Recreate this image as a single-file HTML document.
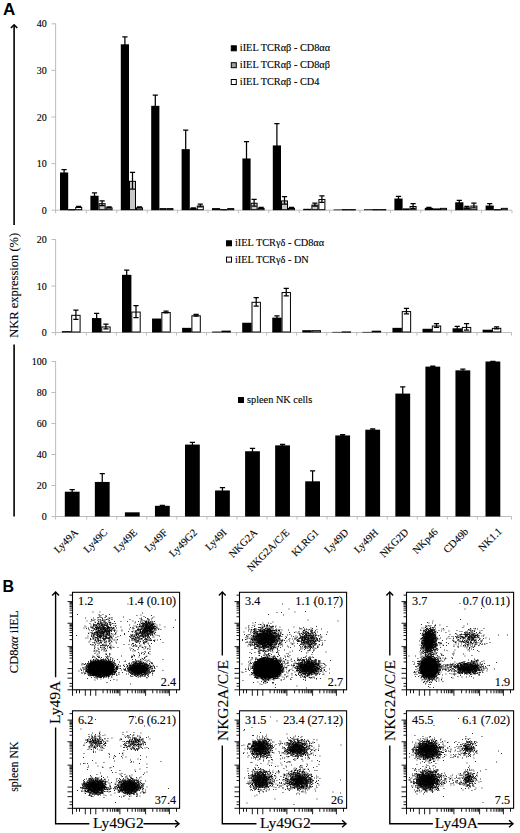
<!DOCTYPE html>
<html><head><meta charset="utf-8"><title>Figure</title>
<style>html,body{margin:0;padding:0;background:#fff;}body{width:520px;height:833px;overflow:hidden;font-family:"Liberation Serif",serif;}svg{display:block}</style>
</head><body><svg width="520" height="833" viewBox="0 0 520 833"><path d="M55.6 23.6V213.2M56.0 210.2H512" stroke="#bdbdbd" stroke-width="1" fill="none"/><path d="M51.5 210.2H56.0M51.5 163.6H56.0M51.5 117H56.0M51.5 70.4H56.0M51.5 23.8H56.0M86.4 210.2v3M116.8 210.2v3M147.2 210.2v3M177.6 210.2v3M208 210.2v3M238.4 210.2v3M268.8 210.2v3M299.2 210.2v3M329.6 210.2v3M360 210.2v3M390.4 210.2v3M420.8 210.2v3M451.2 210.2v3M481.6 210.2v3M512 210.2v3" stroke="#bdbdbd" stroke-width="1" fill="none"/><text x="46.7" y="213.7" text-anchor="end" font-size="10" font-family="Liberation Serif" stroke="#000" stroke-width=".12">0</text><text x="46.7" y="167.1" text-anchor="end" font-size="10" font-family="Liberation Serif" stroke="#000" stroke-width=".12">10</text><text x="46.7" y="120.5" text-anchor="end" font-size="10" font-family="Liberation Serif" stroke="#000" stroke-width=".12">20</text><text x="46.7" y="73.9" text-anchor="end" font-size="10" font-family="Liberation Serif" stroke="#000" stroke-width=".12">30</text><text x="46.7" y="27.3" text-anchor="end" font-size="10" font-family="Liberation Serif" stroke="#000" stroke-width=".12">40</text><rect x="60" y="172.45" width="8.2" height="37.75" fill="#000"/><path d="M64.1 169.66V175.25M61.5 169.66h5.2M61.5 175.25h5.2" stroke="#000" stroke-width="1.25" fill="none"/><rect x="68.7" y="209.6" width="6" height="0.3" fill="#c8c8c8" stroke="#000" stroke-width="1"/><rect x="75.7" y="207.44" width="6" height="2.26" fill="#fff" stroke="#000" stroke-width="1"/><path d="M78.7 206.47V207.4M76.1 206.47h5.2M76.1 207.4h5.2" stroke="#000" stroke-width="1.25" fill="none"/><rect x="90.4" y="195.75" width="8.2" height="14.45" fill="#000"/><path d="M94.5 192.96V198.55M91.9 192.96h5.2M91.9 198.55h5.2" stroke="#000" stroke-width="1.25" fill="none"/><rect x="99.1" y="203.71" width="6" height="5.99" fill="#c8c8c8" stroke="#000" stroke-width="1"/><path d="M102.1 200.88V205.54M99.5 200.88h5.2M99.5 205.54h5.2" stroke="#000" stroke-width="1.25" fill="none"/><rect x="106.1" y="207.9" width="6" height="1.8" fill="#fff" stroke="#000" stroke-width="1"/><path d="M109.1 206.94V207.87M106.5 206.94h5.2M106.5 207.87h5.2" stroke="#000" stroke-width="1.25" fill="none"/><rect x="120.8" y="44.3" width="8.2" height="165.9" fill="#000"/><path d="M124.9 36.85V51.76M122.3 36.85h5.2M122.3 51.76h5.2" stroke="#000" stroke-width="1.25" fill="none"/><rect x="129.5" y="181.34" width="6" height="28.36" fill="#c8c8c8" stroke="#000" stroke-width="1"/><path d="M132.5 172.45V189.23M129.9 172.45h5.2M129.9 189.23h5.2" stroke="#000" stroke-width="1.25" fill="none"/><rect x="136.5" y="207.9" width="6" height="1.8" fill="#fff" stroke="#000" stroke-width="1"/><path d="M139.5 206.94V207.87M136.9 206.94h5.2M136.9 207.87h5.2" stroke="#000" stroke-width="1.25" fill="none"/><rect x="151.2" y="105.82" width="8.2" height="104.38" fill="#000"/><path d="M155.3 95.1V116.53M152.7 95.1h5.2M152.7 116.53h5.2" stroke="#000" stroke-width="1.25" fill="none"/><rect x="159.9" y="208.6" width="6" height="1.1" fill="#c8c8c8" stroke="#000" stroke-width="1"/><rect x="166.9" y="208.6" width="6" height="1.1" fill="#fff" stroke="#000" stroke-width="1"/><rect x="181.6" y="149.15" width="8.2" height="61.05" fill="#000"/><path d="M185.7 130.05V168.26M183.1 130.05h5.2M183.1 168.26h5.2" stroke="#000" stroke-width="1.25" fill="none"/><rect x="190.3" y="208.84" width="6" height="0.86" fill="#c8c8c8" stroke="#000" stroke-width="1"/><path d="M193.3 207.87V208.8M190.7 207.87h5.2M190.7 208.8h5.2" stroke="#000" stroke-width="1.25" fill="none"/><rect x="197.3" y="206.04" width="6" height="3.66" fill="#fff" stroke="#000" stroke-width="1"/><path d="M200.3 204.14V206.94M197.7 204.14h5.2M197.7 206.94h5.2" stroke="#000" stroke-width="1.25" fill="none"/><rect x="212" y="208.1" width="8.2" height="2.1" fill="#000"/><rect x="220.7" y="209.6" width="6" height="0.3" fill="#c8c8c8" stroke="#000" stroke-width="1"/><rect x="227.7" y="208.6" width="6" height="1.1" fill="#fff" stroke="#000" stroke-width="1"/><rect x="242.4" y="158.47" width="8.2" height="51.73" fill="#000"/><path d="M246.5 141.7V175.25M243.9 141.7h5.2M243.9 175.25h5.2" stroke="#000" stroke-width="1.25" fill="none"/><rect x="251.1" y="203.24" width="6" height="6.46" fill="#c8c8c8" stroke="#000" stroke-width="1"/><path d="M254.1 199.48V206.01M251.5 199.48h5.2M251.5 206.01h5.2" stroke="#000" stroke-width="1.25" fill="none"/><rect x="258.1" y="208.37" width="6" height="1.33" fill="#fff" stroke="#000" stroke-width="1"/><path d="M261.1 207.4V208.34M258.5 207.4h5.2M258.5 208.34h5.2" stroke="#000" stroke-width="1.25" fill="none"/><rect x="272.8" y="145.43" width="8.2" height="64.77" fill="#000"/><path d="M276.9 123.52V167.33M274.3 123.52h5.2M274.3 167.33h5.2" stroke="#000" stroke-width="1.25" fill="none"/><rect x="281.5" y="200.91" width="6" height="8.79" fill="#c8c8c8" stroke="#000" stroke-width="1"/><path d="M284.5 196.69V204.14M281.9 196.69h5.2M281.9 204.14h5.2" stroke="#000" stroke-width="1.25" fill="none"/><rect x="288.5" y="208.37" width="6" height="1.33" fill="#fff" stroke="#000" stroke-width="1"/><path d="M291.5 207.4V208.34M288.9 207.4h5.2M288.9 208.34h5.2" stroke="#000" stroke-width="1.25" fill="none"/><rect x="303.2" y="208.8" width="8.2" height="1.4" fill="#000"/><rect x="311.9" y="205.11" width="6" height="4.59" fill="#c8c8c8" stroke="#000" stroke-width="1"/><path d="M314.9 203.21V206.01M312.3 203.21h5.2M312.3 206.01h5.2" stroke="#000" stroke-width="1.25" fill="none"/><rect x="318.9" y="199.52" width="6" height="10.18" fill="#fff" stroke="#000" stroke-width="1"/><path d="M321.9 195.75V202.28M319.3 195.75h5.2M319.3 202.28h5.2" stroke="#000" stroke-width="1.25" fill="none"/><rect x="333.6" y="209.5" width="8.2" height="0.7" fill="#000"/><rect x="342.3" y="209.6" width="6" height="0.3" fill="#c8c8c8" stroke="#000" stroke-width="1"/><rect x="349.3" y="209.6" width="6" height="0.3" fill="#fff" stroke="#000" stroke-width="1"/><rect x="364" y="209.27" width="8.2" height="0.93" fill="#000"/><rect x="372.7" y="209.6" width="6" height="0.3" fill="#c8c8c8" stroke="#000" stroke-width="1"/><rect x="379.7" y="209.6" width="6" height="0.3" fill="#fff" stroke="#000" stroke-width="1"/><rect x="394.4" y="198.55" width="8.2" height="11.65" fill="#000"/><path d="M398.5 196.45V200.65M395.9 196.45h5.2M395.9 200.65h5.2" stroke="#000" stroke-width="1.25" fill="none"/><rect x="403.1" y="208.9" width="6" height="0.8" fill="#c8c8c8" stroke="#000" stroke-width="1"/><rect x="410.1" y="206.51" width="6" height="3.19" fill="#fff" stroke="#000" stroke-width="1"/><path d="M413.1 203.68V208.34M410.5 203.68h5.2M410.5 208.34h5.2" stroke="#000" stroke-width="1.25" fill="none"/><rect x="424.8" y="207.87" width="8.2" height="2.33" fill="#000"/><path d="M428.9 207.4V208.34M426.3 207.4h5.2M426.3 208.34h5.2" stroke="#000" stroke-width="1.25" fill="none"/><rect x="433.5" y="208.9" width="6" height="0.8" fill="#c8c8c8" stroke="#000" stroke-width="1"/><rect x="440.5" y="208.37" width="6" height="1.33" fill="#fff" stroke="#000" stroke-width="1"/><rect x="455.2" y="202.28" width="8.2" height="7.92" fill="#000"/><path d="M459.3 200.41V204.14M456.7 200.41h5.2M456.7 204.14h5.2" stroke="#000" stroke-width="1.25" fill="none"/><rect x="463.9" y="207.9" width="6" height="1.8" fill="#c8c8c8" stroke="#000" stroke-width="1"/><path d="M466.9 206.47V208.34M464.3 206.47h5.2M464.3 208.34h5.2" stroke="#000" stroke-width="1.25" fill="none"/><rect x="470.9" y="206.04" width="6" height="3.66" fill="#fff" stroke="#000" stroke-width="1"/><path d="M473.9 203.21V207.87M471.3 203.21h5.2M471.3 207.87h5.2" stroke="#000" stroke-width="1.25" fill="none"/><rect x="485.6" y="205.54" width="8.2" height="4.66" fill="#000"/><path d="M489.7 203.68V207.4M487.1 203.68h5.2M487.1 207.4h5.2" stroke="#000" stroke-width="1.25" fill="none"/><rect x="494.3" y="209.6" width="6" height="0.3" fill="#c8c8c8" stroke="#000" stroke-width="1"/><rect x="501.3" y="208.37" width="6" height="1.33" fill="#fff" stroke="#000" stroke-width="1"/><path d="M55.6 239.5V335.5M56.0 332.5H511.5" stroke="#bdbdbd" stroke-width="1" fill="none"/><path d="M51.5 332.5H56.0M51.5 286H56.0M51.5 239.5H56.0M86.33 332.5v3M116.38 332.5v3M146.43 332.5v3M176.48 332.5v3M206.53 332.5v3M236.58 332.5v3M266.63 332.5v3M296.68 332.5v3M326.73 332.5v3M356.78 332.5v3M386.83 332.5v3M416.88 332.5v3M446.93 332.5v3M476.98 332.5v3M511.5 332.5v3" stroke="#bdbdbd" stroke-width="1" fill="none"/><text x="46.7" y="336" text-anchor="end" font-size="10" font-family="Liberation Serif" stroke="#000" stroke-width=".12">0</text><text x="46.7" y="289.5" text-anchor="end" font-size="10" font-family="Liberation Serif" stroke="#000" stroke-width=".12">10</text><text x="46.7" y="243" text-anchor="end" font-size="10" font-family="Liberation Serif" stroke="#000" stroke-width=".12">20</text><rect x="61.9" y="331.11" width="9.4" height="1.4" fill="#000"/><rect x="71.7" y="315.33" width="8.4" height="16.67" fill="#fff" stroke="#000" stroke-width="1"/><path d="M75.9 310.18V319.48M73.3 310.18h5.2M73.3 319.48h5.2" stroke="#000" stroke-width="1.25" fill="none"/><rect x="91.95" y="318.08" width="9.4" height="14.42" fill="#000"/><path d="M96.65 313.44V322.73M94.05 313.44h5.2M94.05 322.73h5.2" stroke="#000" stroke-width="1.25" fill="none"/><rect x="101.75" y="326.95" width="8.4" height="5.05" fill="#fff" stroke="#000" stroke-width="1"/><path d="M105.95 324.13V328.78M103.35 324.13h5.2M103.35 328.78h5.2" stroke="#000" stroke-width="1.25" fill="none"/><rect x="122" y="274.84" width="9.4" height="57.66" fill="#000"/><path d="M126.7 270.19V279.49M124.1 270.19h5.2M124.1 279.49h5.2" stroke="#000" stroke-width="1.25" fill="none"/><rect x="131.8" y="312.07" width="8.4" height="19.93" fill="#fff" stroke="#000" stroke-width="1"/><path d="M136 305.53V317.62M133.4 305.53h5.2M133.4 317.62h5.2" stroke="#000" stroke-width="1.25" fill="none"/><rect x="152.05" y="318.55" width="9.4" height="13.95" fill="#000"/><rect x="161.85" y="312.54" width="8.4" height="19.46" fill="#fff" stroke="#000" stroke-width="1"/><path d="M166.05 311.11V312.97M163.45 311.11h5.2M163.45 312.97h5.2" stroke="#000" stroke-width="1.25" fill="none"/><rect x="182.1" y="327.85" width="9.4" height="4.65" fill="#000"/><rect x="191.9" y="315.8" width="8.4" height="16.21" fill="#fff" stroke="#000" stroke-width="1"/><path d="M196.1 314.37V316.23M193.5 314.37h5.2M193.5 316.23h5.2" stroke="#000" stroke-width="1.25" fill="none"/><rect x="212.15" y="331.57" width="9.4" height="0.93" fill="#000"/><rect x="221.95" y="331.14" width="8.4" height="0.86" fill="#fff" stroke="#000" stroke-width="1"/><rect x="242.2" y="322.74" width="9.4" height="9.77" fill="#000"/><rect x="252" y="302.31" width="8.4" height="29.69" fill="#fff" stroke="#000" stroke-width="1"/><path d="M256.2 297.62V306M253.6 297.62h5.2M253.6 306h5.2" stroke="#000" stroke-width="1.25" fill="none"/><rect x="272.25" y="317.62" width="9.4" height="14.88" fill="#000"/><path d="M276.95 315.76V319.48M274.35 315.76h5.2M274.35 319.48h5.2" stroke="#000" stroke-width="1.25" fill="none"/><rect x="282.05" y="292.55" width="8.4" height="39.45" fill="#fff" stroke="#000" stroke-width="1"/><path d="M286.25 288.32V295.77M283.65 288.32h5.2M283.65 295.77h5.2" stroke="#000" stroke-width="1.25" fill="none"/><rect x="302.3" y="330.18" width="9.4" height="2.33" fill="#000"/><rect x="312.1" y="330.68" width="8.4" height="1.33" fill="#fff" stroke="#000" stroke-width="1"/><rect x="332.35" y="331.9" width="9.4" height="0.6" fill="#000"/><rect x="342.15" y="331.9" width="8.4" height="0.3" fill="#fff" stroke="#000" stroke-width="1"/><rect x="362.4" y="331.9" width="9.4" height="0.6" fill="#000"/><rect x="372.2" y="331.2" width="8.4" height="0.8" fill="#fff" stroke="#000" stroke-width="1"/><rect x="392.45" y="327.85" width="9.4" height="4.65" fill="#000"/><rect x="402.25" y="311.61" width="8.4" height="20.39" fill="#fff" stroke="#000" stroke-width="1"/><path d="M406.45 308.32V313.9M403.85 308.32h5.2M403.85 313.9h5.2" stroke="#000" stroke-width="1.25" fill="none"/><rect x="422.5" y="328.78" width="9.4" height="3.72" fill="#000"/><rect x="432.3" y="326.02" width="8.4" height="5.98" fill="#fff" stroke="#000" stroke-width="1"/><path d="M436.5 323.66V327.38M433.9 323.66h5.2M433.9 327.38h5.2" stroke="#000" stroke-width="1.25" fill="none"/><rect x="452.55" y="328.31" width="9.4" height="4.19" fill="#000"/><path d="M457.25 326.45V330.18M454.65 326.45h5.2M454.65 330.18h5.2" stroke="#000" stroke-width="1.25" fill="none"/><rect x="462.35" y="327.42" width="8.4" height="4.58" fill="#fff" stroke="#000" stroke-width="1"/><path d="M466.55 323.67V330.18M463.95 323.67h5.2M463.95 330.18h5.2" stroke="#000" stroke-width="1.25" fill="none"/><rect x="482.6" y="329.71" width="9.4" height="2.79" fill="#000"/><rect x="492.4" y="328.35" width="8.4" height="3.65" fill="#fff" stroke="#000" stroke-width="1"/><path d="M496.6 326.92V328.78M494 326.92h5.2M494 328.78h5.2" stroke="#000" stroke-width="1.25" fill="none"/><path d="M55.6 361.5V519.5M56.0 516.5H511.5" stroke="#bdbdbd" stroke-width="1" fill="none"/><path d="M51.5 516.5H56.0M51.5 485.5H56.0M51.5 454.5H56.0M51.5 423.5H56.0M51.5 392.5H56.0M51.5 361.5H56.0M86.7 516.5v3M116.75 516.5v3M146.8 516.5v3M176.85 516.5v3M206.9 516.5v3M236.95 516.5v3M267 516.5v3M297.05 516.5v3M327.1 516.5v3M357.15 516.5v3M387.2 516.5v3M417.25 516.5v3M447.3 516.5v3M477.35 516.5v3M511.5 516.5v3" stroke="#bdbdbd" stroke-width="1" fill="none"/><text x="46.7" y="520" text-anchor="end" font-size="10" font-family="Liberation Serif" stroke="#000" stroke-width=".12">0</text><text x="46.7" y="489" text-anchor="end" font-size="10" font-family="Liberation Serif" stroke="#000" stroke-width=".12">20</text><text x="46.7" y="458" text-anchor="end" font-size="10" font-family="Liberation Serif" stroke="#000" stroke-width=".12">40</text><text x="46.7" y="427" text-anchor="end" font-size="10" font-family="Liberation Serif" stroke="#000" stroke-width=".12">60</text><text x="46.7" y="396" text-anchor="end" font-size="10" font-family="Liberation Serif" stroke="#000" stroke-width=".12">80</text><text x="46.7" y="365" text-anchor="end" font-size="10" font-family="Liberation Serif" stroke="#000" stroke-width=".12">100</text><rect x="64.8" y="491.7" width="14.8" height="24.8" fill="#000"/><path d="M72.2 489.53V493.87M69.6 489.53h5.2M69.6 493.87h5.2" stroke="#000" stroke-width="1.25" fill="none"/><rect x="94.85" y="481.94" width="14.8" height="34.57" fill="#000"/><path d="M102.25 473.72V490.15M99.65 473.72h5.2M99.65 490.15h5.2" stroke="#000" stroke-width="1.25" fill="none"/><rect x="124.9" y="512.32" width="14.8" height="4.19" fill="#000"/><rect x="154.95" y="505.81" width="14.8" height="10.7" fill="#000"/><path d="M162.35 505.34V506.27M159.75 505.34h5.2M159.75 506.27h5.2" stroke="#000" stroke-width="1.25" fill="none"/><rect x="185" y="444.58" width="14.8" height="71.92" fill="#000"/><path d="M192.4 442.25V446.9M189.8 442.25h5.2M189.8 446.9h5.2" stroke="#000" stroke-width="1.25" fill="none"/><rect x="215.05" y="490.46" width="14.8" height="26.04" fill="#000"/><path d="M222.45 487.67V493.25M219.85 487.67h5.2M219.85 493.25h5.2" stroke="#000" stroke-width="1.25" fill="none"/><rect x="245.1" y="451.25" width="14.8" height="65.26" fill="#000"/><path d="M252.5 448.45V454.04M249.9 448.45h5.2M249.9 454.04h5.2" stroke="#000" stroke-width="1.25" fill="none"/><rect x="275.15" y="445.36" width="14.8" height="71.14" fill="#000"/><path d="M282.55 444.27V446.44M279.95 444.27h5.2M279.95 446.44h5.2" stroke="#000" stroke-width="1.25" fill="none"/><rect x="305.2" y="481.31" width="14.8" height="35.19" fill="#000"/><path d="M312.6 470.77V491.86M310 470.77h5.2M310 491.86h5.2" stroke="#000" stroke-width="1.25" fill="none"/><rect x="335.25" y="435.44" width="14.8" height="81.06" fill="#000"/><path d="M342.65 434.66V436.21M340.05 434.66h5.2M340.05 436.21h5.2" stroke="#000" stroke-width="1.25" fill="none"/><rect x="365.3" y="429.7" width="14.8" height="86.8" fill="#000"/><path d="M372.7 428.93V430.47M370.1 428.93h5.2M370.1 430.47h5.2" stroke="#000" stroke-width="1.25" fill="none"/><rect x="395.35" y="393.59" width="14.8" height="122.91" fill="#000"/><path d="M402.75 386.92V400.25M400.15 386.92h5.2M400.15 400.25h5.2" stroke="#000" stroke-width="1.25" fill="none"/><rect x="425.4" y="366.62" width="14.8" height="149.89" fill="#000"/><path d="M432.8 366.15V367.08M430.2 366.15h5.2M430.2 367.08h5.2" stroke="#000" stroke-width="1.25" fill="none"/><rect x="455.45" y="370.34" width="14.8" height="146.16" fill="#000"/><path d="M462.85 369.1V371.58M460.25 369.1h5.2M460.25 371.58h5.2" stroke="#000" stroke-width="1.25" fill="none"/><rect x="485.5" y="361.5" width="14.8" height="155" fill="#000"/><path d="M492.9 361.35V361.65M490.3 361.35h5.2M490.3 361.65h5.2" stroke="#000" stroke-width="1.25" fill="none"/><rect x="231.3" y="45.8" width="5" height="5" fill="#000" stroke="#000" stroke-width="1"/><text x="239.8" y="51.3" font-size="10.3" font-family="Liberation Serif" stroke="#000" stroke-width=".12">iIEL TCRαβ - CD8αα</text><rect x="231.3" y="62.7" width="5" height="5" fill="#a0a0a0" stroke="#000" stroke-width="1"/><text x="239.8" y="68.2" font-size="10.3" font-family="Liberation Serif" stroke="#000" stroke-width=".12">iIEL TCRαβ - CD8αβ</text><rect x="231.3" y="79.5" width="5" height="5" fill="#fff" stroke="#000" stroke-width="1"/><text x="239.8" y="85" font-size="10.3" font-family="Liberation Serif" stroke="#000" stroke-width=".12">iIEL TCRαβ - CD4</text><rect x="226.5" y="240.8" width="5" height="5" fill="#000" stroke="#000" stroke-width="1"/><text x="235" y="246.3" font-size="10.3" font-family="Liberation Serif" stroke="#000" stroke-width=".12">iIEL TCRγδ - CD8αα</text><rect x="226.5" y="257.1" width="5" height="5" fill="#fff" stroke="#000" stroke-width="1"/><text x="235" y="262.6" font-size="10.3" font-family="Liberation Serif" stroke="#000" stroke-width=".12">iIEL TCRγδ - DN</text><rect x="238.5" y="397.5" width="5" height="5" fill="#000" stroke="#000" stroke-width="1"/><text x="247" y="403" font-size="10.3" font-family="Liberation Serif" stroke="#000" stroke-width=".12">spleen NK cells</text><text transform="translate(73.2,527.6) rotate(-45)" text-anchor="end" font-size="10.5" font-family="Liberation Serif" stroke="#000" stroke-width=".12" dy="0.75em">Ly49A</text><text transform="translate(102.5,527.6) rotate(-45)" text-anchor="end" font-size="10.5" font-family="Liberation Serif" stroke="#000" stroke-width=".12" dy="0.75em">Ly49C</text><text transform="translate(132.2,527.6) rotate(-45)" text-anchor="end" font-size="10.5" font-family="Liberation Serif" stroke="#000" stroke-width=".12" dy="0.75em">Ly49E</text><text transform="translate(162.6,527.6) rotate(-45)" text-anchor="end" font-size="10.5" font-family="Liberation Serif" stroke="#000" stroke-width=".12" dy="0.75em">Ly49F</text><text transform="translate(192.1,527.6) rotate(-45)" text-anchor="end" font-size="10.5" font-family="Liberation Serif" stroke="#000" stroke-width=".12" dy="0.75em">Ly49G2</text><text transform="translate(221.6,527.6) rotate(-45)" text-anchor="end" font-size="10.5" font-family="Liberation Serif" stroke="#000" stroke-width=".12" dy="0.75em">Ly49I</text><text transform="translate(252.5,527.6) rotate(-45)" text-anchor="end" font-size="10.5" font-family="Liberation Serif" stroke="#000" stroke-width=".12" dy="0.75em">NKG2A</text><text transform="translate(284.5,527.6) rotate(-45)" text-anchor="end" font-size="10.5" font-family="Liberation Serif" stroke="#000" stroke-width=".12" dy="0.75em">NKG2A/C/E</text><text transform="translate(314,527.6) rotate(-45)" text-anchor="end" font-size="10.5" font-family="Liberation Serif" stroke="#000" stroke-width=".12" dy="0.75em">KLRG1</text><text transform="translate(343.6,527.6) rotate(-45)" text-anchor="end" font-size="10.5" font-family="Liberation Serif" stroke="#000" stroke-width=".12" dy="0.75em">Ly49D</text><text transform="translate(373.3,527.6) rotate(-45)" text-anchor="end" font-size="10.5" font-family="Liberation Serif" stroke="#000" stroke-width=".12" dy="0.75em">Ly49H</text><text transform="translate(403.5,527.3) rotate(-45)" text-anchor="end" font-size="10.5" font-family="Liberation Serif" stroke="#000" stroke-width=".12" dy="0.75em">NKG2D</text><text transform="translate(433,527) rotate(-45)" text-anchor="end" font-size="10.5" font-family="Liberation Serif" stroke="#000" stroke-width=".12" dy="0.75em">NKp46</text><text transform="translate(463.5,526.7) rotate(-45)" text-anchor="end" font-size="10.5" font-family="Liberation Serif" stroke="#000" stroke-width=".12" dy="0.75em">CD49b</text><text transform="translate(497,526.4) rotate(-45)" text-anchor="end" font-size="10.5" font-family="Liberation Serif" stroke="#000" stroke-width=".12" dy="0.75em">NK1.1</text><text x="3" y="14.5" font-size="17" font-weight="bold" font-family="Liberation Sans">A</text><path d="M14.1 25V225M14.1 344.6V516.5" stroke="#000" stroke-width="1.6" fill="none"/><path d="M10.9 28L14.1 24.8L17.3 28" stroke="#000" stroke-width="1.6" fill="none"/><text transform="translate(18.1,285.3) rotate(-90)" text-anchor="middle" font-size="12.5" font-family="Liberation Serif" stroke="#000" stroke-width=".12">NKR expression (%)</text><text x="2.5" y="592.3" font-size="16" font-weight="bold" font-family="Liberation Sans">B</text><rect x="87.5" y="661.2" width="26.8" height="14.4" rx="9" ry="6.5" fill="#000"/><ellipse cx="138.8" cy="669" rx="9" ry="4.6" fill="#000"/><path transform="scale(.5)" d="M152 1271h1.8M154 1229h1.8M157 1342h1.8M160 1338h1.8M162 1340h1.8M162 1341h1.8M163 1328h1.8M163 1330h1.8M163 1345h1.8M163 1347h1.8M165 1327h1.8M165 1335h1.8M165 1336h1.8M166 1340h1.8M166 1344h1.8M167 1256h1.8M167 1329h1.8M167 1336h1.8M167 1338h1.8M168 1329h1.8M168 1346h1.8M168 1348h1.8M169 1252h1.8M169 1334h1.8M169 1339h1.8M170 1236h1.8M170 1327h1.8M170 1328h1.8M170 1336h1.8M170 1338h1.8M170 1344h1.8M170 1347h1.8M171 1254h1.8M171 1276h1.8M171 1333h1.8M171 1341h1.8M171 1342h1.8M171 1343h1.8M172 1257h1.8M172 1331h1.8M172 1334h1.8M172 1336h1.8M172 1337h1.8M172 1338h1.8M172 1340h1.8M172 1342h1.8M172 1343h1.8M173 1242h1.8M173 1329h1.8M173 1332h1.8M173 1333h1.8M173 1334h1.8M173 1336h1.8M173 1339h1.8M173 1340h1.8M173 1341h1.8M173 1342h1.8M173 1343h1.8M173 1346h1.8M174 1327h1.8M174 1328h1.8M174 1332h1.8M174 1334h1.8M174 1339h1.8M174 1340h1.8M174 1343h1.8M174 1344h1.8M174 1345h1.8M174 1357h1.8M175 1272h1.8M175 1276h1.8M175 1327h1.8M175 1328h1.8M175 1331h1.8M175 1332h1.8M175 1335h1.8M175 1336h1.8M175 1339h1.8M175 1341h1.8M175 1346h1.8M175 1349h1.8M176 1256h1.8M176 1258h1.8M176 1267h1.8M176 1323h1.8M176 1324h1.8M176 1326h1.8M176 1330h1.8M176 1331h1.8M176 1332h1.8M176 1333h1.8M176 1335h1.8M176 1337h1.8M176 1338h1.8M176 1339h1.8M176 1342h1.8M176 1344h1.8M176 1345h1.8M176 1346h1.8M176 1351h1.8M177 1266h1.8M177 1284h1.8M177 1328h1.8M177 1329h1.8M177 1331h1.8M177 1332h1.8M177 1333h1.8M177 1335h1.8M177 1336h1.8M177 1338h1.8M177 1339h1.8M177 1340h1.8M177 1341h1.8M177 1342h1.8M177 1343h1.8M177 1344h1.8M177 1345h1.8M177 1347h1.8M177 1348h1.8M177 1349h1.8M178 1260h1.8M178 1327h1.8M178 1328h1.8M178 1329h1.8M178 1330h1.8M178 1331h1.8M178 1334h1.8M178 1335h1.8M178 1336h1.8M178 1341h1.8M178 1343h1.8M178 1344h1.8M178 1346h1.8M178 1350h1.8M179 1247h1.8M179 1282h1.8M179 1326h1.8M179 1328h1.8M179 1330h1.8M179 1331h1.8M179 1332h1.8M179 1333h1.8M179 1334h1.8M179 1337h1.8M179 1338h1.8M179 1339h1.8M179 1340h1.8M179 1341h1.8M179 1342h1.8M179 1343h1.8M179 1345h1.8M179 1346h1.8M179 1347h1.8M179 1348h1.8M179 1350h1.8M179 1352h1.8M180 1277h1.8M180 1279h1.8M180 1289h1.8M180 1321h1.8M180 1322h1.8M180 1324h1.8M180 1325h1.8M180 1327h1.8M180 1333h1.8M180 1335h1.8M180 1336h1.8M180 1337h1.8M180 1338h1.8M180 1342h1.8M180 1343h1.8M180 1345h1.8M180 1346h1.8M180 1350h1.8M180 1351h1.8M181 1243h1.8M181 1250h1.8M181 1253h1.8M181 1255h1.8M181 1265h1.8M181 1279h1.8M181 1320h1.8M181 1323h1.8M181 1325h1.8M181 1328h1.8M181 1329h1.8M181 1330h1.8M181 1331h1.8M181 1332h1.8M181 1334h1.8M181 1336h1.8M181 1338h1.8M181 1340h1.8M181 1343h1.8M181 1344h1.8M181 1348h1.8M181 1349h1.8M181 1350h1.8M182 1239h1.8M182 1261h1.8M182 1268h1.8M182 1271h1.8M182 1273h1.8M182 1323h1.8M182 1324h1.8M182 1325h1.8M182 1328h1.8M182 1329h1.8M182 1334h1.8M182 1336h1.8M182 1337h1.8M182 1339h1.8M182 1340h1.8M182 1341h1.8M182 1343h1.8M182 1345h1.8M182 1346h1.8M182 1347h1.8M182 1351h1.8M182 1355h1.8M183 1241h1.8M183 1255h1.8M183 1256h1.8M183 1265h1.8M183 1268h1.8M183 1290h1.8M183 1322h1.8M183 1326h1.8M183 1328h1.8M183 1330h1.8M183 1331h1.8M183 1333h1.8M183 1334h1.8M183 1335h1.8M183 1338h1.8M183 1339h1.8M183 1340h1.8M183 1341h1.8M183 1342h1.8M183 1343h1.8M183 1344h1.8M183 1345h1.8M183 1346h1.8M183 1347h1.8M183 1350h1.8M183 1351h1.8M184 1254h1.8M184 1256h1.8M184 1262h1.8M184 1267h1.8M184 1274h1.8M184 1315h1.8M184 1322h1.8M184 1325h1.8M184 1327h1.8M184 1328h1.8M184 1330h1.8M184 1332h1.8M184 1333h1.8M184 1335h1.8M184 1336h1.8M184 1337h1.8M184 1338h1.8M184 1339h1.8M184 1343h1.8M184 1345h1.8M184 1347h1.8M184 1350h1.8M184 1351h1.8M185 1224h1.8M185 1240h1.8M185 1256h1.8M185 1266h1.8M185 1270h1.8M185 1276h1.8M185 1278h1.8M185 1285h1.8M185 1289h1.8M185 1290h1.8M185 1312h1.8M185 1314h1.8M185 1323h1.8M185 1324h1.8M185 1326h1.8M185 1327h1.8M185 1328h1.8M185 1331h1.8M185 1332h1.8M185 1333h1.8M185 1334h1.8M185 1335h1.8M185 1337h1.8M185 1338h1.8M185 1339h1.8M185 1341h1.8M185 1343h1.8M185 1344h1.8M185 1346h1.8M185 1347h1.8M185 1350h1.8M186 1236h1.8M186 1248h1.8M186 1249h1.8M186 1251h1.8M186 1254h1.8M186 1261h1.8M186 1268h1.8M186 1271h1.8M186 1273h1.8M186 1276h1.8M186 1278h1.8M186 1319h1.8M186 1321h1.8M186 1323h1.8M186 1324h1.8M186 1325h1.8M186 1326h1.8M186 1331h1.8M186 1334h1.8M186 1335h1.8M186 1336h1.8M186 1337h1.8M186 1338h1.8M186 1339h1.8M186 1340h1.8M186 1341h1.8M186 1342h1.8M186 1343h1.8M186 1344h1.8M186 1351h1.8M186 1352h1.8M187 1241h1.8M187 1250h1.8M187 1251h1.8M187 1253h1.8M187 1257h1.8M187 1258h1.8M187 1267h1.8M187 1269h1.8M187 1271h1.8M187 1277h1.8M187 1302h1.8M187 1313h1.8M187 1319h1.8M187 1323h1.8M187 1324h1.8M187 1325h1.8M187 1326h1.8M187 1329h1.8M187 1330h1.8M187 1331h1.8M187 1333h1.8M187 1334h1.8M187 1335h1.8M187 1337h1.8M187 1341h1.8M187 1342h1.8M187 1343h1.8M187 1345h1.8M187 1349h1.8M187 1350h1.8M187 1351h1.8M188 1250h1.8M188 1257h1.8M188 1259h1.8M188 1265h1.8M188 1266h1.8M188 1269h1.8M188 1274h1.8M188 1285h1.8M188 1286h1.8M188 1292h1.8M188 1297h1.8M188 1302h1.8M188 1322h1.8M188 1324h1.8M188 1325h1.8M188 1327h1.8M188 1328h1.8M188 1330h1.8M188 1332h1.8M188 1333h1.8M188 1336h1.8M188 1338h1.8M188 1340h1.8M188 1341h1.8M188 1342h1.8M188 1344h1.8M188 1345h1.8M188 1346h1.8M188 1347h1.8M188 1348h1.8M188 1349h1.8M188 1355h1.8M189 1239h1.8M189 1244h1.8M189 1249h1.8M189 1265h1.8M189 1268h1.8M189 1272h1.8M189 1280h1.8M189 1282h1.8M189 1292h1.8M189 1295h1.8M189 1300h1.8M189 1307h1.8M189 1315h1.8M189 1321h1.8M189 1327h1.8M189 1329h1.8M189 1330h1.8M189 1331h1.8M189 1333h1.8M189 1334h1.8M189 1335h1.8M189 1336h1.8M189 1337h1.8M189 1339h1.8M189 1341h1.8M189 1342h1.8M189 1344h1.8M189 1345h1.8M189 1348h1.8M189 1350h1.8M189 1351h1.8M189 1352h1.8M189 1360h1.8M190 1245h1.8M190 1250h1.8M190 1254h1.8M190 1255h1.8M190 1256h1.8M190 1260h1.8M190 1265h1.8M190 1268h1.8M190 1275h1.8M190 1279h1.8M190 1281h1.8M190 1289h1.8M190 1320h1.8M190 1321h1.8M190 1322h1.8M190 1323h1.8M190 1324h1.8M190 1326h1.8M190 1328h1.8M190 1329h1.8M190 1330h1.8M190 1331h1.8M190 1334h1.8M190 1335h1.8M190 1336h1.8M190 1337h1.8M190 1338h1.8M190 1339h1.8M190 1340h1.8M190 1341h1.8M190 1342h1.8M190 1344h1.8M190 1346h1.8M190 1347h1.8M190 1348h1.8M190 1351h1.8M191 1251h1.8M191 1253h1.8M191 1259h1.8M191 1263h1.8M191 1268h1.8M191 1275h1.8M191 1276h1.8M191 1278h1.8M191 1281h1.8M191 1286h1.8M191 1304h1.8M191 1318h1.8M191 1322h1.8M191 1324h1.8M191 1327h1.8M191 1328h1.8M191 1329h1.8M191 1331h1.8M191 1333h1.8M191 1334h1.8M191 1335h1.8M191 1336h1.8M191 1337h1.8M191 1338h1.8M191 1340h1.8M191 1341h1.8M191 1342h1.8M191 1343h1.8M191 1345h1.8M191 1346h1.8M191 1348h1.8M191 1350h1.8M191 1351h1.8M191 1353h1.8M191 1354h1.8M191 1356h1.8M192 1250h1.8M192 1251h1.8M192 1252h1.8M192 1255h1.8M192 1256h1.8M192 1257h1.8M192 1258h1.8M192 1259h1.8M192 1263h1.8M192 1265h1.8M192 1266h1.8M192 1270h1.8M192 1275h1.8M192 1283h1.8M192 1317h1.8M192 1322h1.8M192 1323h1.8M192 1324h1.8M192 1326h1.8M192 1327h1.8M192 1329h1.8M192 1330h1.8M192 1331h1.8M192 1332h1.8M192 1333h1.8M192 1334h1.8M192 1335h1.8M192 1336h1.8M192 1338h1.8M192 1339h1.8M192 1340h1.8M192 1341h1.8M192 1342h1.8M192 1343h1.8M192 1344h1.8M192 1345h1.8M192 1348h1.8M192 1349h1.8M192 1350h1.8M192 1351h1.8M193 1249h1.8M193 1251h1.8M193 1255h1.8M193 1256h1.8M193 1257h1.8M193 1258h1.8M193 1260h1.8M193 1262h1.8M193 1265h1.8M193 1266h1.8M193 1268h1.8M193 1270h1.8M193 1271h1.8M193 1284h1.8M193 1301h1.8M193 1302h1.8M193 1310h1.8M193 1319h1.8M193 1322h1.8M193 1323h1.8M193 1325h1.8M193 1326h1.8M193 1327h1.8M193 1330h1.8M193 1331h1.8M193 1332h1.8M193 1333h1.8M193 1334h1.8M193 1335h1.8M193 1336h1.8M193 1337h1.8M193 1338h1.8M193 1340h1.8M193 1341h1.8M193 1342h1.8M193 1344h1.8M193 1345h1.8M193 1346h1.8M193 1347h1.8M193 1348h1.8M193 1351h1.8M193 1353h1.8M193 1354h1.8M193 1356h1.8M194 1247h1.8M194 1248h1.8M194 1253h1.8M194 1256h1.8M194 1260h1.8M194 1264h1.8M194 1265h1.8M194 1266h1.8M194 1267h1.8M194 1270h1.8M194 1271h1.8M194 1273h1.8M194 1274h1.8M194 1276h1.8M194 1277h1.8M194 1280h1.8M194 1313h1.8M194 1319h1.8M194 1321h1.8M194 1324h1.8M194 1325h1.8M194 1326h1.8M194 1327h1.8M194 1328h1.8M194 1329h1.8M194 1330h1.8M194 1332h1.8M194 1333h1.8M194 1334h1.8M194 1335h1.8M194 1336h1.8M194 1337h1.8M194 1338h1.8M194 1339h1.8M194 1340h1.8M194 1341h1.8M194 1342h1.8M194 1343h1.8M194 1344h1.8M194 1347h1.8M194 1348h1.8M194 1349h1.8M194 1350h1.8M194 1353h1.8M194 1354h1.8M194 1358h1.8M195 1235h1.8M195 1238h1.8M195 1241h1.8M195 1246h1.8M195 1255h1.8M195 1256h1.8M195 1258h1.8M195 1263h1.8M195 1265h1.8M195 1266h1.8M195 1268h1.8M195 1269h1.8M195 1273h1.8M195 1274h1.8M195 1279h1.8M195 1280h1.8M195 1284h1.8M195 1287h1.8M195 1291h1.8M195 1296h1.8M195 1308h1.8M195 1322h1.8M195 1323h1.8M195 1324h1.8M195 1325h1.8M195 1326h1.8M195 1328h1.8M195 1329h1.8M195 1330h1.8M195 1331h1.8M195 1332h1.8M195 1333h1.8M195 1334h1.8M195 1335h1.8M195 1336h1.8M195 1337h1.8M195 1338h1.8M195 1339h1.8M195 1340h1.8M195 1341h1.8M195 1342h1.8M195 1343h1.8M195 1344h1.8M195 1345h1.8M195 1346h1.8M195 1347h1.8M195 1350h1.8M195 1351h1.8M195 1352h1.8M195 1354h1.8M196 1243h1.8M196 1246h1.8M196 1247h1.8M196 1250h1.8M196 1254h1.8M196 1255h1.8M196 1257h1.8M196 1258h1.8M196 1260h1.8M196 1261h1.8M196 1263h1.8M196 1266h1.8M196 1269h1.8M196 1270h1.8M196 1273h1.8M196 1277h1.8M196 1280h1.8M196 1281h1.8M196 1283h1.8M196 1298h1.8M196 1315h1.8M196 1320h1.8M196 1321h1.8M196 1322h1.8M196 1323h1.8M196 1325h1.8M196 1326h1.8M196 1328h1.8M196 1330h1.8M196 1332h1.8M196 1333h1.8M196 1334h1.8M196 1335h1.8M196 1336h1.8M196 1337h1.8M196 1338h1.8M196 1339h1.8M196 1340h1.8M196 1341h1.8M196 1343h1.8M196 1344h1.8M196 1345h1.8M196 1346h1.8M196 1347h1.8M196 1349h1.8M196 1350h1.8M196 1351h1.8M196 1352h1.8M196 1353h1.8M197 1230h1.8M197 1235h1.8M197 1239h1.8M197 1246h1.8M197 1247h1.8M197 1250h1.8M197 1255h1.8M197 1256h1.8M197 1257h1.8M197 1258h1.8M197 1261h1.8M197 1262h1.8M197 1264h1.8M197 1266h1.8M197 1269h1.8M197 1271h1.8M197 1275h1.8M197 1280h1.8M197 1288h1.8M197 1299h1.8M197 1303h1.8M197 1304h1.8M197 1312h1.8M197 1313h1.8M197 1320h1.8M197 1321h1.8M197 1323h1.8M197 1324h1.8M197 1326h1.8M197 1327h1.8M197 1328h1.8M197 1329h1.8M197 1330h1.8M197 1331h1.8M197 1332h1.8M197 1333h1.8M197 1334h1.8M197 1336h1.8M197 1337h1.8M197 1338h1.8M197 1339h1.8M197 1340h1.8M197 1341h1.8M197 1342h1.8M197 1343h1.8M197 1344h1.8M197 1345h1.8M197 1347h1.8M197 1348h1.8M197 1349h1.8M197 1350h1.8M197 1352h1.8M197 1355h1.8M198 1230h1.8M198 1249h1.8M198 1253h1.8M198 1254h1.8M198 1256h1.8M198 1261h1.8M198 1262h1.8M198 1265h1.8M198 1270h1.8M198 1272h1.8M198 1273h1.8M198 1281h1.8M198 1286h1.8M198 1306h1.8M198 1315h1.8M198 1322h1.8M198 1324h1.8M198 1325h1.8M198 1326h1.8M198 1329h1.8M198 1330h1.8M198 1331h1.8M198 1332h1.8M198 1333h1.8M198 1334h1.8M198 1335h1.8M198 1336h1.8M198 1337h1.8M198 1338h1.8M198 1339h1.8M198 1340h1.8M198 1341h1.8M198 1343h1.8M198 1344h1.8M198 1345h1.8M198 1346h1.8M198 1347h1.8M198 1348h1.8M198 1350h1.8M198 1351h1.8M198 1352h1.8M198 1354h1.8M199 1224h1.8M199 1233h1.8M199 1242h1.8M199 1248h1.8M199 1251h1.8M199 1252h1.8M199 1255h1.8M199 1257h1.8M199 1260h1.8M199 1263h1.8M199 1264h1.8M199 1266h1.8M199 1267h1.8M199 1268h1.8M199 1270h1.8M199 1272h1.8M199 1273h1.8M199 1274h1.8M199 1275h1.8M199 1276h1.8M199 1286h1.8M199 1322h1.8M199 1324h1.8M199 1326h1.8M199 1327h1.8M199 1328h1.8M199 1329h1.8M199 1330h1.8M199 1332h1.8M199 1333h1.8M199 1334h1.8M199 1335h1.8M199 1336h1.8M199 1337h1.8M199 1338h1.8M199 1339h1.8M199 1340h1.8M199 1341h1.8M199 1342h1.8M199 1343h1.8M199 1344h1.8M199 1345h1.8M199 1347h1.8M199 1349h1.8M199 1350h1.8M199 1351h1.8M199 1353h1.8M199 1354h1.8M199 1355h1.8M200 1239h1.8M200 1242h1.8M200 1244h1.8M200 1246h1.8M200 1254h1.8M200 1257h1.8M200 1259h1.8M200 1260h1.8M200 1265h1.8M200 1268h1.8M200 1270h1.8M200 1271h1.8M200 1272h1.8M200 1273h1.8M200 1275h1.8M200 1278h1.8M200 1281h1.8M200 1282h1.8M200 1285h1.8M200 1291h1.8M200 1294h1.8M200 1295h1.8M200 1318h1.8M200 1321h1.8M200 1322h1.8M200 1323h1.8M200 1325h1.8M200 1326h1.8M200 1327h1.8M200 1329h1.8M200 1331h1.8M200 1333h1.8M200 1334h1.8M200 1335h1.8M200 1336h1.8M200 1338h1.8M200 1339h1.8M200 1340h1.8M200 1341h1.8M200 1343h1.8M200 1344h1.8M200 1345h1.8M200 1347h1.8M200 1348h1.8M200 1349h1.8M200 1350h1.8M200 1351h1.8M200 1353h1.8M200 1354h1.8M200 1355h1.8M201 1231h1.8M201 1235h1.8M201 1244h1.8M201 1246h1.8M201 1247h1.8M201 1250h1.8M201 1253h1.8M201 1255h1.8M201 1258h1.8M201 1259h1.8M201 1260h1.8M201 1262h1.8M201 1263h1.8M201 1265h1.8M201 1266h1.8M201 1267h1.8M201 1271h1.8M201 1272h1.8M201 1275h1.8M201 1276h1.8M201 1281h1.8M201 1284h1.8M201 1295h1.8M201 1321h1.8M201 1322h1.8M201 1325h1.8M201 1326h1.8M201 1327h1.8M201 1328h1.8M201 1330h1.8M201 1331h1.8M201 1332h1.8M201 1333h1.8M201 1334h1.8M201 1335h1.8M201 1336h1.8M201 1337h1.8M201 1338h1.8M201 1339h1.8M201 1340h1.8M201 1341h1.8M201 1342h1.8M201 1343h1.8M201 1344h1.8M201 1345h1.8M201 1346h1.8M201 1347h1.8M201 1348h1.8M201 1349h1.8M201 1350h1.8M201 1351h1.8M201 1353h1.8M201 1355h1.8M201 1358h1.8M202 1248h1.8M202 1249h1.8M202 1251h1.8M202 1256h1.8M202 1259h1.8M202 1262h1.8M202 1263h1.8M202 1265h1.8M202 1267h1.8M202 1269h1.8M202 1272h1.8M202 1273h1.8M202 1285h1.8M202 1286h1.8M202 1291h1.8M202 1300h1.8M202 1315h1.8M202 1319h1.8M202 1321h1.8M202 1322h1.8M202 1323h1.8M202 1324h1.8M202 1325h1.8M202 1326h1.8M202 1327h1.8M202 1328h1.8M202 1329h1.8M202 1330h1.8M202 1331h1.8M202 1332h1.8M202 1333h1.8M202 1334h1.8M202 1335h1.8M202 1336h1.8M202 1337h1.8M202 1338h1.8M202 1339h1.8M202 1340h1.8M202 1341h1.8M202 1342h1.8M202 1343h1.8M202 1344h1.8M202 1345h1.8M202 1347h1.8M202 1348h1.8M202 1353h1.8M202 1354h1.8M202 1355h1.8M203 1235h1.8M203 1241h1.8M203 1245h1.8M203 1246h1.8M203 1248h1.8M203 1251h1.8M203 1252h1.8M203 1255h1.8M203 1257h1.8M203 1258h1.8M203 1261h1.8M203 1271h1.8M203 1273h1.8M203 1282h1.8M203 1296h1.8M203 1319h1.8M203 1321h1.8M203 1322h1.8M203 1324h1.8M203 1325h1.8M203 1326h1.8M203 1327h1.8M203 1328h1.8M203 1330h1.8M203 1331h1.8M203 1332h1.8M203 1333h1.8M203 1334h1.8M203 1335h1.8M203 1336h1.8M203 1337h1.8M203 1338h1.8M203 1339h1.8M203 1340h1.8M203 1341h1.8M203 1342h1.8M203 1343h1.8M203 1344h1.8M203 1345h1.8M203 1346h1.8M203 1347h1.8M203 1348h1.8M203 1351h1.8M203 1353h1.8M204 1237h1.8M204 1238h1.8M204 1241h1.8M204 1248h1.8M204 1249h1.8M204 1252h1.8M204 1254h1.8M204 1256h1.8M204 1258h1.8M204 1260h1.8M204 1262h1.8M204 1263h1.8M204 1264h1.8M204 1266h1.8M204 1267h1.8M204 1277h1.8M204 1289h1.8M204 1290h1.8M204 1320h1.8M204 1322h1.8M204 1323h1.8M204 1324h1.8M204 1325h1.8M204 1326h1.8M204 1327h1.8M204 1328h1.8M204 1329h1.8M204 1330h1.8M204 1331h1.8M204 1332h1.8M204 1333h1.8M204 1334h1.8M204 1335h1.8M204 1336h1.8M204 1337h1.8M204 1338h1.8M204 1339h1.8M204 1340h1.8M204 1341h1.8M204 1342h1.8M204 1345h1.8M204 1346h1.8M204 1347h1.8M204 1348h1.8M204 1349h1.8M204 1350h1.8M204 1351h1.8M204 1353h1.8M205 1229h1.8M205 1239h1.8M205 1250h1.8M205 1251h1.8M205 1253h1.8M205 1254h1.8M205 1255h1.8M205 1259h1.8M205 1262h1.8M205 1263h1.8M205 1264h1.8M205 1265h1.8M205 1266h1.8M205 1267h1.8M205 1268h1.8M205 1269h1.8M205 1270h1.8M205 1271h1.8M205 1275h1.8M205 1282h1.8M205 1291h1.8M205 1294h1.8M205 1299h1.8M205 1319h1.8M205 1324h1.8M205 1327h1.8M205 1328h1.8M205 1329h1.8M205 1331h1.8M205 1332h1.8M205 1333h1.8M205 1334h1.8M205 1335h1.8M205 1336h1.8M205 1337h1.8M205 1338h1.8M205 1339h1.8M205 1340h1.8M205 1341h1.8M205 1342h1.8M205 1343h1.8M205 1344h1.8M205 1345h1.8M205 1346h1.8M205 1347h1.8M205 1348h1.8M205 1349h1.8M205 1350h1.8M205 1352h1.8M205 1353h1.8M206 1242h1.8M206 1248h1.8M206 1250h1.8M206 1253h1.8M206 1255h1.8M206 1256h1.8M206 1257h1.8M206 1258h1.8M206 1259h1.8M206 1260h1.8M206 1264h1.8M206 1265h1.8M206 1267h1.8M206 1269h1.8M206 1271h1.8M206 1274h1.8M206 1277h1.8M206 1278h1.8M206 1279h1.8M206 1290h1.8M206 1296h1.8M206 1318h1.8M206 1321h1.8M206 1322h1.8M206 1323h1.8M206 1324h1.8M206 1325h1.8M206 1326h1.8M206 1327h1.8M206 1328h1.8M206 1329h1.8M206 1330h1.8M206 1331h1.8M206 1332h1.8M206 1334h1.8M206 1335h1.8M206 1337h1.8M206 1338h1.8M206 1339h1.8M206 1340h1.8M206 1341h1.8M206 1342h1.8M206 1343h1.8M206 1344h1.8M206 1345h1.8M206 1346h1.8M206 1347h1.8M206 1348h1.8M206 1349h1.8M206 1351h1.8M206 1354h1.8M206 1356h1.8M207 1242h1.8M207 1245h1.8M207 1254h1.8M207 1258h1.8M207 1259h1.8M207 1263h1.8M207 1264h1.8M207 1265h1.8M207 1266h1.8M207 1272h1.8M207 1273h1.8M207 1274h1.8M207 1278h1.8M207 1280h1.8M207 1288h1.8M207 1291h1.8M207 1302h1.8M207 1319h1.8M207 1320h1.8M207 1323h1.8M207 1325h1.8M207 1326h1.8M207 1328h1.8M207 1329h1.8M207 1330h1.8M207 1331h1.8M207 1332h1.8M207 1333h1.8M207 1334h1.8M207 1336h1.8M207 1337h1.8M207 1338h1.8M207 1339h1.8M207 1340h1.8M207 1341h1.8M207 1343h1.8M207 1345h1.8M207 1347h1.8M207 1348h1.8M207 1350h1.8M207 1351h1.8M207 1352h1.8M207 1353h1.8M207 1354h1.8M207 1355h1.8M208 1240h1.8M208 1244h1.8M208 1249h1.8M208 1251h1.8M208 1252h1.8M208 1255h1.8M208 1256h1.8M208 1257h1.8M208 1258h1.8M208 1261h1.8M208 1263h1.8M208 1264h1.8M208 1266h1.8M208 1277h1.8M208 1280h1.8M208 1282h1.8M208 1285h1.8M208 1292h1.8M208 1295h1.8M208 1298h1.8M208 1300h1.8M208 1321h1.8M208 1322h1.8M208 1325h1.8M208 1326h1.8M208 1327h1.8M208 1328h1.8M208 1329h1.8M208 1330h1.8M208 1331h1.8M208 1332h1.8M208 1334h1.8M208 1335h1.8M208 1336h1.8M208 1337h1.8M208 1338h1.8M208 1339h1.8M208 1340h1.8M208 1341h1.8M208 1342h1.8M208 1343h1.8M208 1344h1.8M208 1345h1.8M208 1346h1.8M208 1348h1.8M208 1352h1.8M208 1353h1.8M209 1235h1.8M209 1243h1.8M209 1247h1.8M209 1250h1.8M209 1255h1.8M209 1256h1.8M209 1257h1.8M209 1259h1.8M209 1260h1.8M209 1261h1.8M209 1262h1.8M209 1266h1.8M209 1269h1.8M209 1271h1.8M209 1273h1.8M209 1279h1.8M209 1280h1.8M209 1290h1.8M209 1323h1.8M209 1325h1.8M209 1326h1.8M209 1328h1.8M209 1330h1.8M209 1331h1.8M209 1332h1.8M209 1334h1.8M209 1335h1.8M209 1336h1.8M209 1337h1.8M209 1338h1.8M209 1339h1.8M209 1340h1.8M209 1341h1.8M209 1344h1.8M209 1346h1.8M209 1347h1.8M209 1348h1.8M209 1349h1.8M209 1350h1.8M209 1351h1.8M209 1352h1.8M210 1234h1.8M210 1240h1.8M210 1246h1.8M210 1251h1.8M210 1255h1.8M210 1258h1.8M210 1259h1.8M210 1260h1.8M210 1262h1.8M210 1263h1.8M210 1272h1.8M210 1273h1.8M210 1276h1.8M210 1278h1.8M210 1284h1.8M210 1292h1.8M210 1297h1.8M210 1308h1.8M210 1318h1.8M210 1320h1.8M210 1322h1.8M210 1324h1.8M210 1326h1.8M210 1327h1.8M210 1328h1.8M210 1330h1.8M210 1331h1.8M210 1332h1.8M210 1333h1.8M210 1334h1.8M210 1335h1.8M210 1336h1.8M210 1337h1.8M210 1338h1.8M210 1339h1.8M210 1340h1.8M210 1342h1.8M210 1343h1.8M210 1345h1.8M210 1346h1.8M210 1348h1.8M210 1349h1.8M210 1351h1.8M210 1354h1.8M211 1231h1.8M211 1245h1.8M211 1246h1.8M211 1248h1.8M211 1249h1.8M211 1257h1.8M211 1260h1.8M211 1261h1.8M211 1262h1.8M211 1263h1.8M211 1265h1.8M211 1268h1.8M211 1269h1.8M211 1272h1.8M211 1275h1.8M211 1276h1.8M211 1277h1.8M211 1284h1.8M211 1288h1.8M211 1291h1.8M211 1300h1.8M211 1303h1.8M211 1313h1.8M211 1318h1.8M211 1320h1.8M211 1324h1.8M211 1325h1.8M211 1326h1.8M211 1328h1.8M211 1329h1.8M211 1330h1.8M211 1331h1.8M211 1332h1.8M211 1333h1.8M211 1334h1.8M211 1335h1.8M211 1336h1.8M211 1337h1.8M211 1338h1.8M211 1339h1.8M211 1341h1.8M211 1342h1.8M211 1343h1.8M211 1344h1.8M211 1346h1.8M211 1347h1.8M211 1348h1.8M211 1349h1.8M211 1351h1.8M211 1352h1.8M212 1233h1.8M212 1239h1.8M212 1251h1.8M212 1257h1.8M212 1260h1.8M212 1263h1.8M212 1265h1.8M212 1266h1.8M212 1269h1.8M212 1272h1.8M212 1273h1.8M212 1274h1.8M212 1276h1.8M212 1282h1.8M212 1284h1.8M212 1290h1.8M212 1301h1.8M212 1308h1.8M212 1309h1.8M212 1315h1.8M212 1321h1.8M212 1322h1.8M212 1324h1.8M212 1325h1.8M212 1326h1.8M212 1327h1.8M212 1329h1.8M212 1330h1.8M212 1333h1.8M212 1334h1.8M212 1335h1.8M212 1336h1.8M212 1337h1.8M212 1338h1.8M212 1339h1.8M212 1340h1.8M212 1341h1.8M212 1342h1.8M212 1343h1.8M212 1344h1.8M212 1346h1.8M212 1347h1.8M212 1348h1.8M212 1351h1.8M212 1352h1.8M212 1353h1.8M212 1354h1.8M213 1239h1.8M213 1246h1.8M213 1250h1.8M213 1251h1.8M213 1252h1.8M213 1253h1.8M213 1254h1.8M213 1256h1.8M213 1259h1.8M213 1260h1.8M213 1261h1.8M213 1263h1.8M213 1264h1.8M213 1267h1.8M213 1269h1.8M213 1270h1.8M213 1274h1.8M213 1275h1.8M213 1276h1.8M213 1277h1.8M213 1291h1.8M213 1321h1.8M213 1322h1.8M213 1323h1.8M213 1324h1.8M213 1327h1.8M213 1328h1.8M213 1329h1.8M213 1330h1.8M213 1331h1.8M213 1332h1.8M213 1333h1.8M213 1334h1.8M213 1335h1.8M213 1337h1.8M213 1338h1.8M213 1339h1.8M213 1340h1.8M213 1342h1.8M213 1343h1.8M213 1344h1.8M213 1346h1.8M213 1348h1.8M213 1351h1.8M213 1352h1.8M213 1365h1.8M214 1247h1.8M214 1249h1.8M214 1252h1.8M214 1254h1.8M214 1255h1.8M214 1257h1.8M214 1258h1.8M214 1261h1.8M214 1264h1.8M214 1267h1.8M214 1268h1.8M214 1269h1.8M214 1270h1.8M214 1293h1.8M214 1296h1.8M214 1312h1.8M214 1317h1.8M214 1323h1.8M214 1324h1.8M214 1325h1.8M214 1326h1.8M214 1327h1.8M214 1328h1.8M214 1329h1.8M214 1331h1.8M214 1332h1.8M214 1333h1.8M214 1334h1.8M214 1336h1.8M214 1338h1.8M214 1339h1.8M214 1341h1.8M214 1342h1.8M214 1345h1.8M214 1347h1.8M214 1349h1.8M214 1351h1.8M214 1352h1.8M215 1238h1.8M215 1250h1.8M215 1253h1.8M215 1255h1.8M215 1256h1.8M215 1259h1.8M215 1260h1.8M215 1262h1.8M215 1263h1.8M215 1265h1.8M215 1268h1.8M215 1269h1.8M215 1276h1.8M215 1277h1.8M215 1313h1.8M215 1314h1.8M215 1316h1.8M215 1318h1.8M215 1324h1.8M215 1325h1.8M215 1326h1.8M215 1327h1.8M215 1328h1.8M215 1330h1.8M215 1332h1.8M215 1334h1.8M215 1335h1.8M215 1336h1.8M215 1337h1.8M215 1338h1.8M215 1339h1.8M215 1341h1.8M215 1342h1.8M215 1343h1.8M215 1344h1.8M215 1345h1.8M215 1346h1.8M215 1348h1.8M215 1349h1.8M215 1350h1.8M216 1240h1.8M216 1244h1.8M216 1253h1.8M216 1255h1.8M216 1256h1.8M216 1257h1.8M216 1262h1.8M216 1263h1.8M216 1264h1.8M216 1266h1.8M216 1270h1.8M216 1271h1.8M216 1276h1.8M216 1277h1.8M216 1280h1.8M216 1291h1.8M216 1319h1.8M216 1320h1.8M216 1321h1.8M216 1323h1.8M216 1324h1.8M216 1327h1.8M216 1328h1.8M216 1329h1.8M216 1330h1.8M216 1332h1.8M216 1333h1.8M216 1334h1.8M216 1335h1.8M216 1336h1.8M216 1337h1.8M216 1340h1.8M216 1341h1.8M216 1343h1.8M216 1344h1.8M216 1346h1.8M216 1347h1.8M216 1348h1.8M216 1349h1.8M216 1351h1.8M216 1353h1.8M216 1354h1.8M216 1356h1.8M217 1236h1.8M217 1254h1.8M217 1255h1.8M217 1256h1.8M217 1260h1.8M217 1261h1.8M217 1262h1.8M217 1267h1.8M217 1275h1.8M217 1282h1.8M217 1283h1.8M217 1284h1.8M217 1322h1.8M217 1325h1.8M217 1327h1.8M217 1329h1.8M217 1330h1.8M217 1331h1.8M217 1333h1.8M217 1334h1.8M217 1335h1.8M217 1336h1.8M217 1337h1.8M217 1339h1.8M217 1340h1.8M217 1341h1.8M217 1342h1.8M217 1343h1.8M217 1344h1.8M217 1345h1.8M217 1346h1.8M217 1347h1.8M217 1351h1.8M217 1352h1.8M217 1353h1.8M218 1229h1.8M218 1237h1.8M218 1241h1.8M218 1245h1.8M218 1248h1.8M218 1255h1.8M218 1257h1.8M218 1259h1.8M218 1260h1.8M218 1261h1.8M218 1263h1.8M218 1264h1.8M218 1265h1.8M218 1267h1.8M218 1268h1.8M218 1269h1.8M218 1271h1.8M218 1274h1.8M218 1275h1.8M218 1277h1.8M218 1280h1.8M218 1282h1.8M218 1287h1.8M218 1288h1.8M218 1295h1.8M218 1308h1.8M218 1312h1.8M218 1322h1.8M218 1323h1.8M218 1324h1.8M218 1328h1.8M218 1331h1.8M218 1333h1.8M218 1334h1.8M218 1335h1.8M218 1336h1.8M218 1337h1.8M218 1338h1.8M218 1339h1.8M218 1340h1.8M218 1341h1.8M218 1342h1.8M218 1343h1.8M218 1344h1.8M218 1346h1.8M218 1348h1.8M218 1349h1.8M218 1352h1.8M219 1236h1.8M219 1244h1.8M219 1246h1.8M219 1249h1.8M219 1262h1.8M219 1264h1.8M219 1268h1.8M219 1273h1.8M219 1275h1.8M219 1278h1.8M219 1280h1.8M219 1293h1.8M219 1295h1.8M219 1307h1.8M219 1309h1.8M219 1320h1.8M219 1324h1.8M219 1325h1.8M219 1326h1.8M219 1327h1.8M219 1328h1.8M219 1329h1.8M219 1330h1.8M219 1331h1.8M219 1332h1.8M219 1333h1.8M219 1334h1.8M219 1335h1.8M219 1338h1.8M219 1339h1.8M219 1340h1.8M219 1342h1.8M219 1343h1.8M219 1344h1.8M219 1349h1.8M219 1350h1.8M220 1245h1.8M220 1250h1.8M220 1251h1.8M220 1258h1.8M220 1261h1.8M220 1272h1.8M220 1286h1.8M220 1295h1.8M220 1316h1.8M220 1319h1.8M220 1322h1.8M220 1323h1.8M220 1324h1.8M220 1325h1.8M220 1326h1.8M220 1328h1.8M220 1329h1.8M220 1331h1.8M220 1332h1.8M220 1333h1.8M220 1334h1.8M220 1335h1.8M220 1336h1.8M220 1337h1.8M220 1339h1.8M220 1340h1.8M220 1341h1.8M220 1342h1.8M220 1343h1.8M220 1347h1.8M220 1349h1.8M220 1350h1.8M220 1361h1.8M221 1246h1.8M221 1249h1.8M221 1254h1.8M221 1255h1.8M221 1256h1.8M221 1261h1.8M221 1272h1.8M221 1273h1.8M221 1275h1.8M221 1278h1.8M221 1281h1.8M221 1290h1.8M221 1292h1.8M221 1295h1.8M221 1297h1.8M221 1298h1.8M221 1315h1.8M221 1325h1.8M221 1329h1.8M221 1330h1.8M221 1331h1.8M221 1332h1.8M221 1333h1.8M221 1335h1.8M221 1336h1.8M221 1337h1.8M221 1341h1.8M221 1342h1.8M221 1343h1.8M221 1345h1.8M221 1346h1.8M221 1347h1.8M222 1255h1.8M222 1258h1.8M222 1261h1.8M222 1263h1.8M222 1267h1.8M222 1275h1.8M222 1283h1.8M222 1323h1.8M222 1324h1.8M222 1326h1.8M222 1327h1.8M222 1328h1.8M222 1332h1.8M222 1333h1.8M222 1334h1.8M222 1335h1.8M222 1336h1.8M222 1337h1.8M222 1341h1.8M222 1343h1.8M222 1344h1.8M222 1346h1.8M222 1348h1.8M222 1354h1.8M223 1235h1.8M223 1238h1.8M223 1239h1.8M223 1259h1.8M223 1270h1.8M223 1274h1.8M223 1276h1.8M223 1284h1.8M223 1328h1.8M223 1329h1.8M223 1330h1.8M223 1333h1.8M223 1334h1.8M223 1335h1.8M223 1338h1.8M223 1339h1.8M223 1340h1.8M223 1342h1.8M223 1343h1.8M223 1344h1.8M223 1346h1.8M223 1347h1.8M223 1349h1.8M223 1350h1.8M223 1354h1.8M224 1247h1.8M224 1256h1.8M224 1257h1.8M224 1278h1.8M224 1318h1.8M224 1321h1.8M224 1324h1.8M224 1327h1.8M224 1328h1.8M224 1331h1.8M224 1332h1.8M224 1333h1.8M224 1334h1.8M224 1335h1.8M224 1336h1.8M224 1337h1.8M224 1338h1.8M224 1341h1.8M224 1344h1.8M224 1345h1.8M224 1347h1.8M224 1349h1.8M224 1350h1.8M225 1260h1.8M225 1268h1.8M225 1294h1.8M225 1318h1.8M225 1323h1.8M225 1325h1.8M225 1327h1.8M225 1328h1.8M225 1329h1.8M225 1330h1.8M225 1333h1.8M225 1334h1.8M225 1335h1.8M225 1336h1.8M225 1340h1.8M225 1341h1.8M225 1342h1.8M225 1343h1.8M225 1344h1.8M225 1348h1.8M226 1255h1.8M226 1257h1.8M226 1272h1.8M226 1325h1.8M226 1329h1.8M226 1332h1.8M226 1337h1.8M226 1339h1.8M226 1341h1.8M226 1342h1.8M226 1343h1.8M226 1344h1.8M226 1346h1.8M226 1349h1.8M227 1247h1.8M227 1251h1.8M227 1255h1.8M227 1261h1.8M227 1280h1.8M227 1295h1.8M227 1328h1.8M227 1331h1.8M227 1332h1.8M227 1335h1.8M227 1339h1.8M227 1340h1.8M227 1341h1.8M227 1345h1.8M227 1359h1.8M228 1243h1.8M228 1258h1.8M228 1262h1.8M228 1263h1.8M228 1321h1.8M228 1324h1.8M228 1326h1.8M228 1330h1.8M228 1333h1.8M228 1334h1.8M228 1338h1.8M228 1339h1.8M228 1343h1.8M228 1344h1.8M228 1345h1.8M228 1346h1.8M228 1348h1.8M228 1349h1.8M229 1260h1.8M229 1261h1.8M229 1269h1.8M229 1280h1.8M229 1327h1.8M229 1328h1.8M229 1339h1.8M229 1340h1.8M229 1344h1.8M229 1345h1.8M229 1347h1.8M230 1247h1.8M230 1253h1.8M230 1267h1.8M230 1328h1.8M230 1331h1.8M230 1336h1.8M230 1343h1.8M230 1344h1.8M230 1345h1.8M231 1251h1.8M231 1265h1.8M231 1268h1.8M231 1275h1.8M231 1284h1.8M231 1330h1.8M231 1336h1.8M231 1337h1.8M231 1338h1.8M231 1341h1.8M231 1342h1.8M232 1256h1.8M232 1286h1.8M232 1333h1.8M232 1334h1.8M232 1335h1.8M232 1336h1.8M232 1337h1.8M232 1338h1.8M232 1339h1.8M232 1342h1.8M232 1343h1.8M232 1348h1.8M232 1350h1.8M233 1262h1.8M233 1280h1.8M233 1332h1.8M233 1333h1.8M233 1334h1.8M233 1335h1.8M233 1336h1.8M233 1337h1.8M233 1338h1.8M233 1351h1.8M233 1360h1.8M234 1279h1.8M234 1319h1.8M234 1334h1.8M234 1336h1.8M234 1339h1.8M235 1273h1.8M235 1295h1.8M235 1332h1.8M235 1333h1.8M235 1335h1.8M235 1337h1.8M236 1329h1.8M237 1345h1.8M237 1346h1.8M237 1349h1.8M238 1324h1.8M239 1332h1.8M239 1337h1.8M240 1271h1.8M240 1332h1.8M240 1337h1.8M241 1243h1.8M241 1254h1.8M242 1312h1.8M242 1340h1.8M243 1260h1.8M243 1262h1.8M244 1345h1.8M246 1234h1.8M246 1331h1.8M246 1338h1.8M247 1289h1.8M247 1330h1.8M248 1267h1.8M248 1269h1.8M248 1333h1.8M248 1339h1.8M249 1323h1.8M249 1340h1.8M249 1341h1.8M250 1322h1.8M250 1337h1.8M250 1339h1.8M251 1341h1.8M252 1329h1.8M252 1334h1.8M252 1348h1.8M253 1343h1.8M254 1243h1.8M254 1331h1.8M254 1332h1.8M254 1333h1.8M254 1336h1.8M254 1337h1.8M254 1338h1.8M255 1208h1.8M255 1337h1.8M255 1340h1.8M255 1341h1.8M256 1263h1.8M256 1335h1.8M256 1338h1.8M256 1339h1.8M256 1341h1.8M256 1342h1.8M256 1348h1.8M257 1289h1.8M257 1327h1.8M257 1328h1.8M257 1332h1.8M257 1337h1.8M257 1343h1.8M257 1344h1.8M258 1250h1.8M258 1258h1.8M258 1273h1.8M258 1280h1.8M258 1282h1.8M258 1326h1.8M258 1328h1.8M258 1331h1.8M258 1332h1.8M258 1334h1.8M258 1335h1.8M258 1336h1.8M258 1337h1.8M258 1339h1.8M258 1340h1.8M258 1342h1.8M258 1345h1.8M259 1239h1.8M259 1296h1.8M259 1331h1.8M259 1332h1.8M259 1339h1.8M259 1340h1.8M259 1341h1.8M259 1342h1.8M259 1344h1.8M260 1255h1.8M260 1275h1.8M260 1300h1.8M260 1330h1.8M260 1331h1.8M260 1333h1.8M260 1334h1.8M260 1335h1.8M260 1336h1.8M260 1337h1.8M260 1339h1.8M260 1344h1.8M260 1345h1.8M260 1347h1.8M260 1351h1.8M260 1368h1.8M261 1269h1.8M261 1271h1.8M261 1273h1.8M261 1330h1.8M261 1331h1.8M261 1335h1.8M261 1340h1.8M261 1342h1.8M261 1353h1.8M262 1271h1.8M262 1274h1.8M262 1278h1.8M262 1290h1.8M262 1315h1.8M262 1326h1.8M262 1328h1.8M262 1331h1.8M262 1334h1.8M262 1337h1.8M262 1338h1.8M262 1341h1.8M262 1342h1.8M262 1344h1.8M262 1346h1.8M262 1348h1.8M263 1263h1.8M263 1277h1.8M263 1281h1.8M263 1297h1.8M263 1312h1.8M263 1313h1.8M263 1315h1.8M263 1333h1.8M263 1335h1.8M263 1336h1.8M263 1337h1.8M263 1338h1.8M263 1340h1.8M263 1341h1.8M263 1343h1.8M263 1345h1.8M263 1346h1.8M263 1348h1.8M263 1349h1.8M263 1353h1.8M264 1263h1.8M264 1264h1.8M264 1270h1.8M264 1277h1.8M264 1278h1.8M264 1287h1.8M264 1313h1.8M264 1319h1.8M264 1330h1.8M264 1331h1.8M264 1333h1.8M264 1337h1.8M264 1338h1.8M264 1339h1.8M264 1343h1.8M264 1346h1.8M264 1347h1.8M264 1348h1.8M265 1242h1.8M265 1255h1.8M265 1256h1.8M265 1258h1.8M265 1269h1.8M265 1271h1.8M265 1273h1.8M265 1274h1.8M265 1280h1.8M265 1288h1.8M265 1293h1.8M265 1302h1.8M265 1323h1.8M265 1325h1.8M265 1328h1.8M265 1329h1.8M265 1330h1.8M265 1332h1.8M265 1333h1.8M265 1336h1.8M265 1337h1.8M265 1338h1.8M265 1339h1.8M265 1340h1.8M265 1342h1.8M265 1343h1.8M265 1344h1.8M265 1346h1.8M265 1347h1.8M265 1349h1.8M265 1352h1.8M266 1276h1.8M266 1277h1.8M266 1287h1.8M266 1291h1.8M266 1299h1.8M266 1310h1.8M266 1326h1.8M266 1328h1.8M266 1329h1.8M266 1330h1.8M266 1331h1.8M266 1333h1.8M266 1335h1.8M266 1336h1.8M266 1337h1.8M266 1338h1.8M266 1339h1.8M266 1340h1.8M266 1341h1.8M266 1342h1.8M266 1343h1.8M266 1344h1.8M266 1345h1.8M266 1346h1.8M267 1252h1.8M267 1257h1.8M267 1262h1.8M267 1273h1.8M267 1280h1.8M267 1291h1.8M267 1292h1.8M267 1323h1.8M267 1324h1.8M267 1329h1.8M267 1330h1.8M267 1332h1.8M267 1333h1.8M267 1334h1.8M267 1335h1.8M267 1337h1.8M267 1338h1.8M267 1339h1.8M267 1340h1.8M267 1341h1.8M267 1342h1.8M267 1343h1.8M267 1348h1.8M267 1349h1.8M268 1270h1.8M268 1272h1.8M268 1273h1.8M268 1279h1.8M268 1311h1.8M268 1312h1.8M268 1327h1.8M268 1328h1.8M268 1329h1.8M268 1332h1.8M268 1334h1.8M268 1335h1.8M268 1336h1.8M268 1337h1.8M268 1338h1.8M268 1341h1.8M268 1342h1.8M268 1343h1.8M268 1345h1.8M268 1346h1.8M268 1347h1.8M268 1348h1.8M268 1351h1.8M269 1246h1.8M269 1265h1.8M269 1276h1.8M269 1277h1.8M269 1279h1.8M269 1280h1.8M269 1282h1.8M269 1301h1.8M269 1302h1.8M269 1324h1.8M269 1325h1.8M269 1327h1.8M269 1333h1.8M269 1334h1.8M269 1335h1.8M269 1336h1.8M269 1337h1.8M269 1338h1.8M269 1339h1.8M269 1340h1.8M269 1341h1.8M269 1342h1.8M269 1343h1.8M269 1344h1.8M269 1345h1.8M269 1348h1.8M269 1349h1.8M270 1244h1.8M270 1263h1.8M270 1264h1.8M270 1274h1.8M270 1275h1.8M270 1280h1.8M270 1284h1.8M270 1289h1.8M270 1290h1.8M270 1319h1.8M270 1325h1.8M270 1327h1.8M270 1328h1.8M270 1330h1.8M270 1331h1.8M270 1332h1.8M270 1335h1.8M270 1336h1.8M270 1337h1.8M270 1338h1.8M270 1339h1.8M270 1340h1.8M270 1341h1.8M270 1342h1.8M270 1343h1.8M270 1344h1.8M270 1346h1.8M270 1347h1.8M270 1348h1.8M270 1349h1.8M270 1351h1.8M271 1252h1.8M271 1261h1.8M271 1262h1.8M271 1267h1.8M271 1268h1.8M271 1269h1.8M271 1271h1.8M271 1276h1.8M271 1278h1.8M271 1282h1.8M271 1293h1.8M271 1321h1.8M271 1322h1.8M271 1324h1.8M271 1325h1.8M271 1326h1.8M271 1327h1.8M271 1329h1.8M271 1330h1.8M271 1331h1.8M271 1332h1.8M271 1333h1.8M271 1334h1.8M271 1335h1.8M271 1336h1.8M271 1338h1.8M271 1339h1.8M271 1340h1.8M271 1341h1.8M271 1342h1.8M271 1343h1.8M271 1344h1.8M271 1345h1.8M271 1353h1.8M272 1254h1.8M272 1264h1.8M272 1266h1.8M272 1268h1.8M272 1269h1.8M272 1270h1.8M272 1271h1.8M272 1276h1.8M272 1280h1.8M272 1284h1.8M272 1285h1.8M272 1292h1.8M272 1323h1.8M272 1327h1.8M272 1330h1.8M272 1331h1.8M272 1332h1.8M272 1333h1.8M272 1334h1.8M272 1335h1.8M272 1336h1.8M272 1337h1.8M272 1339h1.8M272 1340h1.8M272 1341h1.8M272 1342h1.8M272 1343h1.8M272 1344h1.8M272 1345h1.8M272 1346h1.8M272 1348h1.8M272 1349h1.8M272 1353h1.8M273 1231h1.8M273 1253h1.8M273 1255h1.8M273 1261h1.8M273 1262h1.8M273 1266h1.8M273 1268h1.8M273 1269h1.8M273 1272h1.8M273 1275h1.8M273 1280h1.8M273 1284h1.8M273 1292h1.8M273 1324h1.8M273 1325h1.8M273 1327h1.8M273 1328h1.8M273 1330h1.8M273 1331h1.8M273 1332h1.8M273 1334h1.8M273 1335h1.8M273 1336h1.8M273 1337h1.8M273 1338h1.8M273 1339h1.8M273 1340h1.8M273 1341h1.8M273 1342h1.8M273 1343h1.8M273 1344h1.8M273 1345h1.8M273 1346h1.8M273 1347h1.8M273 1351h1.8M274 1249h1.8M274 1258h1.8M274 1259h1.8M274 1266h1.8M274 1268h1.8M274 1273h1.8M274 1274h1.8M274 1281h1.8M274 1284h1.8M274 1327h1.8M274 1328h1.8M274 1329h1.8M274 1330h1.8M274 1332h1.8M274 1333h1.8M274 1336h1.8M274 1337h1.8M274 1338h1.8M274 1339h1.8M274 1340h1.8M274 1341h1.8M274 1342h1.8M274 1343h1.8M274 1345h1.8M274 1346h1.8M274 1347h1.8M274 1349h1.8M274 1351h1.8M275 1259h1.8M275 1261h1.8M275 1268h1.8M275 1276h1.8M275 1277h1.8M275 1283h1.8M275 1299h1.8M275 1321h1.8M275 1323h1.8M275 1329h1.8M275 1331h1.8M275 1332h1.8M275 1333h1.8M275 1334h1.8M275 1335h1.8M275 1336h1.8M275 1337h1.8M275 1338h1.8M275 1339h1.8M275 1340h1.8M275 1341h1.8M275 1342h1.8M275 1343h1.8M275 1344h1.8M275 1345h1.8M275 1346h1.8M275 1347h1.8M275 1348h1.8M275 1349h1.8M275 1350h1.8M275 1351h1.8M275 1354h1.8M276 1243h1.8M276 1256h1.8M276 1258h1.8M276 1259h1.8M276 1261h1.8M276 1266h1.8M276 1269h1.8M276 1270h1.8M276 1272h1.8M276 1275h1.8M276 1281h1.8M276 1282h1.8M276 1295h1.8M276 1296h1.8M276 1305h1.8M276 1326h1.8M276 1327h1.8M276 1328h1.8M276 1330h1.8M276 1331h1.8M276 1332h1.8M276 1333h1.8M276 1334h1.8M276 1335h1.8M276 1337h1.8M276 1338h1.8M276 1340h1.8M276 1341h1.8M276 1342h1.8M276 1343h1.8M276 1344h1.8M276 1345h1.8M276 1346h1.8M276 1347h1.8M276 1348h1.8M276 1354h1.8M277 1253h1.8M277 1259h1.8M277 1262h1.8M277 1267h1.8M277 1276h1.8M277 1278h1.8M277 1279h1.8M277 1284h1.8M277 1314h1.8M277 1322h1.8M277 1323h1.8M277 1324h1.8M277 1327h1.8M277 1328h1.8M277 1329h1.8M277 1331h1.8M277 1332h1.8M277 1333h1.8M277 1334h1.8M277 1335h1.8M277 1336h1.8M277 1337h1.8M277 1338h1.8M277 1339h1.8M277 1340h1.8M277 1341h1.8M277 1342h1.8M277 1343h1.8M277 1344h1.8M277 1345h1.8M277 1346h1.8M277 1347h1.8M277 1349h1.8M277 1351h1.8M278 1249h1.8M278 1253h1.8M278 1260h1.8M278 1265h1.8M278 1267h1.8M278 1272h1.8M278 1276h1.8M278 1287h1.8M278 1308h1.8M278 1311h1.8M278 1325h1.8M278 1327h1.8M278 1329h1.8M278 1330h1.8M278 1331h1.8M278 1332h1.8M278 1333h1.8M278 1334h1.8M278 1335h1.8M278 1336h1.8M278 1337h1.8M278 1338h1.8M278 1340h1.8M278 1341h1.8M278 1342h1.8M278 1345h1.8M278 1346h1.8M278 1347h1.8M278 1349h1.8M279 1237h1.8M279 1248h1.8M279 1251h1.8M279 1253h1.8M279 1254h1.8M279 1258h1.8M279 1259h1.8M279 1263h1.8M279 1268h1.8M279 1272h1.8M279 1273h1.8M279 1274h1.8M279 1278h1.8M279 1280h1.8M279 1284h1.8M279 1291h1.8M279 1293h1.8M279 1322h1.8M279 1326h1.8M279 1328h1.8M279 1329h1.8M279 1331h1.8M279 1332h1.8M279 1333h1.8M279 1334h1.8M279 1336h1.8M279 1337h1.8M279 1339h1.8M279 1340h1.8M279 1341h1.8M279 1342h1.8M279 1343h1.8M279 1344h1.8M279 1345h1.8M279 1346h1.8M279 1347h1.8M279 1348h1.8M279 1353h1.8M280 1244h1.8M280 1259h1.8M280 1260h1.8M280 1261h1.8M280 1262h1.8M280 1263h1.8M280 1264h1.8M280 1265h1.8M280 1266h1.8M280 1271h1.8M280 1272h1.8M280 1283h1.8M280 1319h1.8M280 1322h1.8M280 1323h1.8M280 1324h1.8M280 1327h1.8M280 1328h1.8M280 1329h1.8M280 1330h1.8M280 1331h1.8M280 1332h1.8M280 1333h1.8M280 1334h1.8M280 1335h1.8M280 1336h1.8M280 1337h1.8M280 1338h1.8M280 1339h1.8M280 1340h1.8M280 1341h1.8M280 1342h1.8M280 1344h1.8M280 1346h1.8M280 1347h1.8M280 1350h1.8M280 1351h1.8M280 1352h1.8M280 1354h1.8M281 1230h1.8M281 1240h1.8M281 1244h1.8M281 1248h1.8M281 1251h1.8M281 1253h1.8M281 1256h1.8M281 1259h1.8M281 1263h1.8M281 1265h1.8M281 1267h1.8M281 1277h1.8M281 1278h1.8M281 1290h1.8M281 1325h1.8M281 1326h1.8M281 1327h1.8M281 1328h1.8M281 1331h1.8M281 1333h1.8M281 1334h1.8M281 1335h1.8M281 1336h1.8M281 1337h1.8M281 1338h1.8M281 1339h1.8M281 1340h1.8M281 1341h1.8M281 1342h1.8M281 1343h1.8M281 1344h1.8M281 1345h1.8M281 1346h1.8M281 1347h1.8M282 1236h1.8M282 1238h1.8M282 1247h1.8M282 1253h1.8M282 1257h1.8M282 1259h1.8M282 1267h1.8M282 1268h1.8M282 1270h1.8M282 1272h1.8M282 1277h1.8M282 1306h1.8M282 1307h1.8M282 1324h1.8M282 1326h1.8M282 1327h1.8M282 1328h1.8M282 1331h1.8M282 1332h1.8M282 1333h1.8M282 1334h1.8M282 1335h1.8M282 1336h1.8M282 1337h1.8M282 1338h1.8M282 1339h1.8M282 1340h1.8M282 1341h1.8M282 1342h1.8M282 1343h1.8M282 1344h1.8M282 1345h1.8M282 1347h1.8M282 1349h1.8M282 1350h1.8M282 1352h1.8M283 1239h1.8M283 1241h1.8M283 1247h1.8M283 1253h1.8M283 1254h1.8M283 1255h1.8M283 1263h1.8M283 1265h1.8M283 1266h1.8M283 1267h1.8M283 1270h1.8M283 1272h1.8M283 1273h1.8M283 1277h1.8M283 1279h1.8M283 1294h1.8M283 1318h1.8M283 1322h1.8M283 1327h1.8M283 1328h1.8M283 1331h1.8M283 1332h1.8M283 1333h1.8M283 1334h1.8M283 1335h1.8M283 1336h1.8M283 1337h1.8M283 1338h1.8M283 1342h1.8M283 1343h1.8M283 1344h1.8M283 1345h1.8M283 1346h1.8M283 1348h1.8M284 1226h1.8M284 1244h1.8M284 1247h1.8M284 1250h1.8M284 1251h1.8M284 1252h1.8M284 1256h1.8M284 1258h1.8M284 1261h1.8M284 1263h1.8M284 1264h1.8M284 1265h1.8M284 1269h1.8M284 1270h1.8M284 1271h1.8M284 1276h1.8M284 1295h1.8M284 1317h1.8M284 1327h1.8M284 1328h1.8M284 1329h1.8M284 1330h1.8M284 1331h1.8M284 1332h1.8M284 1333h1.8M284 1334h1.8M284 1335h1.8M284 1336h1.8M284 1337h1.8M284 1338h1.8M284 1339h1.8M284 1340h1.8M284 1341h1.8M284 1342h1.8M284 1343h1.8M284 1344h1.8M284 1348h1.8M284 1349h1.8M284 1350h1.8M284 1351h1.8M285 1246h1.8M285 1249h1.8M285 1251h1.8M285 1252h1.8M285 1254h1.8M285 1257h1.8M285 1260h1.8M285 1262h1.8M285 1263h1.8M285 1265h1.8M285 1266h1.8M285 1267h1.8M285 1268h1.8M285 1269h1.8M285 1271h1.8M285 1272h1.8M285 1273h1.8M285 1282h1.8M285 1295h1.8M285 1305h1.8M285 1324h1.8M285 1326h1.8M285 1327h1.8M285 1330h1.8M285 1332h1.8M285 1333h1.8M285 1334h1.8M285 1335h1.8M285 1336h1.8M285 1337h1.8M285 1338h1.8M285 1340h1.8M285 1341h1.8M285 1342h1.8M285 1343h1.8M285 1345h1.8M285 1353h1.8M286 1246h1.8M286 1248h1.8M286 1249h1.8M286 1252h1.8M286 1253h1.8M286 1254h1.8M286 1258h1.8M286 1259h1.8M286 1261h1.8M286 1262h1.8M286 1266h1.8M286 1268h1.8M286 1272h1.8M286 1273h1.8M286 1274h1.8M286 1275h1.8M286 1281h1.8M286 1285h1.8M286 1287h1.8M286 1319h1.8M286 1325h1.8M286 1326h1.8M286 1330h1.8M286 1331h1.8M286 1332h1.8M286 1333h1.8M286 1334h1.8M286 1335h1.8M286 1336h1.8M286 1337h1.8M286 1338h1.8M286 1339h1.8M286 1340h1.8M286 1342h1.8M286 1343h1.8M286 1344h1.8M286 1348h1.8M286 1349h1.8M287 1233h1.8M287 1241h1.8M287 1247h1.8M287 1248h1.8M287 1250h1.8M287 1251h1.8M287 1252h1.8M287 1254h1.8M287 1256h1.8M287 1259h1.8M287 1260h1.8M287 1261h1.8M287 1262h1.8M287 1263h1.8M287 1265h1.8M287 1266h1.8M287 1268h1.8M287 1274h1.8M287 1284h1.8M287 1285h1.8M287 1298h1.8M287 1309h1.8M287 1325h1.8M287 1328h1.8M287 1330h1.8M287 1332h1.8M287 1333h1.8M287 1334h1.8M287 1335h1.8M287 1336h1.8M287 1338h1.8M287 1339h1.8M287 1340h1.8M287 1341h1.8M287 1342h1.8M287 1343h1.8M287 1344h1.8M287 1345h1.8M287 1346h1.8M287 1348h1.8M287 1349h1.8M287 1350h1.8M288 1247h1.8M288 1248h1.8M288 1254h1.8M288 1256h1.8M288 1257h1.8M288 1258h1.8M288 1259h1.8M288 1262h1.8M288 1263h1.8M288 1265h1.8M288 1267h1.8M288 1268h1.8M288 1270h1.8M288 1279h1.8M288 1286h1.8M288 1288h1.8M288 1307h1.8M288 1315h1.8M288 1317h1.8M288 1327h1.8M288 1329h1.8M288 1330h1.8M288 1331h1.8M288 1332h1.8M288 1333h1.8M288 1334h1.8M288 1337h1.8M288 1338h1.8M288 1339h1.8M288 1340h1.8M288 1341h1.8M288 1344h1.8M288 1345h1.8M288 1346h1.8M288 1347h1.8M288 1348h1.8M289 1242h1.8M289 1244h1.8M289 1247h1.8M289 1249h1.8M289 1251h1.8M289 1254h1.8M289 1255h1.8M289 1257h1.8M289 1258h1.8M289 1260h1.8M289 1261h1.8M289 1262h1.8M289 1264h1.8M289 1265h1.8M289 1267h1.8M289 1270h1.8M289 1271h1.8M289 1273h1.8M289 1274h1.8M289 1276h1.8M289 1283h1.8M289 1293h1.8M289 1303h1.8M289 1321h1.8M289 1328h1.8M289 1330h1.8M289 1331h1.8M289 1332h1.8M289 1333h1.8M289 1335h1.8M289 1336h1.8M289 1338h1.8M289 1340h1.8M289 1341h1.8M289 1342h1.8M289 1343h1.8M289 1344h1.8M289 1345h1.8M289 1346h1.8M289 1347h1.8M289 1351h1.8M289 1352h1.8M289 1353h1.8M290 1235h1.8M290 1244h1.8M290 1245h1.8M290 1249h1.8M290 1250h1.8M290 1251h1.8M290 1252h1.8M290 1253h1.8M290 1254h1.8M290 1256h1.8M290 1257h1.8M290 1258h1.8M290 1259h1.8M290 1260h1.8M290 1261h1.8M290 1262h1.8M290 1264h1.8M290 1265h1.8M290 1270h1.8M290 1271h1.8M290 1272h1.8M290 1273h1.8M290 1276h1.8M290 1278h1.8M290 1280h1.8M290 1284h1.8M290 1296h1.8M290 1304h1.8M290 1314h1.8M290 1326h1.8M290 1329h1.8M290 1330h1.8M290 1332h1.8M290 1333h1.8M290 1334h1.8M290 1335h1.8M290 1336h1.8M290 1337h1.8M290 1339h1.8M290 1340h1.8M290 1341h1.8M290 1344h1.8M290 1345h1.8M290 1348h1.8M290 1349h1.8M290 1350h1.8M291 1243h1.8M291 1244h1.8M291 1245h1.8M291 1246h1.8M291 1247h1.8M291 1248h1.8M291 1249h1.8M291 1251h1.8M291 1252h1.8M291 1253h1.8M291 1254h1.8M291 1255h1.8M291 1256h1.8M291 1258h1.8M291 1259h1.8M291 1260h1.8M291 1261h1.8M291 1262h1.8M291 1263h1.8M291 1264h1.8M291 1265h1.8M291 1266h1.8M291 1267h1.8M291 1269h1.8M291 1270h1.8M291 1273h1.8M291 1277h1.8M291 1278h1.8M291 1284h1.8M291 1285h1.8M291 1294h1.8M291 1320h1.8M291 1327h1.8M291 1329h1.8M291 1330h1.8M291 1334h1.8M291 1335h1.8M291 1336h1.8M291 1337h1.8M291 1338h1.8M291 1339h1.8M291 1340h1.8M291 1341h1.8M291 1342h1.8M291 1343h1.8M291 1344h1.8M291 1345h1.8M291 1347h1.8M291 1348h1.8M292 1242h1.8M292 1243h1.8M292 1244h1.8M292 1245h1.8M292 1247h1.8M292 1249h1.8M292 1251h1.8M292 1252h1.8M292 1253h1.8M292 1254h1.8M292 1255h1.8M292 1256h1.8M292 1257h1.8M292 1258h1.8M292 1260h1.8M292 1261h1.8M292 1262h1.8M292 1263h1.8M292 1266h1.8M292 1271h1.8M292 1278h1.8M292 1279h1.8M292 1282h1.8M292 1283h1.8M292 1313h1.8M292 1328h1.8M292 1329h1.8M292 1330h1.8M292 1331h1.8M292 1334h1.8M292 1335h1.8M292 1336h1.8M292 1337h1.8M292 1338h1.8M292 1339h1.8M292 1341h1.8M292 1342h1.8M292 1348h1.8M293 1242h1.8M293 1248h1.8M293 1249h1.8M293 1250h1.8M293 1251h1.8M293 1253h1.8M293 1254h1.8M293 1256h1.8M293 1257h1.8M293 1258h1.8M293 1259h1.8M293 1261h1.8M293 1262h1.8M293 1264h1.8M293 1266h1.8M293 1267h1.8M293 1268h1.8M293 1272h1.8M293 1283h1.8M293 1312h1.8M293 1323h1.8M293 1326h1.8M293 1329h1.8M293 1330h1.8M293 1333h1.8M293 1334h1.8M293 1336h1.8M293 1337h1.8M293 1338h1.8M293 1339h1.8M293 1340h1.8M293 1341h1.8M293 1342h1.8M293 1345h1.8M293 1346h1.8M293 1347h1.8M293 1348h1.8M293 1355h1.8M293 1356h1.8M294 1237h1.8M294 1248h1.8M294 1249h1.8M294 1251h1.8M294 1252h1.8M294 1255h1.8M294 1256h1.8M294 1257h1.8M294 1259h1.8M294 1261h1.8M294 1262h1.8M294 1263h1.8M294 1264h1.8M294 1266h1.8M294 1268h1.8M294 1269h1.8M294 1270h1.8M294 1275h1.8M294 1278h1.8M294 1280h1.8M294 1298h1.8M294 1330h1.8M294 1332h1.8M294 1333h1.8M294 1334h1.8M294 1336h1.8M294 1338h1.8M294 1339h1.8M294 1343h1.8M294 1344h1.8M294 1346h1.8M294 1351h1.8M295 1237h1.8M295 1239h1.8M295 1244h1.8M295 1245h1.8M295 1246h1.8M295 1247h1.8M295 1248h1.8M295 1249h1.8M295 1252h1.8M295 1253h1.8M295 1254h1.8M295 1255h1.8M295 1257h1.8M295 1259h1.8M295 1261h1.8M295 1262h1.8M295 1264h1.8M295 1266h1.8M295 1267h1.8M295 1268h1.8M295 1270h1.8M295 1271h1.8M295 1272h1.8M295 1273h1.8M295 1274h1.8M295 1280h1.8M295 1286h1.8M295 1297h1.8M295 1321h1.8M295 1329h1.8M295 1331h1.8M295 1332h1.8M295 1335h1.8M295 1336h1.8M295 1340h1.8M295 1341h1.8M295 1349h1.8M296 1243h1.8M296 1245h1.8M296 1247h1.8M296 1248h1.8M296 1251h1.8M296 1252h1.8M296 1253h1.8M296 1254h1.8M296 1255h1.8M296 1256h1.8M296 1257h1.8M296 1258h1.8M296 1261h1.8M296 1262h1.8M296 1268h1.8M296 1270h1.8M296 1271h1.8M296 1288h1.8M296 1305h1.8M296 1307h1.8M296 1331h1.8M296 1332h1.8M296 1336h1.8M296 1337h1.8M296 1338h1.8M296 1342h1.8M296 1344h1.8M296 1346h1.8M296 1348h1.8M296 1350h1.8M296 1353h1.8M297 1239h1.8M297 1240h1.8M297 1241h1.8M297 1244h1.8M297 1245h1.8M297 1248h1.8M297 1251h1.8M297 1252h1.8M297 1254h1.8M297 1255h1.8M297 1256h1.8M297 1257h1.8M297 1258h1.8M297 1259h1.8M297 1261h1.8M297 1263h1.8M297 1265h1.8M297 1267h1.8M297 1269h1.8M297 1273h1.8M297 1274h1.8M297 1276h1.8M297 1278h1.8M297 1281h1.8M297 1320h1.8M297 1333h1.8M297 1339h1.8M297 1341h1.8M297 1342h1.8M297 1345h1.8M298 1246h1.8M298 1247h1.8M298 1248h1.8M298 1249h1.8M298 1253h1.8M298 1254h1.8M298 1255h1.8M298 1256h1.8M298 1257h1.8M298 1258h1.8M298 1259h1.8M298 1261h1.8M298 1262h1.8M298 1263h1.8M298 1264h1.8M298 1266h1.8M298 1267h1.8M298 1268h1.8M298 1275h1.8M298 1280h1.8M298 1291h1.8M298 1327h1.8M298 1328h1.8M298 1335h1.8M298 1338h1.8M298 1340h1.8M298 1343h1.8M298 1346h1.8M299 1244h1.8M299 1246h1.8M299 1248h1.8M299 1251h1.8M299 1252h1.8M299 1253h1.8M299 1254h1.8M299 1258h1.8M299 1259h1.8M299 1261h1.8M299 1262h1.8M299 1263h1.8M299 1293h1.8M299 1296h1.8M299 1299h1.8M299 1303h1.8M299 1308h1.8M299 1323h1.8M299 1330h1.8M299 1331h1.8M299 1335h1.8M299 1336h1.8M299 1346h1.8M300 1244h1.8M300 1248h1.8M300 1251h1.8M300 1252h1.8M300 1253h1.8M300 1255h1.8M300 1256h1.8M300 1257h1.8M300 1259h1.8M300 1260h1.8M300 1261h1.8M300 1262h1.8M300 1263h1.8M300 1264h1.8M300 1265h1.8M300 1266h1.8M300 1268h1.8M300 1271h1.8M300 1277h1.8M300 1280h1.8M300 1281h1.8M300 1333h1.8M300 1334h1.8M300 1335h1.8M300 1338h1.8M300 1344h1.8M300 1345h1.8M301 1243h1.8M301 1245h1.8M301 1246h1.8M301 1248h1.8M301 1249h1.8M301 1252h1.8M301 1253h1.8M301 1254h1.8M301 1256h1.8M301 1258h1.8M301 1259h1.8M301 1260h1.8M301 1261h1.8M301 1262h1.8M301 1266h1.8M301 1269h1.8M301 1270h1.8M301 1325h1.8M301 1332h1.8M302 1231h1.8M302 1238h1.8M302 1248h1.8M302 1249h1.8M302 1250h1.8M302 1251h1.8M302 1252h1.8M302 1255h1.8M302 1256h1.8M302 1257h1.8M302 1258h1.8M302 1259h1.8M302 1262h1.8M302 1263h1.8M302 1265h1.8M302 1280h1.8M302 1281h1.8M302 1287h1.8M302 1327h1.8M302 1333h1.8M302 1334h1.8M302 1343h1.8M303 1242h1.8M303 1248h1.8M303 1249h1.8M303 1251h1.8M303 1252h1.8M303 1254h1.8M303 1255h1.8M303 1257h1.8M303 1258h1.8M303 1261h1.8M303 1264h1.8M303 1265h1.8M303 1267h1.8M303 1268h1.8M303 1325h1.8M303 1337h1.8M303 1338h1.8M303 1340h1.8M303 1341h1.8M303 1343h1.8M304 1236h1.8M304 1244h1.8M304 1246h1.8M304 1248h1.8M304 1249h1.8M304 1250h1.8M304 1251h1.8M304 1252h1.8M304 1254h1.8M304 1257h1.8M304 1259h1.8M304 1263h1.8M304 1265h1.8M304 1269h1.8M304 1270h1.8M304 1327h1.8M304 1336h1.8M304 1337h1.8M304 1344h1.8M304 1347h1.8M304 1350h1.8M305 1244h1.8M305 1247h1.8M305 1249h1.8M305 1252h1.8M305 1253h1.8M305 1254h1.8M305 1255h1.8M305 1256h1.8M305 1257h1.8M305 1259h1.8M305 1262h1.8M305 1263h1.8M305 1264h1.8M305 1267h1.8M305 1271h1.8M305 1274h1.8M305 1330h1.8M305 1333h1.8M305 1341h1.8M306 1248h1.8M306 1249h1.8M306 1253h1.8M306 1254h1.8M306 1255h1.8M306 1257h1.8M306 1262h1.8M306 1264h1.8M306 1281h1.8M306 1331h1.8M306 1343h1.8M307 1234h1.8M307 1248h1.8M307 1252h1.8M307 1255h1.8M307 1256h1.8M307 1257h1.8M307 1274h1.8M307 1341h1.8M308 1243h1.8M308 1252h1.8M308 1253h1.8M308 1257h1.8M308 1258h1.8M308 1260h1.8M308 1266h1.8M308 1267h1.8M308 1268h1.8M308 1281h1.8M308 1283h1.8M308 1333h1.8M308 1335h1.8M308 1336h1.8M308 1341h1.8M308 1342h1.8M309 1247h1.8M309 1250h1.8M309 1254h1.8M309 1259h1.8M309 1262h1.8M309 1280h1.8M309 1337h1.8M310 1253h1.8M310 1257h1.8M310 1260h1.8M310 1265h1.8M311 1254h1.8M311 1270h1.8M312 1256h1.8M312 1260h1.8M313 1250h1.8M313 1254h1.8M313 1255h1.8M313 1333h1.8M314 1280h1.8M315 1257h1.8M315 1271h1.8M316 1259h1.8M317 1258h1.8M318 1272h1.8M319 1250h1.8M320 1279h1.8M321 1259h1.8M325 1285h1.8M325 1319h1.8M325 1341h1.8M329 1254h1.8M346 1255h1.8M350 1240h1.8" stroke="#000" stroke-width="1.8" fill="none"/><rect x="72.5" y="592.3" width="107.1" height="97.5" fill="none" stroke="#000" stroke-width="1.1"/><path d="M72.5 689.8v6M85.3 689.8v6M90.6 689.8v6M95.8 689.8v6M119.9 689.8v6M145.6 689.8v6M169.4 689.8v6M76.5 689.8v3.5M79.5 689.8v3.5M176.5 689.8v3.5M103.05 689.8v3.5M107.3 689.8v3.5M110.31 689.8v3.5M112.65 689.8v3.5M114.55 689.8v3.5M116.17 689.8v3.5M117.56 689.8v3.5M118.8 689.8v3.5M127.64 689.8v3.5M132.16 689.8v3.5M135.37 689.8v3.5M137.86 689.8v3.5M139.9 689.8v3.5M141.62 689.8v3.5M143.11 689.8v3.5M144.42 689.8v3.5M152.76 689.8v3.5M156.96 689.8v3.5M159.93 689.8v3.5M162.24 689.8v3.5M164.12 689.8v3.5M165.71 689.8v3.5M167.09 689.8v3.5M168.31 689.8v3.5M72.5 689.8h-5M72.5 678.15h-5M72.5 673.32h-5M72.5 668.59h-5M72.5 646.65h-5M72.5 623.25h-5M72.5 601.59h-5M72.5 686.16h-3M72.5 683.43h-3M72.5 595.12h-3M72.5 661.98h-3M72.5 658.12h-3M72.5 655.38h-3M72.5 653.25h-3M72.5 651.52h-3M72.5 650.05h-3M72.5 648.77h-3M72.5 647.65h-3M72.5 639.61h-3M72.5 635.49h-3M72.5 632.56h-3M72.5 630.3h-3M72.5 628.44h-3M72.5 626.88h-3M72.5 625.52h-3M72.5 624.32h-3M72.5 616.73h-3M72.5 612.91h-3M72.5 610.21h-3M72.5 608.11h-3M72.5 606.39h-3M72.5 604.94h-3M72.5 603.69h-3M72.5 602.58h-3" stroke="#000" stroke-width=".9" fill="none"/><text x="78.1" y="605.2" font-size="12.2" font-family="Liberation Serif" stroke="#000" stroke-width=".12">1.2</text><text x="176.1" y="605.2" text-anchor="end" font-size="12.2" font-family="Liberation Serif" stroke="#000" stroke-width=".12">1.4 (0.10)</text><text x="176.1" y="686.3" text-anchor="end" font-size="12.2" font-family="Liberation Serif" stroke="#000" stroke-width=".12">2.4</text><path transform="scale(.5)" d="M154 1581h1.8M160 1528h1.8M160 1575h1.8M161 1458h1.8M161 1576h1.8M162 1582h1.8M163 1568h1.8M163 1575h1.8M163 1576h1.8M163 1583h1.8M164 1571h1.8M164 1574h1.8M164 1578h1.8M165 1568h1.8M165 1569h1.8M165 1575h1.8M165 1576h1.8M165 1577h1.8M165 1582h1.8M166 1515h1.8M166 1527h1.8M166 1561h1.8M166 1564h1.8M166 1567h1.8M166 1573h1.8M166 1576h1.8M167 1490h1.8M167 1491h1.8M167 1507h1.8M167 1565h1.8M167 1568h1.8M167 1569h1.8M167 1570h1.8M167 1571h1.8M167 1572h1.8M167 1577h1.8M168 1559h1.8M168 1563h1.8M168 1567h1.8M168 1569h1.8M168 1572h1.8M168 1576h1.8M169 1445h1.8M169 1486h1.8M169 1527h1.8M169 1565h1.8M169 1566h1.8M169 1567h1.8M169 1569h1.8M169 1572h1.8M169 1573h1.8M169 1575h1.8M169 1577h1.8M169 1578h1.8M169 1580h1.8M169 1581h1.8M169 1583h1.8M169 1586h1.8M170 1480h1.8M170 1568h1.8M170 1570h1.8M170 1571h1.8M170 1573h1.8M170 1577h1.8M170 1581h1.8M170 1582h1.8M170 1583h1.8M170 1587h1.8M171 1567h1.8M171 1569h1.8M171 1572h1.8M171 1573h1.8M171 1574h1.8M171 1575h1.8M171 1577h1.8M171 1580h1.8M172 1480h1.8M172 1485h1.8M172 1558h1.8M172 1564h1.8M172 1567h1.8M172 1568h1.8M172 1569h1.8M172 1570h1.8M172 1572h1.8M172 1574h1.8M172 1575h1.8M172 1576h1.8M172 1577h1.8M172 1578h1.8M172 1583h1.8M173 1566h1.8M173 1568h1.8M173 1569h1.8M173 1570h1.8M173 1571h1.8M173 1573h1.8M173 1577h1.8M173 1583h1.8M173 1584h1.8M174 1479h1.8M174 1480h1.8M174 1481h1.8M174 1483h1.8M174 1527h1.8M174 1539h1.8M174 1562h1.8M174 1564h1.8M174 1565h1.8M174 1568h1.8M174 1569h1.8M174 1570h1.8M174 1571h1.8M174 1572h1.8M174 1573h1.8M174 1574h1.8M174 1577h1.8M174 1580h1.8M174 1581h1.8M174 1584h1.8M175 1484h1.8M175 1499h1.8M175 1535h1.8M175 1564h1.8M175 1566h1.8M175 1568h1.8M175 1569h1.8M175 1570h1.8M175 1571h1.8M175 1572h1.8M175 1573h1.8M175 1574h1.8M175 1575h1.8M175 1576h1.8M175 1577h1.8M175 1578h1.8M175 1580h1.8M175 1582h1.8M175 1583h1.8M176 1478h1.8M176 1482h1.8M176 1532h1.8M176 1560h1.8M176 1562h1.8M176 1565h1.8M176 1567h1.8M176 1569h1.8M176 1571h1.8M176 1572h1.8M176 1573h1.8M176 1574h1.8M176 1575h1.8M176 1577h1.8M176 1578h1.8M176 1579h1.8M176 1580h1.8M176 1581h1.8M176 1582h1.8M176 1583h1.8M176 1584h1.8M177 1469h1.8M177 1473h1.8M177 1493h1.8M177 1496h1.8M177 1557h1.8M177 1560h1.8M177 1565h1.8M177 1566h1.8M177 1567h1.8M177 1568h1.8M177 1569h1.8M177 1570h1.8M177 1572h1.8M177 1573h1.8M177 1574h1.8M177 1575h1.8M177 1576h1.8M177 1577h1.8M177 1578h1.8M177 1579h1.8M177 1580h1.8M177 1584h1.8M177 1585h1.8M177 1591h1.8M178 1474h1.8M178 1483h1.8M178 1486h1.8M178 1494h1.8M178 1557h1.8M178 1560h1.8M178 1563h1.8M178 1564h1.8M178 1566h1.8M178 1567h1.8M178 1568h1.8M178 1569h1.8M178 1570h1.8M178 1571h1.8M178 1572h1.8M178 1573h1.8M178 1574h1.8M178 1575h1.8M178 1576h1.8M178 1577h1.8M178 1579h1.8M178 1580h1.8M178 1581h1.8M178 1584h1.8M178 1586h1.8M178 1588h1.8M178 1589h1.8M178 1591h1.8M179 1478h1.8M179 1480h1.8M179 1483h1.8M179 1485h1.8M179 1492h1.8M179 1498h1.8M179 1559h1.8M179 1560h1.8M179 1561h1.8M179 1562h1.8M179 1563h1.8M179 1564h1.8M179 1565h1.8M179 1566h1.8M179 1567h1.8M179 1568h1.8M179 1569h1.8M179 1570h1.8M179 1572h1.8M179 1573h1.8M179 1574h1.8M179 1575h1.8M179 1576h1.8M179 1577h1.8M179 1579h1.8M179 1580h1.8M179 1581h1.8M179 1582h1.8M179 1586h1.8M180 1479h1.8M180 1482h1.8M180 1483h1.8M180 1486h1.8M180 1490h1.8M180 1551h1.8M180 1557h1.8M180 1560h1.8M180 1563h1.8M180 1565h1.8M180 1567h1.8M180 1568h1.8M180 1569h1.8M180 1570h1.8M180 1571h1.8M180 1572h1.8M180 1573h1.8M180 1574h1.8M180 1575h1.8M180 1576h1.8M180 1577h1.8M180 1578h1.8M180 1579h1.8M180 1580h1.8M180 1582h1.8M180 1584h1.8M180 1585h1.8M180 1586h1.8M180 1588h1.8M181 1484h1.8M181 1486h1.8M181 1490h1.8M181 1494h1.8M181 1554h1.8M181 1558h1.8M181 1564h1.8M181 1565h1.8M181 1566h1.8M181 1568h1.8M181 1569h1.8M181 1571h1.8M181 1572h1.8M181 1573h1.8M181 1574h1.8M181 1575h1.8M181 1576h1.8M181 1577h1.8M181 1578h1.8M181 1579h1.8M181 1580h1.8M181 1581h1.8M181 1585h1.8M181 1586h1.8M181 1591h1.8M181 1592h1.8M182 1470h1.8M182 1474h1.8M182 1477h1.8M182 1483h1.8M182 1488h1.8M182 1499h1.8M182 1554h1.8M182 1558h1.8M182 1559h1.8M182 1560h1.8M182 1561h1.8M182 1564h1.8M182 1566h1.8M182 1567h1.8M182 1568h1.8M182 1569h1.8M182 1570h1.8M182 1571h1.8M182 1572h1.8M182 1573h1.8M182 1574h1.8M182 1576h1.8M182 1579h1.8M182 1580h1.8M182 1581h1.8M182 1582h1.8M182 1583h1.8M182 1584h1.8M182 1593h1.8M183 1472h1.8M183 1481h1.8M183 1482h1.8M183 1486h1.8M183 1487h1.8M183 1489h1.8M183 1491h1.8M183 1493h1.8M183 1494h1.8M183 1559h1.8M183 1562h1.8M183 1563h1.8M183 1564h1.8M183 1565h1.8M183 1566h1.8M183 1567h1.8M183 1568h1.8M183 1569h1.8M183 1570h1.8M183 1571h1.8M183 1572h1.8M183 1573h1.8M183 1574h1.8M183 1575h1.8M183 1576h1.8M183 1577h1.8M183 1578h1.8M183 1579h1.8M183 1580h1.8M183 1581h1.8M183 1583h1.8M183 1586h1.8M183 1587h1.8M183 1590h1.8M184 1466h1.8M184 1473h1.8M184 1476h1.8M184 1479h1.8M184 1480h1.8M184 1481h1.8M184 1484h1.8M184 1485h1.8M184 1491h1.8M184 1521h1.8M184 1556h1.8M184 1557h1.8M184 1560h1.8M184 1562h1.8M184 1564h1.8M184 1565h1.8M184 1566h1.8M184 1567h1.8M184 1568h1.8M184 1569h1.8M184 1570h1.8M184 1571h1.8M184 1572h1.8M184 1573h1.8M184 1574h1.8M184 1575h1.8M184 1576h1.8M184 1577h1.8M184 1579h1.8M184 1580h1.8M184 1581h1.8M184 1582h1.8M184 1583h1.8M184 1584h1.8M184 1588h1.8M185 1475h1.8M185 1476h1.8M185 1478h1.8M185 1479h1.8M185 1489h1.8M185 1561h1.8M185 1562h1.8M185 1563h1.8M185 1564h1.8M185 1565h1.8M185 1566h1.8M185 1567h1.8M185 1568h1.8M185 1569h1.8M185 1570h1.8M185 1571h1.8M185 1572h1.8M185 1573h1.8M185 1574h1.8M185 1575h1.8M185 1576h1.8M185 1577h1.8M185 1578h1.8M185 1580h1.8M185 1581h1.8M185 1582h1.8M185 1584h1.8M185 1587h1.8M185 1589h1.8M185 1593h1.8M186 1481h1.8M186 1482h1.8M186 1483h1.8M186 1485h1.8M186 1486h1.8M186 1496h1.8M186 1500h1.8M186 1503h1.8M186 1505h1.8M186 1558h1.8M186 1560h1.8M186 1561h1.8M186 1563h1.8M186 1564h1.8M186 1565h1.8M186 1566h1.8M186 1567h1.8M186 1568h1.8M186 1569h1.8M186 1570h1.8M186 1571h1.8M186 1572h1.8M186 1573h1.8M186 1574h1.8M186 1575h1.8M186 1576h1.8M186 1577h1.8M186 1578h1.8M186 1579h1.8M186 1580h1.8M186 1581h1.8M186 1582h1.8M186 1583h1.8M186 1584h1.8M186 1585h1.8M187 1483h1.8M187 1486h1.8M187 1492h1.8M187 1495h1.8M187 1559h1.8M187 1561h1.8M187 1562h1.8M187 1565h1.8M187 1567h1.8M187 1568h1.8M187 1569h1.8M187 1570h1.8M187 1571h1.8M187 1572h1.8M187 1573h1.8M187 1574h1.8M187 1575h1.8M187 1576h1.8M187 1577h1.8M187 1578h1.8M187 1579h1.8M187 1580h1.8M187 1581h1.8M187 1582h1.8M187 1583h1.8M187 1585h1.8M187 1587h1.8M187 1588h1.8M188 1472h1.8M188 1474h1.8M188 1476h1.8M188 1480h1.8M188 1485h1.8M188 1487h1.8M188 1492h1.8M188 1494h1.8M188 1495h1.8M188 1563h1.8M188 1564h1.8M188 1565h1.8M188 1566h1.8M188 1567h1.8M188 1568h1.8M188 1569h1.8M188 1570h1.8M188 1571h1.8M188 1572h1.8M188 1573h1.8M188 1574h1.8M188 1575h1.8M188 1576h1.8M188 1577h1.8M188 1578h1.8M188 1579h1.8M188 1581h1.8M188 1582h1.8M188 1583h1.8M188 1584h1.8M188 1585h1.8M188 1586h1.8M188 1590h1.8M189 1478h1.8M189 1480h1.8M189 1481h1.8M189 1482h1.8M189 1483h1.8M189 1493h1.8M189 1494h1.8M189 1495h1.8M189 1557h1.8M189 1561h1.8M189 1563h1.8M189 1564h1.8M189 1565h1.8M189 1566h1.8M189 1567h1.8M189 1568h1.8M189 1569h1.8M189 1570h1.8M189 1571h1.8M189 1572h1.8M189 1573h1.8M189 1574h1.8M189 1575h1.8M189 1576h1.8M189 1577h1.8M189 1578h1.8M189 1579h1.8M189 1580h1.8M189 1581h1.8M189 1582h1.8M189 1583h1.8M189 1584h1.8M189 1585h1.8M189 1587h1.8M189 1589h1.8M190 1439h1.8M190 1469h1.8M190 1472h1.8M190 1474h1.8M190 1478h1.8M190 1479h1.8M190 1481h1.8M190 1482h1.8M190 1485h1.8M190 1486h1.8M190 1488h1.8M190 1490h1.8M190 1497h1.8M190 1504h1.8M190 1555h1.8M190 1558h1.8M190 1560h1.8M190 1561h1.8M190 1562h1.8M190 1565h1.8M190 1566h1.8M190 1567h1.8M190 1568h1.8M190 1569h1.8M190 1570h1.8M190 1571h1.8M190 1572h1.8M190 1573h1.8M190 1574h1.8M190 1575h1.8M190 1576h1.8M190 1577h1.8M190 1578h1.8M190 1579h1.8M190 1580h1.8M190 1581h1.8M190 1582h1.8M190 1585h1.8M190 1587h1.8M191 1474h1.8M191 1477h1.8M191 1478h1.8M191 1480h1.8M191 1484h1.8M191 1486h1.8M191 1487h1.8M191 1489h1.8M191 1495h1.8M191 1526h1.8M191 1555h1.8M191 1558h1.8M191 1559h1.8M191 1560h1.8M191 1563h1.8M191 1564h1.8M191 1566h1.8M191 1567h1.8M191 1568h1.8M191 1569h1.8M191 1570h1.8M191 1571h1.8M191 1572h1.8M191 1573h1.8M191 1574h1.8M191 1575h1.8M191 1576h1.8M191 1577h1.8M191 1578h1.8M191 1579h1.8M191 1580h1.8M191 1581h1.8M191 1582h1.8M191 1583h1.8M191 1584h1.8M191 1585h1.8M191 1587h1.8M191 1589h1.8M192 1482h1.8M192 1484h1.8M192 1485h1.8M192 1486h1.8M192 1562h1.8M192 1563h1.8M192 1566h1.8M192 1567h1.8M192 1568h1.8M192 1569h1.8M192 1570h1.8M192 1571h1.8M192 1572h1.8M192 1573h1.8M192 1574h1.8M192 1575h1.8M192 1576h1.8M192 1577h1.8M192 1578h1.8M192 1579h1.8M192 1580h1.8M192 1581h1.8M192 1582h1.8M192 1584h1.8M192 1585h1.8M192 1586h1.8M192 1587h1.8M193 1482h1.8M193 1487h1.8M193 1490h1.8M193 1491h1.8M193 1493h1.8M193 1549h1.8M193 1556h1.8M193 1557h1.8M193 1560h1.8M193 1561h1.8M193 1562h1.8M193 1563h1.8M193 1565h1.8M193 1566h1.8M193 1567h1.8M193 1568h1.8M193 1569h1.8M193 1570h1.8M193 1571h1.8M193 1572h1.8M193 1573h1.8M193 1574h1.8M193 1575h1.8M193 1576h1.8M193 1577h1.8M193 1578h1.8M193 1579h1.8M193 1580h1.8M193 1581h1.8M193 1582h1.8M193 1583h1.8M193 1584h1.8M193 1585h1.8M193 1586h1.8M193 1588h1.8M193 1589h1.8M194 1478h1.8M194 1480h1.8M194 1483h1.8M194 1488h1.8M194 1493h1.8M194 1498h1.8M194 1559h1.8M194 1562h1.8M194 1563h1.8M194 1564h1.8M194 1565h1.8M194 1567h1.8M194 1568h1.8M194 1569h1.8M194 1570h1.8M194 1571h1.8M194 1572h1.8M194 1573h1.8M194 1574h1.8M194 1575h1.8M194 1576h1.8M194 1577h1.8M194 1578h1.8M194 1579h1.8M194 1580h1.8M194 1581h1.8M194 1582h1.8M194 1583h1.8M194 1584h1.8M194 1585h1.8M195 1472h1.8M195 1478h1.8M195 1479h1.8M195 1480h1.8M195 1484h1.8M195 1485h1.8M195 1489h1.8M195 1491h1.8M195 1532h1.8M195 1556h1.8M195 1557h1.8M195 1560h1.8M195 1561h1.8M195 1562h1.8M195 1563h1.8M195 1564h1.8M195 1565h1.8M195 1568h1.8M195 1569h1.8M195 1570h1.8M195 1571h1.8M195 1572h1.8M195 1573h1.8M195 1574h1.8M195 1575h1.8M195 1576h1.8M195 1577h1.8M195 1578h1.8M195 1579h1.8M195 1580h1.8M195 1581h1.8M195 1582h1.8M195 1583h1.8M195 1584h1.8M195 1585h1.8M195 1587h1.8M195 1588h1.8M195 1589h1.8M195 1590h1.8M196 1481h1.8M196 1483h1.8M196 1484h1.8M196 1487h1.8M196 1563h1.8M196 1564h1.8M196 1565h1.8M196 1566h1.8M196 1567h1.8M196 1568h1.8M196 1569h1.8M196 1570h1.8M196 1571h1.8M196 1572h1.8M196 1573h1.8M196 1574h1.8M196 1575h1.8M196 1576h1.8M196 1577h1.8M196 1578h1.8M196 1579h1.8M196 1580h1.8M196 1582h1.8M196 1583h1.8M196 1585h1.8M196 1590h1.8M197 1473h1.8M197 1480h1.8M197 1481h1.8M197 1485h1.8M197 1487h1.8M197 1490h1.8M197 1556h1.8M197 1559h1.8M197 1562h1.8M197 1563h1.8M197 1564h1.8M197 1566h1.8M197 1567h1.8M197 1568h1.8M197 1569h1.8M197 1570h1.8M197 1571h1.8M197 1572h1.8M197 1573h1.8M197 1574h1.8M197 1575h1.8M197 1576h1.8M197 1577h1.8M197 1578h1.8M197 1579h1.8M197 1580h1.8M197 1582h1.8M197 1585h1.8M197 1588h1.8M197 1589h1.8M198 1466h1.8M198 1467h1.8M198 1472h1.8M198 1477h1.8M198 1487h1.8M198 1490h1.8M198 1493h1.8M198 1561h1.8M198 1564h1.8M198 1565h1.8M198 1567h1.8M198 1568h1.8M198 1569h1.8M198 1570h1.8M198 1571h1.8M198 1572h1.8M198 1573h1.8M198 1574h1.8M198 1575h1.8M198 1576h1.8M198 1577h1.8M198 1578h1.8M198 1579h1.8M198 1580h1.8M198 1581h1.8M198 1585h1.8M198 1588h1.8M199 1464h1.8M199 1469h1.8M199 1472h1.8M199 1475h1.8M199 1476h1.8M199 1479h1.8M199 1482h1.8M199 1483h1.8M199 1486h1.8M199 1488h1.8M199 1490h1.8M199 1492h1.8M199 1500h1.8M199 1561h1.8M199 1563h1.8M199 1564h1.8M199 1565h1.8M199 1569h1.8M199 1571h1.8M199 1572h1.8M199 1573h1.8M199 1574h1.8M199 1575h1.8M199 1576h1.8M199 1577h1.8M199 1578h1.8M199 1579h1.8M199 1580h1.8M199 1581h1.8M199 1582h1.8M199 1583h1.8M199 1585h1.8M199 1587h1.8M199 1588h1.8M200 1483h1.8M200 1487h1.8M200 1546h1.8M200 1562h1.8M200 1563h1.8M200 1564h1.8M200 1565h1.8M200 1566h1.8M200 1567h1.8M200 1568h1.8M200 1569h1.8M200 1570h1.8M200 1571h1.8M200 1573h1.8M200 1574h1.8M200 1575h1.8M200 1576h1.8M200 1577h1.8M200 1578h1.8M200 1579h1.8M200 1580h1.8M200 1585h1.8M200 1587h1.8M200 1590h1.8M201 1476h1.8M201 1479h1.8M201 1483h1.8M201 1485h1.8M201 1486h1.8M201 1495h1.8M201 1496h1.8M201 1559h1.8M201 1560h1.8M201 1561h1.8M201 1562h1.8M201 1566h1.8M201 1568h1.8M201 1569h1.8M201 1570h1.8M201 1573h1.8M201 1574h1.8M201 1575h1.8M201 1576h1.8M201 1577h1.8M201 1578h1.8M201 1581h1.8M201 1582h1.8M201 1586h1.8M202 1482h1.8M202 1483h1.8M202 1486h1.8M202 1487h1.8M202 1552h1.8M202 1553h1.8M202 1557h1.8M202 1559h1.8M202 1562h1.8M202 1563h1.8M202 1564h1.8M202 1565h1.8M202 1566h1.8M202 1567h1.8M202 1568h1.8M202 1570h1.8M202 1571h1.8M202 1572h1.8M202 1573h1.8M202 1574h1.8M202 1575h1.8M202 1576h1.8M202 1577h1.8M202 1578h1.8M202 1579h1.8M202 1580h1.8M202 1581h1.8M202 1582h1.8M202 1583h1.8M202 1585h1.8M202 1586h1.8M203 1487h1.8M203 1491h1.8M203 1493h1.8M203 1500h1.8M203 1501h1.8M203 1566h1.8M203 1568h1.8M203 1569h1.8M203 1570h1.8M203 1571h1.8M203 1573h1.8M203 1574h1.8M203 1575h1.8M203 1576h1.8M203 1577h1.8M203 1580h1.8M203 1581h1.8M203 1582h1.8M203 1583h1.8M203 1584h1.8M203 1585h1.8M203 1587h1.8M204 1479h1.8M204 1481h1.8M204 1495h1.8M204 1534h1.8M204 1562h1.8M204 1563h1.8M204 1565h1.8M204 1566h1.8M204 1567h1.8M204 1568h1.8M204 1569h1.8M204 1570h1.8M204 1571h1.8M204 1572h1.8M204 1573h1.8M204 1574h1.8M204 1575h1.8M204 1576h1.8M204 1577h1.8M204 1579h1.8M204 1580h1.8M204 1582h1.8M204 1584h1.8M204 1585h1.8M204 1587h1.8M205 1471h1.8M205 1496h1.8M205 1535h1.8M205 1560h1.8M205 1562h1.8M205 1563h1.8M205 1567h1.8M205 1568h1.8M205 1569h1.8M205 1572h1.8M205 1573h1.8M205 1575h1.8M205 1576h1.8M205 1577h1.8M205 1578h1.8M205 1579h1.8M205 1582h1.8M206 1482h1.8M206 1484h1.8M206 1489h1.8M206 1555h1.8M206 1562h1.8M206 1566h1.8M206 1569h1.8M206 1571h1.8M206 1572h1.8M206 1573h1.8M206 1574h1.8M206 1575h1.8M206 1576h1.8M206 1580h1.8M206 1581h1.8M206 1586h1.8M207 1490h1.8M207 1497h1.8M207 1525h1.8M207 1562h1.8M207 1563h1.8M207 1567h1.8M207 1570h1.8M207 1573h1.8M207 1574h1.8M207 1577h1.8M207 1583h1.8M207 1590h1.8M207 1595h1.8M208 1487h1.8M208 1488h1.8M208 1559h1.8M208 1566h1.8M208 1570h1.8M208 1571h1.8M208 1572h1.8M208 1573h1.8M208 1575h1.8M208 1576h1.8M208 1577h1.8M208 1578h1.8M208 1579h1.8M208 1583h1.8M209 1470h1.8M209 1477h1.8M209 1478h1.8M209 1483h1.8M209 1492h1.8M209 1558h1.8M209 1563h1.8M209 1566h1.8M209 1567h1.8M209 1570h1.8M209 1575h1.8M209 1576h1.8M210 1485h1.8M210 1487h1.8M210 1491h1.8M210 1560h1.8M210 1563h1.8M210 1565h1.8M210 1566h1.8M210 1568h1.8M210 1569h1.8M210 1573h1.8M210 1574h1.8M210 1575h1.8M210 1579h1.8M211 1487h1.8M211 1569h1.8M211 1570h1.8M211 1574h1.8M211 1578h1.8M211 1583h1.8M211 1591h1.8M212 1575h1.8M212 1576h1.8M212 1578h1.8M213 1482h1.8M213 1563h1.8M213 1564h1.8M213 1579h1.8M214 1554h1.8M214 1576h1.8M214 1579h1.8M214 1583h1.8M215 1477h1.8M215 1482h1.8M215 1575h1.8M215 1579h1.8M215 1580h1.8M216 1560h1.8M217 1507h1.8M217 1566h1.8M217 1576h1.8M217 1577h1.8M217 1584h1.8M218 1509h1.8M218 1514h1.8M218 1579h1.8M219 1536h1.8M219 1568h1.8M219 1571h1.8M219 1573h1.8M219 1579h1.8M219 1583h1.8M220 1573h1.8M220 1576h1.8M220 1583h1.8M221 1535h1.8M221 1576h1.8M221 1577h1.8M221 1590h1.8M222 1541h1.8M222 1565h1.8M223 1476h1.8M224 1545h1.8M226 1517h1.8M226 1533h1.8M226 1577h1.8M227 1514h1.8M228 1511h1.8M228 1522h1.8M228 1576h1.8M228 1580h1.8M228 1581h1.8M229 1568h1.8M229 1573h1.8M229 1575h1.8M229 1586h1.8M230 1513h1.8M230 1569h1.8M230 1574h1.8M230 1577h1.8M230 1605h1.8M231 1545h1.8M231 1566h1.8M231 1578h1.8M232 1560h1.8M232 1573h1.8M232 1574h1.8M233 1557h1.8M233 1563h1.8M233 1570h1.8M233 1578h1.8M234 1570h1.8M234 1575h1.8M234 1576h1.8M234 1578h1.8M235 1570h1.8M235 1571h1.8M235 1574h1.8M235 1575h1.8M235 1580h1.8M235 1584h1.8M236 1561h1.8M236 1565h1.8M236 1568h1.8M236 1571h1.8M236 1573h1.8M236 1574h1.8M236 1575h1.8M236 1580h1.8M236 1581h1.8M237 1568h1.8M237 1573h1.8M237 1575h1.8M237 1581h1.8M237 1582h1.8M237 1584h1.8M237 1585h1.8M238 1507h1.8M238 1557h1.8M238 1563h1.8M238 1564h1.8M238 1565h1.8M238 1566h1.8M238 1574h1.8M238 1575h1.8M238 1576h1.8M238 1577h1.8M238 1578h1.8M238 1583h1.8M238 1584h1.8M238 1593h1.8M239 1480h1.8M239 1541h1.8M239 1548h1.8M239 1560h1.8M239 1563h1.8M239 1569h1.8M239 1571h1.8M239 1574h1.8M239 1575h1.8M239 1576h1.8M239 1577h1.8M239 1578h1.8M239 1581h1.8M239 1583h1.8M240 1478h1.8M240 1559h1.8M240 1564h1.8M240 1568h1.8M240 1573h1.8M240 1574h1.8M240 1578h1.8M240 1579h1.8M240 1580h1.8M240 1581h1.8M240 1582h1.8M241 1492h1.8M241 1550h1.8M241 1562h1.8M241 1564h1.8M241 1565h1.8M241 1568h1.8M241 1569h1.8M241 1571h1.8M241 1572h1.8M241 1573h1.8M241 1575h1.8M241 1576h1.8M242 1478h1.8M242 1479h1.8M242 1513h1.8M242 1552h1.8M242 1566h1.8M242 1568h1.8M242 1569h1.8M242 1571h1.8M242 1573h1.8M242 1574h1.8M242 1575h1.8M242 1576h1.8M242 1577h1.8M242 1578h1.8M242 1579h1.8M242 1580h1.8M242 1581h1.8M242 1582h1.8M242 1594h1.8M243 1547h1.8M243 1561h1.8M243 1563h1.8M243 1564h1.8M243 1565h1.8M243 1568h1.8M243 1569h1.8M243 1570h1.8M243 1571h1.8M243 1572h1.8M243 1574h1.8M243 1575h1.8M243 1577h1.8M243 1578h1.8M243 1579h1.8M243 1580h1.8M243 1581h1.8M243 1582h1.8M243 1584h1.8M244 1507h1.8M244 1516h1.8M244 1553h1.8M244 1561h1.8M244 1567h1.8M244 1568h1.8M244 1569h1.8M244 1570h1.8M244 1571h1.8M244 1572h1.8M244 1574h1.8M244 1575h1.8M244 1579h1.8M244 1581h1.8M244 1582h1.8M244 1583h1.8M244 1584h1.8M245 1465h1.8M245 1469h1.8M245 1483h1.8M245 1506h1.8M245 1510h1.8M245 1559h1.8M245 1562h1.8M245 1563h1.8M245 1566h1.8M245 1568h1.8M245 1569h1.8M245 1571h1.8M245 1572h1.8M245 1573h1.8M245 1574h1.8M245 1576h1.8M245 1577h1.8M245 1579h1.8M245 1580h1.8M245 1581h1.8M246 1489h1.8M246 1495h1.8M246 1557h1.8M246 1562h1.8M246 1565h1.8M246 1566h1.8M246 1567h1.8M246 1568h1.8M246 1569h1.8M246 1571h1.8M246 1572h1.8M246 1573h1.8M246 1574h1.8M246 1575h1.8M246 1576h1.8M246 1577h1.8M246 1578h1.8M246 1579h1.8M246 1580h1.8M246 1581h1.8M246 1585h1.8M246 1586h1.8M246 1592h1.8M247 1501h1.8M247 1560h1.8M247 1562h1.8M247 1563h1.8M247 1564h1.8M247 1565h1.8M247 1566h1.8M247 1567h1.8M247 1568h1.8M247 1569h1.8M247 1570h1.8M247 1572h1.8M247 1573h1.8M247 1574h1.8M247 1575h1.8M247 1576h1.8M247 1577h1.8M247 1578h1.8M247 1579h1.8M247 1580h1.8M247 1581h1.8M247 1582h1.8M247 1584h1.8M247 1593h1.8M248 1483h1.8M248 1487h1.8M248 1495h1.8M248 1562h1.8M248 1565h1.8M248 1566h1.8M248 1567h1.8M248 1568h1.8M248 1569h1.8M248 1570h1.8M248 1571h1.8M248 1572h1.8M248 1573h1.8M248 1574h1.8M248 1575h1.8M248 1577h1.8M248 1578h1.8M248 1579h1.8M248 1580h1.8M248 1584h1.8M248 1587h1.8M249 1472h1.8M249 1489h1.8M249 1491h1.8M249 1492h1.8M249 1549h1.8M249 1559h1.8M249 1561h1.8M249 1562h1.8M249 1563h1.8M249 1565h1.8M249 1566h1.8M249 1567h1.8M249 1568h1.8M249 1569h1.8M249 1570h1.8M249 1571h1.8M249 1572h1.8M249 1573h1.8M249 1574h1.8M249 1575h1.8M249 1576h1.8M249 1577h1.8M249 1578h1.8M249 1579h1.8M249 1580h1.8M249 1581h1.8M249 1582h1.8M249 1583h1.8M249 1585h1.8M249 1591h1.8M250 1475h1.8M250 1486h1.8M250 1490h1.8M250 1491h1.8M250 1561h1.8M250 1563h1.8M250 1565h1.8M250 1566h1.8M250 1567h1.8M250 1568h1.8M250 1570h1.8M250 1571h1.8M250 1572h1.8M250 1573h1.8M250 1574h1.8M250 1575h1.8M250 1576h1.8M250 1577h1.8M250 1578h1.8M250 1579h1.8M250 1580h1.8M250 1581h1.8M250 1582h1.8M250 1583h1.8M250 1584h1.8M250 1585h1.8M250 1587h1.8M251 1514h1.8M251 1553h1.8M251 1555h1.8M251 1558h1.8M251 1563h1.8M251 1564h1.8M251 1566h1.8M251 1568h1.8M251 1569h1.8M251 1570h1.8M251 1571h1.8M251 1572h1.8M251 1573h1.8M251 1574h1.8M251 1575h1.8M251 1576h1.8M251 1577h1.8M251 1578h1.8M251 1579h1.8M251 1581h1.8M251 1583h1.8M251 1584h1.8M251 1585h1.8M251 1588h1.8M252 1483h1.8M252 1486h1.8M252 1491h1.8M252 1492h1.8M252 1495h1.8M252 1563h1.8M252 1564h1.8M252 1566h1.8M252 1567h1.8M252 1568h1.8M252 1569h1.8M252 1570h1.8M252 1571h1.8M252 1572h1.8M252 1573h1.8M252 1574h1.8M252 1575h1.8M252 1576h1.8M252 1577h1.8M252 1578h1.8M252 1579h1.8M252 1580h1.8M252 1581h1.8M252 1584h1.8M252 1585h1.8M252 1586h1.8M253 1464h1.8M253 1473h1.8M253 1487h1.8M253 1552h1.8M253 1561h1.8M253 1562h1.8M253 1563h1.8M253 1565h1.8M253 1567h1.8M253 1568h1.8M253 1569h1.8M253 1570h1.8M253 1571h1.8M253 1572h1.8M253 1573h1.8M253 1574h1.8M253 1575h1.8M253 1576h1.8M253 1577h1.8M253 1578h1.8M253 1579h1.8M253 1580h1.8M253 1581h1.8M253 1583h1.8M253 1588h1.8M254 1471h1.8M254 1483h1.8M254 1493h1.8M254 1496h1.8M254 1499h1.8M254 1556h1.8M254 1560h1.8M254 1562h1.8M254 1563h1.8M254 1565h1.8M254 1566h1.8M254 1567h1.8M254 1568h1.8M254 1569h1.8M254 1570h1.8M254 1571h1.8M254 1572h1.8M254 1573h1.8M254 1574h1.8M254 1575h1.8M254 1576h1.8M254 1577h1.8M254 1578h1.8M254 1579h1.8M254 1580h1.8M254 1581h1.8M254 1583h1.8M254 1584h1.8M254 1585h1.8M254 1586h1.8M254 1587h1.8M254 1589h1.8M255 1475h1.8M255 1482h1.8M255 1557h1.8M255 1558h1.8M255 1564h1.8M255 1565h1.8M255 1566h1.8M255 1567h1.8M255 1569h1.8M255 1570h1.8M255 1571h1.8M255 1572h1.8M255 1573h1.8M255 1574h1.8M255 1575h1.8M255 1576h1.8M255 1577h1.8M255 1578h1.8M255 1579h1.8M255 1581h1.8M255 1582h1.8M255 1585h1.8M255 1587h1.8M256 1476h1.8M256 1483h1.8M256 1486h1.8M256 1492h1.8M256 1560h1.8M256 1562h1.8M256 1563h1.8M256 1564h1.8M256 1565h1.8M256 1566h1.8M256 1567h1.8M256 1568h1.8M256 1569h1.8M256 1570h1.8M256 1571h1.8M256 1572h1.8M256 1573h1.8M256 1574h1.8M256 1575h1.8M256 1576h1.8M256 1577h1.8M256 1578h1.8M256 1579h1.8M256 1580h1.8M256 1582h1.8M256 1583h1.8M256 1584h1.8M256 1585h1.8M256 1586h1.8M256 1587h1.8M257 1471h1.8M257 1473h1.8M257 1485h1.8M257 1486h1.8M257 1490h1.8M257 1492h1.8M257 1493h1.8M257 1559h1.8M257 1560h1.8M257 1561h1.8M257 1564h1.8M257 1565h1.8M257 1566h1.8M257 1567h1.8M257 1568h1.8M257 1569h1.8M257 1570h1.8M257 1571h1.8M257 1572h1.8M257 1573h1.8M257 1574h1.8M257 1575h1.8M257 1576h1.8M257 1577h1.8M257 1578h1.8M257 1579h1.8M257 1580h1.8M257 1581h1.8M257 1582h1.8M257 1583h1.8M257 1584h1.8M257 1590h1.8M257 1598h1.8M258 1481h1.8M258 1482h1.8M258 1483h1.8M258 1484h1.8M258 1486h1.8M258 1492h1.8M258 1552h1.8M258 1559h1.8M258 1561h1.8M258 1562h1.8M258 1563h1.8M258 1564h1.8M258 1565h1.8M258 1566h1.8M258 1567h1.8M258 1568h1.8M258 1569h1.8M258 1570h1.8M258 1571h1.8M258 1572h1.8M258 1573h1.8M258 1574h1.8M258 1575h1.8M258 1576h1.8M258 1577h1.8M258 1578h1.8M258 1579h1.8M258 1580h1.8M258 1581h1.8M258 1582h1.8M258 1583h1.8M258 1584h1.8M258 1586h1.8M258 1587h1.8M258 1589h1.8M258 1593h1.8M259 1475h1.8M259 1479h1.8M259 1480h1.8M259 1488h1.8M259 1492h1.8M259 1494h1.8M259 1552h1.8M259 1560h1.8M259 1561h1.8M259 1562h1.8M259 1563h1.8M259 1564h1.8M259 1565h1.8M259 1566h1.8M259 1567h1.8M259 1568h1.8M259 1569h1.8M259 1570h1.8M259 1571h1.8M259 1572h1.8M259 1573h1.8M259 1574h1.8M259 1575h1.8M259 1576h1.8M259 1577h1.8M259 1578h1.8M259 1579h1.8M259 1580h1.8M259 1581h1.8M259 1582h1.8M259 1583h1.8M259 1584h1.8M259 1585h1.8M259 1589h1.8M260 1469h1.8M260 1476h1.8M260 1489h1.8M260 1492h1.8M260 1520h1.8M260 1556h1.8M260 1559h1.8M260 1563h1.8M260 1564h1.8M260 1565h1.8M260 1566h1.8M260 1567h1.8M260 1568h1.8M260 1569h1.8M260 1570h1.8M260 1571h1.8M260 1572h1.8M260 1573h1.8M260 1574h1.8M260 1575h1.8M260 1576h1.8M260 1577h1.8M260 1578h1.8M260 1579h1.8M260 1580h1.8M260 1581h1.8M260 1582h1.8M260 1584h1.8M260 1585h1.8M260 1586h1.8M261 1482h1.8M261 1483h1.8M261 1484h1.8M261 1487h1.8M261 1489h1.8M261 1490h1.8M261 1497h1.8M261 1498h1.8M261 1525h1.8M261 1554h1.8M261 1555h1.8M261 1560h1.8M261 1561h1.8M261 1563h1.8M261 1564h1.8M261 1566h1.8M261 1567h1.8M261 1568h1.8M261 1569h1.8M261 1570h1.8M261 1571h1.8M261 1572h1.8M261 1573h1.8M261 1574h1.8M261 1575h1.8M261 1576h1.8M261 1577h1.8M261 1578h1.8M261 1579h1.8M261 1580h1.8M261 1581h1.8M261 1584h1.8M261 1585h1.8M261 1586h1.8M261 1587h1.8M261 1588h1.8M261 1592h1.8M262 1482h1.8M262 1483h1.8M262 1484h1.8M262 1490h1.8M262 1499h1.8M262 1523h1.8M262 1556h1.8M262 1557h1.8M262 1561h1.8M262 1562h1.8M262 1564h1.8M262 1565h1.8M262 1566h1.8M262 1567h1.8M262 1568h1.8M262 1569h1.8M262 1570h1.8M262 1571h1.8M262 1572h1.8M262 1573h1.8M262 1574h1.8M262 1575h1.8M262 1576h1.8M262 1577h1.8M262 1578h1.8M262 1579h1.8M262 1580h1.8M262 1581h1.8M262 1582h1.8M262 1583h1.8M262 1584h1.8M262 1585h1.8M262 1587h1.8M263 1479h1.8M263 1482h1.8M263 1484h1.8M263 1486h1.8M263 1487h1.8M263 1496h1.8M263 1550h1.8M263 1562h1.8M263 1564h1.8M263 1565h1.8M263 1566h1.8M263 1567h1.8M263 1568h1.8M263 1569h1.8M263 1570h1.8M263 1571h1.8M263 1572h1.8M263 1573h1.8M263 1574h1.8M263 1575h1.8M263 1576h1.8M263 1577h1.8M263 1578h1.8M263 1579h1.8M263 1580h1.8M263 1581h1.8M263 1583h1.8M263 1584h1.8M264 1472h1.8M264 1476h1.8M264 1478h1.8M264 1479h1.8M264 1482h1.8M264 1486h1.8M264 1488h1.8M264 1489h1.8M264 1494h1.8M264 1496h1.8M264 1557h1.8M264 1559h1.8M264 1562h1.8M264 1563h1.8M264 1564h1.8M264 1565h1.8M264 1567h1.8M264 1568h1.8M264 1569h1.8M264 1570h1.8M264 1571h1.8M264 1572h1.8M264 1573h1.8M264 1574h1.8M264 1575h1.8M264 1576h1.8M264 1577h1.8M264 1578h1.8M264 1579h1.8M264 1580h1.8M264 1581h1.8M264 1583h1.8M264 1584h1.8M264 1587h1.8M265 1484h1.8M265 1487h1.8M265 1493h1.8M265 1557h1.8M265 1559h1.8M265 1561h1.8M265 1564h1.8M265 1566h1.8M265 1567h1.8M265 1568h1.8M265 1569h1.8M265 1570h1.8M265 1571h1.8M265 1572h1.8M265 1573h1.8M265 1574h1.8M265 1575h1.8M265 1576h1.8M265 1577h1.8M265 1578h1.8M265 1579h1.8M265 1580h1.8M265 1581h1.8M265 1582h1.8M265 1583h1.8M265 1586h1.8M265 1587h1.8M266 1470h1.8M266 1483h1.8M266 1485h1.8M266 1486h1.8M266 1488h1.8M266 1490h1.8M266 1491h1.8M266 1495h1.8M266 1498h1.8M266 1524h1.8M266 1562h1.8M266 1564h1.8M266 1565h1.8M266 1566h1.8M266 1567h1.8M266 1568h1.8M266 1569h1.8M266 1570h1.8M266 1571h1.8M266 1572h1.8M266 1573h1.8M266 1574h1.8M266 1575h1.8M266 1576h1.8M266 1577h1.8M266 1579h1.8M266 1580h1.8M266 1581h1.8M266 1582h1.8M266 1584h1.8M266 1588h1.8M267 1465h1.8M267 1470h1.8M267 1475h1.8M267 1477h1.8M267 1481h1.8M267 1482h1.8M267 1483h1.8M267 1484h1.8M267 1486h1.8M267 1491h1.8M267 1497h1.8M267 1559h1.8M267 1561h1.8M267 1563h1.8M267 1564h1.8M267 1565h1.8M267 1567h1.8M267 1568h1.8M267 1569h1.8M267 1570h1.8M267 1571h1.8M267 1572h1.8M267 1573h1.8M267 1574h1.8M267 1575h1.8M267 1576h1.8M267 1577h1.8M267 1578h1.8M267 1579h1.8M267 1580h1.8M267 1582h1.8M267 1585h1.8M267 1586h1.8M267 1587h1.8M267 1589h1.8M268 1477h1.8M268 1479h1.8M268 1486h1.8M268 1489h1.8M268 1497h1.8M268 1498h1.8M268 1560h1.8M268 1562h1.8M268 1563h1.8M268 1565h1.8M268 1567h1.8M268 1569h1.8M268 1570h1.8M268 1571h1.8M268 1572h1.8M268 1573h1.8M268 1574h1.8M268 1575h1.8M268 1576h1.8M268 1577h1.8M268 1579h1.8M268 1580h1.8M268 1582h1.8M268 1583h1.8M268 1588h1.8M269 1475h1.8M269 1476h1.8M269 1477h1.8M269 1479h1.8M269 1482h1.8M269 1486h1.8M269 1489h1.8M269 1490h1.8M269 1492h1.8M269 1494h1.8M269 1499h1.8M269 1540h1.8M269 1561h1.8M269 1562h1.8M269 1565h1.8M269 1567h1.8M269 1568h1.8M269 1569h1.8M269 1570h1.8M269 1571h1.8M269 1572h1.8M269 1573h1.8M269 1574h1.8M269 1575h1.8M269 1576h1.8M269 1577h1.8M269 1578h1.8M269 1579h1.8M269 1580h1.8M269 1581h1.8M269 1582h1.8M269 1583h1.8M269 1584h1.8M269 1585h1.8M270 1434h1.8M270 1479h1.8M270 1481h1.8M270 1482h1.8M270 1483h1.8M270 1484h1.8M270 1489h1.8M270 1500h1.8M270 1501h1.8M270 1543h1.8M270 1560h1.8M270 1565h1.8M270 1567h1.8M270 1568h1.8M270 1570h1.8M270 1571h1.8M270 1573h1.8M270 1574h1.8M270 1575h1.8M270 1576h1.8M270 1577h1.8M270 1580h1.8M270 1582h1.8M270 1583h1.8M270 1584h1.8M271 1477h1.8M271 1484h1.8M271 1485h1.8M271 1488h1.8M271 1567h1.8M271 1568h1.8M271 1569h1.8M271 1571h1.8M271 1573h1.8M271 1574h1.8M271 1575h1.8M271 1576h1.8M271 1577h1.8M271 1578h1.8M271 1579h1.8M271 1580h1.8M271 1583h1.8M271 1584h1.8M271 1585h1.8M272 1476h1.8M272 1480h1.8M272 1483h1.8M272 1491h1.8M272 1497h1.8M272 1555h1.8M272 1560h1.8M272 1561h1.8M272 1564h1.8M272 1566h1.8M272 1567h1.8M272 1569h1.8M272 1572h1.8M272 1573h1.8M272 1574h1.8M272 1575h1.8M272 1576h1.8M272 1577h1.8M272 1578h1.8M272 1579h1.8M272 1581h1.8M272 1582h1.8M272 1588h1.8M272 1593h1.8M273 1479h1.8M273 1480h1.8M273 1481h1.8M273 1485h1.8M273 1486h1.8M273 1489h1.8M273 1492h1.8M273 1497h1.8M273 1499h1.8M273 1558h1.8M273 1562h1.8M273 1566h1.8M273 1570h1.8M273 1571h1.8M273 1572h1.8M273 1573h1.8M273 1574h1.8M273 1576h1.8M273 1578h1.8M273 1580h1.8M273 1582h1.8M273 1588h1.8M273 1590h1.8M274 1472h1.8M274 1480h1.8M274 1485h1.8M274 1489h1.8M274 1499h1.8M274 1501h1.8M274 1561h1.8M274 1565h1.8M274 1569h1.8M274 1570h1.8M274 1571h1.8M274 1572h1.8M274 1574h1.8M274 1576h1.8M274 1578h1.8M274 1579h1.8M274 1580h1.8M274 1588h1.8M274 1592h1.8M275 1472h1.8M275 1478h1.8M275 1479h1.8M275 1481h1.8M275 1482h1.8M275 1484h1.8M275 1489h1.8M275 1492h1.8M275 1498h1.8M275 1518h1.8M275 1563h1.8M275 1564h1.8M275 1567h1.8M275 1569h1.8M275 1571h1.8M275 1572h1.8M275 1573h1.8M275 1574h1.8M275 1575h1.8M275 1576h1.8M275 1578h1.8M275 1580h1.8M275 1581h1.8M276 1481h1.8M276 1483h1.8M276 1484h1.8M276 1487h1.8M276 1488h1.8M276 1490h1.8M276 1493h1.8M276 1494h1.8M276 1498h1.8M276 1560h1.8M276 1562h1.8M276 1564h1.8M276 1565h1.8M276 1566h1.8M276 1569h1.8M276 1571h1.8M276 1575h1.8M276 1577h1.8M276 1578h1.8M277 1480h1.8M277 1482h1.8M277 1487h1.8M277 1489h1.8M277 1490h1.8M277 1494h1.8M277 1496h1.8M277 1497h1.8M277 1565h1.8M277 1567h1.8M277 1568h1.8M277 1573h1.8M277 1574h1.8M277 1575h1.8M277 1578h1.8M277 1580h1.8M278 1478h1.8M278 1479h1.8M278 1480h1.8M278 1483h1.8M278 1490h1.8M278 1527h1.8M278 1556h1.8M278 1568h1.8M278 1571h1.8M278 1572h1.8M278 1574h1.8M278 1581h1.8M279 1472h1.8M279 1474h1.8M279 1476h1.8M279 1484h1.8M279 1489h1.8M279 1494h1.8M279 1538h1.8M279 1563h1.8M279 1569h1.8M279 1573h1.8M279 1575h1.8M279 1576h1.8M279 1577h1.8M279 1578h1.8M279 1592h1.8M280 1475h1.8M280 1484h1.8M280 1488h1.8M280 1492h1.8M280 1511h1.8M280 1519h1.8M280 1565h1.8M280 1575h1.8M280 1576h1.8M280 1577h1.8M280 1578h1.8M280 1586h1.8M281 1466h1.8M281 1479h1.8M281 1481h1.8M281 1489h1.8M281 1490h1.8M281 1494h1.8M281 1554h1.8M281 1561h1.8M281 1566h1.8M281 1570h1.8M281 1573h1.8M281 1575h1.8M282 1489h1.8M282 1495h1.8M282 1567h1.8M282 1571h1.8M282 1574h1.8M283 1478h1.8M283 1479h1.8M283 1481h1.8M283 1487h1.8M283 1488h1.8M283 1567h1.8M283 1576h1.8M283 1584h1.8M284 1484h1.8M284 1497h1.8M284 1569h1.8M284 1572h1.8M284 1576h1.8M284 1579h1.8M285 1477h1.8M285 1479h1.8M285 1483h1.8M285 1571h1.8M285 1573h1.8M285 1574h1.8M285 1580h1.8M285 1583h1.8M286 1482h1.8M286 1486h1.8M286 1488h1.8M286 1490h1.8M286 1549h1.8M286 1570h1.8M286 1577h1.8M286 1585h1.8M287 1567h1.8M287 1568h1.8M287 1585h1.8M287 1587h1.8M288 1452h1.8M288 1484h1.8M288 1485h1.8M288 1546h1.8M289 1485h1.8M289 1496h1.8M289 1585h1.8M290 1486h1.8M290 1489h1.8M290 1562h1.8M290 1580h1.8M290 1584h1.8M292 1475h1.8M292 1514h1.8M293 1495h1.8M293 1528h1.8M293 1535h1.8M293 1544h1.8M293 1574h1.8M296 1474h1.8M296 1497h1.8M299 1478h1.8M321 1523h1.8M336 1577h1.8" stroke="#000" stroke-width="1.8" fill="none"/><rect x="72.5" y="710.8" width="107.1" height="97.5" fill="none" stroke="#000" stroke-width="1.1"/><path d="M72.5 808.3v6M85.3 808.3v6M90.6 808.3v6M95.8 808.3v6M119.9 808.3v6M145.6 808.3v6M169.4 808.3v6M76.5 808.3v3.5M79.5 808.3v3.5M176.5 808.3v3.5M103.05 808.3v3.5M107.3 808.3v3.5M110.31 808.3v3.5M112.65 808.3v3.5M114.55 808.3v3.5M116.17 808.3v3.5M117.56 808.3v3.5M118.8 808.3v3.5M127.64 808.3v3.5M132.16 808.3v3.5M135.37 808.3v3.5M137.86 808.3v3.5M139.9 808.3v3.5M141.62 808.3v3.5M143.11 808.3v3.5M144.42 808.3v3.5M152.76 808.3v3.5M156.96 808.3v3.5M159.93 808.3v3.5M162.24 808.3v3.5M164.12 808.3v3.5M165.71 808.3v3.5M167.09 808.3v3.5M168.31 808.3v3.5M72.5 808.3h-5M72.5 796.65h-5M72.5 791.82h-5M72.5 787.09h-5M72.5 765.15h-5M72.5 741.75h-5M72.5 720.09h-5M72.5 804.66h-3M72.5 801.93h-3M72.5 713.62h-3M72.5 780.48h-3M72.5 776.62h-3M72.5 773.88h-3M72.5 771.75h-3M72.5 770.02h-3M72.5 768.55h-3M72.5 767.27h-3M72.5 766.15h-3M72.5 758.11h-3M72.5 753.99h-3M72.5 751.06h-3M72.5 748.8h-3M72.5 746.94h-3M72.5 745.38h-3M72.5 744.02h-3M72.5 742.82h-3M72.5 735.23h-3M72.5 731.41h-3M72.5 728.71h-3M72.5 726.61h-3M72.5 724.89h-3M72.5 723.44h-3M72.5 722.19h-3M72.5 721.08h-3" stroke="#000" stroke-width=".9" fill="none"/><text x="78.1" y="723.7" font-size="12.2" font-family="Liberation Serif" stroke="#000" stroke-width=".12">6.2</text><text x="176.1" y="723.7" text-anchor="end" font-size="12.2" font-family="Liberation Serif" stroke="#000" stroke-width=".12">7.6 (6.21)</text><text x="176.1" y="803.7" text-anchor="end" font-size="12.2" font-family="Liberation Serif" stroke="#000" stroke-width=".12">37.4</text><rect x="253.8" y="659.3" width="26.9" height="18.4" rx="8" ry="7" fill="#000"/><path transform="scale(.5)" d="M483 1328h1.8M483 1344h1.8M484 1279h1.8M484 1281h1.8M485 1345h1.8M485 1361h1.8M487 1264h1.8M488 1269h1.8M490 1279h1.8M490 1338h1.8M491 1256h1.8M491 1275h1.8M491 1279h1.8M491 1285h1.8M491 1339h1.8M491 1343h1.8M492 1271h1.8M493 1273h1.8M493 1278h1.8M493 1284h1.8M494 1276h1.8M494 1284h1.8M495 1270h1.8M495 1273h1.8M495 1292h1.8M496 1254h1.8M496 1262h1.8M496 1324h1.8M496 1334h1.8M496 1337h1.8M496 1339h1.8M497 1251h1.8M497 1256h1.8M497 1259h1.8M497 1269h1.8M497 1276h1.8M497 1286h1.8M497 1289h1.8M497 1330h1.8M498 1284h1.8M498 1315h1.8M498 1341h1.8M499 1269h1.8M499 1277h1.8M499 1289h1.8M499 1290h1.8M499 1305h1.8M499 1322h1.8M499 1327h1.8M499 1330h1.8M499 1350h1.8M500 1264h1.8M500 1280h1.8M500 1286h1.8M500 1292h1.8M500 1325h1.8M500 1334h1.8M500 1338h1.8M501 1260h1.8M501 1266h1.8M501 1274h1.8M501 1283h1.8M501 1284h1.8M501 1285h1.8M501 1289h1.8M501 1290h1.8M501 1291h1.8M501 1320h1.8M501 1327h1.8M502 1259h1.8M502 1262h1.8M502 1271h1.8M502 1276h1.8M502 1279h1.8M502 1307h1.8M502 1327h1.8M502 1345h1.8M502 1349h1.8M503 1255h1.8M503 1277h1.8M503 1279h1.8M503 1280h1.8M503 1287h1.8M503 1299h1.8M503 1315h1.8M503 1318h1.8M503 1333h1.8M503 1336h1.8M503 1337h1.8M503 1346h1.8M504 1279h1.8M504 1281h1.8M504 1284h1.8M504 1285h1.8M504 1289h1.8M504 1290h1.8M504 1316h1.8M504 1332h1.8M504 1334h1.8M504 1335h1.8M504 1337h1.8M504 1347h1.8M505 1246h1.8M505 1251h1.8M505 1260h1.8M505 1265h1.8M505 1271h1.8M505 1273h1.8M505 1274h1.8M505 1275h1.8M505 1277h1.8M505 1278h1.8M505 1280h1.8M505 1282h1.8M505 1285h1.8M505 1325h1.8M505 1330h1.8M505 1336h1.8M505 1337h1.8M505 1341h1.8M505 1345h1.8M505 1347h1.8M505 1349h1.8M506 1259h1.8M506 1263h1.8M506 1267h1.8M506 1271h1.8M506 1272h1.8M506 1273h1.8M506 1285h1.8M506 1328h1.8M506 1330h1.8M506 1333h1.8M506 1336h1.8M506 1338h1.8M506 1340h1.8M506 1342h1.8M506 1344h1.8M506 1345h1.8M506 1365h1.8M507 1264h1.8M507 1268h1.8M507 1270h1.8M507 1271h1.8M507 1273h1.8M507 1275h1.8M507 1276h1.8M507 1277h1.8M507 1278h1.8M507 1279h1.8M507 1280h1.8M507 1281h1.8M507 1283h1.8M507 1284h1.8M507 1290h1.8M507 1291h1.8M507 1326h1.8M507 1327h1.8M507 1328h1.8M507 1330h1.8M507 1332h1.8M507 1334h1.8M507 1336h1.8M507 1337h1.8M507 1340h1.8M507 1342h1.8M507 1344h1.8M507 1346h1.8M507 1347h1.8M507 1351h1.8M508 1253h1.8M508 1257h1.8M508 1259h1.8M508 1261h1.8M508 1263h1.8M508 1264h1.8M508 1266h1.8M508 1267h1.8M508 1268h1.8M508 1273h1.8M508 1276h1.8M508 1277h1.8M508 1278h1.8M508 1279h1.8M508 1286h1.8M508 1287h1.8M508 1288h1.8M508 1290h1.8M508 1292h1.8M508 1297h1.8M508 1325h1.8M508 1329h1.8M508 1331h1.8M508 1334h1.8M508 1336h1.8M508 1337h1.8M508 1339h1.8M508 1341h1.8M508 1343h1.8M508 1345h1.8M508 1346h1.8M508 1347h1.8M508 1348h1.8M508 1355h1.8M509 1250h1.8M509 1258h1.8M509 1259h1.8M509 1261h1.8M509 1268h1.8M509 1274h1.8M509 1278h1.8M509 1279h1.8M509 1280h1.8M509 1281h1.8M509 1282h1.8M509 1285h1.8M509 1289h1.8M509 1294h1.8M509 1295h1.8M509 1305h1.8M509 1323h1.8M509 1324h1.8M509 1330h1.8M509 1332h1.8M509 1333h1.8M509 1334h1.8M509 1337h1.8M509 1339h1.8M509 1341h1.8M509 1342h1.8M509 1344h1.8M509 1345h1.8M509 1346h1.8M509 1347h1.8M509 1348h1.8M509 1349h1.8M509 1350h1.8M509 1351h1.8M509 1353h1.8M510 1245h1.8M510 1260h1.8M510 1264h1.8M510 1265h1.8M510 1270h1.8M510 1272h1.8M510 1273h1.8M510 1275h1.8M510 1276h1.8M510 1278h1.8M510 1279h1.8M510 1280h1.8M510 1286h1.8M510 1288h1.8M510 1289h1.8M510 1294h1.8M510 1297h1.8M510 1316h1.8M510 1320h1.8M510 1323h1.8M510 1326h1.8M510 1327h1.8M510 1329h1.8M510 1330h1.8M510 1331h1.8M510 1332h1.8M510 1334h1.8M510 1335h1.8M510 1336h1.8M510 1337h1.8M510 1338h1.8M510 1340h1.8M510 1341h1.8M510 1344h1.8M510 1347h1.8M510 1349h1.8M510 1352h1.8M510 1354h1.8M510 1355h1.8M511 1257h1.8M511 1263h1.8M511 1266h1.8M511 1267h1.8M511 1270h1.8M511 1272h1.8M511 1273h1.8M511 1275h1.8M511 1278h1.8M511 1280h1.8M511 1281h1.8M511 1283h1.8M511 1284h1.8M511 1318h1.8M511 1319h1.8M511 1324h1.8M511 1325h1.8M511 1326h1.8M511 1327h1.8M511 1329h1.8M511 1331h1.8M511 1332h1.8M511 1333h1.8M511 1335h1.8M511 1337h1.8M511 1339h1.8M511 1341h1.8M511 1342h1.8M511 1344h1.8M511 1347h1.8M511 1348h1.8M511 1349h1.8M511 1350h1.8M511 1351h1.8M511 1352h1.8M511 1354h1.8M512 1262h1.8M512 1264h1.8M512 1266h1.8M512 1267h1.8M512 1270h1.8M512 1271h1.8M512 1273h1.8M512 1274h1.8M512 1275h1.8M512 1276h1.8M512 1277h1.8M512 1278h1.8M512 1279h1.8M512 1280h1.8M512 1284h1.8M512 1286h1.8M512 1288h1.8M512 1289h1.8M512 1293h1.8M512 1297h1.8M512 1316h1.8M512 1324h1.8M512 1327h1.8M512 1328h1.8M512 1330h1.8M512 1331h1.8M512 1333h1.8M512 1336h1.8M512 1340h1.8M512 1342h1.8M512 1345h1.8M512 1346h1.8M512 1347h1.8M512 1348h1.8M512 1350h1.8M512 1351h1.8M512 1352h1.8M512 1355h1.8M512 1356h1.8M513 1259h1.8M513 1264h1.8M513 1267h1.8M513 1269h1.8M513 1272h1.8M513 1273h1.8M513 1274h1.8M513 1280h1.8M513 1281h1.8M513 1284h1.8M513 1285h1.8M513 1286h1.8M513 1290h1.8M513 1291h1.8M513 1323h1.8M513 1324h1.8M513 1325h1.8M513 1326h1.8M513 1331h1.8M513 1332h1.8M513 1334h1.8M513 1336h1.8M513 1338h1.8M513 1339h1.8M513 1340h1.8M513 1341h1.8M513 1342h1.8M513 1347h1.8M513 1348h1.8M513 1352h1.8M513 1355h1.8M513 1356h1.8M513 1357h1.8M514 1263h1.8M514 1264h1.8M514 1266h1.8M514 1268h1.8M514 1269h1.8M514 1270h1.8M514 1271h1.8M514 1274h1.8M514 1276h1.8M514 1277h1.8M514 1278h1.8M514 1279h1.8M514 1280h1.8M514 1281h1.8M514 1283h1.8M514 1285h1.8M514 1289h1.8M514 1291h1.8M514 1292h1.8M514 1293h1.8M514 1319h1.8M514 1322h1.8M514 1323h1.8M514 1324h1.8M514 1326h1.8M514 1329h1.8M514 1331h1.8M514 1333h1.8M514 1334h1.8M514 1336h1.8M514 1338h1.8M514 1339h1.8M514 1340h1.8M514 1341h1.8M514 1342h1.8M514 1343h1.8M514 1344h1.8M514 1346h1.8M514 1348h1.8M514 1351h1.8M514 1354h1.8M514 1356h1.8M515 1264h1.8M515 1267h1.8M515 1268h1.8M515 1269h1.8M515 1270h1.8M515 1271h1.8M515 1272h1.8M515 1273h1.8M515 1274h1.8M515 1275h1.8M515 1276h1.8M515 1277h1.8M515 1280h1.8M515 1281h1.8M515 1282h1.8M515 1283h1.8M515 1284h1.8M515 1287h1.8M515 1288h1.8M515 1292h1.8M515 1294h1.8M515 1298h1.8M515 1318h1.8M515 1319h1.8M515 1320h1.8M515 1321h1.8M515 1323h1.8M515 1324h1.8M515 1330h1.8M515 1332h1.8M515 1333h1.8M515 1334h1.8M515 1335h1.8M515 1336h1.8M515 1337h1.8M515 1340h1.8M515 1341h1.8M515 1342h1.8M515 1344h1.8M515 1345h1.8M515 1346h1.8M515 1347h1.8M515 1348h1.8M515 1350h1.8M515 1351h1.8M515 1354h1.8M515 1355h1.8M515 1364h1.8M516 1255h1.8M516 1259h1.8M516 1269h1.8M516 1270h1.8M516 1271h1.8M516 1273h1.8M516 1274h1.8M516 1275h1.8M516 1277h1.8M516 1279h1.8M516 1281h1.8M516 1283h1.8M516 1284h1.8M516 1285h1.8M516 1286h1.8M516 1287h1.8M516 1291h1.8M516 1292h1.8M516 1303h1.8M516 1306h1.8M516 1320h1.8M516 1321h1.8M516 1323h1.8M516 1327h1.8M516 1328h1.8M516 1329h1.8M516 1330h1.8M516 1331h1.8M516 1333h1.8M516 1336h1.8M516 1338h1.8M516 1339h1.8M516 1343h1.8M516 1345h1.8M516 1348h1.8M516 1349h1.8M516 1356h1.8M517 1249h1.8M517 1260h1.8M517 1262h1.8M517 1263h1.8M517 1267h1.8M517 1269h1.8M517 1270h1.8M517 1271h1.8M517 1272h1.8M517 1273h1.8M517 1274h1.8M517 1276h1.8M517 1277h1.8M517 1278h1.8M517 1280h1.8M517 1281h1.8M517 1282h1.8M517 1283h1.8M517 1284h1.8M517 1286h1.8M517 1287h1.8M517 1289h1.8M517 1291h1.8M517 1292h1.8M517 1293h1.8M517 1294h1.8M517 1296h1.8M517 1300h1.8M517 1302h1.8M517 1311h1.8M517 1319h1.8M517 1320h1.8M517 1321h1.8M517 1323h1.8M517 1324h1.8M517 1327h1.8M517 1329h1.8M517 1330h1.8M517 1332h1.8M517 1333h1.8M517 1334h1.8M517 1335h1.8M517 1336h1.8M517 1338h1.8M517 1339h1.8M517 1345h1.8M517 1346h1.8M517 1347h1.8M517 1349h1.8M517 1350h1.8M517 1353h1.8M517 1357h1.8M518 1255h1.8M518 1266h1.8M518 1267h1.8M518 1269h1.8M518 1270h1.8M518 1271h1.8M518 1272h1.8M518 1273h1.8M518 1274h1.8M518 1276h1.8M518 1277h1.8M518 1279h1.8M518 1280h1.8M518 1281h1.8M518 1282h1.8M518 1283h1.8M518 1284h1.8M518 1285h1.8M518 1287h1.8M518 1290h1.8M518 1294h1.8M518 1296h1.8M518 1304h1.8M518 1307h1.8M518 1311h1.8M518 1319h1.8M518 1320h1.8M518 1323h1.8M518 1325h1.8M518 1328h1.8M518 1329h1.8M518 1331h1.8M518 1332h1.8M518 1333h1.8M518 1334h1.8M518 1335h1.8M518 1336h1.8M518 1337h1.8M518 1339h1.8M518 1341h1.8M518 1342h1.8M518 1343h1.8M518 1345h1.8M518 1346h1.8M518 1347h1.8M518 1349h1.8M518 1351h1.8M518 1352h1.8M519 1259h1.8M519 1260h1.8M519 1261h1.8M519 1262h1.8M519 1263h1.8M519 1268h1.8M519 1269h1.8M519 1270h1.8M519 1273h1.8M519 1274h1.8M519 1276h1.8M519 1277h1.8M519 1278h1.8M519 1279h1.8M519 1280h1.8M519 1281h1.8M519 1282h1.8M519 1283h1.8M519 1284h1.8M519 1285h1.8M519 1286h1.8M519 1287h1.8M519 1288h1.8M519 1289h1.8M519 1296h1.8M519 1298h1.8M519 1300h1.8M519 1301h1.8M519 1304h1.8M519 1307h1.8M519 1317h1.8M519 1318h1.8M519 1321h1.8M519 1322h1.8M519 1323h1.8M519 1324h1.8M519 1325h1.8M519 1328h1.8M519 1329h1.8M519 1331h1.8M519 1333h1.8M519 1334h1.8M519 1335h1.8M519 1336h1.8M519 1337h1.8M519 1338h1.8M519 1339h1.8M519 1341h1.8M519 1343h1.8M519 1345h1.8M519 1347h1.8M519 1348h1.8M519 1350h1.8M519 1351h1.8M519 1354h1.8M519 1368h1.8M520 1249h1.8M520 1255h1.8M520 1260h1.8M520 1261h1.8M520 1263h1.8M520 1264h1.8M520 1267h1.8M520 1268h1.8M520 1269h1.8M520 1270h1.8M520 1271h1.8M520 1272h1.8M520 1273h1.8M520 1274h1.8M520 1275h1.8M520 1276h1.8M520 1277h1.8M520 1278h1.8M520 1280h1.8M520 1281h1.8M520 1282h1.8M520 1283h1.8M520 1284h1.8M520 1285h1.8M520 1286h1.8M520 1287h1.8M520 1288h1.8M520 1289h1.8M520 1292h1.8M520 1295h1.8M520 1317h1.8M520 1318h1.8M520 1319h1.8M520 1323h1.8M520 1325h1.8M520 1326h1.8M520 1329h1.8M520 1330h1.8M520 1331h1.8M520 1333h1.8M520 1334h1.8M520 1336h1.8M520 1338h1.8M520 1339h1.8M520 1340h1.8M520 1341h1.8M520 1343h1.8M520 1346h1.8M520 1347h1.8M520 1348h1.8M520 1351h1.8M520 1352h1.8M520 1353h1.8M520 1354h1.8M521 1249h1.8M521 1257h1.8M521 1259h1.8M521 1261h1.8M521 1262h1.8M521 1264h1.8M521 1267h1.8M521 1269h1.8M521 1270h1.8M521 1271h1.8M521 1272h1.8M521 1273h1.8M521 1274h1.8M521 1275h1.8M521 1276h1.8M521 1277h1.8M521 1278h1.8M521 1279h1.8M521 1280h1.8M521 1281h1.8M521 1282h1.8M521 1283h1.8M521 1285h1.8M521 1286h1.8M521 1287h1.8M521 1288h1.8M521 1289h1.8M521 1290h1.8M521 1293h1.8M521 1300h1.8M521 1301h1.8M521 1321h1.8M521 1324h1.8M521 1327h1.8M521 1328h1.8M521 1329h1.8M521 1330h1.8M521 1331h1.8M521 1332h1.8M521 1334h1.8M521 1335h1.8M521 1336h1.8M521 1338h1.8M521 1340h1.8M521 1341h1.8M521 1342h1.8M521 1344h1.8M521 1345h1.8M521 1346h1.8M521 1348h1.8M521 1350h1.8M521 1352h1.8M521 1353h1.8M521 1355h1.8M521 1357h1.8M522 1256h1.8M522 1260h1.8M522 1263h1.8M522 1267h1.8M522 1268h1.8M522 1269h1.8M522 1270h1.8M522 1272h1.8M522 1273h1.8M522 1274h1.8M522 1275h1.8M522 1276h1.8M522 1277h1.8M522 1278h1.8M522 1279h1.8M522 1280h1.8M522 1281h1.8M522 1282h1.8M522 1283h1.8M522 1284h1.8M522 1285h1.8M522 1287h1.8M522 1288h1.8M522 1289h1.8M522 1295h1.8M522 1313h1.8M522 1317h1.8M522 1318h1.8M522 1319h1.8M522 1320h1.8M522 1321h1.8M522 1328h1.8M522 1329h1.8M522 1331h1.8M522 1332h1.8M522 1333h1.8M522 1334h1.8M522 1335h1.8M522 1336h1.8M522 1337h1.8M522 1338h1.8M522 1339h1.8M522 1340h1.8M522 1341h1.8M522 1342h1.8M522 1344h1.8M522 1346h1.8M522 1348h1.8M522 1349h1.8M522 1353h1.8M522 1356h1.8M522 1357h1.8M522 1363h1.8M523 1252h1.8M523 1262h1.8M523 1265h1.8M523 1266h1.8M523 1267h1.8M523 1268h1.8M523 1269h1.8M523 1270h1.8M523 1271h1.8M523 1272h1.8M523 1273h1.8M523 1274h1.8M523 1275h1.8M523 1276h1.8M523 1277h1.8M523 1278h1.8M523 1279h1.8M523 1280h1.8M523 1281h1.8M523 1282h1.8M523 1283h1.8M523 1284h1.8M523 1285h1.8M523 1286h1.8M523 1287h1.8M523 1288h1.8M523 1289h1.8M523 1290h1.8M523 1293h1.8M523 1295h1.8M523 1300h1.8M523 1301h1.8M523 1315h1.8M523 1316h1.8M523 1319h1.8M523 1325h1.8M523 1326h1.8M523 1327h1.8M523 1328h1.8M523 1329h1.8M523 1330h1.8M523 1331h1.8M523 1332h1.8M523 1333h1.8M523 1334h1.8M523 1335h1.8M523 1336h1.8M523 1337h1.8M523 1341h1.8M523 1342h1.8M523 1343h1.8M523 1347h1.8M523 1349h1.8M523 1355h1.8M523 1356h1.8M523 1357h1.8M523 1358h1.8M523 1369h1.8M524 1255h1.8M524 1256h1.8M524 1258h1.8M524 1261h1.8M524 1262h1.8M524 1263h1.8M524 1264h1.8M524 1266h1.8M524 1268h1.8M524 1269h1.8M524 1270h1.8M524 1271h1.8M524 1272h1.8M524 1273h1.8M524 1274h1.8M524 1275h1.8M524 1276h1.8M524 1277h1.8M524 1278h1.8M524 1279h1.8M524 1280h1.8M524 1281h1.8M524 1282h1.8M524 1283h1.8M524 1285h1.8M524 1286h1.8M524 1287h1.8M524 1288h1.8M524 1289h1.8M524 1290h1.8M524 1291h1.8M524 1292h1.8M524 1293h1.8M524 1302h1.8M524 1316h1.8M524 1317h1.8M524 1319h1.8M524 1321h1.8M524 1323h1.8M524 1324h1.8M524 1325h1.8M524 1326h1.8M524 1327h1.8M524 1328h1.8M524 1329h1.8M524 1331h1.8M524 1332h1.8M524 1334h1.8M524 1335h1.8M524 1336h1.8M524 1338h1.8M524 1339h1.8M524 1340h1.8M524 1341h1.8M524 1342h1.8M524 1343h1.8M524 1344h1.8M524 1345h1.8M524 1347h1.8M524 1348h1.8M524 1349h1.8M524 1353h1.8M524 1356h1.8M524 1357h1.8M524 1358h1.8M525 1246h1.8M525 1252h1.8M525 1255h1.8M525 1258h1.8M525 1261h1.8M525 1264h1.8M525 1265h1.8M525 1266h1.8M525 1267h1.8M525 1268h1.8M525 1269h1.8M525 1270h1.8M525 1271h1.8M525 1272h1.8M525 1273h1.8M525 1274h1.8M525 1275h1.8M525 1276h1.8M525 1277h1.8M525 1278h1.8M525 1279h1.8M525 1280h1.8M525 1281h1.8M525 1282h1.8M525 1283h1.8M525 1284h1.8M525 1285h1.8M525 1286h1.8M525 1287h1.8M525 1288h1.8M525 1289h1.8M525 1291h1.8M525 1292h1.8M525 1293h1.8M525 1295h1.8M525 1296h1.8M525 1297h1.8M525 1316h1.8M525 1317h1.8M525 1320h1.8M525 1321h1.8M525 1322h1.8M525 1325h1.8M525 1327h1.8M525 1328h1.8M525 1329h1.8M525 1330h1.8M525 1331h1.8M525 1332h1.8M525 1333h1.8M525 1334h1.8M525 1335h1.8M525 1336h1.8M525 1337h1.8M525 1338h1.8M525 1339h1.8M525 1340h1.8M525 1342h1.8M525 1345h1.8M525 1347h1.8M525 1349h1.8M525 1350h1.8M525 1353h1.8M525 1355h1.8M525 1357h1.8M525 1359h1.8M525 1360h1.8M526 1259h1.8M526 1262h1.8M526 1263h1.8M526 1264h1.8M526 1265h1.8M526 1266h1.8M526 1267h1.8M526 1268h1.8M526 1269h1.8M526 1270h1.8M526 1271h1.8M526 1272h1.8M526 1273h1.8M526 1274h1.8M526 1275h1.8M526 1276h1.8M526 1277h1.8M526 1278h1.8M526 1279h1.8M526 1280h1.8M526 1281h1.8M526 1282h1.8M526 1284h1.8M526 1285h1.8M526 1286h1.8M526 1287h1.8M526 1289h1.8M526 1291h1.8M526 1292h1.8M526 1293h1.8M526 1294h1.8M526 1296h1.8M526 1298h1.8M526 1300h1.8M526 1303h1.8M526 1315h1.8M526 1316h1.8M526 1317h1.8M526 1318h1.8M526 1319h1.8M526 1320h1.8M526 1324h1.8M526 1328h1.8M526 1329h1.8M526 1330h1.8M526 1331h1.8M526 1332h1.8M526 1333h1.8M526 1334h1.8M526 1335h1.8M526 1336h1.8M526 1338h1.8M526 1339h1.8M526 1341h1.8M526 1342h1.8M526 1343h1.8M526 1344h1.8M526 1345h1.8M526 1346h1.8M526 1347h1.8M526 1348h1.8M526 1351h1.8M526 1352h1.8M526 1353h1.8M526 1354h1.8M526 1355h1.8M526 1358h1.8M526 1359h1.8M526 1365h1.8M526 1366h1.8M527 1249h1.8M527 1254h1.8M527 1262h1.8M527 1263h1.8M527 1264h1.8M527 1267h1.8M527 1268h1.8M527 1270h1.8M527 1272h1.8M527 1273h1.8M527 1274h1.8M527 1275h1.8M527 1276h1.8M527 1277h1.8M527 1278h1.8M527 1279h1.8M527 1280h1.8M527 1281h1.8M527 1282h1.8M527 1283h1.8M527 1285h1.8M527 1287h1.8M527 1288h1.8M527 1291h1.8M527 1292h1.8M527 1293h1.8M527 1294h1.8M527 1295h1.8M527 1296h1.8M527 1297h1.8M527 1298h1.8M527 1301h1.8M527 1302h1.8M527 1310h1.8M527 1311h1.8M527 1316h1.8M527 1323h1.8M527 1324h1.8M527 1325h1.8M527 1327h1.8M527 1328h1.8M527 1330h1.8M527 1331h1.8M527 1333h1.8M527 1334h1.8M527 1335h1.8M527 1336h1.8M527 1338h1.8M527 1339h1.8M527 1340h1.8M527 1341h1.8M527 1342h1.8M527 1343h1.8M527 1344h1.8M527 1345h1.8M527 1346h1.8M527 1348h1.8M527 1353h1.8M527 1356h1.8M527 1360h1.8M527 1362h1.8M528 1250h1.8M528 1251h1.8M528 1253h1.8M528 1259h1.8M528 1260h1.8M528 1261h1.8M528 1262h1.8M528 1263h1.8M528 1265h1.8M528 1267h1.8M528 1268h1.8M528 1269h1.8M528 1271h1.8M528 1272h1.8M528 1273h1.8M528 1274h1.8M528 1275h1.8M528 1276h1.8M528 1277h1.8M528 1278h1.8M528 1279h1.8M528 1280h1.8M528 1281h1.8M528 1282h1.8M528 1283h1.8M528 1284h1.8M528 1285h1.8M528 1286h1.8M528 1287h1.8M528 1288h1.8M528 1289h1.8M528 1290h1.8M528 1291h1.8M528 1293h1.8M528 1294h1.8M528 1297h1.8M528 1306h1.8M528 1315h1.8M528 1316h1.8M528 1317h1.8M528 1318h1.8M528 1319h1.8M528 1320h1.8M528 1321h1.8M528 1324h1.8M528 1325h1.8M528 1327h1.8M528 1329h1.8M528 1330h1.8M528 1331h1.8M528 1332h1.8M528 1333h1.8M528 1334h1.8M528 1335h1.8M528 1336h1.8M528 1337h1.8M528 1338h1.8M528 1339h1.8M528 1340h1.8M528 1341h1.8M528 1342h1.8M528 1343h1.8M528 1346h1.8M528 1349h1.8M528 1350h1.8M528 1351h1.8M528 1355h1.8M528 1357h1.8M528 1358h1.8M528 1362h1.8M529 1258h1.8M529 1259h1.8M529 1260h1.8M529 1263h1.8M529 1265h1.8M529 1266h1.8M529 1267h1.8M529 1268h1.8M529 1269h1.8M529 1270h1.8M529 1271h1.8M529 1272h1.8M529 1273h1.8M529 1274h1.8M529 1275h1.8M529 1276h1.8M529 1277h1.8M529 1278h1.8M529 1279h1.8M529 1280h1.8M529 1281h1.8M529 1282h1.8M529 1283h1.8M529 1284h1.8M529 1285h1.8M529 1287h1.8M529 1288h1.8M529 1289h1.8M529 1290h1.8M529 1291h1.8M529 1294h1.8M529 1296h1.8M529 1298h1.8M529 1301h1.8M529 1302h1.8M529 1306h1.8M529 1308h1.8M529 1312h1.8M529 1315h1.8M529 1316h1.8M529 1321h1.8M529 1324h1.8M529 1326h1.8M529 1328h1.8M529 1329h1.8M529 1331h1.8M529 1332h1.8M529 1333h1.8M529 1335h1.8M529 1336h1.8M529 1337h1.8M529 1338h1.8M529 1340h1.8M529 1341h1.8M529 1342h1.8M529 1343h1.8M529 1344h1.8M529 1345h1.8M529 1349h1.8M529 1350h1.8M529 1352h1.8M529 1354h1.8M529 1355h1.8M529 1356h1.8M529 1357h1.8M529 1358h1.8M529 1361h1.8M529 1363h1.8M529 1366h1.8M530 1257h1.8M530 1261h1.8M530 1266h1.8M530 1267h1.8M530 1268h1.8M530 1269h1.8M530 1270h1.8M530 1271h1.8M530 1272h1.8M530 1273h1.8M530 1274h1.8M530 1275h1.8M530 1276h1.8M530 1277h1.8M530 1278h1.8M530 1279h1.8M530 1280h1.8M530 1281h1.8M530 1282h1.8M530 1283h1.8M530 1284h1.8M530 1285h1.8M530 1286h1.8M530 1287h1.8M530 1288h1.8M530 1290h1.8M530 1291h1.8M530 1293h1.8M530 1294h1.8M530 1303h1.8M530 1315h1.8M530 1316h1.8M530 1318h1.8M530 1320h1.8M530 1321h1.8M530 1322h1.8M530 1324h1.8M530 1325h1.8M530 1326h1.8M530 1327h1.8M530 1328h1.8M530 1329h1.8M530 1330h1.8M530 1331h1.8M530 1332h1.8M530 1333h1.8M530 1334h1.8M530 1335h1.8M530 1338h1.8M530 1339h1.8M530 1340h1.8M530 1342h1.8M530 1343h1.8M530 1345h1.8M530 1346h1.8M530 1347h1.8M530 1348h1.8M530 1349h1.8M530 1352h1.8M530 1354h1.8M530 1355h1.8M530 1356h1.8M530 1357h1.8M530 1359h1.8M530 1362h1.8M530 1363h1.8M531 1254h1.8M531 1257h1.8M531 1260h1.8M531 1262h1.8M531 1263h1.8M531 1265h1.8M531 1266h1.8M531 1267h1.8M531 1268h1.8M531 1269h1.8M531 1270h1.8M531 1271h1.8M531 1272h1.8M531 1273h1.8M531 1274h1.8M531 1275h1.8M531 1276h1.8M531 1277h1.8M531 1278h1.8M531 1279h1.8M531 1280h1.8M531 1281h1.8M531 1282h1.8M531 1283h1.8M531 1284h1.8M531 1285h1.8M531 1286h1.8M531 1288h1.8M531 1290h1.8M531 1293h1.8M531 1294h1.8M531 1295h1.8M531 1296h1.8M531 1309h1.8M531 1314h1.8M531 1317h1.8M531 1319h1.8M531 1321h1.8M531 1323h1.8M531 1324h1.8M531 1326h1.8M531 1327h1.8M531 1328h1.8M531 1329h1.8M531 1330h1.8M531 1331h1.8M531 1332h1.8M531 1334h1.8M531 1336h1.8M531 1338h1.8M531 1339h1.8M531 1341h1.8M531 1342h1.8M531 1343h1.8M531 1344h1.8M531 1345h1.8M531 1346h1.8M531 1348h1.8M531 1349h1.8M531 1350h1.8M531 1351h1.8M531 1352h1.8M531 1353h1.8M531 1354h1.8M531 1356h1.8M531 1358h1.8M531 1362h1.8M531 1366h1.8M532 1251h1.8M532 1256h1.8M532 1258h1.8M532 1261h1.8M532 1263h1.8M532 1264h1.8M532 1267h1.8M532 1268h1.8M532 1270h1.8M532 1271h1.8M532 1272h1.8M532 1273h1.8M532 1274h1.8M532 1275h1.8M532 1276h1.8M532 1277h1.8M532 1278h1.8M532 1279h1.8M532 1280h1.8M532 1281h1.8M532 1282h1.8M532 1283h1.8M532 1284h1.8M532 1285h1.8M532 1286h1.8M532 1289h1.8M532 1290h1.8M532 1291h1.8M532 1292h1.8M532 1295h1.8M532 1302h1.8M532 1311h1.8M532 1314h1.8M532 1317h1.8M532 1318h1.8M532 1321h1.8M532 1323h1.8M532 1324h1.8M532 1326h1.8M532 1327h1.8M532 1328h1.8M532 1329h1.8M532 1330h1.8M532 1331h1.8M532 1332h1.8M532 1333h1.8M532 1334h1.8M532 1335h1.8M532 1336h1.8M532 1337h1.8M532 1338h1.8M532 1339h1.8M532 1340h1.8M532 1341h1.8M532 1342h1.8M532 1345h1.8M532 1346h1.8M532 1348h1.8M532 1349h1.8M532 1350h1.8M532 1352h1.8M532 1357h1.8M532 1358h1.8M533 1250h1.8M533 1251h1.8M533 1253h1.8M533 1261h1.8M533 1262h1.8M533 1263h1.8M533 1264h1.8M533 1265h1.8M533 1266h1.8M533 1267h1.8M533 1268h1.8M533 1269h1.8M533 1270h1.8M533 1271h1.8M533 1272h1.8M533 1273h1.8M533 1274h1.8M533 1275h1.8M533 1276h1.8M533 1277h1.8M533 1278h1.8M533 1279h1.8M533 1280h1.8M533 1281h1.8M533 1282h1.8M533 1283h1.8M533 1284h1.8M533 1285h1.8M533 1287h1.8M533 1288h1.8M533 1289h1.8M533 1290h1.8M533 1291h1.8M533 1293h1.8M533 1294h1.8M533 1303h1.8M533 1309h1.8M533 1315h1.8M533 1317h1.8M533 1318h1.8M533 1319h1.8M533 1320h1.8M533 1321h1.8M533 1324h1.8M533 1325h1.8M533 1326h1.8M533 1327h1.8M533 1328h1.8M533 1329h1.8M533 1331h1.8M533 1332h1.8M533 1333h1.8M533 1334h1.8M533 1336h1.8M533 1337h1.8M533 1338h1.8M533 1339h1.8M533 1340h1.8M533 1344h1.8M533 1345h1.8M533 1346h1.8M533 1347h1.8M533 1348h1.8M533 1349h1.8M533 1350h1.8M533 1353h1.8M533 1355h1.8M533 1356h1.8M533 1357h1.8M533 1359h1.8M533 1361h1.8M533 1364h1.8M534 1250h1.8M534 1251h1.8M534 1252h1.8M534 1256h1.8M534 1257h1.8M534 1259h1.8M534 1260h1.8M534 1261h1.8M534 1262h1.8M534 1264h1.8M534 1265h1.8M534 1266h1.8M534 1267h1.8M534 1268h1.8M534 1269h1.8M534 1270h1.8M534 1271h1.8M534 1272h1.8M534 1273h1.8M534 1275h1.8M534 1276h1.8M534 1277h1.8M534 1278h1.8M534 1279h1.8M534 1280h1.8M534 1281h1.8M534 1282h1.8M534 1283h1.8M534 1284h1.8M534 1285h1.8M534 1287h1.8M534 1288h1.8M534 1289h1.8M534 1290h1.8M534 1293h1.8M534 1294h1.8M534 1299h1.8M534 1310h1.8M534 1313h1.8M534 1315h1.8M534 1317h1.8M534 1320h1.8M534 1323h1.8M534 1324h1.8M534 1325h1.8M534 1326h1.8M534 1327h1.8M534 1328h1.8M534 1329h1.8M534 1330h1.8M534 1331h1.8M534 1332h1.8M534 1333h1.8M534 1334h1.8M534 1335h1.8M534 1336h1.8M534 1338h1.8M534 1339h1.8M534 1340h1.8M534 1341h1.8M534 1342h1.8M534 1344h1.8M534 1345h1.8M534 1348h1.8M534 1350h1.8M534 1352h1.8M534 1353h1.8M534 1354h1.8M534 1356h1.8M534 1359h1.8M534 1365h1.8M535 1252h1.8M535 1259h1.8M535 1260h1.8M535 1263h1.8M535 1264h1.8M535 1265h1.8M535 1266h1.8M535 1268h1.8M535 1269h1.8M535 1271h1.8M535 1272h1.8M535 1273h1.8M535 1274h1.8M535 1276h1.8M535 1277h1.8M535 1278h1.8M535 1279h1.8M535 1280h1.8M535 1281h1.8M535 1282h1.8M535 1283h1.8M535 1284h1.8M535 1285h1.8M535 1286h1.8M535 1287h1.8M535 1288h1.8M535 1289h1.8M535 1293h1.8M535 1295h1.8M535 1296h1.8M535 1302h1.8M535 1315h1.8M535 1317h1.8M535 1321h1.8M535 1325h1.8M535 1326h1.8M535 1327h1.8M535 1329h1.8M535 1330h1.8M535 1331h1.8M535 1332h1.8M535 1333h1.8M535 1334h1.8M535 1335h1.8M535 1337h1.8M535 1338h1.8M535 1339h1.8M535 1341h1.8M535 1342h1.8M535 1343h1.8M535 1344h1.8M535 1346h1.8M535 1347h1.8M535 1350h1.8M535 1351h1.8M535 1352h1.8M535 1353h1.8M535 1354h1.8M535 1358h1.8M536 1229h1.8M536 1246h1.8M536 1258h1.8M536 1259h1.8M536 1261h1.8M536 1262h1.8M536 1263h1.8M536 1268h1.8M536 1269h1.8M536 1270h1.8M536 1271h1.8M536 1272h1.8M536 1273h1.8M536 1274h1.8M536 1275h1.8M536 1276h1.8M536 1277h1.8M536 1278h1.8M536 1279h1.8M536 1280h1.8M536 1281h1.8M536 1282h1.8M536 1283h1.8M536 1284h1.8M536 1285h1.8M536 1286h1.8M536 1287h1.8M536 1288h1.8M536 1289h1.8M536 1290h1.8M536 1293h1.8M536 1294h1.8M536 1295h1.8M536 1299h1.8M536 1302h1.8M536 1307h1.8M536 1308h1.8M536 1309h1.8M536 1317h1.8M536 1318h1.8M536 1321h1.8M536 1322h1.8M536 1324h1.8M536 1325h1.8M536 1326h1.8M536 1327h1.8M536 1328h1.8M536 1329h1.8M536 1330h1.8M536 1331h1.8M536 1332h1.8M536 1333h1.8M536 1334h1.8M536 1335h1.8M536 1336h1.8M536 1337h1.8M536 1339h1.8M536 1340h1.8M536 1341h1.8M536 1343h1.8M536 1344h1.8M536 1345h1.8M536 1346h1.8M536 1347h1.8M536 1350h1.8M536 1352h1.8M536 1353h1.8M536 1354h1.8M536 1355h1.8M536 1356h1.8M536 1358h1.8M536 1359h1.8M536 1361h1.8M537 1255h1.8M537 1257h1.8M537 1259h1.8M537 1260h1.8M537 1262h1.8M537 1263h1.8M537 1264h1.8M537 1265h1.8M537 1266h1.8M537 1267h1.8M537 1268h1.8M537 1269h1.8M537 1270h1.8M537 1271h1.8M537 1272h1.8M537 1273h1.8M537 1274h1.8M537 1275h1.8M537 1276h1.8M537 1277h1.8M537 1278h1.8M537 1279h1.8M537 1280h1.8M537 1281h1.8M537 1282h1.8M537 1283h1.8M537 1285h1.8M537 1286h1.8M537 1287h1.8M537 1288h1.8M537 1289h1.8M537 1290h1.8M537 1291h1.8M537 1292h1.8M537 1294h1.8M537 1295h1.8M537 1298h1.8M537 1301h1.8M537 1311h1.8M537 1312h1.8M537 1314h1.8M537 1316h1.8M537 1317h1.8M537 1318h1.8M537 1319h1.8M537 1321h1.8M537 1322h1.8M537 1323h1.8M537 1326h1.8M537 1329h1.8M537 1330h1.8M537 1332h1.8M537 1333h1.8M537 1334h1.8M537 1335h1.8M537 1336h1.8M537 1337h1.8M537 1338h1.8M537 1339h1.8M537 1340h1.8M537 1341h1.8M537 1343h1.8M537 1346h1.8M537 1347h1.8M537 1348h1.8M537 1349h1.8M537 1350h1.8M537 1351h1.8M537 1352h1.8M537 1354h1.8M537 1357h1.8M537 1358h1.8M538 1251h1.8M538 1257h1.8M538 1259h1.8M538 1260h1.8M538 1262h1.8M538 1263h1.8M538 1264h1.8M538 1265h1.8M538 1266h1.8M538 1267h1.8M538 1268h1.8M538 1270h1.8M538 1271h1.8M538 1272h1.8M538 1273h1.8M538 1274h1.8M538 1275h1.8M538 1276h1.8M538 1277h1.8M538 1278h1.8M538 1279h1.8M538 1280h1.8M538 1282h1.8M538 1283h1.8M538 1285h1.8M538 1286h1.8M538 1287h1.8M538 1288h1.8M538 1289h1.8M538 1290h1.8M538 1291h1.8M538 1298h1.8M538 1311h1.8M538 1317h1.8M538 1320h1.8M538 1321h1.8M538 1322h1.8M538 1326h1.8M538 1328h1.8M538 1329h1.8M538 1330h1.8M538 1331h1.8M538 1332h1.8M538 1333h1.8M538 1334h1.8M538 1336h1.8M538 1337h1.8M538 1338h1.8M538 1339h1.8M538 1341h1.8M538 1342h1.8M538 1343h1.8M538 1344h1.8M538 1345h1.8M538 1346h1.8M538 1348h1.8M538 1349h1.8M538 1351h1.8M538 1353h1.8M538 1354h1.8M538 1355h1.8M538 1356h1.8M538 1357h1.8M539 1253h1.8M539 1259h1.8M539 1261h1.8M539 1262h1.8M539 1265h1.8M539 1266h1.8M539 1267h1.8M539 1268h1.8M539 1269h1.8M539 1270h1.8M539 1271h1.8M539 1272h1.8M539 1273h1.8M539 1274h1.8M539 1275h1.8M539 1276h1.8M539 1277h1.8M539 1278h1.8M539 1279h1.8M539 1280h1.8M539 1281h1.8M539 1282h1.8M539 1283h1.8M539 1284h1.8M539 1285h1.8M539 1286h1.8M539 1287h1.8M539 1288h1.8M539 1289h1.8M539 1290h1.8M539 1291h1.8M539 1292h1.8M539 1293h1.8M539 1296h1.8M539 1301h1.8M539 1307h1.8M539 1312h1.8M539 1316h1.8M539 1317h1.8M539 1318h1.8M539 1320h1.8M539 1321h1.8M539 1322h1.8M539 1324h1.8M539 1325h1.8M539 1326h1.8M539 1327h1.8M539 1328h1.8M539 1329h1.8M539 1330h1.8M539 1331h1.8M539 1332h1.8M539 1333h1.8M539 1334h1.8M539 1335h1.8M539 1336h1.8M539 1337h1.8M539 1338h1.8M539 1339h1.8M539 1340h1.8M539 1341h1.8M539 1342h1.8M539 1344h1.8M539 1345h1.8M539 1346h1.8M539 1347h1.8M539 1348h1.8M539 1350h1.8M539 1351h1.8M539 1353h1.8M539 1356h1.8M539 1357h1.8M539 1358h1.8M539 1360h1.8M540 1258h1.8M540 1259h1.8M540 1261h1.8M540 1263h1.8M540 1264h1.8M540 1265h1.8M540 1266h1.8M540 1267h1.8M540 1268h1.8M540 1269h1.8M540 1270h1.8M540 1271h1.8M540 1272h1.8M540 1273h1.8M540 1274h1.8M540 1275h1.8M540 1276h1.8M540 1277h1.8M540 1278h1.8M540 1279h1.8M540 1280h1.8M540 1281h1.8M540 1282h1.8M540 1284h1.8M540 1285h1.8M540 1286h1.8M540 1288h1.8M540 1289h1.8M540 1290h1.8M540 1291h1.8M540 1292h1.8M540 1293h1.8M540 1296h1.8M540 1297h1.8M540 1299h1.8M540 1302h1.8M540 1319h1.8M540 1320h1.8M540 1321h1.8M540 1323h1.8M540 1324h1.8M540 1325h1.8M540 1326h1.8M540 1327h1.8M540 1328h1.8M540 1329h1.8M540 1331h1.8M540 1332h1.8M540 1333h1.8M540 1334h1.8M540 1335h1.8M540 1336h1.8M540 1340h1.8M540 1341h1.8M540 1342h1.8M540 1343h1.8M540 1344h1.8M540 1345h1.8M540 1346h1.8M540 1347h1.8M540 1348h1.8M540 1349h1.8M540 1352h1.8M540 1353h1.8M540 1354h1.8M540 1355h1.8M540 1356h1.8M541 1247h1.8M541 1253h1.8M541 1254h1.8M541 1255h1.8M541 1258h1.8M541 1260h1.8M541 1261h1.8M541 1262h1.8M541 1264h1.8M541 1267h1.8M541 1268h1.8M541 1269h1.8M541 1271h1.8M541 1272h1.8M541 1273h1.8M541 1274h1.8M541 1275h1.8M541 1276h1.8M541 1277h1.8M541 1278h1.8M541 1279h1.8M541 1280h1.8M541 1281h1.8M541 1282h1.8M541 1283h1.8M541 1284h1.8M541 1286h1.8M541 1287h1.8M541 1288h1.8M541 1289h1.8M541 1290h1.8M541 1291h1.8M541 1292h1.8M541 1295h1.8M541 1298h1.8M541 1316h1.8M541 1317h1.8M541 1318h1.8M541 1319h1.8M541 1320h1.8M541 1322h1.8M541 1323h1.8M541 1324h1.8M541 1327h1.8M541 1328h1.8M541 1329h1.8M541 1330h1.8M541 1331h1.8M541 1334h1.8M541 1335h1.8M541 1337h1.8M541 1338h1.8M541 1339h1.8M541 1341h1.8M541 1343h1.8M541 1344h1.8M541 1345h1.8M541 1346h1.8M541 1347h1.8M541 1348h1.8M541 1349h1.8M541 1350h1.8M541 1353h1.8M541 1354h1.8M541 1355h1.8M541 1356h1.8M542 1256h1.8M542 1261h1.8M542 1262h1.8M542 1263h1.8M542 1266h1.8M542 1267h1.8M542 1269h1.8M542 1270h1.8M542 1271h1.8M542 1272h1.8M542 1274h1.8M542 1275h1.8M542 1276h1.8M542 1277h1.8M542 1278h1.8M542 1279h1.8M542 1280h1.8M542 1281h1.8M542 1282h1.8M542 1283h1.8M542 1284h1.8M542 1285h1.8M542 1286h1.8M542 1288h1.8M542 1289h1.8M542 1290h1.8M542 1291h1.8M542 1292h1.8M542 1294h1.8M542 1295h1.8M542 1296h1.8M542 1297h1.8M542 1309h1.8M542 1318h1.8M542 1319h1.8M542 1322h1.8M542 1324h1.8M542 1326h1.8M542 1327h1.8M542 1328h1.8M542 1329h1.8M542 1331h1.8M542 1333h1.8M542 1334h1.8M542 1335h1.8M542 1336h1.8M542 1337h1.8M542 1340h1.8M542 1341h1.8M542 1342h1.8M542 1343h1.8M542 1344h1.8M542 1347h1.8M542 1348h1.8M542 1349h1.8M542 1350h1.8M542 1352h1.8M542 1354h1.8M542 1355h1.8M543 1253h1.8M543 1255h1.8M543 1263h1.8M543 1264h1.8M543 1266h1.8M543 1267h1.8M543 1268h1.8M543 1271h1.8M543 1272h1.8M543 1273h1.8M543 1274h1.8M543 1275h1.8M543 1276h1.8M543 1277h1.8M543 1278h1.8M543 1279h1.8M543 1280h1.8M543 1281h1.8M543 1282h1.8M543 1283h1.8M543 1284h1.8M543 1285h1.8M543 1286h1.8M543 1287h1.8M543 1288h1.8M543 1290h1.8M543 1293h1.8M543 1297h1.8M543 1299h1.8M543 1302h1.8M543 1313h1.8M543 1317h1.8M543 1320h1.8M543 1322h1.8M543 1323h1.8M543 1325h1.8M543 1326h1.8M543 1327h1.8M543 1328h1.8M543 1329h1.8M543 1330h1.8M543 1331h1.8M543 1332h1.8M543 1333h1.8M543 1334h1.8M543 1335h1.8M543 1336h1.8M543 1337h1.8M543 1338h1.8M543 1339h1.8M543 1340h1.8M543 1341h1.8M543 1342h1.8M543 1343h1.8M543 1344h1.8M543 1345h1.8M543 1346h1.8M543 1347h1.8M543 1349h1.8M543 1350h1.8M543 1352h1.8M543 1354h1.8M543 1355h1.8M543 1358h1.8M544 1253h1.8M544 1261h1.8M544 1264h1.8M544 1266h1.8M544 1268h1.8M544 1269h1.8M544 1271h1.8M544 1273h1.8M544 1274h1.8M544 1275h1.8M544 1276h1.8M544 1277h1.8M544 1278h1.8M544 1279h1.8M544 1280h1.8M544 1281h1.8M544 1283h1.8M544 1284h1.8M544 1285h1.8M544 1288h1.8M544 1289h1.8M544 1293h1.8M544 1296h1.8M544 1298h1.8M544 1301h1.8M544 1319h1.8M544 1320h1.8M544 1321h1.8M544 1322h1.8M544 1324h1.8M544 1325h1.8M544 1326h1.8M544 1329h1.8M544 1330h1.8M544 1331h1.8M544 1332h1.8M544 1333h1.8M544 1334h1.8M544 1336h1.8M544 1337h1.8M544 1338h1.8M544 1339h1.8M544 1342h1.8M544 1343h1.8M544 1344h1.8M544 1345h1.8M544 1346h1.8M544 1347h1.8M544 1348h1.8M544 1351h1.8M544 1353h1.8M544 1365h1.8M545 1244h1.8M545 1252h1.8M545 1254h1.8M545 1257h1.8M545 1259h1.8M545 1261h1.8M545 1264h1.8M545 1265h1.8M545 1269h1.8M545 1271h1.8M545 1272h1.8M545 1273h1.8M545 1274h1.8M545 1275h1.8M545 1276h1.8M545 1278h1.8M545 1279h1.8M545 1280h1.8M545 1281h1.8M545 1282h1.8M545 1283h1.8M545 1284h1.8M545 1286h1.8M545 1290h1.8M545 1292h1.8M545 1293h1.8M545 1296h1.8M545 1298h1.8M545 1304h1.8M545 1315h1.8M545 1316h1.8M545 1317h1.8M545 1318h1.8M545 1321h1.8M545 1322h1.8M545 1324h1.8M545 1325h1.8M545 1327h1.8M545 1328h1.8M545 1329h1.8M545 1330h1.8M545 1331h1.8M545 1332h1.8M545 1333h1.8M545 1334h1.8M545 1335h1.8M545 1336h1.8M545 1338h1.8M545 1339h1.8M545 1342h1.8M545 1344h1.8M545 1345h1.8M545 1348h1.8M545 1349h1.8M545 1350h1.8M545 1351h1.8M545 1352h1.8M545 1353h1.8M545 1355h1.8M545 1356h1.8M545 1359h1.8M545 1367h1.8M546 1253h1.8M546 1261h1.8M546 1267h1.8M546 1270h1.8M546 1271h1.8M546 1272h1.8M546 1273h1.8M546 1274h1.8M546 1275h1.8M546 1276h1.8M546 1278h1.8M546 1279h1.8M546 1280h1.8M546 1281h1.8M546 1282h1.8M546 1283h1.8M546 1284h1.8M546 1285h1.8M546 1286h1.8M546 1294h1.8M546 1295h1.8M546 1296h1.8M546 1313h1.8M546 1316h1.8M546 1317h1.8M546 1318h1.8M546 1319h1.8M546 1321h1.8M546 1323h1.8M546 1326h1.8M546 1329h1.8M546 1331h1.8M546 1332h1.8M546 1334h1.8M546 1335h1.8M546 1337h1.8M546 1338h1.8M546 1339h1.8M546 1340h1.8M546 1342h1.8M546 1343h1.8M546 1344h1.8M546 1345h1.8M546 1347h1.8M546 1348h1.8M546 1350h1.8M546 1351h1.8M546 1355h1.8M546 1356h1.8M546 1357h1.8M546 1358h1.8M546 1365h1.8M547 1261h1.8M547 1264h1.8M547 1265h1.8M547 1266h1.8M547 1267h1.8M547 1270h1.8M547 1271h1.8M547 1272h1.8M547 1274h1.8M547 1275h1.8M547 1276h1.8M547 1277h1.8M547 1278h1.8M547 1279h1.8M547 1280h1.8M547 1281h1.8M547 1282h1.8M547 1283h1.8M547 1284h1.8M547 1288h1.8M547 1289h1.8M547 1291h1.8M547 1293h1.8M547 1294h1.8M547 1298h1.8M547 1312h1.8M547 1315h1.8M547 1317h1.8M547 1318h1.8M547 1321h1.8M547 1323h1.8M547 1324h1.8M547 1325h1.8M547 1327h1.8M547 1328h1.8M547 1329h1.8M547 1331h1.8M547 1332h1.8M547 1333h1.8M547 1334h1.8M547 1335h1.8M547 1336h1.8M547 1337h1.8M547 1339h1.8M547 1340h1.8M547 1341h1.8M547 1342h1.8M547 1344h1.8M547 1345h1.8M547 1347h1.8M547 1348h1.8M547 1350h1.8M547 1354h1.8M547 1357h1.8M547 1360h1.8M548 1261h1.8M548 1262h1.8M548 1265h1.8M548 1266h1.8M548 1267h1.8M548 1268h1.8M548 1272h1.8M548 1273h1.8M548 1275h1.8M548 1276h1.8M548 1277h1.8M548 1278h1.8M548 1279h1.8M548 1280h1.8M548 1281h1.8M548 1282h1.8M548 1283h1.8M548 1284h1.8M548 1288h1.8M548 1290h1.8M548 1294h1.8M548 1295h1.8M548 1312h1.8M548 1317h1.8M548 1321h1.8M548 1323h1.8M548 1324h1.8M548 1328h1.8M548 1329h1.8M548 1330h1.8M548 1331h1.8M548 1332h1.8M548 1333h1.8M548 1334h1.8M548 1336h1.8M548 1337h1.8M548 1339h1.8M548 1340h1.8M548 1342h1.8M548 1344h1.8M548 1345h1.8M548 1346h1.8M548 1347h1.8M548 1350h1.8M548 1351h1.8M548 1352h1.8M548 1356h1.8M548 1357h1.8M549 1261h1.8M549 1265h1.8M549 1266h1.8M549 1271h1.8M549 1272h1.8M549 1273h1.8M549 1275h1.8M549 1277h1.8M549 1278h1.8M549 1279h1.8M549 1280h1.8M549 1283h1.8M549 1284h1.8M549 1285h1.8M549 1288h1.8M549 1292h1.8M549 1313h1.8M549 1321h1.8M549 1322h1.8M549 1323h1.8M549 1326h1.8M549 1327h1.8M549 1328h1.8M549 1329h1.8M549 1334h1.8M549 1335h1.8M549 1336h1.8M549 1337h1.8M549 1338h1.8M549 1339h1.8M549 1340h1.8M549 1341h1.8M549 1342h1.8M549 1343h1.8M549 1345h1.8M549 1349h1.8M549 1350h1.8M549 1352h1.8M549 1353h1.8M549 1354h1.8M549 1358h1.8M550 1254h1.8M550 1260h1.8M550 1264h1.8M550 1265h1.8M550 1267h1.8M550 1268h1.8M550 1270h1.8M550 1272h1.8M550 1273h1.8M550 1275h1.8M550 1277h1.8M550 1281h1.8M550 1284h1.8M550 1286h1.8M550 1288h1.8M550 1289h1.8M550 1290h1.8M550 1295h1.8M550 1315h1.8M550 1317h1.8M550 1318h1.8M550 1323h1.8M550 1325h1.8M550 1327h1.8M550 1328h1.8M550 1329h1.8M550 1330h1.8M550 1331h1.8M550 1333h1.8M550 1334h1.8M550 1335h1.8M550 1336h1.8M550 1337h1.8M550 1338h1.8M550 1339h1.8M550 1341h1.8M550 1342h1.8M550 1343h1.8M550 1344h1.8M550 1345h1.8M550 1347h1.8M550 1348h1.8M550 1349h1.8M550 1351h1.8M550 1352h1.8M550 1355h1.8M550 1357h1.8M550 1369h1.8M550 1375h1.8M551 1252h1.8M551 1260h1.8M551 1266h1.8M551 1269h1.8M551 1274h1.8M551 1276h1.8M551 1279h1.8M551 1280h1.8M551 1282h1.8M551 1284h1.8M551 1292h1.8M551 1296h1.8M551 1318h1.8M551 1319h1.8M551 1321h1.8M551 1325h1.8M551 1326h1.8M551 1328h1.8M551 1329h1.8M551 1331h1.8M551 1332h1.8M551 1333h1.8M551 1334h1.8M551 1335h1.8M551 1336h1.8M551 1338h1.8M551 1339h1.8M551 1340h1.8M551 1341h1.8M551 1342h1.8M551 1343h1.8M551 1344h1.8M551 1346h1.8M551 1349h1.8M551 1350h1.8M551 1351h1.8M552 1258h1.8M552 1261h1.8M552 1262h1.8M552 1267h1.8M552 1271h1.8M552 1273h1.8M552 1274h1.8M552 1275h1.8M552 1278h1.8M552 1279h1.8M552 1280h1.8M552 1282h1.8M552 1286h1.8M552 1287h1.8M552 1289h1.8M552 1305h1.8M552 1317h1.8M552 1318h1.8M552 1320h1.8M552 1321h1.8M552 1323h1.8M552 1324h1.8M552 1326h1.8M552 1329h1.8M552 1331h1.8M552 1332h1.8M552 1333h1.8M552 1334h1.8M552 1335h1.8M552 1336h1.8M552 1337h1.8M552 1338h1.8M552 1339h1.8M552 1340h1.8M552 1341h1.8M552 1344h1.8M552 1345h1.8M552 1350h1.8M552 1352h1.8M552 1353h1.8M552 1356h1.8M552 1357h1.8M553 1225h1.8M553 1260h1.8M553 1263h1.8M553 1266h1.8M553 1269h1.8M553 1271h1.8M553 1272h1.8M553 1273h1.8M553 1277h1.8M553 1282h1.8M553 1284h1.8M553 1286h1.8M553 1287h1.8M553 1294h1.8M553 1305h1.8M553 1318h1.8M553 1319h1.8M553 1320h1.8M553 1321h1.8M553 1322h1.8M553 1323h1.8M553 1324h1.8M553 1325h1.8M553 1327h1.8M553 1331h1.8M553 1332h1.8M553 1334h1.8M553 1335h1.8M553 1337h1.8M553 1338h1.8M553 1341h1.8M553 1344h1.8M553 1345h1.8M553 1346h1.8M553 1347h1.8M553 1350h1.8M553 1352h1.8M553 1353h1.8M553 1356h1.8M554 1268h1.8M554 1272h1.8M554 1278h1.8M554 1280h1.8M554 1281h1.8M554 1282h1.8M554 1283h1.8M554 1284h1.8M554 1297h1.8M554 1299h1.8M554 1302h1.8M554 1304h1.8M554 1313h1.8M554 1321h1.8M554 1324h1.8M554 1325h1.8M554 1326h1.8M554 1327h1.8M554 1328h1.8M554 1329h1.8M554 1331h1.8M554 1332h1.8M554 1334h1.8M554 1336h1.8M554 1338h1.8M554 1339h1.8M554 1340h1.8M554 1342h1.8M554 1343h1.8M554 1344h1.8M554 1347h1.8M554 1349h1.8M554 1350h1.8M554 1351h1.8M554 1353h1.8M554 1354h1.8M554 1357h1.8M555 1270h1.8M555 1271h1.8M555 1273h1.8M555 1275h1.8M555 1276h1.8M555 1280h1.8M555 1294h1.8M555 1313h1.8M555 1320h1.8M555 1323h1.8M555 1328h1.8M555 1329h1.8M555 1330h1.8M555 1331h1.8M555 1332h1.8M555 1333h1.8M555 1334h1.8M555 1335h1.8M555 1336h1.8M555 1337h1.8M555 1338h1.8M555 1339h1.8M555 1340h1.8M555 1341h1.8M555 1343h1.8M555 1344h1.8M555 1346h1.8M555 1347h1.8M555 1348h1.8M555 1349h1.8M555 1350h1.8M555 1353h1.8M555 1354h1.8M555 1355h1.8M556 1260h1.8M556 1261h1.8M556 1266h1.8M556 1268h1.8M556 1269h1.8M556 1271h1.8M556 1274h1.8M556 1276h1.8M556 1277h1.8M556 1278h1.8M556 1280h1.8M556 1282h1.8M556 1289h1.8M556 1290h1.8M556 1293h1.8M556 1306h1.8M556 1309h1.8M556 1320h1.8M556 1321h1.8M556 1331h1.8M556 1334h1.8M556 1335h1.8M556 1337h1.8M556 1339h1.8M556 1341h1.8M556 1344h1.8M556 1345h1.8M556 1347h1.8M556 1349h1.8M557 1262h1.8M557 1266h1.8M557 1269h1.8M557 1273h1.8M557 1275h1.8M557 1276h1.8M557 1277h1.8M557 1287h1.8M557 1301h1.8M557 1322h1.8M557 1326h1.8M557 1327h1.8M557 1329h1.8M557 1330h1.8M557 1332h1.8M557 1333h1.8M557 1334h1.8M557 1338h1.8M557 1342h1.8M557 1345h1.8M557 1346h1.8M557 1347h1.8M557 1349h1.8M557 1350h1.8M557 1352h1.8M557 1353h1.8M557 1357h1.8M558 1261h1.8M558 1262h1.8M558 1271h1.8M558 1273h1.8M558 1276h1.8M558 1277h1.8M558 1279h1.8M558 1282h1.8M558 1286h1.8M558 1287h1.8M558 1311h1.8M558 1318h1.8M558 1321h1.8M558 1322h1.8M558 1326h1.8M558 1328h1.8M558 1330h1.8M558 1331h1.8M558 1333h1.8M558 1335h1.8M558 1338h1.8M558 1343h1.8M558 1345h1.8M558 1348h1.8M558 1349h1.8M558 1352h1.8M559 1254h1.8M559 1259h1.8M559 1272h1.8M559 1277h1.8M559 1282h1.8M559 1284h1.8M559 1286h1.8M559 1287h1.8M559 1288h1.8M559 1290h1.8M559 1322h1.8M559 1323h1.8M559 1329h1.8M559 1331h1.8M559 1332h1.8M559 1335h1.8M559 1336h1.8M559 1338h1.8M559 1342h1.8M559 1343h1.8M559 1346h1.8M559 1350h1.8M559 1351h1.8M560 1266h1.8M560 1268h1.8M560 1271h1.8M560 1280h1.8M560 1295h1.8M560 1316h1.8M560 1320h1.8M560 1322h1.8M560 1323h1.8M560 1324h1.8M560 1325h1.8M560 1330h1.8M560 1333h1.8M560 1337h1.8M560 1339h1.8M560 1340h1.8M560 1341h1.8M560 1343h1.8M560 1345h1.8M560 1347h1.8M560 1348h1.8M561 1264h1.8M561 1266h1.8M561 1268h1.8M561 1273h1.8M561 1280h1.8M561 1285h1.8M561 1286h1.8M561 1290h1.8M561 1316h1.8M561 1320h1.8M561 1328h1.8M561 1329h1.8M561 1331h1.8M561 1332h1.8M561 1333h1.8M561 1334h1.8M561 1335h1.8M561 1337h1.8M561 1338h1.8M561 1339h1.8M561 1340h1.8M561 1341h1.8M561 1342h1.8M561 1345h1.8M561 1346h1.8M561 1347h1.8M561 1349h1.8M561 1352h1.8M561 1360h1.8M562 1225h1.8M562 1281h1.8M562 1322h1.8M562 1327h1.8M562 1328h1.8M562 1329h1.8M562 1330h1.8M562 1333h1.8M562 1334h1.8M562 1335h1.8M562 1336h1.8M562 1340h1.8M562 1341h1.8M562 1343h1.8M562 1360h1.8M563 1260h1.8M563 1273h1.8M563 1283h1.8M563 1284h1.8M563 1288h1.8M563 1289h1.8M563 1320h1.8M563 1328h1.8M563 1329h1.8M563 1330h1.8M563 1335h1.8M563 1336h1.8M563 1337h1.8M563 1341h1.8M563 1342h1.8M563 1345h1.8M564 1208h1.8M564 1269h1.8M564 1280h1.8M564 1281h1.8M564 1292h1.8M564 1324h1.8M564 1330h1.8M564 1332h1.8M564 1333h1.8M564 1334h1.8M564 1338h1.8M564 1339h1.8M564 1341h1.8M564 1343h1.8M564 1344h1.8M565 1269h1.8M565 1280h1.8M565 1327h1.8M565 1332h1.8M565 1338h1.8M565 1342h1.8M565 1345h1.8M565 1354h1.8M566 1230h1.8M566 1317h1.8M566 1336h1.8M566 1337h1.8M566 1338h1.8M566 1340h1.8M567 1322h1.8M567 1323h1.8M567 1335h1.8M567 1336h1.8M567 1340h1.8M567 1343h1.8M567 1359h1.8M568 1281h1.8M568 1300h1.8M568 1324h1.8M568 1326h1.8M568 1332h1.8M568 1356h1.8M569 1312h1.8M569 1349h1.8M569 1350h1.8M570 1277h1.8M570 1285h1.8M570 1314h1.8M570 1319h1.8M570 1328h1.8M570 1335h1.8M571 1273h1.8M571 1320h1.8M572 1275h1.8M572 1335h1.8M572 1338h1.8M572 1344h1.8M572 1354h1.8M573 1282h1.8M573 1307h1.8M573 1327h1.8M573 1334h1.8M573 1353h1.8M574 1270h1.8M574 1292h1.8M574 1312h1.8M575 1313h1.8M575 1321h1.8M575 1324h1.8M575 1325h1.8M575 1327h1.8M575 1331h1.8M575 1346h1.8M575 1352h1.8M576 1260h1.8M576 1294h1.8M576 1308h1.8M576 1342h1.8M577 1218h1.8M577 1279h1.8M577 1314h1.8M577 1331h1.8M577 1342h1.8M578 1265h1.8M578 1282h1.8M578 1341h1.8M579 1269h1.8M579 1277h1.8M579 1304h1.8M579 1311h1.8M579 1339h1.8M580 1295h1.8M580 1358h1.8M581 1286h1.8M581 1320h1.8M581 1359h1.8M582 1272h1.8M582 1318h1.8M582 1330h1.8M583 1288h1.8M583 1323h1.8M583 1331h1.8M583 1338h1.8M583 1347h1.8M583 1350h1.8M583 1355h1.8M584 1278h1.8M584 1288h1.8M584 1302h1.8M585 1288h1.8M585 1334h1.8M585 1341h1.8M586 1273h1.8M586 1282h1.8M586 1328h1.8M586 1331h1.8M586 1332h1.8M587 1254h1.8M587 1286h1.8M587 1331h1.8M588 1265h1.8M588 1278h1.8M588 1292h1.8M588 1321h1.8M588 1330h1.8M588 1331h1.8M589 1224h1.8M589 1276h1.8M589 1324h1.8M589 1327h1.8M589 1335h1.8M589 1336h1.8M589 1344h1.8M590 1278h1.8M590 1334h1.8M590 1349h1.8M591 1264h1.8M591 1272h1.8M591 1276h1.8M591 1326h1.8M591 1336h1.8M591 1337h1.8M591 1350h1.8M592 1276h1.8M592 1327h1.8M592 1332h1.8M592 1338h1.8M592 1341h1.8M592 1342h1.8M592 1351h1.8M593 1280h1.8M593 1281h1.8M593 1328h1.8M593 1333h1.8M593 1334h1.8M593 1337h1.8M593 1341h1.8M593 1372h1.8M594 1274h1.8M594 1279h1.8M594 1283h1.8M594 1287h1.8M594 1318h1.8M594 1321h1.8M594 1327h1.8M594 1328h1.8M594 1333h1.8M594 1335h1.8M594 1337h1.8M594 1339h1.8M594 1341h1.8M594 1342h1.8M595 1266h1.8M595 1279h1.8M595 1281h1.8M595 1316h1.8M595 1320h1.8M595 1332h1.8M595 1333h1.8M595 1335h1.8M595 1336h1.8M595 1337h1.8M595 1338h1.8M595 1342h1.8M596 1281h1.8M596 1283h1.8M596 1319h1.8M596 1327h1.8M596 1329h1.8M596 1330h1.8M596 1337h1.8M596 1340h1.8M596 1341h1.8M596 1347h1.8M596 1349h1.8M597 1263h1.8M597 1266h1.8M597 1277h1.8M597 1278h1.8M597 1282h1.8M597 1283h1.8M597 1319h1.8M597 1321h1.8M597 1322h1.8M597 1325h1.8M597 1326h1.8M597 1329h1.8M597 1330h1.8M597 1331h1.8M597 1332h1.8M597 1333h1.8M597 1334h1.8M597 1336h1.8M597 1337h1.8M597 1341h1.8M597 1344h1.8M597 1345h1.8M598 1256h1.8M598 1268h1.8M598 1277h1.8M598 1282h1.8M598 1291h1.8M598 1301h1.8M598 1321h1.8M598 1327h1.8M598 1332h1.8M598 1333h1.8M598 1336h1.8M598 1339h1.8M598 1342h1.8M598 1343h1.8M598 1344h1.8M598 1346h1.8M598 1351h1.8M599 1258h1.8M599 1267h1.8M599 1269h1.8M599 1271h1.8M599 1275h1.8M599 1277h1.8M599 1282h1.8M599 1320h1.8M599 1328h1.8M599 1329h1.8M599 1330h1.8M599 1331h1.8M599 1332h1.8M599 1333h1.8M599 1334h1.8M599 1335h1.8M599 1337h1.8M599 1338h1.8M599 1339h1.8M599 1340h1.8M599 1344h1.8M599 1345h1.8M600 1272h1.8M600 1275h1.8M600 1276h1.8M600 1289h1.8M600 1293h1.8M600 1298h1.8M600 1319h1.8M600 1325h1.8M600 1327h1.8M600 1329h1.8M600 1331h1.8M600 1332h1.8M600 1333h1.8M600 1334h1.8M600 1335h1.8M600 1336h1.8M600 1337h1.8M600 1340h1.8M600 1341h1.8M600 1345h1.8M600 1346h1.8M600 1350h1.8M600 1352h1.8M601 1257h1.8M601 1272h1.8M601 1274h1.8M601 1276h1.8M601 1283h1.8M601 1288h1.8M601 1289h1.8M601 1295h1.8M601 1318h1.8M601 1321h1.8M601 1325h1.8M601 1328h1.8M601 1329h1.8M601 1330h1.8M601 1332h1.8M601 1333h1.8M601 1334h1.8M601 1335h1.8M601 1337h1.8M601 1338h1.8M601 1340h1.8M601 1341h1.8M601 1343h1.8M601 1344h1.8M601 1345h1.8M601 1355h1.8M602 1267h1.8M602 1273h1.8M602 1278h1.8M602 1281h1.8M602 1283h1.8M602 1285h1.8M602 1288h1.8M602 1303h1.8M602 1316h1.8M602 1325h1.8M602 1327h1.8M602 1329h1.8M602 1330h1.8M602 1331h1.8M602 1332h1.8M602 1333h1.8M602 1334h1.8M602 1335h1.8M602 1336h1.8M602 1337h1.8M602 1340h1.8M602 1342h1.8M602 1343h1.8M602 1348h1.8M602 1349h1.8M603 1258h1.8M603 1267h1.8M603 1275h1.8M603 1276h1.8M603 1277h1.8M603 1278h1.8M603 1279h1.8M603 1280h1.8M603 1286h1.8M603 1298h1.8M603 1321h1.8M603 1322h1.8M603 1324h1.8M603 1325h1.8M603 1329h1.8M603 1330h1.8M603 1331h1.8M603 1332h1.8M603 1334h1.8M603 1335h1.8M603 1336h1.8M603 1337h1.8M603 1338h1.8M603 1339h1.8M603 1340h1.8M603 1341h1.8M603 1342h1.8M603 1344h1.8M603 1345h1.8M603 1351h1.8M604 1269h1.8M604 1270h1.8M604 1273h1.8M604 1274h1.8M604 1275h1.8M604 1276h1.8M604 1277h1.8M604 1278h1.8M604 1279h1.8M604 1280h1.8M604 1281h1.8M604 1286h1.8M604 1293h1.8M604 1319h1.8M604 1323h1.8M604 1324h1.8M604 1326h1.8M604 1327h1.8M604 1329h1.8M604 1331h1.8M604 1332h1.8M604 1333h1.8M604 1334h1.8M604 1336h1.8M604 1338h1.8M604 1339h1.8M604 1340h1.8M604 1341h1.8M604 1342h1.8M604 1343h1.8M604 1346h1.8M604 1347h1.8M604 1352h1.8M605 1263h1.8M605 1265h1.8M605 1278h1.8M605 1280h1.8M605 1281h1.8M605 1284h1.8M605 1285h1.8M605 1286h1.8M605 1289h1.8M605 1290h1.8M605 1296h1.8M605 1320h1.8M605 1321h1.8M605 1325h1.8M605 1329h1.8M605 1330h1.8M605 1331h1.8M605 1333h1.8M605 1334h1.8M605 1335h1.8M605 1336h1.8M605 1337h1.8M605 1338h1.8M605 1339h1.8M605 1340h1.8M605 1341h1.8M605 1342h1.8M605 1343h1.8M605 1346h1.8M605 1347h1.8M605 1348h1.8M605 1353h1.8M606 1255h1.8M606 1261h1.8M606 1265h1.8M606 1266h1.8M606 1269h1.8M606 1274h1.8M606 1275h1.8M606 1278h1.8M606 1281h1.8M606 1283h1.8M606 1285h1.8M606 1288h1.8M606 1315h1.8M606 1319h1.8M606 1321h1.8M606 1328h1.8M606 1329h1.8M606 1332h1.8M606 1333h1.8M606 1334h1.8M606 1335h1.8M606 1336h1.8M606 1337h1.8M606 1339h1.8M606 1340h1.8M606 1342h1.8M606 1344h1.8M606 1346h1.8M606 1348h1.8M606 1359h1.8M607 1261h1.8M607 1264h1.8M607 1266h1.8M607 1272h1.8M607 1273h1.8M607 1274h1.8M607 1276h1.8M607 1281h1.8M607 1282h1.8M607 1284h1.8M607 1286h1.8M607 1289h1.8M607 1291h1.8M607 1320h1.8M607 1323h1.8M607 1326h1.8M607 1328h1.8M607 1329h1.8M607 1330h1.8M607 1331h1.8M607 1332h1.8M607 1333h1.8M607 1334h1.8M607 1335h1.8M607 1336h1.8M607 1337h1.8M607 1338h1.8M607 1339h1.8M607 1340h1.8M607 1341h1.8M607 1342h1.8M607 1343h1.8M607 1344h1.8M607 1347h1.8M607 1349h1.8M607 1355h1.8M608 1258h1.8M608 1261h1.8M608 1267h1.8M608 1271h1.8M608 1273h1.8M608 1275h1.8M608 1276h1.8M608 1278h1.8M608 1279h1.8M608 1280h1.8M608 1281h1.8M608 1282h1.8M608 1284h1.8M608 1285h1.8M608 1287h1.8M608 1294h1.8M608 1299h1.8M608 1320h1.8M608 1321h1.8M608 1322h1.8M608 1323h1.8M608 1324h1.8M608 1326h1.8M608 1327h1.8M608 1329h1.8M608 1330h1.8M608 1331h1.8M608 1332h1.8M608 1333h1.8M608 1334h1.8M608 1335h1.8M608 1336h1.8M608 1337h1.8M608 1338h1.8M608 1339h1.8M608 1340h1.8M608 1341h1.8M608 1342h1.8M608 1343h1.8M608 1344h1.8M608 1347h1.8M608 1348h1.8M608 1353h1.8M608 1354h1.8M609 1259h1.8M609 1266h1.8M609 1271h1.8M609 1272h1.8M609 1273h1.8M609 1275h1.8M609 1276h1.8M609 1277h1.8M609 1278h1.8M609 1280h1.8M609 1281h1.8M609 1284h1.8M609 1286h1.8M609 1290h1.8M609 1293h1.8M609 1294h1.8M609 1295h1.8M609 1315h1.8M609 1319h1.8M609 1324h1.8M609 1325h1.8M609 1327h1.8M609 1328h1.8M609 1329h1.8M609 1330h1.8M609 1331h1.8M609 1332h1.8M609 1333h1.8M609 1334h1.8M609 1336h1.8M609 1337h1.8M609 1338h1.8M609 1339h1.8M609 1340h1.8M609 1341h1.8M609 1342h1.8M609 1343h1.8M609 1344h1.8M609 1345h1.8M609 1348h1.8M609 1349h1.8M609 1352h1.8M609 1354h1.8M610 1223h1.8M610 1264h1.8M610 1268h1.8M610 1269h1.8M610 1272h1.8M610 1275h1.8M610 1277h1.8M610 1278h1.8M610 1279h1.8M610 1283h1.8M610 1286h1.8M610 1290h1.8M610 1293h1.8M610 1296h1.8M610 1297h1.8M610 1314h1.8M610 1325h1.8M610 1329h1.8M610 1330h1.8M610 1331h1.8M610 1332h1.8M610 1333h1.8M610 1334h1.8M610 1335h1.8M610 1336h1.8M610 1337h1.8M610 1338h1.8M610 1339h1.8M610 1340h1.8M610 1341h1.8M610 1343h1.8M610 1346h1.8M610 1347h1.8M610 1348h1.8M610 1349h1.8M610 1350h1.8M610 1355h1.8M610 1358h1.8M610 1361h1.8M611 1262h1.8M611 1263h1.8M611 1265h1.8M611 1266h1.8M611 1268h1.8M611 1269h1.8M611 1270h1.8M611 1272h1.8M611 1275h1.8M611 1276h1.8M611 1277h1.8M611 1278h1.8M611 1279h1.8M611 1284h1.8M611 1287h1.8M611 1292h1.8M611 1293h1.8M611 1294h1.8M611 1323h1.8M611 1324h1.8M611 1327h1.8M611 1328h1.8M611 1329h1.8M611 1330h1.8M611 1331h1.8M611 1332h1.8M611 1333h1.8M611 1334h1.8M611 1335h1.8M611 1336h1.8M611 1337h1.8M611 1338h1.8M611 1339h1.8M611 1340h1.8M611 1341h1.8M611 1342h1.8M611 1343h1.8M611 1344h1.8M611 1345h1.8M611 1347h1.8M611 1352h1.8M612 1258h1.8M612 1263h1.8M612 1267h1.8M612 1268h1.8M612 1270h1.8M612 1271h1.8M612 1273h1.8M612 1275h1.8M612 1279h1.8M612 1282h1.8M612 1283h1.8M612 1285h1.8M612 1288h1.8M612 1306h1.8M612 1312h1.8M612 1317h1.8M612 1319h1.8M612 1320h1.8M612 1324h1.8M612 1326h1.8M612 1327h1.8M612 1328h1.8M612 1329h1.8M612 1330h1.8M612 1331h1.8M612 1332h1.8M612 1333h1.8M612 1334h1.8M612 1335h1.8M612 1336h1.8M612 1337h1.8M612 1338h1.8M612 1339h1.8M612 1340h1.8M612 1341h1.8M612 1342h1.8M612 1344h1.8M612 1345h1.8M612 1346h1.8M612 1352h1.8M612 1376h1.8M613 1259h1.8M613 1269h1.8M613 1272h1.8M613 1275h1.8M613 1279h1.8M613 1280h1.8M613 1283h1.8M613 1284h1.8M613 1286h1.8M613 1288h1.8M613 1294h1.8M613 1296h1.8M613 1321h1.8M613 1322h1.8M613 1323h1.8M613 1324h1.8M613 1326h1.8M613 1327h1.8M613 1328h1.8M613 1329h1.8M613 1330h1.8M613 1331h1.8M613 1332h1.8M613 1333h1.8M613 1334h1.8M613 1335h1.8M613 1336h1.8M613 1337h1.8M613 1338h1.8M613 1339h1.8M613 1340h1.8M613 1341h1.8M613 1342h1.8M613 1343h1.8M613 1346h1.8M613 1347h1.8M613 1350h1.8M614 1265h1.8M614 1266h1.8M614 1271h1.8M614 1275h1.8M614 1277h1.8M614 1280h1.8M614 1281h1.8M614 1284h1.8M614 1285h1.8M614 1290h1.8M614 1320h1.8M614 1322h1.8M614 1323h1.8M614 1325h1.8M614 1326h1.8M614 1327h1.8M614 1328h1.8M614 1330h1.8M614 1331h1.8M614 1332h1.8M614 1333h1.8M614 1334h1.8M614 1335h1.8M614 1336h1.8M614 1337h1.8M614 1338h1.8M614 1339h1.8M614 1340h1.8M614 1341h1.8M614 1342h1.8M614 1343h1.8M614 1344h1.8M614 1347h1.8M614 1350h1.8M614 1351h1.8M614 1353h1.8M615 1240h1.8M615 1264h1.8M615 1268h1.8M615 1272h1.8M615 1273h1.8M615 1278h1.8M615 1279h1.8M615 1280h1.8M615 1281h1.8M615 1283h1.8M615 1285h1.8M615 1286h1.8M615 1287h1.8M615 1288h1.8M615 1293h1.8M615 1295h1.8M615 1297h1.8M615 1301h1.8M615 1304h1.8M615 1324h1.8M615 1325h1.8M615 1326h1.8M615 1327h1.8M615 1328h1.8M615 1330h1.8M615 1331h1.8M615 1332h1.8M615 1333h1.8M615 1334h1.8M615 1335h1.8M615 1336h1.8M615 1337h1.8M615 1338h1.8M615 1339h1.8M615 1340h1.8M615 1341h1.8M615 1342h1.8M615 1345h1.8M615 1348h1.8M615 1349h1.8M615 1351h1.8M616 1260h1.8M616 1265h1.8M616 1267h1.8M616 1270h1.8M616 1271h1.8M616 1272h1.8M616 1275h1.8M616 1276h1.8M616 1277h1.8M616 1279h1.8M616 1280h1.8M616 1283h1.8M616 1285h1.8M616 1286h1.8M616 1289h1.8M616 1292h1.8M616 1293h1.8M616 1318h1.8M616 1319h1.8M616 1320h1.8M616 1321h1.8M616 1323h1.8M616 1324h1.8M616 1325h1.8M616 1326h1.8M616 1327h1.8M616 1328h1.8M616 1329h1.8M616 1330h1.8M616 1331h1.8M616 1332h1.8M616 1334h1.8M616 1335h1.8M616 1336h1.8M616 1337h1.8M616 1338h1.8M616 1340h1.8M616 1341h1.8M616 1342h1.8M616 1343h1.8M616 1344h1.8M616 1347h1.8M616 1348h1.8M616 1349h1.8M616 1350h1.8M617 1267h1.8M617 1268h1.8M617 1272h1.8M617 1276h1.8M617 1278h1.8M617 1281h1.8M617 1286h1.8M617 1287h1.8M617 1290h1.8M617 1301h1.8M617 1315h1.8M617 1316h1.8M617 1323h1.8M617 1324h1.8M617 1325h1.8M617 1326h1.8M617 1327h1.8M617 1328h1.8M617 1329h1.8M617 1330h1.8M617 1331h1.8M617 1332h1.8M617 1333h1.8M617 1334h1.8M617 1335h1.8M617 1336h1.8M617 1337h1.8M617 1338h1.8M617 1339h1.8M617 1340h1.8M617 1341h1.8M617 1343h1.8M617 1345h1.8M617 1346h1.8M617 1347h1.8M617 1350h1.8M617 1351h1.8M617 1354h1.8M618 1259h1.8M618 1271h1.8M618 1272h1.8M618 1280h1.8M618 1281h1.8M618 1284h1.8M618 1288h1.8M618 1289h1.8M618 1290h1.8M618 1292h1.8M618 1294h1.8M618 1300h1.8M618 1318h1.8M618 1321h1.8M618 1323h1.8M618 1325h1.8M618 1326h1.8M618 1327h1.8M618 1329h1.8M618 1330h1.8M618 1331h1.8M618 1332h1.8M618 1333h1.8M618 1334h1.8M618 1335h1.8M618 1336h1.8M618 1337h1.8M618 1338h1.8M618 1339h1.8M618 1340h1.8M618 1341h1.8M618 1342h1.8M618 1343h1.8M618 1345h1.8M618 1346h1.8M618 1347h1.8M618 1349h1.8M618 1355h1.8M619 1267h1.8M619 1268h1.8M619 1270h1.8M619 1272h1.8M619 1274h1.8M619 1276h1.8M619 1277h1.8M619 1278h1.8M619 1281h1.8M619 1282h1.8M619 1283h1.8M619 1286h1.8M619 1289h1.8M619 1291h1.8M619 1292h1.8M619 1293h1.8M619 1295h1.8M619 1298h1.8M619 1301h1.8M619 1313h1.8M619 1316h1.8M619 1318h1.8M619 1323h1.8M619 1324h1.8M619 1325h1.8M619 1328h1.8M619 1329h1.8M619 1330h1.8M619 1332h1.8M619 1333h1.8M619 1334h1.8M619 1335h1.8M619 1336h1.8M619 1337h1.8M619 1338h1.8M619 1339h1.8M619 1340h1.8M619 1341h1.8M619 1342h1.8M619 1343h1.8M619 1345h1.8M619 1347h1.8M619 1348h1.8M619 1350h1.8M619 1355h1.8M620 1262h1.8M620 1268h1.8M620 1270h1.8M620 1272h1.8M620 1274h1.8M620 1276h1.8M620 1280h1.8M620 1282h1.8M620 1284h1.8M620 1285h1.8M620 1288h1.8M620 1289h1.8M620 1291h1.8M620 1293h1.8M620 1297h1.8M620 1298h1.8M620 1317h1.8M620 1319h1.8M620 1320h1.8M620 1326h1.8M620 1327h1.8M620 1328h1.8M620 1330h1.8M620 1331h1.8M620 1332h1.8M620 1333h1.8M620 1334h1.8M620 1335h1.8M620 1336h1.8M620 1337h1.8M620 1338h1.8M620 1339h1.8M620 1340h1.8M620 1342h1.8M620 1344h1.8M620 1345h1.8M620 1346h1.8M620 1356h1.8M621 1256h1.8M621 1260h1.8M621 1263h1.8M621 1264h1.8M621 1267h1.8M621 1270h1.8M621 1271h1.8M621 1275h1.8M621 1276h1.8M621 1277h1.8M621 1278h1.8M621 1281h1.8M621 1282h1.8M621 1283h1.8M621 1284h1.8M621 1288h1.8M621 1294h1.8M621 1295h1.8M621 1315h1.8M621 1323h1.8M621 1324h1.8M621 1326h1.8M621 1328h1.8M621 1329h1.8M621 1330h1.8M621 1331h1.8M621 1332h1.8M621 1333h1.8M621 1334h1.8M621 1335h1.8M621 1336h1.8M621 1337h1.8M621 1338h1.8M621 1339h1.8M621 1341h1.8M621 1342h1.8M621 1343h1.8M621 1344h1.8M621 1346h1.8M621 1347h1.8M621 1348h1.8M622 1261h1.8M622 1264h1.8M622 1271h1.8M622 1274h1.8M622 1276h1.8M622 1277h1.8M622 1278h1.8M622 1280h1.8M622 1282h1.8M622 1287h1.8M622 1288h1.8M622 1289h1.8M622 1294h1.8M622 1295h1.8M622 1320h1.8M622 1321h1.8M622 1323h1.8M622 1325h1.8M622 1326h1.8M622 1327h1.8M622 1328h1.8M622 1329h1.8M622 1330h1.8M622 1331h1.8M622 1332h1.8M622 1333h1.8M622 1334h1.8M622 1335h1.8M622 1336h1.8M622 1337h1.8M622 1338h1.8M622 1339h1.8M622 1340h1.8M622 1341h1.8M622 1342h1.8M622 1343h1.8M622 1344h1.8M622 1345h1.8M622 1346h1.8M622 1348h1.8M622 1350h1.8M622 1355h1.8M623 1259h1.8M623 1264h1.8M623 1265h1.8M623 1266h1.8M623 1268h1.8M623 1272h1.8M623 1273h1.8M623 1274h1.8M623 1275h1.8M623 1276h1.8M623 1280h1.8M623 1281h1.8M623 1284h1.8M623 1285h1.8M623 1288h1.8M623 1289h1.8M623 1290h1.8M623 1293h1.8M623 1309h1.8M623 1325h1.8M623 1326h1.8M623 1327h1.8M623 1329h1.8M623 1330h1.8M623 1331h1.8M623 1332h1.8M623 1333h1.8M623 1334h1.8M623 1335h1.8M623 1336h1.8M623 1337h1.8M623 1338h1.8M623 1339h1.8M623 1340h1.8M623 1341h1.8M623 1342h1.8M623 1343h1.8M623 1344h1.8M623 1345h1.8M623 1346h1.8M623 1348h1.8M623 1349h1.8M623 1356h1.8M624 1257h1.8M624 1261h1.8M624 1262h1.8M624 1266h1.8M624 1272h1.8M624 1273h1.8M624 1275h1.8M624 1276h1.8M624 1277h1.8M624 1281h1.8M624 1284h1.8M624 1286h1.8M624 1305h1.8M624 1314h1.8M624 1321h1.8M624 1322h1.8M624 1325h1.8M624 1327h1.8M624 1328h1.8M624 1329h1.8M624 1330h1.8M624 1332h1.8M624 1333h1.8M624 1334h1.8M624 1335h1.8M624 1336h1.8M624 1337h1.8M624 1338h1.8M624 1339h1.8M624 1340h1.8M624 1341h1.8M624 1342h1.8M624 1343h1.8M624 1344h1.8M624 1348h1.8M625 1267h1.8M625 1268h1.8M625 1270h1.8M625 1272h1.8M625 1275h1.8M625 1279h1.8M625 1280h1.8M625 1282h1.8M625 1284h1.8M625 1287h1.8M625 1291h1.8M625 1295h1.8M625 1297h1.8M625 1323h1.8M625 1325h1.8M625 1327h1.8M625 1328h1.8M625 1329h1.8M625 1330h1.8M625 1331h1.8M625 1332h1.8M625 1333h1.8M625 1334h1.8M625 1335h1.8M625 1336h1.8M625 1337h1.8M625 1338h1.8M625 1339h1.8M625 1340h1.8M625 1341h1.8M625 1342h1.8M625 1344h1.8M625 1345h1.8M625 1354h1.8M626 1271h1.8M626 1272h1.8M626 1274h1.8M626 1276h1.8M626 1277h1.8M626 1280h1.8M626 1281h1.8M626 1283h1.8M626 1287h1.8M626 1288h1.8M626 1293h1.8M626 1294h1.8M626 1300h1.8M626 1302h1.8M626 1315h1.8M626 1322h1.8M626 1325h1.8M626 1327h1.8M626 1328h1.8M626 1329h1.8M626 1331h1.8M626 1333h1.8M626 1334h1.8M626 1335h1.8M626 1338h1.8M626 1339h1.8M626 1340h1.8M626 1341h1.8M626 1342h1.8M626 1343h1.8M626 1344h1.8M626 1345h1.8M627 1205h1.8M627 1265h1.8M627 1269h1.8M627 1272h1.8M627 1275h1.8M627 1279h1.8M627 1281h1.8M627 1283h1.8M627 1284h1.8M627 1286h1.8M627 1287h1.8M627 1291h1.8M627 1322h1.8M627 1326h1.8M627 1328h1.8M627 1329h1.8M627 1331h1.8M627 1332h1.8M627 1333h1.8M627 1334h1.8M627 1336h1.8M627 1338h1.8M627 1339h1.8M627 1340h1.8M627 1341h1.8M627 1342h1.8M627 1343h1.8M627 1344h1.8M627 1346h1.8M627 1347h1.8M627 1349h1.8M627 1354h1.8M628 1265h1.8M628 1276h1.8M628 1278h1.8M628 1283h1.8M628 1285h1.8M628 1290h1.8M628 1300h1.8M628 1320h1.8M628 1322h1.8M628 1324h1.8M628 1325h1.8M628 1329h1.8M628 1331h1.8M628 1332h1.8M628 1333h1.8M628 1334h1.8M628 1336h1.8M628 1337h1.8M628 1338h1.8M628 1340h1.8M628 1341h1.8M628 1342h1.8M628 1345h1.8M628 1346h1.8M628 1347h1.8M628 1356h1.8M629 1263h1.8M629 1270h1.8M629 1273h1.8M629 1276h1.8M629 1277h1.8M629 1278h1.8M629 1280h1.8M629 1283h1.8M629 1285h1.8M629 1287h1.8M629 1289h1.8M629 1296h1.8M629 1323h1.8M629 1327h1.8M629 1328h1.8M629 1329h1.8M629 1332h1.8M629 1333h1.8M629 1334h1.8M629 1336h1.8M629 1337h1.8M629 1338h1.8M629 1339h1.8M629 1341h1.8M629 1342h1.8M629 1344h1.8M630 1261h1.8M630 1266h1.8M630 1267h1.8M630 1270h1.8M630 1271h1.8M630 1274h1.8M630 1281h1.8M630 1283h1.8M630 1287h1.8M630 1290h1.8M630 1319h1.8M630 1321h1.8M630 1322h1.8M630 1324h1.8M630 1326h1.8M630 1327h1.8M630 1328h1.8M630 1329h1.8M630 1332h1.8M630 1333h1.8M630 1334h1.8M630 1336h1.8M630 1337h1.8M630 1338h1.8M630 1339h1.8M630 1340h1.8M630 1341h1.8M630 1342h1.8M630 1344h1.8M630 1347h1.8M630 1350h1.8M631 1281h1.8M631 1282h1.8M631 1289h1.8M631 1297h1.8M631 1319h1.8M631 1323h1.8M631 1325h1.8M631 1328h1.8M631 1329h1.8M631 1330h1.8M631 1332h1.8M631 1333h1.8M631 1334h1.8M631 1337h1.8M631 1338h1.8M631 1339h1.8M631 1340h1.8M631 1341h1.8M631 1342h1.8M631 1343h1.8M631 1346h1.8M631 1350h1.8M632 1253h1.8M632 1270h1.8M632 1275h1.8M632 1277h1.8M632 1279h1.8M632 1287h1.8M632 1320h1.8M632 1322h1.8M632 1326h1.8M632 1327h1.8M632 1328h1.8M632 1329h1.8M632 1332h1.8M632 1334h1.8M632 1335h1.8M632 1337h1.8M632 1338h1.8M632 1341h1.8M632 1343h1.8M632 1344h1.8M632 1350h1.8M632 1357h1.8M632 1358h1.8M633 1259h1.8M633 1271h1.8M633 1282h1.8M633 1327h1.8M633 1328h1.8M633 1335h1.8M633 1336h1.8M633 1340h1.8M633 1341h1.8M633 1343h1.8M633 1344h1.8M633 1347h1.8M633 1348h1.8M633 1349h1.8M634 1264h1.8M634 1277h1.8M634 1279h1.8M634 1280h1.8M634 1281h1.8M634 1292h1.8M634 1294h1.8M634 1295h1.8M634 1328h1.8M634 1331h1.8M634 1332h1.8M634 1335h1.8M634 1336h1.8M634 1337h1.8M634 1339h1.8M634 1342h1.8M634 1347h1.8M635 1281h1.8M635 1326h1.8M635 1328h1.8M635 1329h1.8M635 1330h1.8M635 1331h1.8M635 1332h1.8M635 1334h1.8M635 1336h1.8M635 1339h1.8M635 1344h1.8M635 1347h1.8M636 1272h1.8M636 1294h1.8M636 1322h1.8M636 1327h1.8M636 1328h1.8M636 1329h1.8M636 1331h1.8M636 1337h1.8M636 1338h1.8M636 1340h1.8M636 1344h1.8M637 1271h1.8M637 1283h1.8M637 1290h1.8M637 1321h1.8M637 1322h1.8M637 1323h1.8M637 1324h1.8M637 1325h1.8M637 1332h1.8M637 1335h1.8M637 1337h1.8M637 1338h1.8M637 1339h1.8M637 1342h1.8M637 1344h1.8M638 1277h1.8M638 1278h1.8M638 1283h1.8M638 1289h1.8M638 1326h1.8M638 1328h1.8M638 1333h1.8M638 1334h1.8M638 1337h1.8M638 1349h1.8M639 1279h1.8M639 1281h1.8M639 1321h1.8M639 1323h1.8M639 1330h1.8M639 1332h1.8M639 1340h1.8M639 1347h1.8M640 1269h1.8M640 1326h1.8M640 1334h1.8M640 1339h1.8M640 1343h1.8M640 1357h1.8M641 1272h1.8M641 1274h1.8M641 1276h1.8M641 1334h1.8M641 1335h1.8M641 1339h1.8M641 1342h1.8M642 1258h1.8M642 1338h1.8M642 1341h1.8M642 1342h1.8M643 1274h1.8M643 1281h1.8M643 1291h1.8M643 1327h1.8M643 1331h1.8M643 1337h1.8M644 1286h1.8M644 1289h1.8M645 1336h1.8M645 1344h1.8M645 1349h1.8M646 1327h1.8M647 1335h1.8M647 1340h1.8M647 1348h1.8M648 1328h1.8M648 1339h1.8M648 1341h1.8M649 1281h1.8M649 1329h1.8M649 1334h1.8M651 1304h1.8M651 1331h1.8M651 1343h1.8M652 1269h1.8M654 1264h1.8M658 1338h1.8M658 1346h1.8M660 1321h1.8M668 1215h1.8M675 1242h1.8" stroke="#000" stroke-width="1.8" fill="none"/><rect x="239.5" y="592.3" width="107.1" height="97.5" fill="none" stroke="#000" stroke-width="1.1"/><path d="M239.5 689.8v6M252.3 689.8v6M257.6 689.8v6M262.8 689.8v6M286.9 689.8v6M312.6 689.8v6M336.4 689.8v6M243.5 689.8v3.5M246.5 689.8v3.5M343.5 689.8v3.5M270.05 689.8v3.5M274.3 689.8v3.5M277.31 689.8v3.5M279.65 689.8v3.5M281.55 689.8v3.5M283.17 689.8v3.5M284.56 689.8v3.5M285.8 689.8v3.5M294.64 689.8v3.5M299.16 689.8v3.5M302.37 689.8v3.5M304.86 689.8v3.5M306.9 689.8v3.5M308.62 689.8v3.5M310.11 689.8v3.5M311.42 689.8v3.5M319.76 689.8v3.5M323.96 689.8v3.5M326.93 689.8v3.5M329.24 689.8v3.5M331.12 689.8v3.5M332.71 689.8v3.5M334.09 689.8v3.5M335.31 689.8v3.5M239.5 689.8h-5M239.5 678.15h-5M239.5 673.32h-5M239.5 668.59h-5M239.5 646.65h-5M239.5 623.25h-5M239.5 601.59h-5M239.5 686.16h-3M239.5 683.43h-3M239.5 595.12h-3M239.5 661.98h-3M239.5 658.12h-3M239.5 655.38h-3M239.5 653.25h-3M239.5 651.52h-3M239.5 650.05h-3M239.5 648.77h-3M239.5 647.65h-3M239.5 639.61h-3M239.5 635.49h-3M239.5 632.56h-3M239.5 630.3h-3M239.5 628.44h-3M239.5 626.88h-3M239.5 625.52h-3M239.5 624.32h-3M239.5 616.73h-3M239.5 612.91h-3M239.5 610.21h-3M239.5 608.11h-3M239.5 606.39h-3M239.5 604.94h-3M239.5 603.69h-3M239.5 602.58h-3" stroke="#000" stroke-width=".9" fill="none"/><text x="245.1" y="605.2" font-size="12.2" font-family="Liberation Serif" stroke="#000" stroke-width=".12">3.4</text><text x="343.1" y="605.2" text-anchor="end" font-size="12.2" font-family="Liberation Serif" stroke="#000" stroke-width=".12">1.1 (0.17)</text><text x="343.1" y="686.3" text-anchor="end" font-size="12.2" font-family="Liberation Serif" stroke="#000" stroke-width=".12">2.7</text><path transform="scale(.5)" d="M483 1491h1.8M486 1507h1.8M487 1461h1.8M487 1490h1.8M487 1505h1.8M488 1459h1.8M488 1556h1.8M489 1498h1.8M493 1567h1.8M493 1606h1.8M494 1492h1.8M494 1493h1.8M494 1496h1.8M494 1498h1.8M494 1506h1.8M495 1490h1.8M495 1514h1.8M495 1537h1.8M495 1542h1.8M495 1564h1.8M495 1567h1.8M496 1488h1.8M496 1494h1.8M496 1547h1.8M496 1551h1.8M496 1556h1.8M497 1487h1.8M497 1489h1.8M497 1496h1.8M497 1497h1.8M497 1511h1.8M497 1554h1.8M497 1566h1.8M497 1567h1.8M497 1569h1.8M498 1488h1.8M498 1498h1.8M498 1499h1.8M498 1557h1.8M498 1562h1.8M499 1488h1.8M499 1496h1.8M499 1551h1.8M499 1554h1.8M499 1566h1.8M499 1573h1.8M500 1488h1.8M500 1497h1.8M500 1500h1.8M500 1504h1.8M500 1556h1.8M500 1571h1.8M500 1572h1.8M500 1575h1.8M500 1580h1.8M501 1495h1.8M501 1497h1.8M501 1503h1.8M501 1525h1.8M501 1550h1.8M501 1557h1.8M501 1562h1.8M501 1565h1.8M501 1567h1.8M502 1493h1.8M502 1494h1.8M502 1495h1.8M502 1507h1.8M502 1516h1.8M502 1554h1.8M502 1556h1.8M502 1569h1.8M502 1579h1.8M503 1455h1.8M503 1490h1.8M503 1491h1.8M503 1492h1.8M503 1493h1.8M503 1494h1.8M503 1497h1.8M503 1498h1.8M503 1499h1.8M503 1500h1.8M503 1502h1.8M503 1504h1.8M503 1509h1.8M503 1525h1.8M503 1543h1.8M503 1549h1.8M503 1551h1.8M503 1552h1.8M503 1556h1.8M503 1557h1.8M503 1558h1.8M503 1561h1.8M503 1564h1.8M503 1569h1.8M503 1574h1.8M504 1471h1.8M504 1484h1.8M504 1491h1.8M504 1492h1.8M504 1493h1.8M504 1494h1.8M504 1500h1.8M504 1503h1.8M504 1505h1.8M504 1506h1.8M504 1507h1.8M504 1511h1.8M504 1544h1.8M504 1548h1.8M504 1550h1.8M504 1553h1.8M504 1554h1.8M504 1559h1.8M504 1561h1.8M504 1566h1.8M504 1567h1.8M504 1568h1.8M504 1569h1.8M504 1571h1.8M504 1581h1.8M505 1480h1.8M505 1483h1.8M505 1486h1.8M505 1487h1.8M505 1488h1.8M505 1489h1.8M505 1490h1.8M505 1491h1.8M505 1493h1.8M505 1494h1.8M505 1496h1.8M505 1497h1.8M505 1499h1.8M505 1500h1.8M505 1503h1.8M505 1507h1.8M505 1509h1.8M505 1540h1.8M505 1546h1.8M505 1549h1.8M505 1551h1.8M505 1552h1.8M505 1553h1.8M505 1561h1.8M505 1562h1.8M505 1567h1.8M506 1435h1.8M506 1471h1.8M506 1483h1.8M506 1485h1.8M506 1486h1.8M506 1487h1.8M506 1490h1.8M506 1491h1.8M506 1492h1.8M506 1493h1.8M506 1496h1.8M506 1497h1.8M506 1498h1.8M506 1499h1.8M506 1500h1.8M506 1501h1.8M506 1507h1.8M506 1508h1.8M506 1509h1.8M506 1513h1.8M506 1516h1.8M506 1539h1.8M506 1551h1.8M506 1553h1.8M506 1555h1.8M506 1556h1.8M506 1557h1.8M506 1559h1.8M506 1560h1.8M506 1561h1.8M506 1562h1.8M506 1564h1.8M506 1573h1.8M506 1574h1.8M506 1577h1.8M507 1484h1.8M507 1485h1.8M507 1486h1.8M507 1487h1.8M507 1488h1.8M507 1490h1.8M507 1491h1.8M507 1492h1.8M507 1497h1.8M507 1498h1.8M507 1500h1.8M507 1502h1.8M507 1504h1.8M507 1506h1.8M507 1509h1.8M507 1541h1.8M507 1553h1.8M507 1558h1.8M507 1560h1.8M507 1562h1.8M507 1563h1.8M507 1564h1.8M507 1565h1.8M507 1566h1.8M507 1571h1.8M507 1576h1.8M508 1483h1.8M508 1486h1.8M508 1487h1.8M508 1488h1.8M508 1491h1.8M508 1493h1.8M508 1494h1.8M508 1495h1.8M508 1496h1.8M508 1497h1.8M508 1498h1.8M508 1499h1.8M508 1501h1.8M508 1503h1.8M508 1505h1.8M508 1506h1.8M508 1512h1.8M508 1515h1.8M508 1543h1.8M508 1546h1.8M508 1550h1.8M508 1551h1.8M508 1552h1.8M508 1554h1.8M508 1556h1.8M508 1559h1.8M508 1560h1.8M508 1561h1.8M508 1565h1.8M508 1568h1.8M508 1578h1.8M508 1580h1.8M509 1481h1.8M509 1483h1.8M509 1485h1.8M509 1487h1.8M509 1489h1.8M509 1490h1.8M509 1491h1.8M509 1492h1.8M509 1493h1.8M509 1494h1.8M509 1495h1.8M509 1496h1.8M509 1497h1.8M509 1498h1.8M509 1499h1.8M509 1500h1.8M509 1501h1.8M509 1502h1.8M509 1503h1.8M509 1508h1.8M509 1509h1.8M509 1535h1.8M509 1547h1.8M509 1549h1.8M509 1551h1.8M509 1555h1.8M509 1556h1.8M509 1557h1.8M509 1558h1.8M509 1559h1.8M509 1560h1.8M509 1561h1.8M509 1563h1.8M509 1564h1.8M509 1565h1.8M509 1567h1.8M509 1569h1.8M509 1570h1.8M509 1573h1.8M509 1575h1.8M509 1576h1.8M509 1592h1.8M510 1482h1.8M510 1485h1.8M510 1486h1.8M510 1487h1.8M510 1488h1.8M510 1489h1.8M510 1490h1.8M510 1491h1.8M510 1492h1.8M510 1495h1.8M510 1497h1.8M510 1498h1.8M510 1499h1.8M510 1501h1.8M510 1502h1.8M510 1503h1.8M510 1504h1.8M510 1506h1.8M510 1508h1.8M510 1516h1.8M510 1518h1.8M510 1537h1.8M510 1539h1.8M510 1544h1.8M510 1547h1.8M510 1549h1.8M510 1550h1.8M510 1551h1.8M510 1552h1.8M510 1553h1.8M510 1554h1.8M510 1555h1.8M510 1556h1.8M510 1558h1.8M510 1559h1.8M510 1560h1.8M510 1562h1.8M510 1563h1.8M510 1564h1.8M510 1566h1.8M510 1567h1.8M510 1569h1.8M510 1570h1.8M510 1571h1.8M510 1576h1.8M510 1579h1.8M511 1483h1.8M511 1485h1.8M511 1488h1.8M511 1489h1.8M511 1490h1.8M511 1491h1.8M511 1492h1.8M511 1493h1.8M511 1495h1.8M511 1496h1.8M511 1497h1.8M511 1498h1.8M511 1499h1.8M511 1500h1.8M511 1506h1.8M511 1510h1.8M511 1515h1.8M511 1530h1.8M511 1544h1.8M511 1547h1.8M511 1551h1.8M511 1555h1.8M511 1556h1.8M511 1559h1.8M511 1560h1.8M511 1561h1.8M511 1562h1.8M511 1563h1.8M511 1564h1.8M511 1565h1.8M511 1566h1.8M511 1567h1.8M511 1568h1.8M511 1570h1.8M511 1571h1.8M511 1572h1.8M511 1573h1.8M511 1578h1.8M512 1484h1.8M512 1485h1.8M512 1486h1.8M512 1487h1.8M512 1488h1.8M512 1489h1.8M512 1490h1.8M512 1491h1.8M512 1492h1.8M512 1495h1.8M512 1496h1.8M512 1497h1.8M512 1498h1.8M512 1499h1.8M512 1500h1.8M512 1501h1.8M512 1502h1.8M512 1503h1.8M512 1505h1.8M512 1507h1.8M512 1508h1.8M512 1509h1.8M512 1510h1.8M512 1513h1.8M512 1544h1.8M512 1551h1.8M512 1553h1.8M512 1554h1.8M512 1556h1.8M512 1558h1.8M512 1559h1.8M512 1560h1.8M512 1561h1.8M512 1564h1.8M512 1565h1.8M512 1566h1.8M512 1567h1.8M512 1568h1.8M512 1569h1.8M512 1571h1.8M512 1572h1.8M512 1574h1.8M512 1576h1.8M512 1577h1.8M513 1476h1.8M513 1483h1.8M513 1484h1.8M513 1487h1.8M513 1488h1.8M513 1489h1.8M513 1491h1.8M513 1492h1.8M513 1494h1.8M513 1495h1.8M513 1496h1.8M513 1498h1.8M513 1499h1.8M513 1500h1.8M513 1501h1.8M513 1502h1.8M513 1503h1.8M513 1504h1.8M513 1506h1.8M513 1507h1.8M513 1513h1.8M513 1514h1.8M513 1515h1.8M513 1539h1.8M513 1544h1.8M513 1547h1.8M513 1548h1.8M513 1550h1.8M513 1551h1.8M513 1552h1.8M513 1554h1.8M513 1555h1.8M513 1556h1.8M513 1557h1.8M513 1559h1.8M513 1560h1.8M513 1561h1.8M513 1562h1.8M513 1563h1.8M513 1564h1.8M513 1565h1.8M513 1566h1.8M513 1567h1.8M513 1570h1.8M513 1572h1.8M513 1573h1.8M513 1575h1.8M513 1590h1.8M514 1472h1.8M514 1479h1.8M514 1486h1.8M514 1487h1.8M514 1488h1.8M514 1490h1.8M514 1491h1.8M514 1492h1.8M514 1493h1.8M514 1494h1.8M514 1495h1.8M514 1496h1.8M514 1497h1.8M514 1498h1.8M514 1499h1.8M514 1500h1.8M514 1501h1.8M514 1502h1.8M514 1503h1.8M514 1507h1.8M514 1508h1.8M514 1510h1.8M514 1511h1.8M514 1531h1.8M514 1543h1.8M514 1545h1.8M514 1547h1.8M514 1548h1.8M514 1549h1.8M514 1550h1.8M514 1552h1.8M514 1553h1.8M514 1555h1.8M514 1556h1.8M514 1557h1.8M514 1558h1.8M514 1559h1.8M514 1560h1.8M514 1561h1.8M514 1562h1.8M514 1564h1.8M514 1565h1.8M514 1568h1.8M514 1569h1.8M514 1573h1.8M515 1481h1.8M515 1484h1.8M515 1486h1.8M515 1487h1.8M515 1488h1.8M515 1489h1.8M515 1491h1.8M515 1492h1.8M515 1493h1.8M515 1494h1.8M515 1495h1.8M515 1496h1.8M515 1497h1.8M515 1498h1.8M515 1499h1.8M515 1500h1.8M515 1501h1.8M515 1502h1.8M515 1503h1.8M515 1504h1.8M515 1506h1.8M515 1507h1.8M515 1508h1.8M515 1509h1.8M515 1510h1.8M515 1520h1.8M515 1542h1.8M515 1547h1.8M515 1548h1.8M515 1549h1.8M515 1551h1.8M515 1552h1.8M515 1554h1.8M515 1555h1.8M515 1556h1.8M515 1558h1.8M515 1559h1.8M515 1561h1.8M515 1563h1.8M515 1564h1.8M515 1565h1.8M515 1566h1.8M515 1568h1.8M515 1569h1.8M515 1571h1.8M515 1573h1.8M515 1574h1.8M515 1579h1.8M516 1480h1.8M516 1482h1.8M516 1483h1.8M516 1485h1.8M516 1486h1.8M516 1487h1.8M516 1488h1.8M516 1489h1.8M516 1490h1.8M516 1491h1.8M516 1492h1.8M516 1493h1.8M516 1494h1.8M516 1496h1.8M516 1497h1.8M516 1498h1.8M516 1499h1.8M516 1500h1.8M516 1501h1.8M516 1503h1.8M516 1504h1.8M516 1508h1.8M516 1514h1.8M516 1535h1.8M516 1545h1.8M516 1549h1.8M516 1550h1.8M516 1552h1.8M516 1554h1.8M516 1555h1.8M516 1556h1.8M516 1557h1.8M516 1558h1.8M516 1559h1.8M516 1560h1.8M516 1561h1.8M516 1562h1.8M516 1563h1.8M516 1564h1.8M516 1565h1.8M516 1566h1.8M516 1567h1.8M516 1568h1.8M516 1569h1.8M516 1570h1.8M516 1571h1.8M516 1572h1.8M516 1576h1.8M516 1578h1.8M516 1579h1.8M516 1583h1.8M517 1482h1.8M517 1484h1.8M517 1485h1.8M517 1486h1.8M517 1487h1.8M517 1488h1.8M517 1489h1.8M517 1490h1.8M517 1491h1.8M517 1492h1.8M517 1493h1.8M517 1494h1.8M517 1495h1.8M517 1496h1.8M517 1497h1.8M517 1498h1.8M517 1500h1.8M517 1501h1.8M517 1502h1.8M517 1503h1.8M517 1504h1.8M517 1506h1.8M517 1507h1.8M517 1508h1.8M517 1510h1.8M517 1512h1.8M517 1539h1.8M517 1545h1.8M517 1546h1.8M517 1547h1.8M517 1548h1.8M517 1549h1.8M517 1550h1.8M517 1552h1.8M517 1553h1.8M517 1554h1.8M517 1555h1.8M517 1557h1.8M517 1558h1.8M517 1559h1.8M517 1560h1.8M517 1561h1.8M517 1562h1.8M517 1563h1.8M517 1564h1.8M517 1566h1.8M517 1567h1.8M517 1569h1.8M517 1570h1.8M517 1571h1.8M517 1573h1.8M517 1575h1.8M517 1579h1.8M517 1582h1.8M518 1474h1.8M518 1480h1.8M518 1482h1.8M518 1483h1.8M518 1484h1.8M518 1485h1.8M518 1486h1.8M518 1487h1.8M518 1488h1.8M518 1489h1.8M518 1490h1.8M518 1491h1.8M518 1492h1.8M518 1493h1.8M518 1494h1.8M518 1495h1.8M518 1496h1.8M518 1497h1.8M518 1498h1.8M518 1499h1.8M518 1500h1.8M518 1501h1.8M518 1502h1.8M518 1503h1.8M518 1504h1.8M518 1505h1.8M518 1507h1.8M518 1508h1.8M518 1509h1.8M518 1518h1.8M518 1539h1.8M518 1543h1.8M518 1544h1.8M518 1548h1.8M518 1549h1.8M518 1550h1.8M518 1551h1.8M518 1552h1.8M518 1553h1.8M518 1554h1.8M518 1555h1.8M518 1556h1.8M518 1557h1.8M518 1558h1.8M518 1559h1.8M518 1560h1.8M518 1561h1.8M518 1562h1.8M518 1563h1.8M518 1564h1.8M518 1566h1.8M518 1567h1.8M518 1569h1.8M518 1570h1.8M518 1571h1.8M518 1573h1.8M518 1575h1.8M518 1583h1.8M518 1586h1.8M519 1478h1.8M519 1480h1.8M519 1483h1.8M519 1484h1.8M519 1486h1.8M519 1488h1.8M519 1489h1.8M519 1490h1.8M519 1491h1.8M519 1492h1.8M519 1493h1.8M519 1494h1.8M519 1495h1.8M519 1496h1.8M519 1497h1.8M519 1498h1.8M519 1499h1.8M519 1500h1.8M519 1501h1.8M519 1503h1.8M519 1504h1.8M519 1505h1.8M519 1506h1.8M519 1507h1.8M519 1509h1.8M519 1517h1.8M519 1519h1.8M519 1546h1.8M519 1550h1.8M519 1552h1.8M519 1553h1.8M519 1554h1.8M519 1555h1.8M519 1557h1.8M519 1559h1.8M519 1560h1.8M519 1561h1.8M519 1562h1.8M519 1563h1.8M519 1564h1.8M519 1565h1.8M519 1566h1.8M519 1569h1.8M519 1570h1.8M519 1571h1.8M519 1572h1.8M519 1573h1.8M519 1574h1.8M519 1576h1.8M520 1465h1.8M520 1482h1.8M520 1484h1.8M520 1485h1.8M520 1486h1.8M520 1487h1.8M520 1488h1.8M520 1489h1.8M520 1490h1.8M520 1491h1.8M520 1492h1.8M520 1493h1.8M520 1494h1.8M520 1495h1.8M520 1496h1.8M520 1497h1.8M520 1498h1.8M520 1499h1.8M520 1500h1.8M520 1501h1.8M520 1502h1.8M520 1504h1.8M520 1505h1.8M520 1506h1.8M520 1507h1.8M520 1508h1.8M520 1509h1.8M520 1511h1.8M520 1513h1.8M520 1515h1.8M520 1537h1.8M520 1543h1.8M520 1544h1.8M520 1546h1.8M520 1548h1.8M520 1550h1.8M520 1551h1.8M520 1552h1.8M520 1553h1.8M520 1555h1.8M520 1556h1.8M520 1557h1.8M520 1558h1.8M520 1559h1.8M520 1560h1.8M520 1561h1.8M520 1562h1.8M520 1564h1.8M520 1565h1.8M520 1566h1.8M520 1567h1.8M520 1568h1.8M520 1570h1.8M520 1571h1.8M520 1574h1.8M520 1580h1.8M521 1479h1.8M521 1483h1.8M521 1484h1.8M521 1485h1.8M521 1486h1.8M521 1490h1.8M521 1491h1.8M521 1493h1.8M521 1494h1.8M521 1495h1.8M521 1496h1.8M521 1497h1.8M521 1498h1.8M521 1499h1.8M521 1500h1.8M521 1501h1.8M521 1502h1.8M521 1503h1.8M521 1505h1.8M521 1508h1.8M521 1511h1.8M521 1513h1.8M521 1514h1.8M521 1527h1.8M521 1538h1.8M521 1539h1.8M521 1541h1.8M521 1543h1.8M521 1545h1.8M521 1546h1.8M521 1552h1.8M521 1554h1.8M521 1555h1.8M521 1557h1.8M521 1558h1.8M521 1559h1.8M521 1560h1.8M521 1562h1.8M521 1563h1.8M521 1564h1.8M521 1565h1.8M521 1566h1.8M521 1569h1.8M521 1570h1.8M521 1571h1.8M521 1572h1.8M521 1573h1.8M521 1574h1.8M521 1575h1.8M521 1580h1.8M522 1484h1.8M522 1485h1.8M522 1487h1.8M522 1488h1.8M522 1489h1.8M522 1490h1.8M522 1491h1.8M522 1492h1.8M522 1493h1.8M522 1495h1.8M522 1496h1.8M522 1497h1.8M522 1498h1.8M522 1499h1.8M522 1502h1.8M522 1503h1.8M522 1504h1.8M522 1506h1.8M522 1507h1.8M522 1508h1.8M522 1509h1.8M522 1544h1.8M522 1545h1.8M522 1546h1.8M522 1550h1.8M522 1551h1.8M522 1552h1.8M522 1553h1.8M522 1554h1.8M522 1555h1.8M522 1556h1.8M522 1558h1.8M522 1559h1.8M522 1562h1.8M522 1563h1.8M522 1564h1.8M522 1566h1.8M522 1567h1.8M522 1569h1.8M522 1571h1.8M522 1572h1.8M523 1478h1.8M523 1480h1.8M523 1485h1.8M523 1486h1.8M523 1487h1.8M523 1488h1.8M523 1489h1.8M523 1490h1.8M523 1491h1.8M523 1492h1.8M523 1493h1.8M523 1494h1.8M523 1495h1.8M523 1496h1.8M523 1497h1.8M523 1498h1.8M523 1499h1.8M523 1500h1.8M523 1502h1.8M523 1503h1.8M523 1504h1.8M523 1505h1.8M523 1508h1.8M523 1510h1.8M523 1512h1.8M523 1513h1.8M523 1548h1.8M523 1549h1.8M523 1550h1.8M523 1551h1.8M523 1553h1.8M523 1554h1.8M523 1556h1.8M523 1558h1.8M523 1559h1.8M523 1560h1.8M523 1561h1.8M523 1562h1.8M523 1564h1.8M523 1565h1.8M523 1566h1.8M523 1567h1.8M523 1568h1.8M523 1569h1.8M523 1571h1.8M523 1572h1.8M523 1573h1.8M523 1575h1.8M523 1580h1.8M524 1472h1.8M524 1476h1.8M524 1482h1.8M524 1483h1.8M524 1486h1.8M524 1487h1.8M524 1488h1.8M524 1489h1.8M524 1490h1.8M524 1491h1.8M524 1492h1.8M524 1493h1.8M524 1494h1.8M524 1495h1.8M524 1496h1.8M524 1497h1.8M524 1498h1.8M524 1499h1.8M524 1500h1.8M524 1501h1.8M524 1502h1.8M524 1505h1.8M524 1506h1.8M524 1507h1.8M524 1511h1.8M524 1544h1.8M524 1546h1.8M524 1547h1.8M524 1548h1.8M524 1549h1.8M524 1550h1.8M524 1555h1.8M524 1556h1.8M524 1557h1.8M524 1558h1.8M524 1559h1.8M524 1562h1.8M524 1563h1.8M524 1564h1.8M524 1565h1.8M524 1566h1.8M524 1567h1.8M524 1568h1.8M524 1569h1.8M524 1571h1.8M524 1572h1.8M524 1574h1.8M524 1575h1.8M525 1474h1.8M525 1480h1.8M525 1481h1.8M525 1482h1.8M525 1485h1.8M525 1486h1.8M525 1487h1.8M525 1488h1.8M525 1489h1.8M525 1490h1.8M525 1491h1.8M525 1492h1.8M525 1493h1.8M525 1494h1.8M525 1495h1.8M525 1496h1.8M525 1497h1.8M525 1498h1.8M525 1499h1.8M525 1500h1.8M525 1501h1.8M525 1502h1.8M525 1503h1.8M525 1505h1.8M525 1506h1.8M525 1507h1.8M525 1515h1.8M525 1539h1.8M525 1540h1.8M525 1546h1.8M525 1549h1.8M525 1551h1.8M525 1553h1.8M525 1554h1.8M525 1555h1.8M525 1556h1.8M525 1557h1.8M525 1558h1.8M525 1559h1.8M525 1560h1.8M525 1561h1.8M525 1562h1.8M525 1563h1.8M525 1564h1.8M525 1565h1.8M525 1566h1.8M525 1567h1.8M525 1568h1.8M525 1569h1.8M525 1570h1.8M525 1571h1.8M525 1572h1.8M525 1573h1.8M525 1575h1.8M525 1583h1.8M526 1482h1.8M526 1483h1.8M526 1484h1.8M526 1485h1.8M526 1487h1.8M526 1488h1.8M526 1489h1.8M526 1490h1.8M526 1492h1.8M526 1493h1.8M526 1494h1.8M526 1495h1.8M526 1496h1.8M526 1497h1.8M526 1498h1.8M526 1499h1.8M526 1500h1.8M526 1502h1.8M526 1503h1.8M526 1506h1.8M526 1507h1.8M526 1508h1.8M526 1511h1.8M526 1512h1.8M526 1514h1.8M526 1520h1.8M526 1522h1.8M526 1540h1.8M526 1542h1.8M526 1546h1.8M526 1547h1.8M526 1549h1.8M526 1550h1.8M526 1551h1.8M526 1552h1.8M526 1553h1.8M526 1554h1.8M526 1555h1.8M526 1556h1.8M526 1557h1.8M526 1558h1.8M526 1559h1.8M526 1560h1.8M526 1561h1.8M526 1562h1.8M526 1563h1.8M526 1564h1.8M526 1565h1.8M526 1566h1.8M526 1568h1.8M526 1571h1.8M526 1574h1.8M526 1584h1.8M527 1479h1.8M527 1482h1.8M527 1484h1.8M527 1485h1.8M527 1488h1.8M527 1489h1.8M527 1490h1.8M527 1491h1.8M527 1492h1.8M527 1493h1.8M527 1494h1.8M527 1495h1.8M527 1496h1.8M527 1498h1.8M527 1499h1.8M527 1501h1.8M527 1502h1.8M527 1503h1.8M527 1504h1.8M527 1506h1.8M527 1507h1.8M527 1509h1.8M527 1516h1.8M527 1543h1.8M527 1544h1.8M527 1545h1.8M527 1549h1.8M527 1551h1.8M527 1553h1.8M527 1554h1.8M527 1555h1.8M527 1556h1.8M527 1559h1.8M527 1560h1.8M527 1561h1.8M527 1562h1.8M527 1563h1.8M527 1564h1.8M527 1565h1.8M527 1566h1.8M527 1567h1.8M527 1568h1.8M527 1569h1.8M527 1570h1.8M527 1571h1.8M527 1572h1.8M527 1579h1.8M528 1476h1.8M528 1477h1.8M528 1480h1.8M528 1481h1.8M528 1484h1.8M528 1485h1.8M528 1487h1.8M528 1488h1.8M528 1490h1.8M528 1491h1.8M528 1492h1.8M528 1493h1.8M528 1494h1.8M528 1495h1.8M528 1496h1.8M528 1497h1.8M528 1498h1.8M528 1500h1.8M528 1504h1.8M528 1507h1.8M528 1508h1.8M528 1509h1.8M528 1510h1.8M528 1513h1.8M528 1541h1.8M528 1545h1.8M528 1549h1.8M528 1550h1.8M528 1551h1.8M528 1552h1.8M528 1553h1.8M528 1554h1.8M528 1555h1.8M528 1556h1.8M528 1557h1.8M528 1559h1.8M528 1560h1.8M528 1561h1.8M528 1562h1.8M528 1564h1.8M528 1565h1.8M528 1568h1.8M528 1570h1.8M528 1572h1.8M528 1575h1.8M528 1578h1.8M529 1483h1.8M529 1484h1.8M529 1486h1.8M529 1488h1.8M529 1492h1.8M529 1494h1.8M529 1495h1.8M529 1496h1.8M529 1498h1.8M529 1499h1.8M529 1500h1.8M529 1502h1.8M529 1503h1.8M529 1504h1.8M529 1505h1.8M529 1509h1.8M529 1510h1.8M529 1543h1.8M529 1545h1.8M529 1550h1.8M529 1551h1.8M529 1552h1.8M529 1553h1.8M529 1554h1.8M529 1556h1.8M529 1558h1.8M529 1559h1.8M529 1560h1.8M529 1561h1.8M529 1562h1.8M529 1565h1.8M529 1566h1.8M529 1567h1.8M529 1568h1.8M529 1569h1.8M529 1570h1.8M529 1572h1.8M529 1576h1.8M530 1478h1.8M530 1481h1.8M530 1484h1.8M530 1486h1.8M530 1489h1.8M530 1490h1.8M530 1492h1.8M530 1493h1.8M530 1494h1.8M530 1495h1.8M530 1496h1.8M530 1497h1.8M530 1500h1.8M530 1501h1.8M530 1502h1.8M530 1503h1.8M530 1504h1.8M530 1506h1.8M530 1507h1.8M530 1508h1.8M530 1509h1.8M530 1513h1.8M530 1545h1.8M530 1547h1.8M530 1549h1.8M530 1552h1.8M530 1554h1.8M530 1555h1.8M530 1556h1.8M530 1558h1.8M530 1559h1.8M530 1560h1.8M530 1561h1.8M530 1563h1.8M530 1565h1.8M530 1567h1.8M530 1569h1.8M530 1573h1.8M530 1574h1.8M531 1473h1.8M531 1481h1.8M531 1482h1.8M531 1486h1.8M531 1487h1.8M531 1488h1.8M531 1490h1.8M531 1491h1.8M531 1492h1.8M531 1494h1.8M531 1496h1.8M531 1497h1.8M531 1498h1.8M531 1499h1.8M531 1500h1.8M531 1501h1.8M531 1502h1.8M531 1503h1.8M531 1504h1.8M531 1508h1.8M531 1509h1.8M531 1513h1.8M531 1542h1.8M531 1543h1.8M531 1544h1.8M531 1549h1.8M531 1550h1.8M531 1552h1.8M531 1553h1.8M531 1555h1.8M531 1556h1.8M531 1557h1.8M531 1559h1.8M531 1560h1.8M531 1561h1.8M531 1562h1.8M531 1563h1.8M531 1564h1.8M531 1565h1.8M531 1566h1.8M531 1567h1.8M531 1568h1.8M531 1569h1.8M531 1571h1.8M531 1572h1.8M531 1573h1.8M531 1576h1.8M531 1582h1.8M532 1470h1.8M532 1482h1.8M532 1483h1.8M532 1484h1.8M532 1486h1.8M532 1487h1.8M532 1489h1.8M532 1494h1.8M532 1495h1.8M532 1496h1.8M532 1498h1.8M532 1500h1.8M532 1504h1.8M532 1505h1.8M532 1506h1.8M532 1507h1.8M532 1511h1.8M532 1516h1.8M532 1517h1.8M532 1543h1.8M532 1553h1.8M532 1554h1.8M532 1555h1.8M532 1556h1.8M532 1557h1.8M532 1558h1.8M532 1559h1.8M532 1560h1.8M532 1561h1.8M532 1562h1.8M532 1563h1.8M532 1564h1.8M532 1565h1.8M532 1566h1.8M532 1568h1.8M532 1569h1.8M532 1571h1.8M532 1572h1.8M532 1573h1.8M532 1574h1.8M532 1582h1.8M533 1476h1.8M533 1478h1.8M533 1483h1.8M533 1484h1.8M533 1486h1.8M533 1488h1.8M533 1489h1.8M533 1490h1.8M533 1492h1.8M533 1494h1.8M533 1496h1.8M533 1497h1.8M533 1499h1.8M533 1503h1.8M533 1504h1.8M533 1506h1.8M533 1512h1.8M533 1515h1.8M533 1543h1.8M533 1544h1.8M533 1545h1.8M533 1554h1.8M533 1556h1.8M533 1557h1.8M533 1560h1.8M533 1565h1.8M533 1566h1.8M533 1568h1.8M533 1569h1.8M533 1570h1.8M533 1571h1.8M533 1572h1.8M533 1573h1.8M533 1578h1.8M534 1479h1.8M534 1486h1.8M534 1487h1.8M534 1488h1.8M534 1489h1.8M534 1491h1.8M534 1493h1.8M534 1496h1.8M534 1499h1.8M534 1500h1.8M534 1501h1.8M534 1506h1.8M534 1507h1.8M534 1512h1.8M534 1515h1.8M534 1547h1.8M534 1548h1.8M534 1554h1.8M534 1557h1.8M534 1558h1.8M534 1561h1.8M534 1562h1.8M534 1564h1.8M534 1566h1.8M534 1568h1.8M534 1570h1.8M534 1571h1.8M534 1574h1.8M535 1478h1.8M535 1485h1.8M535 1490h1.8M535 1492h1.8M535 1494h1.8M535 1496h1.8M535 1497h1.8M535 1498h1.8M535 1501h1.8M535 1502h1.8M535 1504h1.8M535 1506h1.8M535 1507h1.8M535 1508h1.8M535 1510h1.8M535 1511h1.8M535 1528h1.8M535 1550h1.8M535 1552h1.8M535 1554h1.8M535 1559h1.8M535 1560h1.8M535 1566h1.8M535 1567h1.8M535 1568h1.8M535 1569h1.8M535 1573h1.8M536 1479h1.8M536 1483h1.8M536 1487h1.8M536 1491h1.8M536 1494h1.8M536 1496h1.8M536 1499h1.8M536 1503h1.8M536 1504h1.8M536 1505h1.8M536 1543h1.8M536 1555h1.8M536 1556h1.8M536 1559h1.8M536 1564h1.8M536 1574h1.8M536 1575h1.8M537 1480h1.8M537 1489h1.8M537 1490h1.8M537 1491h1.8M537 1493h1.8M537 1496h1.8M537 1497h1.8M537 1499h1.8M537 1502h1.8M537 1504h1.8M537 1505h1.8M537 1506h1.8M537 1509h1.8M537 1510h1.8M537 1511h1.8M537 1515h1.8M537 1521h1.8M537 1524h1.8M537 1548h1.8M537 1549h1.8M537 1550h1.8M537 1553h1.8M537 1555h1.8M537 1556h1.8M537 1557h1.8M537 1558h1.8M537 1559h1.8M537 1561h1.8M537 1564h1.8M537 1565h1.8M537 1573h1.8M537 1580h1.8M538 1481h1.8M538 1488h1.8M538 1491h1.8M538 1495h1.8M538 1497h1.8M538 1502h1.8M538 1505h1.8M538 1506h1.8M538 1508h1.8M538 1531h1.8M538 1540h1.8M538 1543h1.8M538 1552h1.8M538 1555h1.8M538 1564h1.8M538 1566h1.8M538 1567h1.8M538 1578h1.8M539 1479h1.8M539 1482h1.8M539 1491h1.8M539 1498h1.8M539 1505h1.8M539 1511h1.8M539 1546h1.8M539 1553h1.8M539 1554h1.8M539 1555h1.8M539 1558h1.8M539 1560h1.8M539 1564h1.8M539 1566h1.8M539 1570h1.8M539 1572h1.8M540 1434h1.8M540 1486h1.8M540 1489h1.8M540 1491h1.8M540 1493h1.8M540 1495h1.8M540 1496h1.8M540 1501h1.8M540 1502h1.8M540 1514h1.8M540 1545h1.8M540 1547h1.8M540 1553h1.8M540 1559h1.8M540 1560h1.8M540 1563h1.8M540 1567h1.8M540 1571h1.8M541 1487h1.8M541 1492h1.8M541 1493h1.8M541 1494h1.8M541 1498h1.8M541 1499h1.8M541 1510h1.8M541 1550h1.8M541 1552h1.8M541 1553h1.8M541 1565h1.8M541 1566h1.8M542 1480h1.8M542 1491h1.8M542 1496h1.8M542 1515h1.8M542 1519h1.8M542 1531h1.8M542 1551h1.8M542 1553h1.8M542 1555h1.8M542 1560h1.8M542 1567h1.8M542 1568h1.8M543 1496h1.8M543 1497h1.8M543 1501h1.8M543 1504h1.8M543 1519h1.8M543 1526h1.8M543 1557h1.8M543 1564h1.8M543 1566h1.8M543 1567h1.8M543 1573h1.8M544 1484h1.8M544 1490h1.8M544 1492h1.8M544 1493h1.8M544 1496h1.8M544 1501h1.8M544 1505h1.8M544 1520h1.8M544 1549h1.8M544 1553h1.8M544 1557h1.8M544 1560h1.8M544 1567h1.8M544 1571h1.8M545 1505h1.8M545 1542h1.8M545 1545h1.8M545 1556h1.8M545 1562h1.8M545 1563h1.8M545 1568h1.8M545 1569h1.8M546 1495h1.8M546 1579h1.8M547 1484h1.8M547 1506h1.8M547 1559h1.8M547 1564h1.8M547 1574h1.8M548 1492h1.8M548 1551h1.8M548 1561h1.8M548 1564h1.8M549 1551h1.8M549 1552h1.8M549 1598h1.8M550 1533h1.8M550 1547h1.8M550 1557h1.8M551 1489h1.8M551 1498h1.8M551 1554h1.8M551 1568h1.8M551 1575h1.8M551 1579h1.8M553 1442h1.8M553 1544h1.8M553 1561h1.8M554 1571h1.8M555 1532h1.8M555 1570h1.8M556 1541h1.8M556 1543h1.8M556 1546h1.8M557 1487h1.8M557 1503h1.8M557 1575h1.8M558 1490h1.8M558 1506h1.8M558 1544h1.8M558 1559h1.8M558 1565h1.8M558 1572h1.8M559 1482h1.8M559 1567h1.8M560 1488h1.8M560 1511h1.8M560 1518h1.8M560 1572h1.8M561 1484h1.8M561 1487h1.8M561 1511h1.8M561 1526h1.8M561 1553h1.8M562 1565h1.8M562 1567h1.8M562 1572h1.8M563 1506h1.8M563 1530h1.8M564 1487h1.8M564 1494h1.8M564 1516h1.8M564 1560h1.8M565 1497h1.8M565 1505h1.8M565 1570h1.8M565 1575h1.8M565 1577h1.8M565 1585h1.8M566 1506h1.8M566 1555h1.8M566 1559h1.8M567 1495h1.8M567 1537h1.8M567 1548h1.8M567 1550h1.8M567 1554h1.8M567 1562h1.8M567 1567h1.8M568 1488h1.8M568 1495h1.8M568 1498h1.8M568 1502h1.8M568 1503h1.8M568 1516h1.8M568 1523h1.8M568 1549h1.8M568 1551h1.8M568 1569h1.8M569 1486h1.8M569 1503h1.8M569 1506h1.8M569 1508h1.8M569 1549h1.8M569 1551h1.8M569 1559h1.8M570 1497h1.8M570 1501h1.8M570 1557h1.8M570 1561h1.8M570 1566h1.8M570 1568h1.8M570 1579h1.8M571 1490h1.8M571 1499h1.8M571 1502h1.8M571 1504h1.8M571 1532h1.8M571 1556h1.8M571 1557h1.8M571 1558h1.8M571 1564h1.8M572 1534h1.8M572 1552h1.8M572 1557h1.8M572 1560h1.8M572 1566h1.8M572 1572h1.8M573 1468h1.8M573 1485h1.8M573 1486h1.8M573 1488h1.8M573 1491h1.8M573 1499h1.8M573 1501h1.8M573 1502h1.8M573 1503h1.8M573 1504h1.8M573 1506h1.8M573 1509h1.8M573 1513h1.8M573 1525h1.8M573 1541h1.8M573 1547h1.8M573 1550h1.8M573 1554h1.8M573 1561h1.8M573 1563h1.8M573 1566h1.8M573 1567h1.8M574 1476h1.8M574 1485h1.8M574 1496h1.8M574 1498h1.8M574 1499h1.8M574 1500h1.8M574 1503h1.8M574 1504h1.8M574 1507h1.8M574 1558h1.8M574 1559h1.8M574 1562h1.8M574 1563h1.8M574 1566h1.8M574 1567h1.8M574 1570h1.8M574 1573h1.8M574 1574h1.8M574 1577h1.8M575 1486h1.8M575 1488h1.8M575 1489h1.8M575 1495h1.8M575 1499h1.8M575 1508h1.8M575 1514h1.8M575 1524h1.8M575 1550h1.8M575 1558h1.8M575 1562h1.8M575 1578h1.8M576 1480h1.8M576 1487h1.8M576 1491h1.8M576 1493h1.8M576 1495h1.8M576 1498h1.8M576 1501h1.8M576 1505h1.8M576 1506h1.8M576 1513h1.8M576 1547h1.8M576 1548h1.8M576 1554h1.8M576 1559h1.8M576 1566h1.8M576 1567h1.8M577 1480h1.8M577 1486h1.8M577 1489h1.8M577 1494h1.8M577 1497h1.8M577 1498h1.8M577 1500h1.8M577 1501h1.8M577 1502h1.8M577 1504h1.8M577 1505h1.8M577 1506h1.8M577 1507h1.8M577 1513h1.8M577 1523h1.8M577 1544h1.8M577 1546h1.8M577 1561h1.8M577 1563h1.8M577 1566h1.8M577 1567h1.8M577 1570h1.8M577 1571h1.8M577 1578h1.8M577 1580h1.8M578 1481h1.8M578 1487h1.8M578 1489h1.8M578 1491h1.8M578 1492h1.8M578 1495h1.8M578 1497h1.8M578 1498h1.8M578 1500h1.8M578 1501h1.8M578 1549h1.8M578 1550h1.8M578 1560h1.8M578 1565h1.8M578 1566h1.8M578 1569h1.8M578 1581h1.8M579 1486h1.8M579 1488h1.8M579 1489h1.8M579 1493h1.8M579 1498h1.8M579 1499h1.8M579 1500h1.8M579 1501h1.8M579 1504h1.8M579 1506h1.8M579 1507h1.8M579 1523h1.8M579 1525h1.8M579 1553h1.8M579 1562h1.8M579 1563h1.8M579 1564h1.8M579 1565h1.8M579 1567h1.8M579 1569h1.8M579 1577h1.8M580 1475h1.8M580 1480h1.8M580 1481h1.8M580 1483h1.8M580 1487h1.8M580 1490h1.8M580 1493h1.8M580 1495h1.8M580 1497h1.8M580 1498h1.8M580 1499h1.8M580 1500h1.8M580 1501h1.8M580 1502h1.8M580 1503h1.8M580 1505h1.8M580 1508h1.8M580 1547h1.8M580 1551h1.8M580 1552h1.8M580 1554h1.8M580 1558h1.8M580 1559h1.8M580 1560h1.8M580 1563h1.8M580 1569h1.8M580 1570h1.8M580 1573h1.8M580 1574h1.8M580 1578h1.8M581 1483h1.8M581 1484h1.8M581 1485h1.8M581 1490h1.8M581 1493h1.8M581 1494h1.8M581 1496h1.8M581 1497h1.8M581 1499h1.8M581 1500h1.8M581 1501h1.8M581 1502h1.8M581 1503h1.8M581 1504h1.8M581 1506h1.8M581 1510h1.8M581 1511h1.8M581 1543h1.8M581 1549h1.8M581 1550h1.8M581 1556h1.8M581 1557h1.8M581 1559h1.8M581 1564h1.8M581 1565h1.8M581 1566h1.8M581 1569h1.8M581 1572h1.8M581 1575h1.8M582 1481h1.8M582 1484h1.8M582 1490h1.8M582 1494h1.8M582 1495h1.8M582 1498h1.8M582 1499h1.8M582 1500h1.8M582 1502h1.8M582 1503h1.8M582 1504h1.8M582 1508h1.8M582 1530h1.8M582 1543h1.8M582 1546h1.8M582 1550h1.8M582 1555h1.8M582 1557h1.8M582 1558h1.8M582 1560h1.8M582 1562h1.8M582 1564h1.8M582 1566h1.8M582 1567h1.8M582 1568h1.8M582 1569h1.8M583 1477h1.8M583 1484h1.8M583 1486h1.8M583 1487h1.8M583 1489h1.8M583 1490h1.8M583 1491h1.8M583 1493h1.8M583 1494h1.8M583 1495h1.8M583 1497h1.8M583 1498h1.8M583 1499h1.8M583 1500h1.8M583 1501h1.8M583 1502h1.8M583 1503h1.8M583 1508h1.8M583 1510h1.8M583 1511h1.8M583 1541h1.8M583 1543h1.8M583 1547h1.8M583 1548h1.8M583 1549h1.8M583 1553h1.8M583 1554h1.8M583 1556h1.8M583 1558h1.8M583 1559h1.8M583 1560h1.8M583 1561h1.8M583 1562h1.8M583 1565h1.8M583 1566h1.8M583 1574h1.8M583 1578h1.8M584 1478h1.8M584 1483h1.8M584 1487h1.8M584 1489h1.8M584 1493h1.8M584 1495h1.8M584 1496h1.8M584 1497h1.8M584 1498h1.8M584 1500h1.8M584 1501h1.8M584 1503h1.8M584 1504h1.8M584 1505h1.8M584 1506h1.8M584 1508h1.8M584 1512h1.8M584 1549h1.8M584 1552h1.8M584 1554h1.8M584 1555h1.8M584 1558h1.8M584 1559h1.8M584 1560h1.8M584 1565h1.8M584 1566h1.8M584 1568h1.8M584 1569h1.8M585 1487h1.8M585 1488h1.8M585 1489h1.8M585 1490h1.8M585 1491h1.8M585 1493h1.8M585 1494h1.8M585 1495h1.8M585 1497h1.8M585 1498h1.8M585 1499h1.8M585 1500h1.8M585 1501h1.8M585 1502h1.8M585 1503h1.8M585 1505h1.8M585 1506h1.8M585 1508h1.8M585 1546h1.8M585 1552h1.8M585 1553h1.8M585 1554h1.8M585 1556h1.8M585 1557h1.8M585 1558h1.8M585 1559h1.8M585 1560h1.8M585 1561h1.8M585 1563h1.8M585 1565h1.8M585 1566h1.8M585 1568h1.8M585 1569h1.8M585 1570h1.8M585 1571h1.8M585 1574h1.8M585 1575h1.8M585 1576h1.8M586 1476h1.8M586 1480h1.8M586 1485h1.8M586 1486h1.8M586 1490h1.8M586 1491h1.8M586 1492h1.8M586 1493h1.8M586 1494h1.8M586 1495h1.8M586 1497h1.8M586 1498h1.8M586 1499h1.8M586 1501h1.8M586 1502h1.8M586 1503h1.8M586 1504h1.8M586 1505h1.8M586 1506h1.8M586 1509h1.8M586 1519h1.8M586 1545h1.8M586 1547h1.8M586 1548h1.8M586 1550h1.8M586 1556h1.8M586 1559h1.8M586 1560h1.8M586 1561h1.8M586 1563h1.8M586 1564h1.8M586 1567h1.8M586 1568h1.8M586 1571h1.8M586 1575h1.8M587 1474h1.8M587 1480h1.8M587 1484h1.8M587 1485h1.8M587 1486h1.8M587 1487h1.8M587 1489h1.8M587 1490h1.8M587 1492h1.8M587 1493h1.8M587 1494h1.8M587 1495h1.8M587 1496h1.8M587 1497h1.8M587 1498h1.8M587 1499h1.8M587 1500h1.8M587 1501h1.8M587 1502h1.8M587 1503h1.8M587 1504h1.8M587 1505h1.8M587 1506h1.8M587 1508h1.8M587 1509h1.8M587 1512h1.8M587 1513h1.8M587 1538h1.8M587 1544h1.8M587 1545h1.8M587 1548h1.8M587 1550h1.8M587 1552h1.8M587 1553h1.8M587 1554h1.8M587 1556h1.8M587 1557h1.8M587 1558h1.8M587 1559h1.8M587 1560h1.8M587 1561h1.8M587 1562h1.8M587 1564h1.8M587 1566h1.8M587 1568h1.8M587 1569h1.8M587 1574h1.8M587 1609h1.8M588 1480h1.8M588 1482h1.8M588 1484h1.8M588 1489h1.8M588 1490h1.8M588 1491h1.8M588 1494h1.8M588 1495h1.8M588 1496h1.8M588 1497h1.8M588 1498h1.8M588 1499h1.8M588 1501h1.8M588 1502h1.8M588 1503h1.8M588 1506h1.8M588 1518h1.8M588 1541h1.8M588 1542h1.8M588 1545h1.8M588 1546h1.8M588 1556h1.8M588 1558h1.8M588 1559h1.8M588 1560h1.8M588 1562h1.8M588 1567h1.8M588 1568h1.8M588 1569h1.8M588 1570h1.8M588 1572h1.8M588 1575h1.8M588 1576h1.8M588 1577h1.8M589 1478h1.8M589 1483h1.8M589 1486h1.8M589 1489h1.8M589 1490h1.8M589 1491h1.8M589 1492h1.8M589 1493h1.8M589 1494h1.8M589 1495h1.8M589 1496h1.8M589 1499h1.8M589 1500h1.8M589 1501h1.8M589 1502h1.8M589 1503h1.8M589 1505h1.8M589 1508h1.8M589 1521h1.8M589 1536h1.8M589 1549h1.8M589 1550h1.8M589 1553h1.8M589 1556h1.8M589 1557h1.8M589 1558h1.8M589 1560h1.8M589 1561h1.8M589 1563h1.8M589 1564h1.8M589 1565h1.8M589 1567h1.8M589 1568h1.8M589 1569h1.8M589 1570h1.8M589 1571h1.8M589 1573h1.8M590 1472h1.8M590 1484h1.8M590 1487h1.8M590 1488h1.8M590 1489h1.8M590 1490h1.8M590 1491h1.8M590 1492h1.8M590 1493h1.8M590 1494h1.8M590 1495h1.8M590 1496h1.8M590 1497h1.8M590 1499h1.8M590 1500h1.8M590 1501h1.8M590 1502h1.8M590 1503h1.8M590 1505h1.8M590 1506h1.8M590 1511h1.8M590 1513h1.8M590 1540h1.8M590 1541h1.8M590 1545h1.8M590 1547h1.8M590 1549h1.8M590 1551h1.8M590 1552h1.8M590 1553h1.8M590 1554h1.8M590 1556h1.8M590 1557h1.8M590 1559h1.8M590 1560h1.8M590 1562h1.8M590 1564h1.8M590 1565h1.8M590 1566h1.8M590 1567h1.8M590 1568h1.8M590 1569h1.8M590 1570h1.8M590 1573h1.8M590 1574h1.8M591 1479h1.8M591 1484h1.8M591 1485h1.8M591 1487h1.8M591 1489h1.8M591 1490h1.8M591 1491h1.8M591 1492h1.8M591 1493h1.8M591 1495h1.8M591 1497h1.8M591 1498h1.8M591 1499h1.8M591 1500h1.8M591 1505h1.8M591 1507h1.8M591 1518h1.8M591 1539h1.8M591 1541h1.8M591 1550h1.8M591 1551h1.8M591 1552h1.8M591 1553h1.8M591 1554h1.8M591 1556h1.8M591 1557h1.8M591 1558h1.8M591 1559h1.8M591 1560h1.8M591 1561h1.8M591 1562h1.8M591 1563h1.8M591 1564h1.8M591 1565h1.8M591 1566h1.8M591 1567h1.8M591 1568h1.8M591 1576h1.8M592 1486h1.8M592 1487h1.8M592 1489h1.8M592 1490h1.8M592 1491h1.8M592 1492h1.8M592 1493h1.8M592 1494h1.8M592 1495h1.8M592 1496h1.8M592 1498h1.8M592 1499h1.8M592 1500h1.8M592 1501h1.8M592 1503h1.8M592 1507h1.8M592 1510h1.8M592 1537h1.8M592 1546h1.8M592 1549h1.8M592 1552h1.8M592 1554h1.8M592 1556h1.8M592 1557h1.8M592 1558h1.8M592 1559h1.8M592 1560h1.8M592 1561h1.8M592 1562h1.8M592 1563h1.8M592 1564h1.8M592 1565h1.8M592 1566h1.8M592 1567h1.8M592 1568h1.8M592 1569h1.8M592 1571h1.8M592 1572h1.8M592 1574h1.8M592 1588h1.8M593 1478h1.8M593 1487h1.8M593 1489h1.8M593 1490h1.8M593 1491h1.8M593 1493h1.8M593 1495h1.8M593 1496h1.8M593 1497h1.8M593 1499h1.8M593 1500h1.8M593 1501h1.8M593 1502h1.8M593 1503h1.8M593 1504h1.8M593 1505h1.8M593 1506h1.8M593 1508h1.8M593 1510h1.8M593 1511h1.8M593 1512h1.8M593 1513h1.8M593 1545h1.8M593 1546h1.8M593 1549h1.8M593 1551h1.8M593 1552h1.8M593 1553h1.8M593 1554h1.8M593 1556h1.8M593 1558h1.8M593 1559h1.8M593 1560h1.8M593 1561h1.8M593 1562h1.8M593 1563h1.8M593 1565h1.8M593 1566h1.8M593 1568h1.8M593 1570h1.8M593 1572h1.8M593 1573h1.8M593 1575h1.8M594 1479h1.8M594 1481h1.8M594 1482h1.8M594 1485h1.8M594 1488h1.8M594 1489h1.8M594 1490h1.8M594 1491h1.8M594 1492h1.8M594 1493h1.8M594 1494h1.8M594 1495h1.8M594 1496h1.8M594 1498h1.8M594 1499h1.8M594 1500h1.8M594 1501h1.8M594 1502h1.8M594 1503h1.8M594 1504h1.8M594 1505h1.8M594 1507h1.8M594 1509h1.8M594 1517h1.8M594 1541h1.8M594 1543h1.8M594 1547h1.8M594 1548h1.8M594 1550h1.8M594 1551h1.8M594 1552h1.8M594 1554h1.8M594 1555h1.8M594 1557h1.8M594 1558h1.8M594 1559h1.8M594 1560h1.8M594 1561h1.8M594 1562h1.8M594 1563h1.8M594 1564h1.8M594 1565h1.8M594 1567h1.8M594 1568h1.8M594 1569h1.8M594 1570h1.8M594 1571h1.8M594 1572h1.8M594 1574h1.8M594 1576h1.8M594 1578h1.8M594 1580h1.8M595 1477h1.8M595 1482h1.8M595 1484h1.8M595 1485h1.8M595 1486h1.8M595 1487h1.8M595 1490h1.8M595 1491h1.8M595 1492h1.8M595 1493h1.8M595 1495h1.8M595 1496h1.8M595 1497h1.8M595 1498h1.8M595 1499h1.8M595 1500h1.8M595 1501h1.8M595 1503h1.8M595 1504h1.8M595 1506h1.8M595 1509h1.8M595 1510h1.8M595 1512h1.8M595 1513h1.8M595 1515h1.8M595 1516h1.8M595 1541h1.8M595 1544h1.8M595 1545h1.8M595 1546h1.8M595 1547h1.8M595 1548h1.8M595 1551h1.8M595 1554h1.8M595 1555h1.8M595 1556h1.8M595 1557h1.8M595 1558h1.8M595 1559h1.8M595 1560h1.8M595 1561h1.8M595 1562h1.8M595 1563h1.8M595 1564h1.8M595 1565h1.8M595 1566h1.8M595 1567h1.8M595 1568h1.8M595 1571h1.8M595 1572h1.8M595 1573h1.8M595 1576h1.8M595 1578h1.8M595 1579h1.8M595 1580h1.8M595 1586h1.8M596 1473h1.8M596 1480h1.8M596 1482h1.8M596 1483h1.8M596 1485h1.8M596 1486h1.8M596 1488h1.8M596 1489h1.8M596 1490h1.8M596 1491h1.8M596 1493h1.8M596 1494h1.8M596 1495h1.8M596 1496h1.8M596 1498h1.8M596 1499h1.8M596 1500h1.8M596 1502h1.8M596 1503h1.8M596 1504h1.8M596 1505h1.8M596 1506h1.8M596 1513h1.8M596 1547h1.8M596 1548h1.8M596 1551h1.8M596 1552h1.8M596 1553h1.8M596 1554h1.8M596 1555h1.8M596 1556h1.8M596 1557h1.8M596 1559h1.8M596 1560h1.8M596 1561h1.8M596 1562h1.8M596 1563h1.8M596 1564h1.8M596 1565h1.8M596 1566h1.8M596 1568h1.8M596 1569h1.8M596 1570h1.8M596 1571h1.8M596 1577h1.8M597 1481h1.8M597 1485h1.8M597 1486h1.8M597 1489h1.8M597 1493h1.8M597 1494h1.8M597 1495h1.8M597 1496h1.8M597 1497h1.8M597 1498h1.8M597 1500h1.8M597 1501h1.8M597 1503h1.8M597 1504h1.8M597 1507h1.8M597 1508h1.8M597 1511h1.8M597 1540h1.8M597 1546h1.8M597 1550h1.8M597 1551h1.8M597 1552h1.8M597 1553h1.8M597 1554h1.8M597 1555h1.8M597 1556h1.8M597 1557h1.8M597 1559h1.8M597 1560h1.8M597 1561h1.8M597 1562h1.8M597 1564h1.8M597 1565h1.8M597 1566h1.8M597 1567h1.8M597 1568h1.8M597 1569h1.8M597 1570h1.8M597 1571h1.8M597 1573h1.8M597 1574h1.8M597 1575h1.8M597 1580h1.8M598 1482h1.8M598 1485h1.8M598 1486h1.8M598 1488h1.8M598 1490h1.8M598 1491h1.8M598 1492h1.8M598 1493h1.8M598 1494h1.8M598 1495h1.8M598 1496h1.8M598 1497h1.8M598 1498h1.8M598 1499h1.8M598 1500h1.8M598 1502h1.8M598 1503h1.8M598 1505h1.8M598 1507h1.8M598 1510h1.8M598 1539h1.8M598 1543h1.8M598 1544h1.8M598 1547h1.8M598 1549h1.8M598 1551h1.8M598 1553h1.8M598 1554h1.8M598 1555h1.8M598 1556h1.8M598 1557h1.8M598 1558h1.8M598 1559h1.8M598 1560h1.8M598 1561h1.8M598 1562h1.8M598 1563h1.8M598 1564h1.8M598 1565h1.8M598 1567h1.8M598 1571h1.8M598 1572h1.8M598 1573h1.8M598 1576h1.8M598 1577h1.8M598 1582h1.8M598 1588h1.8M599 1481h1.8M599 1490h1.8M599 1491h1.8M599 1494h1.8M599 1495h1.8M599 1496h1.8M599 1497h1.8M599 1498h1.8M599 1499h1.8M599 1500h1.8M599 1501h1.8M599 1503h1.8M599 1504h1.8M599 1505h1.8M599 1506h1.8M599 1507h1.8M599 1510h1.8M599 1533h1.8M599 1535h1.8M599 1542h1.8M599 1543h1.8M599 1547h1.8M599 1548h1.8M599 1553h1.8M599 1554h1.8M599 1555h1.8M599 1556h1.8M599 1557h1.8M599 1558h1.8M599 1559h1.8M599 1560h1.8M599 1561h1.8M599 1562h1.8M599 1564h1.8M599 1565h1.8M599 1566h1.8M599 1567h1.8M599 1568h1.8M599 1569h1.8M599 1570h1.8M599 1572h1.8M599 1573h1.8M599 1574h1.8M600 1485h1.8M600 1486h1.8M600 1490h1.8M600 1491h1.8M600 1492h1.8M600 1494h1.8M600 1495h1.8M600 1496h1.8M600 1497h1.8M600 1498h1.8M600 1499h1.8M600 1500h1.8M600 1501h1.8M600 1502h1.8M600 1503h1.8M600 1504h1.8M600 1505h1.8M600 1506h1.8M600 1512h1.8M600 1531h1.8M600 1538h1.8M600 1540h1.8M600 1550h1.8M600 1551h1.8M600 1553h1.8M600 1554h1.8M600 1555h1.8M600 1556h1.8M600 1558h1.8M600 1559h1.8M600 1561h1.8M600 1562h1.8M600 1563h1.8M600 1565h1.8M600 1566h1.8M600 1567h1.8M600 1568h1.8M600 1569h1.8M600 1575h1.8M600 1576h1.8M600 1579h1.8M601 1475h1.8M601 1480h1.8M601 1484h1.8M601 1486h1.8M601 1488h1.8M601 1489h1.8M601 1491h1.8M601 1492h1.8M601 1494h1.8M601 1495h1.8M601 1496h1.8M601 1497h1.8M601 1498h1.8M601 1499h1.8M601 1501h1.8M601 1503h1.8M601 1504h1.8M601 1505h1.8M601 1506h1.8M601 1508h1.8M601 1509h1.8M601 1510h1.8M601 1511h1.8M601 1513h1.8M601 1543h1.8M601 1549h1.8M601 1550h1.8M601 1554h1.8M601 1555h1.8M601 1556h1.8M601 1557h1.8M601 1558h1.8M601 1559h1.8M601 1560h1.8M601 1561h1.8M601 1562h1.8M601 1563h1.8M601 1564h1.8M601 1565h1.8M601 1566h1.8M601 1567h1.8M601 1568h1.8M601 1569h1.8M601 1573h1.8M601 1574h1.8M601 1578h1.8M602 1479h1.8M602 1481h1.8M602 1486h1.8M602 1491h1.8M602 1492h1.8M602 1493h1.8M602 1496h1.8M602 1498h1.8M602 1499h1.8M602 1500h1.8M602 1501h1.8M602 1502h1.8M602 1505h1.8M602 1508h1.8M602 1512h1.8M602 1552h1.8M602 1553h1.8M602 1555h1.8M602 1556h1.8M602 1557h1.8M602 1558h1.8M602 1559h1.8M602 1560h1.8M602 1561h1.8M602 1562h1.8M602 1563h1.8M602 1564h1.8M602 1565h1.8M602 1566h1.8M602 1567h1.8M602 1568h1.8M602 1569h1.8M602 1570h1.8M602 1572h1.8M602 1573h1.8M602 1574h1.8M602 1575h1.8M602 1576h1.8M603 1473h1.8M603 1483h1.8M603 1486h1.8M603 1487h1.8M603 1489h1.8M603 1491h1.8M603 1492h1.8M603 1493h1.8M603 1494h1.8M603 1495h1.8M603 1497h1.8M603 1498h1.8M603 1499h1.8M603 1501h1.8M603 1502h1.8M603 1503h1.8M603 1504h1.8M603 1505h1.8M603 1507h1.8M603 1510h1.8M603 1518h1.8M603 1519h1.8M603 1531h1.8M603 1534h1.8M603 1535h1.8M603 1545h1.8M603 1547h1.8M603 1550h1.8M603 1552h1.8M603 1553h1.8M603 1555h1.8M603 1558h1.8M603 1560h1.8M603 1561h1.8M603 1562h1.8M603 1563h1.8M603 1564h1.8M603 1565h1.8M603 1566h1.8M603 1569h1.8M603 1570h1.8M603 1571h1.8M603 1572h1.8M603 1573h1.8M603 1574h1.8M603 1576h1.8M603 1583h1.8M603 1584h1.8M604 1479h1.8M604 1487h1.8M604 1488h1.8M604 1489h1.8M604 1490h1.8M604 1492h1.8M604 1493h1.8M604 1494h1.8M604 1495h1.8M604 1496h1.8M604 1499h1.8M604 1500h1.8M604 1501h1.8M604 1503h1.8M604 1507h1.8M604 1508h1.8M604 1513h1.8M604 1543h1.8M604 1544h1.8M604 1545h1.8M604 1548h1.8M604 1550h1.8M604 1551h1.8M604 1552h1.8M604 1555h1.8M604 1556h1.8M604 1557h1.8M604 1558h1.8M604 1560h1.8M604 1561h1.8M604 1562h1.8M604 1563h1.8M604 1564h1.8M604 1565h1.8M604 1566h1.8M604 1567h1.8M604 1568h1.8M604 1570h1.8M604 1571h1.8M604 1573h1.8M604 1574h1.8M604 1576h1.8M605 1481h1.8M605 1486h1.8M605 1489h1.8M605 1490h1.8M605 1492h1.8M605 1493h1.8M605 1494h1.8M605 1497h1.8M605 1500h1.8M605 1501h1.8M605 1507h1.8M605 1509h1.8M605 1522h1.8M605 1538h1.8M605 1542h1.8M605 1545h1.8M605 1551h1.8M605 1552h1.8M605 1554h1.8M605 1555h1.8M605 1557h1.8M605 1558h1.8M605 1559h1.8M605 1560h1.8M605 1561h1.8M605 1562h1.8M605 1564h1.8M605 1565h1.8M605 1567h1.8M605 1571h1.8M605 1572h1.8M605 1573h1.8M605 1574h1.8M605 1578h1.8M605 1582h1.8M606 1482h1.8M606 1487h1.8M606 1489h1.8M606 1493h1.8M606 1495h1.8M606 1496h1.8M606 1498h1.8M606 1499h1.8M606 1502h1.8M606 1503h1.8M606 1506h1.8M606 1507h1.8M606 1509h1.8M606 1510h1.8M606 1540h1.8M606 1543h1.8M606 1548h1.8M606 1553h1.8M606 1555h1.8M606 1557h1.8M606 1558h1.8M606 1560h1.8M606 1562h1.8M606 1564h1.8M606 1565h1.8M606 1566h1.8M606 1567h1.8M606 1568h1.8M606 1572h1.8M606 1573h1.8M606 1574h1.8M606 1575h1.8M606 1577h1.8M607 1495h1.8M607 1497h1.8M607 1499h1.8M607 1501h1.8M607 1502h1.8M607 1505h1.8M607 1506h1.8M607 1509h1.8M607 1546h1.8M607 1549h1.8M607 1550h1.8M607 1553h1.8M607 1554h1.8M607 1555h1.8M607 1556h1.8M607 1558h1.8M607 1559h1.8M607 1560h1.8M607 1562h1.8M607 1563h1.8M607 1564h1.8M607 1565h1.8M607 1566h1.8M607 1567h1.8M607 1569h1.8M607 1570h1.8M607 1573h1.8M607 1574h1.8M607 1575h1.8M607 1584h1.8M608 1479h1.8M608 1482h1.8M608 1484h1.8M608 1487h1.8M608 1490h1.8M608 1491h1.8M608 1496h1.8M608 1497h1.8M608 1498h1.8M608 1500h1.8M608 1501h1.8M608 1502h1.8M608 1503h1.8M608 1504h1.8M608 1505h1.8M608 1506h1.8M608 1507h1.8M608 1539h1.8M608 1544h1.8M608 1545h1.8M608 1548h1.8M608 1549h1.8M608 1550h1.8M608 1551h1.8M608 1554h1.8M608 1555h1.8M608 1556h1.8M608 1557h1.8M608 1558h1.8M608 1559h1.8M608 1560h1.8M608 1561h1.8M608 1566h1.8M608 1568h1.8M608 1570h1.8M608 1572h1.8M609 1486h1.8M609 1487h1.8M609 1489h1.8M609 1490h1.8M609 1491h1.8M609 1494h1.8M609 1495h1.8M609 1496h1.8M609 1497h1.8M609 1499h1.8M609 1500h1.8M609 1506h1.8M609 1538h1.8M609 1548h1.8M609 1550h1.8M609 1554h1.8M609 1555h1.8M609 1557h1.8M609 1558h1.8M609 1559h1.8M609 1560h1.8M609 1563h1.8M609 1565h1.8M609 1566h1.8M609 1567h1.8M609 1570h1.8M609 1576h1.8M609 1578h1.8M610 1489h1.8M610 1496h1.8M610 1500h1.8M610 1504h1.8M610 1505h1.8M610 1509h1.8M610 1510h1.8M610 1511h1.8M610 1516h1.8M610 1548h1.8M610 1552h1.8M610 1553h1.8M610 1556h1.8M610 1557h1.8M610 1560h1.8M610 1561h1.8M610 1562h1.8M610 1563h1.8M610 1564h1.8M610 1565h1.8M610 1567h1.8M610 1568h1.8M610 1569h1.8M610 1570h1.8M610 1574h1.8M610 1578h1.8M610 1582h1.8M611 1482h1.8M611 1486h1.8M611 1487h1.8M611 1495h1.8M611 1498h1.8M611 1501h1.8M611 1503h1.8M611 1506h1.8M611 1544h1.8M611 1549h1.8M611 1552h1.8M611 1555h1.8M611 1558h1.8M611 1559h1.8M611 1560h1.8M611 1561h1.8M611 1562h1.8M611 1563h1.8M611 1564h1.8M611 1568h1.8M611 1572h1.8M611 1573h1.8M611 1578h1.8M611 1586h1.8M612 1483h1.8M612 1484h1.8M612 1488h1.8M612 1493h1.8M612 1495h1.8M612 1499h1.8M612 1503h1.8M612 1504h1.8M612 1506h1.8M612 1533h1.8M612 1550h1.8M612 1555h1.8M612 1557h1.8M612 1558h1.8M612 1559h1.8M612 1560h1.8M612 1561h1.8M612 1563h1.8M612 1564h1.8M612 1565h1.8M612 1566h1.8M612 1567h1.8M612 1570h1.8M612 1571h1.8M612 1572h1.8M612 1573h1.8M612 1577h1.8M613 1491h1.8M613 1492h1.8M613 1494h1.8M613 1498h1.8M613 1499h1.8M613 1501h1.8M613 1502h1.8M613 1508h1.8M613 1528h1.8M613 1546h1.8M613 1549h1.8M613 1550h1.8M613 1551h1.8M613 1552h1.8M613 1554h1.8M613 1555h1.8M613 1556h1.8M613 1560h1.8M613 1562h1.8M613 1564h1.8M613 1565h1.8M613 1568h1.8M613 1569h1.8M613 1570h1.8M613 1571h1.8M613 1573h1.8M613 1575h1.8M613 1576h1.8M614 1488h1.8M614 1498h1.8M614 1505h1.8M614 1511h1.8M614 1530h1.8M614 1553h1.8M614 1554h1.8M614 1560h1.8M614 1561h1.8M614 1564h1.8M614 1567h1.8M614 1570h1.8M614 1571h1.8M614 1572h1.8M614 1580h1.8M615 1480h1.8M615 1481h1.8M615 1493h1.8M615 1494h1.8M615 1498h1.8M615 1507h1.8M615 1509h1.8M615 1514h1.8M615 1518h1.8M615 1538h1.8M615 1547h1.8M615 1548h1.8M615 1553h1.8M615 1554h1.8M615 1558h1.8M615 1560h1.8M615 1562h1.8M615 1563h1.8M615 1565h1.8M615 1566h1.8M615 1574h1.8M616 1483h1.8M616 1498h1.8M616 1514h1.8M616 1539h1.8M616 1551h1.8M616 1552h1.8M616 1554h1.8M616 1558h1.8M616 1559h1.8M616 1560h1.8M616 1564h1.8M616 1576h1.8M617 1492h1.8M617 1494h1.8M617 1496h1.8M617 1498h1.8M617 1510h1.8M617 1515h1.8M617 1550h1.8M617 1556h1.8M617 1560h1.8M617 1562h1.8M617 1563h1.8M617 1566h1.8M617 1567h1.8M617 1578h1.8M618 1484h1.8M618 1487h1.8M618 1490h1.8M618 1491h1.8M618 1492h1.8M618 1497h1.8M618 1517h1.8M618 1542h1.8M618 1550h1.8M618 1555h1.8M618 1556h1.8M618 1559h1.8M618 1566h1.8M618 1574h1.8M618 1576h1.8M619 1486h1.8M619 1491h1.8M619 1496h1.8M619 1509h1.8M619 1549h1.8M619 1556h1.8M619 1558h1.8M619 1560h1.8M619 1563h1.8M619 1569h1.8M619 1571h1.8M619 1572h1.8M619 1573h1.8M620 1503h1.8M620 1556h1.8M620 1557h1.8M620 1559h1.8M620 1561h1.8M620 1563h1.8M620 1565h1.8M620 1567h1.8M620 1573h1.8M620 1574h1.8M621 1491h1.8M621 1499h1.8M621 1506h1.8M621 1508h1.8M621 1548h1.8M621 1551h1.8M621 1555h1.8M621 1557h1.8M621 1561h1.8M621 1563h1.8M622 1487h1.8M622 1501h1.8M622 1507h1.8M622 1549h1.8M622 1552h1.8M622 1553h1.8M622 1559h1.8M622 1564h1.8M622 1565h1.8M622 1569h1.8M622 1574h1.8M623 1492h1.8M623 1493h1.8M623 1499h1.8M623 1522h1.8M623 1553h1.8M623 1558h1.8M623 1559h1.8M623 1569h1.8M624 1553h1.8M624 1562h1.8M624 1566h1.8M624 1573h1.8M625 1484h1.8M625 1486h1.8M625 1500h1.8M625 1506h1.8M625 1561h1.8M625 1562h1.8M625 1567h1.8M626 1510h1.8M626 1535h1.8M626 1561h1.8M627 1479h1.8M627 1496h1.8M628 1485h1.8M628 1501h1.8M628 1556h1.8M629 1502h1.8M629 1541h1.8M629 1578h1.8M630 1511h1.8M630 1565h1.8M630 1582h1.8M631 1499h1.8M632 1552h1.8M632 1556h1.8M632 1562h1.8M632 1563h1.8M632 1572h1.8M633 1480h1.8M633 1533h1.8M633 1541h1.8M633 1575h1.8M633 1598h1.8M634 1521h1.8M634 1567h1.8M635 1554h1.8M635 1567h1.8M636 1498h1.8M636 1501h1.8M636 1561h1.8M637 1490h1.8M637 1493h1.8M637 1529h1.8M637 1570h1.8M638 1523h1.8M639 1512h1.8M639 1557h1.8M657 1439h1.8M665 1584h1.8M672 1453h1.8M674 1441h1.8M680 1560h1.8M680 1586h1.8M681 1490h1.8" stroke="#000" stroke-width="1.8" fill="none"/><rect x="239.5" y="710.8" width="107.1" height="97.5" fill="none" stroke="#000" stroke-width="1.1"/><path d="M239.5 808.3v6M252.3 808.3v6M257.6 808.3v6M262.8 808.3v6M286.9 808.3v6M312.6 808.3v6M336.4 808.3v6M243.5 808.3v3.5M246.5 808.3v3.5M343.5 808.3v3.5M270.05 808.3v3.5M274.3 808.3v3.5M277.31 808.3v3.5M279.65 808.3v3.5M281.55 808.3v3.5M283.17 808.3v3.5M284.56 808.3v3.5M285.8 808.3v3.5M294.64 808.3v3.5M299.16 808.3v3.5M302.37 808.3v3.5M304.86 808.3v3.5M306.9 808.3v3.5M308.62 808.3v3.5M310.11 808.3v3.5M311.42 808.3v3.5M319.76 808.3v3.5M323.96 808.3v3.5M326.93 808.3v3.5M329.24 808.3v3.5M331.12 808.3v3.5M332.71 808.3v3.5M334.09 808.3v3.5M335.31 808.3v3.5M239.5 808.3h-5M239.5 796.65h-5M239.5 791.82h-5M239.5 787.09h-5M239.5 765.15h-5M239.5 741.75h-5M239.5 720.09h-5M239.5 804.66h-3M239.5 801.93h-3M239.5 713.62h-3M239.5 780.48h-3M239.5 776.62h-3M239.5 773.88h-3M239.5 771.75h-3M239.5 770.02h-3M239.5 768.55h-3M239.5 767.27h-3M239.5 766.15h-3M239.5 758.11h-3M239.5 753.99h-3M239.5 751.06h-3M239.5 748.8h-3M239.5 746.94h-3M239.5 745.38h-3M239.5 744.02h-3M239.5 742.82h-3M239.5 735.23h-3M239.5 731.41h-3M239.5 728.71h-3M239.5 726.61h-3M239.5 724.89h-3M239.5 723.44h-3M239.5 722.19h-3M239.5 721.08h-3" stroke="#000" stroke-width=".9" fill="none"/><text x="245.1" y="723.7" font-size="12.2" font-family="Liberation Serif" stroke="#000" stroke-width=".12">31.5</text><text x="343.1" y="723.7" text-anchor="end" font-size="12.2" font-family="Liberation Serif" stroke="#000" stroke-width=".12">23.4 (27.12)</text><text x="343.1" y="803.7" text-anchor="end" font-size="12.2" font-family="Liberation Serif" stroke="#000" stroke-width=".12">26</text><ellipse cx="428.8" cy="640.5" rx="4" ry="8" fill="#000"/><ellipse cx="429" cy="667.5" rx="9" ry="10.5" fill="#000"/><path transform="scale(.5)" d="M817 1312h1.8M825 1323h1.8M827 1329h1.8M827 1345h1.8M828 1326h1.8M828 1343h1.8M829 1344h1.8M829 1345h1.8M829 1349h1.8M830 1312h1.8M830 1333h1.8M830 1353h1.8M831 1339h1.8M831 1346h1.8M832 1334h1.8M833 1333h1.8M833 1343h1.8M833 1349h1.8M834 1323h1.8M834 1327h1.8M834 1332h1.8M835 1317h1.8M835 1337h1.8M835 1340h1.8M836 1323h1.8M836 1327h1.8M836 1330h1.8M836 1332h1.8M836 1342h1.8M836 1345h1.8M836 1353h1.8M837 1322h1.8M837 1326h1.8M837 1328h1.8M837 1329h1.8M837 1347h1.8M838 1282h1.8M838 1323h1.8M838 1324h1.8M838 1329h1.8M838 1335h1.8M838 1338h1.8M838 1339h1.8M838 1340h1.8M838 1341h1.8M838 1346h1.8M839 1290h1.8M839 1304h1.8M839 1323h1.8M839 1327h1.8M839 1328h1.8M839 1331h1.8M839 1332h1.8M839 1333h1.8M839 1335h1.8M839 1336h1.8M839 1337h1.8M839 1338h1.8M839 1340h1.8M839 1341h1.8M839 1342h1.8M839 1344h1.8M839 1346h1.8M839 1351h1.8M840 1260h1.8M840 1267h1.8M840 1296h1.8M840 1301h1.8M840 1308h1.8M840 1328h1.8M840 1332h1.8M840 1335h1.8M840 1343h1.8M840 1345h1.8M840 1347h1.8M841 1261h1.8M841 1277h1.8M841 1279h1.8M841 1298h1.8M841 1312h1.8M841 1315h1.8M841 1321h1.8M841 1322h1.8M841 1323h1.8M841 1325h1.8M841 1326h1.8M841 1328h1.8M841 1332h1.8M841 1333h1.8M841 1334h1.8M841 1335h1.8M841 1336h1.8M841 1337h1.8M841 1340h1.8M841 1341h1.8M841 1344h1.8M841 1346h1.8M841 1356h1.8M842 1249h1.8M842 1277h1.8M842 1282h1.8M842 1285h1.8M842 1287h1.8M842 1291h1.8M842 1292h1.8M842 1294h1.8M842 1298h1.8M842 1308h1.8M842 1320h1.8M842 1323h1.8M842 1325h1.8M842 1326h1.8M842 1327h1.8M842 1328h1.8M842 1329h1.8M842 1330h1.8M842 1332h1.8M842 1333h1.8M842 1337h1.8M842 1339h1.8M842 1341h1.8M842 1343h1.8M842 1344h1.8M842 1345h1.8M842 1346h1.8M842 1347h1.8M842 1348h1.8M842 1353h1.8M842 1355h1.8M843 1256h1.8M843 1270h1.8M843 1276h1.8M843 1278h1.8M843 1283h1.8M843 1287h1.8M843 1288h1.8M843 1295h1.8M843 1297h1.8M843 1304h1.8M843 1305h1.8M843 1314h1.8M843 1317h1.8M843 1319h1.8M843 1323h1.8M843 1325h1.8M843 1326h1.8M843 1328h1.8M843 1330h1.8M843 1331h1.8M843 1332h1.8M843 1334h1.8M843 1335h1.8M843 1338h1.8M843 1340h1.8M843 1344h1.8M843 1345h1.8M843 1346h1.8M843 1347h1.8M843 1351h1.8M843 1360h1.8M844 1267h1.8M844 1271h1.8M844 1275h1.8M844 1277h1.8M844 1280h1.8M844 1281h1.8M844 1285h1.8M844 1287h1.8M844 1289h1.8M844 1295h1.8M844 1300h1.8M844 1306h1.8M844 1318h1.8M844 1322h1.8M844 1323h1.8M844 1324h1.8M844 1325h1.8M844 1326h1.8M844 1329h1.8M844 1330h1.8M844 1331h1.8M844 1332h1.8M844 1333h1.8M844 1334h1.8M844 1338h1.8M844 1339h1.8M844 1340h1.8M844 1344h1.8M844 1346h1.8M844 1350h1.8M844 1352h1.8M844 1353h1.8M845 1266h1.8M845 1269h1.8M845 1270h1.8M845 1274h1.8M845 1275h1.8M845 1281h1.8M845 1283h1.8M845 1284h1.8M845 1285h1.8M845 1286h1.8M845 1288h1.8M845 1291h1.8M845 1292h1.8M845 1293h1.8M845 1295h1.8M845 1297h1.8M845 1303h1.8M845 1312h1.8M845 1314h1.8M845 1317h1.8M845 1319h1.8M845 1320h1.8M845 1322h1.8M845 1323h1.8M845 1324h1.8M845 1325h1.8M845 1326h1.8M845 1328h1.8M845 1329h1.8M845 1331h1.8M845 1332h1.8M845 1333h1.8M845 1334h1.8M845 1336h1.8M845 1338h1.8M845 1340h1.8M845 1342h1.8M845 1344h1.8M845 1349h1.8M845 1350h1.8M845 1352h1.8M845 1353h1.8M845 1354h1.8M845 1359h1.8M846 1261h1.8M846 1264h1.8M846 1268h1.8M846 1269h1.8M846 1271h1.8M846 1273h1.8M846 1274h1.8M846 1277h1.8M846 1279h1.8M846 1281h1.8M846 1282h1.8M846 1287h1.8M846 1288h1.8M846 1290h1.8M846 1291h1.8M846 1293h1.8M846 1296h1.8M846 1300h1.8M846 1303h1.8M846 1307h1.8M846 1315h1.8M846 1316h1.8M846 1318h1.8M846 1321h1.8M846 1322h1.8M846 1324h1.8M846 1325h1.8M846 1326h1.8M846 1328h1.8M846 1329h1.8M846 1330h1.8M846 1331h1.8M846 1333h1.8M846 1335h1.8M846 1336h1.8M846 1337h1.8M846 1339h1.8M846 1343h1.8M846 1344h1.8M846 1348h1.8M846 1349h1.8M846 1350h1.8M846 1351h1.8M846 1352h1.8M846 1355h1.8M846 1365h1.8M847 1256h1.8M847 1260h1.8M847 1263h1.8M847 1269h1.8M847 1270h1.8M847 1271h1.8M847 1273h1.8M847 1275h1.8M847 1277h1.8M847 1278h1.8M847 1281h1.8M847 1282h1.8M847 1284h1.8M847 1285h1.8M847 1286h1.8M847 1287h1.8M847 1288h1.8M847 1290h1.8M847 1291h1.8M847 1292h1.8M847 1294h1.8M847 1295h1.8M847 1296h1.8M847 1297h1.8M847 1298h1.8M847 1301h1.8M847 1304h1.8M847 1322h1.8M847 1325h1.8M847 1326h1.8M847 1327h1.8M847 1331h1.8M847 1332h1.8M847 1336h1.8M847 1337h1.8M847 1338h1.8M847 1339h1.8M847 1343h1.8M847 1347h1.8M847 1348h1.8M847 1349h1.8M847 1350h1.8M847 1351h1.8M847 1352h1.8M847 1353h1.8M847 1354h1.8M847 1356h1.8M847 1364h1.8M848 1261h1.8M848 1268h1.8M848 1269h1.8M848 1272h1.8M848 1273h1.8M848 1274h1.8M848 1275h1.8M848 1277h1.8M848 1279h1.8M848 1281h1.8M848 1282h1.8M848 1283h1.8M848 1285h1.8M848 1286h1.8M848 1287h1.8M848 1289h1.8M848 1290h1.8M848 1291h1.8M848 1292h1.8M848 1294h1.8M848 1305h1.8M848 1315h1.8M848 1318h1.8M848 1321h1.8M848 1322h1.8M848 1324h1.8M848 1325h1.8M848 1326h1.8M848 1328h1.8M848 1329h1.8M848 1330h1.8M848 1331h1.8M848 1332h1.8M848 1333h1.8M848 1337h1.8M848 1338h1.8M848 1343h1.8M848 1344h1.8M848 1345h1.8M848 1346h1.8M848 1349h1.8M848 1350h1.8M848 1354h1.8M848 1355h1.8M848 1356h1.8M848 1357h1.8M848 1363h1.8M849 1263h1.8M849 1266h1.8M849 1268h1.8M849 1269h1.8M849 1270h1.8M849 1273h1.8M849 1274h1.8M849 1275h1.8M849 1276h1.8M849 1277h1.8M849 1278h1.8M849 1279h1.8M849 1280h1.8M849 1281h1.8M849 1282h1.8M849 1283h1.8M849 1284h1.8M849 1287h1.8M849 1288h1.8M849 1289h1.8M849 1290h1.8M849 1291h1.8M849 1292h1.8M849 1294h1.8M849 1299h1.8M849 1301h1.8M849 1305h1.8M849 1308h1.8M849 1312h1.8M849 1314h1.8M849 1315h1.8M849 1317h1.8M849 1318h1.8M849 1319h1.8M849 1321h1.8M849 1322h1.8M849 1328h1.8M849 1329h1.8M849 1330h1.8M849 1331h1.8M849 1332h1.8M849 1333h1.8M849 1334h1.8M849 1336h1.8M849 1337h1.8M849 1338h1.8M849 1339h1.8M849 1340h1.8M849 1343h1.8M849 1345h1.8M849 1347h1.8M849 1349h1.8M849 1359h1.8M849 1362h1.8M850 1254h1.8M850 1255h1.8M850 1259h1.8M850 1263h1.8M850 1264h1.8M850 1265h1.8M850 1266h1.8M850 1267h1.8M850 1268h1.8M850 1269h1.8M850 1271h1.8M850 1272h1.8M850 1273h1.8M850 1275h1.8M850 1276h1.8M850 1277h1.8M850 1278h1.8M850 1279h1.8M850 1280h1.8M850 1281h1.8M850 1282h1.8M850 1283h1.8M850 1284h1.8M850 1285h1.8M850 1290h1.8M850 1291h1.8M850 1292h1.8M850 1294h1.8M850 1295h1.8M850 1296h1.8M850 1297h1.8M850 1300h1.8M850 1301h1.8M850 1302h1.8M850 1304h1.8M850 1305h1.8M850 1306h1.8M850 1308h1.8M850 1309h1.8M850 1311h1.8M850 1312h1.8M850 1317h1.8M850 1318h1.8M850 1320h1.8M850 1321h1.8M850 1324h1.8M850 1325h1.8M850 1327h1.8M850 1329h1.8M850 1331h1.8M850 1332h1.8M850 1333h1.8M850 1334h1.8M850 1336h1.8M850 1338h1.8M850 1339h1.8M850 1342h1.8M850 1343h1.8M850 1344h1.8M850 1345h1.8M850 1346h1.8M850 1347h1.8M850 1351h1.8M850 1352h1.8M850 1353h1.8M850 1355h1.8M850 1358h1.8M850 1368h1.8M851 1251h1.8M851 1259h1.8M851 1260h1.8M851 1261h1.8M851 1265h1.8M851 1266h1.8M851 1267h1.8M851 1268h1.8M851 1269h1.8M851 1270h1.8M851 1271h1.8M851 1273h1.8M851 1274h1.8M851 1275h1.8M851 1276h1.8M851 1277h1.8M851 1278h1.8M851 1279h1.8M851 1280h1.8M851 1281h1.8M851 1282h1.8M851 1284h1.8M851 1285h1.8M851 1286h1.8M851 1288h1.8M851 1289h1.8M851 1290h1.8M851 1291h1.8M851 1292h1.8M851 1293h1.8M851 1295h1.8M851 1296h1.8M851 1298h1.8M851 1299h1.8M851 1300h1.8M851 1306h1.8M851 1309h1.8M851 1312h1.8M851 1313h1.8M851 1320h1.8M851 1322h1.8M851 1323h1.8M851 1324h1.8M851 1325h1.8M851 1327h1.8M851 1328h1.8M851 1330h1.8M851 1331h1.8M851 1332h1.8M851 1333h1.8M851 1334h1.8M851 1336h1.8M851 1337h1.8M851 1338h1.8M851 1339h1.8M851 1340h1.8M851 1341h1.8M851 1342h1.8M851 1343h1.8M851 1345h1.8M851 1346h1.8M851 1347h1.8M851 1351h1.8M851 1354h1.8M851 1358h1.8M851 1366h1.8M852 1253h1.8M852 1257h1.8M852 1261h1.8M852 1262h1.8M852 1264h1.8M852 1265h1.8M852 1266h1.8M852 1267h1.8M852 1268h1.8M852 1269h1.8M852 1270h1.8M852 1271h1.8M852 1272h1.8M852 1273h1.8M852 1274h1.8M852 1275h1.8M852 1276h1.8M852 1277h1.8M852 1278h1.8M852 1279h1.8M852 1280h1.8M852 1281h1.8M852 1282h1.8M852 1283h1.8M852 1284h1.8M852 1285h1.8M852 1286h1.8M852 1287h1.8M852 1288h1.8M852 1291h1.8M852 1292h1.8M852 1293h1.8M852 1294h1.8M852 1295h1.8M852 1297h1.8M852 1298h1.8M852 1300h1.8M852 1301h1.8M852 1302h1.8M852 1304h1.8M852 1305h1.8M852 1312h1.8M852 1313h1.8M852 1314h1.8M852 1316h1.8M852 1318h1.8M852 1320h1.8M852 1321h1.8M852 1322h1.8M852 1324h1.8M852 1327h1.8M852 1328h1.8M852 1329h1.8M852 1330h1.8M852 1331h1.8M852 1332h1.8M852 1334h1.8M852 1335h1.8M852 1336h1.8M852 1337h1.8M852 1340h1.8M852 1341h1.8M852 1342h1.8M852 1344h1.8M852 1346h1.8M852 1347h1.8M852 1348h1.8M852 1351h1.8M852 1353h1.8M852 1355h1.8M852 1356h1.8M852 1358h1.8M853 1256h1.8M853 1258h1.8M853 1259h1.8M853 1266h1.8M853 1267h1.8M853 1268h1.8M853 1269h1.8M853 1270h1.8M853 1271h1.8M853 1272h1.8M853 1273h1.8M853 1274h1.8M853 1275h1.8M853 1276h1.8M853 1277h1.8M853 1278h1.8M853 1279h1.8M853 1280h1.8M853 1281h1.8M853 1282h1.8M853 1283h1.8M853 1284h1.8M853 1285h1.8M853 1286h1.8M853 1287h1.8M853 1288h1.8M853 1289h1.8M853 1290h1.8M853 1291h1.8M853 1292h1.8M853 1293h1.8M853 1294h1.8M853 1296h1.8M853 1297h1.8M853 1298h1.8M853 1299h1.8M853 1300h1.8M853 1301h1.8M853 1302h1.8M853 1303h1.8M853 1309h1.8M853 1314h1.8M853 1315h1.8M853 1316h1.8M853 1317h1.8M853 1318h1.8M853 1322h1.8M853 1323h1.8M853 1324h1.8M853 1326h1.8M853 1327h1.8M853 1328h1.8M853 1329h1.8M853 1330h1.8M853 1331h1.8M853 1332h1.8M853 1333h1.8M853 1334h1.8M853 1335h1.8M853 1336h1.8M853 1338h1.8M853 1340h1.8M853 1341h1.8M853 1342h1.8M853 1344h1.8M853 1347h1.8M853 1349h1.8M853 1350h1.8M853 1352h1.8M853 1353h1.8M853 1357h1.8M853 1363h1.8M853 1364h1.8M854 1245h1.8M854 1257h1.8M854 1258h1.8M854 1263h1.8M854 1264h1.8M854 1265h1.8M854 1266h1.8M854 1267h1.8M854 1268h1.8M854 1269h1.8M854 1270h1.8M854 1271h1.8M854 1272h1.8M854 1273h1.8M854 1274h1.8M854 1275h1.8M854 1276h1.8M854 1277h1.8M854 1278h1.8M854 1279h1.8M854 1280h1.8M854 1281h1.8M854 1282h1.8M854 1283h1.8M854 1285h1.8M854 1286h1.8M854 1287h1.8M854 1288h1.8M854 1289h1.8M854 1290h1.8M854 1291h1.8M854 1292h1.8M854 1293h1.8M854 1294h1.8M854 1295h1.8M854 1296h1.8M854 1297h1.8M854 1298h1.8M854 1300h1.8M854 1301h1.8M854 1302h1.8M854 1304h1.8M854 1305h1.8M854 1306h1.8M854 1311h1.8M854 1313h1.8M854 1315h1.8M854 1316h1.8M854 1318h1.8M854 1321h1.8M854 1322h1.8M854 1323h1.8M854 1325h1.8M854 1326h1.8M854 1327h1.8M854 1328h1.8M854 1330h1.8M854 1331h1.8M854 1333h1.8M854 1334h1.8M854 1337h1.8M854 1339h1.8M854 1340h1.8M854 1342h1.8M854 1343h1.8M854 1346h1.8M854 1347h1.8M854 1352h1.8M854 1362h1.8M855 1252h1.8M855 1260h1.8M855 1263h1.8M855 1265h1.8M855 1268h1.8M855 1269h1.8M855 1270h1.8M855 1271h1.8M855 1272h1.8M855 1273h1.8M855 1274h1.8M855 1275h1.8M855 1276h1.8M855 1277h1.8M855 1278h1.8M855 1279h1.8M855 1280h1.8M855 1281h1.8M855 1282h1.8M855 1283h1.8M855 1284h1.8M855 1285h1.8M855 1286h1.8M855 1287h1.8M855 1288h1.8M855 1289h1.8M855 1290h1.8M855 1291h1.8M855 1292h1.8M855 1293h1.8M855 1294h1.8M855 1296h1.8M855 1297h1.8M855 1299h1.8M855 1300h1.8M855 1301h1.8M855 1302h1.8M855 1304h1.8M855 1308h1.8M855 1311h1.8M855 1313h1.8M855 1314h1.8M855 1315h1.8M855 1317h1.8M855 1321h1.8M855 1322h1.8M855 1325h1.8M855 1326h1.8M855 1327h1.8M855 1329h1.8M855 1330h1.8M855 1331h1.8M855 1332h1.8M855 1333h1.8M855 1334h1.8M855 1336h1.8M855 1339h1.8M855 1340h1.8M855 1342h1.8M855 1345h1.8M855 1346h1.8M855 1347h1.8M855 1350h1.8M855 1351h1.8M855 1353h1.8M855 1354h1.8M855 1356h1.8M855 1359h1.8M855 1361h1.8M856 1259h1.8M856 1261h1.8M856 1262h1.8M856 1264h1.8M856 1265h1.8M856 1266h1.8M856 1267h1.8M856 1269h1.8M856 1270h1.8M856 1271h1.8M856 1272h1.8M856 1273h1.8M856 1274h1.8M856 1275h1.8M856 1276h1.8M856 1277h1.8M856 1278h1.8M856 1279h1.8M856 1280h1.8M856 1281h1.8M856 1282h1.8M856 1283h1.8M856 1284h1.8M856 1285h1.8M856 1286h1.8M856 1287h1.8M856 1288h1.8M856 1289h1.8M856 1290h1.8M856 1291h1.8M856 1292h1.8M856 1293h1.8M856 1294h1.8M856 1295h1.8M856 1296h1.8M856 1297h1.8M856 1298h1.8M856 1299h1.8M856 1300h1.8M856 1303h1.8M856 1304h1.8M856 1308h1.8M856 1309h1.8M856 1312h1.8M856 1313h1.8M856 1317h1.8M856 1318h1.8M856 1319h1.8M856 1321h1.8M856 1323h1.8M856 1324h1.8M856 1325h1.8M856 1326h1.8M856 1327h1.8M856 1328h1.8M856 1329h1.8M856 1330h1.8M856 1331h1.8M856 1332h1.8M856 1333h1.8M856 1334h1.8M856 1335h1.8M856 1336h1.8M856 1337h1.8M856 1338h1.8M856 1339h1.8M856 1340h1.8M856 1344h1.8M856 1345h1.8M856 1347h1.8M856 1349h1.8M856 1350h1.8M856 1353h1.8M856 1354h1.8M856 1357h1.8M856 1358h1.8M856 1373h1.8M857 1246h1.8M857 1251h1.8M857 1258h1.8M857 1260h1.8M857 1261h1.8M857 1262h1.8M857 1263h1.8M857 1264h1.8M857 1265h1.8M857 1266h1.8M857 1267h1.8M857 1269h1.8M857 1270h1.8M857 1271h1.8M857 1273h1.8M857 1274h1.8M857 1275h1.8M857 1276h1.8M857 1277h1.8M857 1278h1.8M857 1279h1.8M857 1280h1.8M857 1281h1.8M857 1282h1.8M857 1283h1.8M857 1284h1.8M857 1285h1.8M857 1286h1.8M857 1287h1.8M857 1288h1.8M857 1289h1.8M857 1290h1.8M857 1291h1.8M857 1292h1.8M857 1293h1.8M857 1294h1.8M857 1295h1.8M857 1297h1.8M857 1298h1.8M857 1300h1.8M857 1301h1.8M857 1303h1.8M857 1308h1.8M857 1312h1.8M857 1313h1.8M857 1315h1.8M857 1316h1.8M857 1317h1.8M857 1319h1.8M857 1321h1.8M857 1322h1.8M857 1323h1.8M857 1324h1.8M857 1325h1.8M857 1327h1.8M857 1328h1.8M857 1329h1.8M857 1330h1.8M857 1331h1.8M857 1333h1.8M857 1334h1.8M857 1335h1.8M857 1336h1.8M857 1337h1.8M857 1339h1.8M857 1340h1.8M857 1341h1.8M857 1342h1.8M857 1343h1.8M857 1344h1.8M857 1345h1.8M857 1347h1.8M857 1348h1.8M857 1351h1.8M857 1352h1.8M857 1355h1.8M857 1357h1.8M857 1362h1.8M857 1369h1.8M858 1257h1.8M858 1261h1.8M858 1262h1.8M858 1263h1.8M858 1265h1.8M858 1266h1.8M858 1267h1.8M858 1268h1.8M858 1270h1.8M858 1272h1.8M858 1273h1.8M858 1274h1.8M858 1275h1.8M858 1276h1.8M858 1277h1.8M858 1278h1.8M858 1279h1.8M858 1280h1.8M858 1281h1.8M858 1282h1.8M858 1283h1.8M858 1284h1.8M858 1285h1.8M858 1286h1.8M858 1287h1.8M858 1288h1.8M858 1289h1.8M858 1290h1.8M858 1292h1.8M858 1293h1.8M858 1294h1.8M858 1295h1.8M858 1296h1.8M858 1297h1.8M858 1298h1.8M858 1300h1.8M858 1301h1.8M858 1303h1.8M858 1304h1.8M858 1307h1.8M858 1312h1.8M858 1313h1.8M858 1315h1.8M858 1318h1.8M858 1319h1.8M858 1320h1.8M858 1321h1.8M858 1322h1.8M858 1323h1.8M858 1324h1.8M858 1325h1.8M858 1326h1.8M858 1327h1.8M858 1330h1.8M858 1331h1.8M858 1333h1.8M858 1334h1.8M858 1336h1.8M858 1337h1.8M858 1338h1.8M858 1339h1.8M858 1340h1.8M858 1341h1.8M858 1342h1.8M858 1344h1.8M858 1345h1.8M858 1346h1.8M858 1347h1.8M858 1349h1.8M858 1350h1.8M858 1351h1.8M858 1352h1.8M858 1353h1.8M858 1356h1.8M858 1357h1.8M858 1358h1.8M858 1359h1.8M858 1361h1.8M858 1365h1.8M859 1253h1.8M859 1257h1.8M859 1262h1.8M859 1263h1.8M859 1264h1.8M859 1265h1.8M859 1266h1.8M859 1267h1.8M859 1268h1.8M859 1269h1.8M859 1270h1.8M859 1272h1.8M859 1273h1.8M859 1274h1.8M859 1275h1.8M859 1276h1.8M859 1277h1.8M859 1278h1.8M859 1279h1.8M859 1280h1.8M859 1281h1.8M859 1282h1.8M859 1283h1.8M859 1284h1.8M859 1285h1.8M859 1286h1.8M859 1287h1.8M859 1288h1.8M859 1289h1.8M859 1290h1.8M859 1291h1.8M859 1292h1.8M859 1293h1.8M859 1294h1.8M859 1295h1.8M859 1296h1.8M859 1297h1.8M859 1300h1.8M859 1301h1.8M859 1304h1.8M859 1307h1.8M859 1309h1.8M859 1313h1.8M859 1314h1.8M859 1316h1.8M859 1318h1.8M859 1320h1.8M859 1322h1.8M859 1324h1.8M859 1325h1.8M859 1326h1.8M859 1327h1.8M859 1328h1.8M859 1329h1.8M859 1330h1.8M859 1331h1.8M859 1334h1.8M859 1335h1.8M859 1336h1.8M859 1337h1.8M859 1338h1.8M859 1339h1.8M859 1340h1.8M859 1341h1.8M859 1342h1.8M859 1343h1.8M859 1345h1.8M859 1346h1.8M859 1347h1.8M859 1348h1.8M859 1350h1.8M859 1352h1.8M859 1353h1.8M859 1354h1.8M859 1356h1.8M859 1359h1.8M859 1375h1.8M860 1255h1.8M860 1257h1.8M860 1259h1.8M860 1261h1.8M860 1262h1.8M860 1263h1.8M860 1265h1.8M860 1266h1.8M860 1267h1.8M860 1268h1.8M860 1269h1.8M860 1271h1.8M860 1272h1.8M860 1273h1.8M860 1274h1.8M860 1275h1.8M860 1276h1.8M860 1277h1.8M860 1278h1.8M860 1279h1.8M860 1280h1.8M860 1281h1.8M860 1282h1.8M860 1283h1.8M860 1284h1.8M860 1285h1.8M860 1286h1.8M860 1287h1.8M860 1288h1.8M860 1289h1.8M860 1290h1.8M860 1291h1.8M860 1292h1.8M860 1293h1.8M860 1294h1.8M860 1295h1.8M860 1297h1.8M860 1298h1.8M860 1299h1.8M860 1302h1.8M860 1303h1.8M860 1304h1.8M860 1306h1.8M860 1308h1.8M860 1309h1.8M860 1312h1.8M860 1314h1.8M860 1316h1.8M860 1318h1.8M860 1322h1.8M860 1323h1.8M860 1325h1.8M860 1326h1.8M860 1327h1.8M860 1328h1.8M860 1329h1.8M860 1330h1.8M860 1331h1.8M860 1332h1.8M860 1333h1.8M860 1334h1.8M860 1335h1.8M860 1337h1.8M860 1338h1.8M860 1339h1.8M860 1340h1.8M860 1342h1.8M860 1343h1.8M860 1345h1.8M860 1346h1.8M860 1352h1.8M860 1354h1.8M860 1358h1.8M860 1364h1.8M860 1369h1.8M861 1251h1.8M861 1259h1.8M861 1260h1.8M861 1262h1.8M861 1263h1.8M861 1264h1.8M861 1266h1.8M861 1267h1.8M861 1268h1.8M861 1269h1.8M861 1270h1.8M861 1271h1.8M861 1272h1.8M861 1273h1.8M861 1274h1.8M861 1275h1.8M861 1276h1.8M861 1277h1.8M861 1278h1.8M861 1279h1.8M861 1280h1.8M861 1281h1.8M861 1282h1.8M861 1283h1.8M861 1284h1.8M861 1285h1.8M861 1286h1.8M861 1287h1.8M861 1288h1.8M861 1289h1.8M861 1290h1.8M861 1291h1.8M861 1292h1.8M861 1293h1.8M861 1294h1.8M861 1295h1.8M861 1296h1.8M861 1297h1.8M861 1299h1.8M861 1300h1.8M861 1301h1.8M861 1302h1.8M861 1303h1.8M861 1307h1.8M861 1311h1.8M861 1312h1.8M861 1314h1.8M861 1315h1.8M861 1320h1.8M861 1321h1.8M861 1324h1.8M861 1325h1.8M861 1326h1.8M861 1327h1.8M861 1328h1.8M861 1329h1.8M861 1330h1.8M861 1332h1.8M861 1333h1.8M861 1334h1.8M861 1335h1.8M861 1336h1.8M861 1338h1.8M861 1339h1.8M861 1340h1.8M861 1341h1.8M861 1344h1.8M861 1345h1.8M861 1347h1.8M861 1348h1.8M861 1349h1.8M861 1351h1.8M861 1355h1.8M861 1356h1.8M861 1357h1.8M861 1359h1.8M862 1259h1.8M862 1261h1.8M862 1263h1.8M862 1264h1.8M862 1267h1.8M862 1268h1.8M862 1269h1.8M862 1270h1.8M862 1271h1.8M862 1272h1.8M862 1273h1.8M862 1274h1.8M862 1275h1.8M862 1276h1.8M862 1277h1.8M862 1278h1.8M862 1279h1.8M862 1280h1.8M862 1281h1.8M862 1282h1.8M862 1283h1.8M862 1284h1.8M862 1285h1.8M862 1286h1.8M862 1287h1.8M862 1288h1.8M862 1289h1.8M862 1290h1.8M862 1291h1.8M862 1292h1.8M862 1293h1.8M862 1294h1.8M862 1295h1.8M862 1296h1.8M862 1299h1.8M862 1300h1.8M862 1301h1.8M862 1302h1.8M862 1306h1.8M862 1309h1.8M862 1311h1.8M862 1314h1.8M862 1315h1.8M862 1318h1.8M862 1320h1.8M862 1321h1.8M862 1325h1.8M862 1326h1.8M862 1327h1.8M862 1328h1.8M862 1329h1.8M862 1330h1.8M862 1332h1.8M862 1334h1.8M862 1335h1.8M862 1336h1.8M862 1337h1.8M862 1338h1.8M862 1339h1.8M862 1341h1.8M862 1344h1.8M862 1346h1.8M862 1349h1.8M862 1351h1.8M862 1352h1.8M862 1353h1.8M862 1354h1.8M862 1355h1.8M862 1358h1.8M862 1365h1.8M863 1256h1.8M863 1259h1.8M863 1260h1.8M863 1261h1.8M863 1262h1.8M863 1263h1.8M863 1266h1.8M863 1267h1.8M863 1268h1.8M863 1269h1.8M863 1270h1.8M863 1271h1.8M863 1272h1.8M863 1273h1.8M863 1274h1.8M863 1275h1.8M863 1276h1.8M863 1277h1.8M863 1278h1.8M863 1279h1.8M863 1280h1.8M863 1281h1.8M863 1282h1.8M863 1283h1.8M863 1284h1.8M863 1285h1.8M863 1286h1.8M863 1287h1.8M863 1288h1.8M863 1289h1.8M863 1290h1.8M863 1291h1.8M863 1292h1.8M863 1293h1.8M863 1294h1.8M863 1295h1.8M863 1296h1.8M863 1297h1.8M863 1298h1.8M863 1300h1.8M863 1301h1.8M863 1304h1.8M863 1305h1.8M863 1312h1.8M863 1313h1.8M863 1321h1.8M863 1325h1.8M863 1326h1.8M863 1327h1.8M863 1330h1.8M863 1332h1.8M863 1334h1.8M863 1335h1.8M863 1336h1.8M863 1337h1.8M863 1338h1.8M863 1339h1.8M863 1340h1.8M863 1341h1.8M863 1342h1.8M863 1343h1.8M863 1344h1.8M863 1346h1.8M863 1347h1.8M863 1350h1.8M863 1351h1.8M863 1352h1.8M863 1353h1.8M863 1354h1.8M863 1358h1.8M863 1359h1.8M863 1362h1.8M864 1246h1.8M864 1255h1.8M864 1260h1.8M864 1263h1.8M864 1264h1.8M864 1265h1.8M864 1266h1.8M864 1267h1.8M864 1269h1.8M864 1270h1.8M864 1271h1.8M864 1273h1.8M864 1274h1.8M864 1275h1.8M864 1276h1.8M864 1277h1.8M864 1278h1.8M864 1279h1.8M864 1280h1.8M864 1281h1.8M864 1282h1.8M864 1283h1.8M864 1284h1.8M864 1285h1.8M864 1286h1.8M864 1287h1.8M864 1288h1.8M864 1290h1.8M864 1291h1.8M864 1292h1.8M864 1293h1.8M864 1294h1.8M864 1295h1.8M864 1296h1.8M864 1301h1.8M864 1302h1.8M864 1305h1.8M864 1309h1.8M864 1313h1.8M864 1314h1.8M864 1318h1.8M864 1319h1.8M864 1320h1.8M864 1321h1.8M864 1322h1.8M864 1323h1.8M864 1324h1.8M864 1325h1.8M864 1327h1.8M864 1328h1.8M864 1329h1.8M864 1330h1.8M864 1331h1.8M864 1332h1.8M864 1333h1.8M864 1334h1.8M864 1335h1.8M864 1336h1.8M864 1337h1.8M864 1338h1.8M864 1341h1.8M864 1342h1.8M864 1343h1.8M864 1344h1.8M864 1345h1.8M864 1347h1.8M864 1348h1.8M864 1349h1.8M864 1350h1.8M864 1355h1.8M864 1356h1.8M864 1358h1.8M864 1361h1.8M865 1242h1.8M865 1255h1.8M865 1258h1.8M865 1259h1.8M865 1260h1.8M865 1261h1.8M865 1262h1.8M865 1267h1.8M865 1269h1.8M865 1271h1.8M865 1272h1.8M865 1273h1.8M865 1276h1.8M865 1277h1.8M865 1278h1.8M865 1280h1.8M865 1281h1.8M865 1282h1.8M865 1283h1.8M865 1284h1.8M865 1285h1.8M865 1286h1.8M865 1287h1.8M865 1288h1.8M865 1289h1.8M865 1290h1.8M865 1291h1.8M865 1293h1.8M865 1294h1.8M865 1295h1.8M865 1296h1.8M865 1297h1.8M865 1308h1.8M865 1309h1.8M865 1313h1.8M865 1317h1.8M865 1320h1.8M865 1321h1.8M865 1322h1.8M865 1324h1.8M865 1326h1.8M865 1327h1.8M865 1329h1.8M865 1330h1.8M865 1331h1.8M865 1332h1.8M865 1333h1.8M865 1335h1.8M865 1336h1.8M865 1337h1.8M865 1338h1.8M865 1339h1.8M865 1342h1.8M865 1343h1.8M865 1344h1.8M865 1345h1.8M865 1346h1.8M865 1349h1.8M865 1350h1.8M865 1351h1.8M865 1352h1.8M865 1353h1.8M865 1354h1.8M865 1359h1.8M866 1258h1.8M866 1261h1.8M866 1265h1.8M866 1267h1.8M866 1268h1.8M866 1269h1.8M866 1271h1.8M866 1272h1.8M866 1274h1.8M866 1275h1.8M866 1276h1.8M866 1277h1.8M866 1278h1.8M866 1279h1.8M866 1280h1.8M866 1281h1.8M866 1282h1.8M866 1283h1.8M866 1284h1.8M866 1285h1.8M866 1288h1.8M866 1289h1.8M866 1290h1.8M866 1291h1.8M866 1292h1.8M866 1294h1.8M866 1295h1.8M866 1296h1.8M866 1298h1.8M866 1299h1.8M866 1300h1.8M866 1306h1.8M866 1308h1.8M866 1310h1.8M866 1313h1.8M866 1314h1.8M866 1321h1.8M866 1322h1.8M866 1323h1.8M866 1324h1.8M866 1326h1.8M866 1327h1.8M866 1329h1.8M866 1331h1.8M866 1333h1.8M866 1334h1.8M866 1336h1.8M866 1337h1.8M866 1339h1.8M866 1341h1.8M866 1343h1.8M866 1344h1.8M866 1345h1.8M866 1347h1.8M866 1353h1.8M866 1355h1.8M866 1357h1.8M866 1358h1.8M866 1375h1.8M867 1255h1.8M867 1264h1.8M867 1265h1.8M867 1267h1.8M867 1268h1.8M867 1269h1.8M867 1270h1.8M867 1271h1.8M867 1273h1.8M867 1276h1.8M867 1277h1.8M867 1278h1.8M867 1279h1.8M867 1280h1.8M867 1281h1.8M867 1283h1.8M867 1284h1.8M867 1285h1.8M867 1286h1.8M867 1289h1.8M867 1295h1.8M867 1296h1.8M867 1298h1.8M867 1299h1.8M867 1314h1.8M867 1317h1.8M867 1318h1.8M867 1319h1.8M867 1320h1.8M867 1321h1.8M867 1322h1.8M867 1326h1.8M867 1328h1.8M867 1329h1.8M867 1330h1.8M867 1331h1.8M867 1332h1.8M867 1333h1.8M867 1334h1.8M867 1335h1.8M867 1336h1.8M867 1339h1.8M867 1340h1.8M867 1341h1.8M867 1343h1.8M867 1344h1.8M867 1345h1.8M867 1347h1.8M867 1348h1.8M867 1350h1.8M867 1352h1.8M867 1353h1.8M867 1354h1.8M867 1357h1.8M868 1252h1.8M868 1259h1.8M868 1261h1.8M868 1263h1.8M868 1265h1.8M868 1269h1.8M868 1272h1.8M868 1273h1.8M868 1274h1.8M868 1275h1.8M868 1277h1.8M868 1278h1.8M868 1283h1.8M868 1284h1.8M868 1285h1.8M868 1286h1.8M868 1289h1.8M868 1290h1.8M868 1293h1.8M868 1294h1.8M868 1300h1.8M868 1308h1.8M868 1315h1.8M868 1316h1.8M868 1318h1.8M868 1320h1.8M868 1321h1.8M868 1322h1.8M868 1323h1.8M868 1326h1.8M868 1328h1.8M868 1329h1.8M868 1330h1.8M868 1331h1.8M868 1332h1.8M868 1333h1.8M868 1334h1.8M868 1335h1.8M868 1336h1.8M868 1338h1.8M868 1339h1.8M868 1341h1.8M868 1343h1.8M868 1344h1.8M868 1347h1.8M868 1348h1.8M868 1350h1.8M868 1351h1.8M868 1352h1.8M868 1354h1.8M868 1355h1.8M868 1358h1.8M869 1254h1.8M869 1265h1.8M869 1268h1.8M869 1269h1.8M869 1270h1.8M869 1271h1.8M869 1272h1.8M869 1277h1.8M869 1278h1.8M869 1280h1.8M869 1281h1.8M869 1283h1.8M869 1285h1.8M869 1287h1.8M869 1288h1.8M869 1289h1.8M869 1290h1.8M869 1291h1.8M869 1293h1.8M869 1294h1.8M869 1295h1.8M869 1299h1.8M869 1301h1.8M869 1302h1.8M869 1303h1.8M869 1304h1.8M869 1308h1.8M869 1315h1.8M869 1316h1.8M869 1320h1.8M869 1321h1.8M869 1322h1.8M869 1324h1.8M869 1327h1.8M869 1329h1.8M869 1332h1.8M869 1333h1.8M869 1335h1.8M869 1336h1.8M869 1337h1.8M869 1338h1.8M869 1340h1.8M869 1341h1.8M869 1342h1.8M869 1345h1.8M869 1347h1.8M869 1348h1.8M869 1349h1.8M869 1350h1.8M869 1352h1.8M869 1354h1.8M869 1355h1.8M869 1358h1.8M869 1360h1.8M870 1250h1.8M870 1251h1.8M870 1258h1.8M870 1263h1.8M870 1264h1.8M870 1268h1.8M870 1271h1.8M870 1273h1.8M870 1275h1.8M870 1276h1.8M870 1277h1.8M870 1279h1.8M870 1281h1.8M870 1284h1.8M870 1288h1.8M870 1289h1.8M870 1290h1.8M870 1292h1.8M870 1293h1.8M870 1296h1.8M870 1299h1.8M870 1317h1.8M870 1318h1.8M870 1320h1.8M870 1323h1.8M870 1324h1.8M870 1327h1.8M870 1328h1.8M870 1329h1.8M870 1331h1.8M870 1332h1.8M870 1333h1.8M870 1334h1.8M870 1335h1.8M870 1336h1.8M870 1337h1.8M870 1341h1.8M870 1342h1.8M870 1344h1.8M870 1345h1.8M870 1347h1.8M870 1348h1.8M870 1349h1.8M870 1353h1.8M871 1262h1.8M871 1266h1.8M871 1270h1.8M871 1274h1.8M871 1275h1.8M871 1277h1.8M871 1280h1.8M871 1281h1.8M871 1282h1.8M871 1283h1.8M871 1284h1.8M871 1285h1.8M871 1287h1.8M871 1288h1.8M871 1290h1.8M871 1291h1.8M871 1293h1.8M871 1295h1.8M871 1299h1.8M871 1300h1.8M871 1306h1.8M871 1310h1.8M871 1318h1.8M871 1319h1.8M871 1320h1.8M871 1322h1.8M871 1323h1.8M871 1326h1.8M871 1327h1.8M871 1328h1.8M871 1329h1.8M871 1330h1.8M871 1332h1.8M871 1334h1.8M871 1335h1.8M871 1337h1.8M871 1339h1.8M871 1340h1.8M871 1341h1.8M871 1345h1.8M871 1346h1.8M871 1347h1.8M871 1348h1.8M871 1349h1.8M871 1350h1.8M871 1351h1.8M871 1352h1.8M871 1353h1.8M871 1361h1.8M872 1280h1.8M872 1282h1.8M872 1287h1.8M872 1288h1.8M872 1291h1.8M872 1297h1.8M872 1298h1.8M872 1307h1.8M872 1315h1.8M872 1319h1.8M872 1323h1.8M872 1324h1.8M872 1326h1.8M872 1327h1.8M872 1330h1.8M872 1331h1.8M872 1335h1.8M872 1339h1.8M872 1340h1.8M872 1341h1.8M872 1342h1.8M872 1343h1.8M872 1345h1.8M872 1346h1.8M872 1352h1.8M872 1353h1.8M872 1358h1.8M872 1363h1.8M873 1274h1.8M873 1276h1.8M873 1277h1.8M873 1279h1.8M873 1280h1.8M873 1288h1.8M873 1290h1.8M873 1291h1.8M873 1292h1.8M873 1305h1.8M873 1320h1.8M873 1323h1.8M873 1324h1.8M873 1327h1.8M873 1328h1.8M873 1329h1.8M873 1331h1.8M873 1335h1.8M873 1336h1.8M873 1337h1.8M873 1338h1.8M873 1340h1.8M873 1343h1.8M873 1344h1.8M873 1346h1.8M873 1350h1.8M873 1355h1.8M873 1357h1.8M874 1265h1.8M874 1277h1.8M874 1290h1.8M874 1297h1.8M874 1301h1.8M874 1311h1.8M874 1314h1.8M874 1317h1.8M874 1319h1.8M874 1322h1.8M874 1323h1.8M874 1324h1.8M874 1326h1.8M874 1328h1.8M874 1329h1.8M874 1330h1.8M874 1331h1.8M874 1332h1.8M874 1333h1.8M874 1336h1.8M874 1337h1.8M874 1338h1.8M874 1339h1.8M874 1340h1.8M874 1341h1.8M874 1342h1.8M874 1343h1.8M874 1346h1.8M874 1350h1.8M875 1299h1.8M875 1321h1.8M875 1323h1.8M875 1324h1.8M875 1329h1.8M875 1331h1.8M875 1332h1.8M875 1333h1.8M875 1335h1.8M875 1336h1.8M875 1338h1.8M875 1340h1.8M875 1341h1.8M875 1342h1.8M875 1343h1.8M875 1344h1.8M875 1345h1.8M875 1346h1.8M875 1355h1.8M876 1285h1.8M876 1316h1.8M876 1319h1.8M876 1321h1.8M876 1322h1.8M876 1325h1.8M876 1327h1.8M876 1330h1.8M876 1331h1.8M876 1332h1.8M876 1336h1.8M876 1338h1.8M876 1340h1.8M876 1341h1.8M876 1346h1.8M876 1347h1.8M876 1348h1.8M876 1349h1.8M877 1261h1.8M877 1278h1.8M877 1285h1.8M877 1286h1.8M877 1313h1.8M877 1323h1.8M877 1324h1.8M877 1326h1.8M877 1328h1.8M877 1329h1.8M877 1330h1.8M877 1333h1.8M877 1334h1.8M877 1336h1.8M877 1338h1.8M877 1341h1.8M877 1342h1.8M877 1344h1.8M877 1345h1.8M877 1358h1.8M877 1362h1.8M878 1271h1.8M878 1286h1.8M878 1316h1.8M878 1322h1.8M878 1323h1.8M878 1328h1.8M878 1329h1.8M878 1331h1.8M878 1332h1.8M878 1334h1.8M878 1336h1.8M878 1339h1.8M878 1341h1.8M878 1344h1.8M878 1349h1.8M879 1250h1.8M879 1290h1.8M879 1328h1.8M879 1331h1.8M879 1333h1.8M879 1334h1.8M879 1339h1.8M879 1348h1.8M880 1276h1.8M880 1287h1.8M880 1295h1.8M880 1316h1.8M880 1317h1.8M880 1322h1.8M880 1329h1.8M880 1334h1.8M880 1339h1.8M880 1341h1.8M881 1285h1.8M881 1307h1.8M881 1320h1.8M881 1328h1.8M881 1332h1.8M881 1334h1.8M881 1336h1.8M881 1337h1.8M881 1344h1.8M882 1262h1.8M882 1287h1.8M882 1309h1.8M882 1334h1.8M882 1359h1.8M882 1360h1.8M883 1258h1.8M883 1310h1.8M883 1311h1.8M883 1322h1.8M883 1331h1.8M883 1334h1.8M883 1356h1.8M884 1281h1.8M884 1332h1.8M884 1340h1.8M884 1350h1.8M885 1290h1.8M885 1316h1.8M885 1323h1.8M885 1336h1.8M885 1338h1.8M885 1339h1.8M885 1363h1.8M886 1257h1.8M886 1291h1.8M886 1311h1.8M886 1332h1.8M887 1260h1.8M887 1329h1.8M887 1336h1.8M888 1300h1.8M888 1320h1.8M889 1318h1.8M889 1333h1.8M889 1338h1.8M889 1339h1.8M890 1316h1.8M890 1330h1.8M890 1332h1.8M890 1336h1.8M890 1339h1.8M891 1265h1.8M891 1317h1.8M891 1331h1.8M891 1340h1.8M891 1341h1.8M891 1348h1.8M892 1278h1.8M892 1285h1.8M892 1291h1.8M892 1338h1.8M893 1253h1.8M893 1301h1.8M893 1329h1.8M893 1332h1.8M893 1334h1.8M894 1331h1.8M895 1276h1.8M895 1329h1.8M895 1330h1.8M895 1335h1.8M895 1336h1.8M895 1338h1.8M895 1343h1.8M896 1287h1.8M896 1340h1.8M897 1262h1.8M897 1273h1.8M897 1331h1.8M897 1336h1.8M897 1342h1.8M898 1341h1.8M899 1269h1.8M899 1277h1.8M899 1329h1.8M899 1333h1.8M899 1335h1.8M899 1340h1.8M899 1347h1.8M900 1328h1.8M900 1330h1.8M900 1334h1.8M900 1339h1.8M901 1332h1.8M901 1335h1.8M902 1329h1.8M902 1332h1.8M902 1334h1.8M902 1342h1.8M902 1355h1.8M903 1273h1.8M903 1315h1.8M903 1332h1.8M903 1337h1.8M903 1340h1.8M903 1342h1.8M903 1348h1.8M904 1308h1.8M904 1317h1.8M904 1329h1.8M904 1330h1.8M904 1338h1.8M905 1280h1.8M905 1281h1.8M905 1327h1.8M905 1337h1.8M905 1356h1.8M906 1274h1.8M906 1277h1.8M906 1283h1.8M906 1310h1.8M906 1333h1.8M906 1338h1.8M907 1282h1.8M907 1290h1.8M907 1293h1.8M907 1304h1.8M907 1307h1.8M907 1328h1.8M907 1330h1.8M907 1332h1.8M907 1334h1.8M907 1340h1.8M907 1343h1.8M907 1347h1.8M907 1349h1.8M908 1332h1.8M908 1334h1.8M908 1335h1.8M908 1339h1.8M908 1342h1.8M908 1344h1.8M908 1350h1.8M909 1284h1.8M909 1300h1.8M909 1324h1.8M909 1331h1.8M909 1334h1.8M909 1335h1.8M909 1348h1.8M910 1267h1.8M910 1273h1.8M910 1284h1.8M910 1285h1.8M910 1329h1.8M910 1333h1.8M910 1336h1.8M910 1341h1.8M911 1288h1.8M911 1333h1.8M911 1334h1.8M911 1336h1.8M911 1343h1.8M911 1348h1.8M912 1268h1.8M912 1275h1.8M912 1284h1.8M912 1331h1.8M912 1334h1.8M912 1342h1.8M913 1261h1.8M913 1273h1.8M913 1274h1.8M913 1277h1.8M913 1327h1.8M913 1332h1.8M913 1336h1.8M914 1270h1.8M914 1280h1.8M914 1329h1.8M914 1331h1.8M914 1332h1.8M914 1333h1.8M914 1335h1.8M914 1338h1.8M914 1340h1.8M914 1344h1.8M915 1273h1.8M915 1275h1.8M915 1281h1.8M915 1292h1.8M915 1294h1.8M915 1329h1.8M915 1331h1.8M915 1334h1.8M915 1335h1.8M915 1336h1.8M915 1339h1.8M915 1345h1.8M915 1346h1.8M915 1353h1.8M916 1275h1.8M916 1279h1.8M916 1280h1.8M916 1288h1.8M916 1294h1.8M916 1327h1.8M916 1330h1.8M916 1331h1.8M916 1332h1.8M916 1333h1.8M916 1334h1.8M916 1335h1.8M916 1337h1.8M916 1338h1.8M916 1339h1.8M916 1340h1.8M916 1343h1.8M916 1345h1.8M916 1346h1.8M917 1271h1.8M917 1275h1.8M917 1284h1.8M917 1336h1.8M917 1338h1.8M917 1339h1.8M917 1340h1.8M917 1341h1.8M917 1344h1.8M917 1346h1.8M918 1326h1.8M918 1327h1.8M918 1335h1.8M918 1336h1.8M918 1337h1.8M918 1338h1.8M918 1339h1.8M918 1340h1.8M918 1341h1.8M918 1342h1.8M918 1344h1.8M918 1345h1.8M918 1347h1.8M919 1207h1.8M919 1263h1.8M919 1269h1.8M919 1273h1.8M919 1278h1.8M919 1281h1.8M919 1283h1.8M919 1326h1.8M919 1328h1.8M919 1331h1.8M919 1332h1.8M919 1333h1.8M919 1334h1.8M919 1336h1.8M919 1337h1.8M919 1338h1.8M919 1339h1.8M919 1341h1.8M919 1342h1.8M920 1239h1.8M920 1269h1.8M920 1272h1.8M920 1276h1.8M920 1277h1.8M920 1326h1.8M920 1328h1.8M920 1329h1.8M920 1331h1.8M920 1335h1.8M920 1337h1.8M920 1338h1.8M920 1339h1.8M920 1340h1.8M920 1342h1.8M920 1343h1.8M920 1346h1.8M920 1348h1.8M920 1351h1.8M921 1272h1.8M921 1276h1.8M921 1283h1.8M921 1284h1.8M921 1292h1.8M921 1328h1.8M921 1329h1.8M921 1330h1.8M921 1332h1.8M921 1333h1.8M921 1334h1.8M921 1335h1.8M921 1336h1.8M921 1337h1.8M921 1338h1.8M921 1339h1.8M921 1340h1.8M921 1341h1.8M921 1343h1.8M921 1344h1.8M921 1345h1.8M922 1268h1.8M922 1269h1.8M922 1273h1.8M922 1274h1.8M922 1284h1.8M922 1288h1.8M922 1325h1.8M922 1328h1.8M922 1329h1.8M922 1330h1.8M922 1331h1.8M922 1334h1.8M922 1335h1.8M922 1336h1.8M922 1337h1.8M922 1339h1.8M922 1340h1.8M922 1345h1.8M923 1263h1.8M923 1283h1.8M923 1330h1.8M923 1331h1.8M923 1332h1.8M923 1333h1.8M923 1334h1.8M923 1335h1.8M923 1336h1.8M923 1337h1.8M923 1338h1.8M923 1339h1.8M923 1340h1.8M923 1341h1.8M923 1342h1.8M923 1344h1.8M923 1345h1.8M923 1346h1.8M923 1347h1.8M923 1354h1.8M924 1273h1.8M924 1275h1.8M924 1278h1.8M924 1281h1.8M924 1283h1.8M924 1325h1.8M924 1326h1.8M924 1330h1.8M924 1333h1.8M924 1334h1.8M924 1335h1.8M924 1337h1.8M924 1339h1.8M924 1340h1.8M924 1342h1.8M924 1343h1.8M924 1344h1.8M924 1345h1.8M924 1346h1.8M924 1347h1.8M925 1255h1.8M925 1269h1.8M925 1275h1.8M925 1284h1.8M925 1324h1.8M925 1328h1.8M925 1330h1.8M925 1331h1.8M925 1332h1.8M925 1333h1.8M925 1334h1.8M925 1335h1.8M925 1336h1.8M925 1337h1.8M925 1338h1.8M925 1339h1.8M925 1341h1.8M925 1342h1.8M925 1343h1.8M926 1274h1.8M926 1275h1.8M926 1276h1.8M926 1278h1.8M926 1283h1.8M926 1284h1.8M926 1291h1.8M926 1292h1.8M926 1308h1.8M926 1327h1.8M926 1329h1.8M926 1331h1.8M926 1333h1.8M926 1334h1.8M926 1335h1.8M926 1336h1.8M926 1337h1.8M926 1338h1.8M926 1339h1.8M926 1340h1.8M926 1341h1.8M926 1344h1.8M927 1252h1.8M927 1269h1.8M927 1277h1.8M927 1285h1.8M927 1323h1.8M927 1325h1.8M927 1330h1.8M927 1332h1.8M927 1333h1.8M927 1334h1.8M927 1335h1.8M927 1336h1.8M927 1337h1.8M927 1338h1.8M927 1339h1.8M927 1340h1.8M927 1341h1.8M927 1342h1.8M927 1343h1.8M927 1344h1.8M928 1265h1.8M928 1266h1.8M928 1269h1.8M928 1275h1.8M928 1281h1.8M928 1282h1.8M928 1285h1.8M928 1290h1.8M928 1326h1.8M928 1327h1.8M928 1328h1.8M928 1329h1.8M928 1330h1.8M928 1331h1.8M928 1332h1.8M928 1334h1.8M928 1335h1.8M928 1336h1.8M928 1338h1.8M928 1339h1.8M928 1340h1.8M928 1341h1.8M928 1343h1.8M928 1344h1.8M928 1348h1.8M929 1218h1.8M929 1272h1.8M929 1277h1.8M929 1294h1.8M929 1312h1.8M929 1323h1.8M929 1327h1.8M929 1328h1.8M929 1329h1.8M929 1331h1.8M929 1333h1.8M929 1334h1.8M929 1335h1.8M929 1336h1.8M929 1337h1.8M929 1338h1.8M929 1339h1.8M929 1341h1.8M929 1342h1.8M929 1344h1.8M929 1345h1.8M929 1346h1.8M929 1347h1.8M930 1264h1.8M930 1266h1.8M930 1269h1.8M930 1271h1.8M930 1273h1.8M930 1274h1.8M930 1280h1.8M930 1286h1.8M930 1288h1.8M930 1291h1.8M930 1292h1.8M930 1327h1.8M930 1329h1.8M930 1330h1.8M930 1333h1.8M930 1334h1.8M930 1335h1.8M930 1336h1.8M930 1337h1.8M930 1338h1.8M930 1339h1.8M930 1340h1.8M930 1341h1.8M930 1342h1.8M930 1344h1.8M930 1346h1.8M930 1347h1.8M931 1267h1.8M931 1268h1.8M931 1269h1.8M931 1272h1.8M931 1274h1.8M931 1283h1.8M931 1284h1.8M931 1327h1.8M931 1328h1.8M931 1329h1.8M931 1330h1.8M931 1331h1.8M931 1332h1.8M931 1333h1.8M931 1335h1.8M931 1336h1.8M931 1337h1.8M931 1338h1.8M931 1339h1.8M931 1340h1.8M931 1342h1.8M931 1345h1.8M931 1346h1.8M932 1264h1.8M932 1269h1.8M932 1270h1.8M932 1273h1.8M932 1282h1.8M932 1284h1.8M932 1288h1.8M932 1327h1.8M932 1328h1.8M932 1331h1.8M932 1332h1.8M932 1334h1.8M932 1335h1.8M932 1336h1.8M932 1337h1.8M932 1338h1.8M932 1339h1.8M932 1340h1.8M932 1341h1.8M932 1342h1.8M932 1344h1.8M932 1345h1.8M932 1348h1.8M932 1354h1.8M933 1265h1.8M933 1270h1.8M933 1271h1.8M933 1280h1.8M933 1281h1.8M933 1283h1.8M933 1294h1.8M933 1296h1.8M933 1326h1.8M933 1327h1.8M933 1329h1.8M933 1330h1.8M933 1331h1.8M933 1332h1.8M933 1333h1.8M933 1334h1.8M933 1335h1.8M933 1336h1.8M933 1337h1.8M933 1338h1.8M933 1339h1.8M933 1340h1.8M933 1341h1.8M933 1342h1.8M933 1343h1.8M933 1344h1.8M933 1346h1.8M933 1347h1.8M933 1348h1.8M934 1248h1.8M934 1262h1.8M934 1268h1.8M934 1269h1.8M934 1270h1.8M934 1272h1.8M934 1277h1.8M934 1284h1.8M934 1285h1.8M934 1289h1.8M934 1290h1.8M934 1292h1.8M934 1326h1.8M934 1329h1.8M934 1330h1.8M934 1331h1.8M934 1332h1.8M934 1334h1.8M934 1335h1.8M934 1336h1.8M934 1337h1.8M934 1338h1.8M934 1339h1.8M934 1340h1.8M934 1341h1.8M934 1342h1.8M934 1344h1.8M934 1345h1.8M935 1265h1.8M935 1267h1.8M935 1274h1.8M935 1276h1.8M935 1279h1.8M935 1281h1.8M935 1285h1.8M935 1288h1.8M935 1300h1.8M935 1326h1.8M935 1327h1.8M935 1329h1.8M935 1330h1.8M935 1333h1.8M935 1334h1.8M935 1335h1.8M935 1336h1.8M935 1337h1.8M935 1338h1.8M935 1339h1.8M935 1340h1.8M935 1341h1.8M935 1342h1.8M935 1343h1.8M935 1348h1.8M936 1259h1.8M936 1269h1.8M936 1273h1.8M936 1274h1.8M936 1275h1.8M936 1278h1.8M936 1279h1.8M936 1283h1.8M936 1285h1.8M936 1288h1.8M936 1292h1.8M936 1320h1.8M936 1325h1.8M936 1329h1.8M936 1331h1.8M936 1332h1.8M936 1333h1.8M936 1334h1.8M936 1335h1.8M936 1336h1.8M936 1337h1.8M936 1338h1.8M936 1339h1.8M936 1340h1.8M936 1341h1.8M936 1342h1.8M936 1343h1.8M936 1344h1.8M936 1345h1.8M936 1346h1.8M937 1260h1.8M937 1268h1.8M937 1269h1.8M937 1275h1.8M937 1276h1.8M937 1277h1.8M937 1288h1.8M937 1290h1.8M937 1299h1.8M937 1325h1.8M937 1327h1.8M937 1329h1.8M937 1332h1.8M937 1333h1.8M937 1334h1.8M937 1335h1.8M937 1336h1.8M937 1337h1.8M937 1338h1.8M937 1339h1.8M937 1340h1.8M937 1341h1.8M937 1342h1.8M937 1343h1.8M937 1344h1.8M937 1345h1.8M938 1260h1.8M938 1265h1.8M938 1266h1.8M938 1268h1.8M938 1270h1.8M938 1273h1.8M938 1275h1.8M938 1278h1.8M938 1279h1.8M938 1280h1.8M938 1295h1.8M938 1296h1.8M938 1297h1.8M938 1302h1.8M938 1329h1.8M938 1331h1.8M938 1334h1.8M938 1335h1.8M938 1336h1.8M938 1337h1.8M938 1339h1.8M938 1340h1.8M938 1341h1.8M938 1342h1.8M938 1344h1.8M938 1345h1.8M938 1346h1.8M938 1347h1.8M938 1352h1.8M939 1265h1.8M939 1270h1.8M939 1271h1.8M939 1272h1.8M939 1273h1.8M939 1274h1.8M939 1275h1.8M939 1276h1.8M939 1279h1.8M939 1281h1.8M939 1286h1.8M939 1325h1.8M939 1327h1.8M939 1330h1.8M939 1331h1.8M939 1333h1.8M939 1334h1.8M939 1335h1.8M939 1336h1.8M939 1337h1.8M939 1338h1.8M939 1339h1.8M939 1340h1.8M939 1341h1.8M939 1342h1.8M939 1343h1.8M939 1345h1.8M939 1346h1.8M939 1347h1.8M940 1257h1.8M940 1260h1.8M940 1262h1.8M940 1272h1.8M940 1283h1.8M940 1285h1.8M940 1290h1.8M940 1327h1.8M940 1328h1.8M940 1329h1.8M940 1330h1.8M940 1331h1.8M940 1332h1.8M940 1333h1.8M940 1334h1.8M940 1336h1.8M940 1337h1.8M940 1339h1.8M940 1340h1.8M940 1341h1.8M940 1342h1.8M940 1344h1.8M940 1345h1.8M940 1346h1.8M940 1349h1.8M941 1258h1.8M941 1261h1.8M941 1267h1.8M941 1268h1.8M941 1272h1.8M941 1274h1.8M941 1277h1.8M941 1278h1.8M941 1285h1.8M941 1287h1.8M941 1294h1.8M941 1324h1.8M941 1326h1.8M941 1328h1.8M941 1329h1.8M941 1331h1.8M941 1332h1.8M941 1333h1.8M941 1334h1.8M941 1335h1.8M941 1336h1.8M941 1337h1.8M941 1339h1.8M941 1340h1.8M941 1341h1.8M941 1342h1.8M941 1343h1.8M941 1344h1.8M941 1345h1.8M941 1349h1.8M942 1270h1.8M942 1272h1.8M942 1273h1.8M942 1275h1.8M942 1276h1.8M942 1280h1.8M942 1281h1.8M942 1284h1.8M942 1285h1.8M942 1298h1.8M942 1321h1.8M942 1323h1.8M942 1326h1.8M942 1329h1.8M942 1330h1.8M942 1332h1.8M942 1333h1.8M942 1335h1.8M942 1336h1.8M942 1338h1.8M942 1339h1.8M942 1340h1.8M942 1342h1.8M942 1348h1.8M942 1353h1.8M943 1263h1.8M943 1264h1.8M943 1265h1.8M943 1269h1.8M943 1270h1.8M943 1274h1.8M943 1276h1.8M943 1279h1.8M943 1280h1.8M943 1281h1.8M943 1288h1.8M943 1293h1.8M943 1311h1.8M943 1324h1.8M943 1328h1.8M943 1330h1.8M943 1331h1.8M943 1333h1.8M943 1334h1.8M943 1335h1.8M943 1336h1.8M943 1337h1.8M943 1338h1.8M943 1339h1.8M943 1340h1.8M943 1341h1.8M943 1342h1.8M944 1261h1.8M944 1269h1.8M944 1271h1.8M944 1275h1.8M944 1277h1.8M944 1278h1.8M944 1280h1.8M944 1287h1.8M944 1290h1.8M944 1330h1.8M944 1331h1.8M944 1332h1.8M944 1333h1.8M944 1334h1.8M944 1335h1.8M944 1336h1.8M944 1338h1.8M944 1339h1.8M944 1340h1.8M944 1341h1.8M944 1342h1.8M944 1343h1.8M944 1344h1.8M944 1345h1.8M945 1266h1.8M945 1267h1.8M945 1273h1.8M945 1274h1.8M945 1275h1.8M945 1276h1.8M945 1279h1.8M945 1294h1.8M945 1322h1.8M945 1323h1.8M945 1325h1.8M945 1326h1.8M945 1327h1.8M945 1328h1.8M945 1329h1.8M945 1330h1.8M945 1331h1.8M945 1333h1.8M945 1334h1.8M945 1336h1.8M945 1337h1.8M945 1338h1.8M945 1339h1.8M945 1340h1.8M945 1341h1.8M945 1345h1.8M945 1348h1.8M946 1268h1.8M946 1269h1.8M946 1270h1.8M946 1271h1.8M946 1276h1.8M946 1277h1.8M946 1279h1.8M946 1286h1.8M946 1295h1.8M946 1299h1.8M946 1326h1.8M946 1327h1.8M946 1330h1.8M946 1331h1.8M946 1332h1.8M946 1333h1.8M946 1334h1.8M946 1335h1.8M946 1337h1.8M946 1338h1.8M946 1339h1.8M946 1340h1.8M946 1343h1.8M946 1345h1.8M946 1347h1.8M946 1356h1.8M947 1257h1.8M947 1262h1.8M947 1273h1.8M947 1275h1.8M947 1278h1.8M947 1280h1.8M947 1281h1.8M947 1284h1.8M947 1323h1.8M947 1324h1.8M947 1325h1.8M947 1327h1.8M947 1330h1.8M947 1331h1.8M947 1332h1.8M947 1333h1.8M947 1334h1.8M947 1336h1.8M947 1337h1.8M947 1338h1.8M947 1342h1.8M947 1343h1.8M947 1346h1.8M948 1262h1.8M948 1263h1.8M948 1267h1.8M948 1270h1.8M948 1272h1.8M948 1274h1.8M948 1275h1.8M948 1281h1.8M948 1282h1.8M948 1290h1.8M948 1293h1.8M948 1318h1.8M948 1323h1.8M948 1326h1.8M948 1328h1.8M948 1331h1.8M948 1332h1.8M948 1334h1.8M948 1335h1.8M948 1336h1.8M948 1337h1.8M948 1338h1.8M948 1339h1.8M948 1340h1.8M948 1341h1.8M948 1342h1.8M948 1344h1.8M948 1347h1.8M949 1260h1.8M949 1267h1.8M949 1271h1.8M949 1272h1.8M949 1273h1.8M949 1276h1.8M949 1280h1.8M949 1283h1.8M949 1286h1.8M949 1292h1.8M949 1320h1.8M949 1328h1.8M949 1330h1.8M949 1331h1.8M949 1332h1.8M949 1333h1.8M949 1334h1.8M949 1335h1.8M949 1336h1.8M949 1337h1.8M949 1338h1.8M949 1339h1.8M949 1340h1.8M949 1341h1.8M949 1342h1.8M949 1343h1.8M949 1345h1.8M949 1346h1.8M949 1349h1.8M950 1257h1.8M950 1270h1.8M950 1271h1.8M950 1274h1.8M950 1281h1.8M950 1285h1.8M950 1286h1.8M950 1289h1.8M950 1324h1.8M950 1328h1.8M950 1329h1.8M950 1330h1.8M950 1332h1.8M950 1333h1.8M950 1334h1.8M950 1335h1.8M950 1336h1.8M950 1337h1.8M950 1338h1.8M950 1339h1.8M950 1341h1.8M950 1342h1.8M950 1343h1.8M950 1344h1.8M950 1346h1.8M951 1271h1.8M951 1274h1.8M951 1275h1.8M951 1279h1.8M951 1285h1.8M951 1321h1.8M951 1327h1.8M951 1329h1.8M951 1331h1.8M951 1333h1.8M951 1334h1.8M951 1335h1.8M951 1336h1.8M951 1338h1.8M951 1339h1.8M951 1341h1.8M951 1343h1.8M951 1346h1.8M951 1347h1.8M952 1265h1.8M952 1271h1.8M952 1282h1.8M952 1284h1.8M952 1288h1.8M952 1321h1.8M952 1323h1.8M952 1324h1.8M952 1331h1.8M952 1332h1.8M952 1333h1.8M952 1334h1.8M952 1335h1.8M952 1336h1.8M952 1338h1.8M952 1340h1.8M952 1341h1.8M952 1342h1.8M952 1343h1.8M953 1268h1.8M953 1270h1.8M953 1271h1.8M953 1276h1.8M953 1288h1.8M953 1324h1.8M953 1329h1.8M953 1331h1.8M953 1332h1.8M953 1333h1.8M953 1335h1.8M953 1336h1.8M953 1337h1.8M953 1340h1.8M953 1341h1.8M953 1342h1.8M953 1347h1.8M954 1258h1.8M954 1269h1.8M954 1272h1.8M954 1273h1.8M954 1274h1.8M954 1301h1.8M954 1320h1.8M954 1326h1.8M954 1328h1.8M954 1330h1.8M954 1332h1.8M954 1333h1.8M954 1334h1.8M954 1336h1.8M954 1338h1.8M954 1347h1.8M955 1270h1.8M955 1273h1.8M955 1285h1.8M955 1320h1.8M955 1321h1.8M955 1322h1.8M955 1328h1.8M955 1330h1.8M955 1332h1.8M955 1334h1.8M955 1335h1.8M955 1337h1.8M955 1338h1.8M955 1339h1.8M955 1341h1.8M955 1345h1.8M955 1346h1.8M956 1275h1.8M956 1281h1.8M956 1291h1.8M956 1331h1.8M956 1336h1.8M956 1338h1.8M956 1340h1.8M956 1341h1.8M957 1267h1.8M957 1271h1.8M957 1272h1.8M957 1275h1.8M957 1303h1.8M957 1330h1.8M957 1332h1.8M957 1335h1.8M957 1336h1.8M957 1338h1.8M957 1349h1.8M957 1350h1.8M958 1265h1.8M958 1279h1.8M958 1290h1.8M958 1338h1.8M958 1340h1.8M958 1341h1.8M958 1345h1.8M958 1346h1.8M958 1350h1.8M959 1262h1.8M959 1265h1.8M959 1277h1.8M959 1278h1.8M959 1286h1.8M959 1326h1.8M959 1330h1.8M959 1333h1.8M959 1334h1.8M959 1339h1.8M959 1341h1.8M959 1342h1.8M960 1282h1.8M960 1287h1.8M960 1326h1.8M960 1335h1.8M960 1345h1.8M961 1267h1.8M961 1329h1.8M961 1334h1.8M961 1335h1.8M961 1336h1.8M961 1341h1.8M962 1217h1.8M962 1282h1.8M962 1284h1.8M962 1330h1.8M962 1332h1.8M962 1338h1.8M962 1339h1.8M963 1261h1.8M963 1272h1.8M963 1282h1.8M963 1289h1.8M963 1323h1.8M963 1329h1.8M963 1342h1.8M964 1280h1.8M964 1288h1.8M964 1328h1.8M964 1333h1.8M964 1344h1.8M965 1334h1.8M965 1338h1.8M965 1341h1.8M965 1345h1.8M966 1272h1.8M966 1277h1.8M966 1332h1.8M966 1334h1.8M967 1257h1.8M967 1270h1.8M967 1322h1.8M967 1336h1.8M967 1337h1.8M967 1340h1.8M968 1288h1.8M968 1327h1.8M969 1288h1.8M970 1333h1.8M970 1336h1.8M971 1276h1.8M972 1336h1.8M973 1287h1.8M973 1342h1.8M974 1338h1.8M975 1331h1.8M978 1278h1.8M978 1331h1.8M979 1285h1.8M988 1338h1.8M992 1325h1.8M996 1270h1.8M1002 1211h1.8M1007 1361h1.8M1014 1270h1.8" stroke="#000" stroke-width="1.8" fill="none"/><rect x="406.5" y="592.3" width="107.1" height="97.5" fill="none" stroke="#000" stroke-width="1.1"/><path d="M406.5 689.8v6M419.3 689.8v6M424.6 689.8v6M429.8 689.8v6M453.9 689.8v6M479.6 689.8v6M503.4 689.8v6M410.5 689.8v3.5M413.5 689.8v3.5M510.5 689.8v3.5M437.05 689.8v3.5M441.3 689.8v3.5M444.31 689.8v3.5M446.65 689.8v3.5M448.55 689.8v3.5M450.17 689.8v3.5M451.56 689.8v3.5M452.8 689.8v3.5M461.64 689.8v3.5M466.16 689.8v3.5M469.37 689.8v3.5M471.86 689.8v3.5M473.9 689.8v3.5M475.62 689.8v3.5M477.11 689.8v3.5M478.42 689.8v3.5M486.76 689.8v3.5M490.96 689.8v3.5M493.93 689.8v3.5M496.24 689.8v3.5M498.12 689.8v3.5M499.71 689.8v3.5M501.09 689.8v3.5M502.31 689.8v3.5M406.5 689.8h-5M406.5 678.15h-5M406.5 673.32h-5M406.5 668.59h-5M406.5 646.65h-5M406.5 623.25h-5M406.5 601.59h-5M406.5 686.16h-3M406.5 683.43h-3M406.5 595.12h-3M406.5 661.98h-3M406.5 658.12h-3M406.5 655.38h-3M406.5 653.25h-3M406.5 651.52h-3M406.5 650.05h-3M406.5 648.77h-3M406.5 647.65h-3M406.5 639.61h-3M406.5 635.49h-3M406.5 632.56h-3M406.5 630.3h-3M406.5 628.44h-3M406.5 626.88h-3M406.5 625.52h-3M406.5 624.32h-3M406.5 616.73h-3M406.5 612.91h-3M406.5 610.21h-3M406.5 608.11h-3M406.5 606.39h-3M406.5 604.94h-3M406.5 603.69h-3M406.5 602.58h-3" stroke="#000" stroke-width=".9" fill="none"/><text x="412.1" y="605.2" font-size="12.2" font-family="Liberation Serif" stroke="#000" stroke-width=".12">3.7</text><text x="510.1" y="605.2" text-anchor="end" font-size="12.2" font-family="Liberation Serif" stroke="#000" stroke-width=".12">0.7 (0.11)</text><text x="510.1" y="686.3" text-anchor="end" font-size="12.2" font-family="Liberation Serif" stroke="#000" stroke-width=".12">1.9</text><path transform="scale(.5)" d="M817 1560h1.8M818 1507h1.8M818 1514h1.8M818 1555h1.8M818 1560h1.8M820 1558h1.8M820 1562h1.8M821 1565h1.8M822 1564h1.8M822 1572h1.8M823 1499h1.8M823 1510h1.8M823 1556h1.8M823 1564h1.8M824 1484h1.8M824 1498h1.8M824 1502h1.8M824 1548h1.8M824 1575h1.8M825 1498h1.8M825 1500h1.8M825 1505h1.8M825 1537h1.8M825 1551h1.8M825 1552h1.8M825 1572h1.8M826 1498h1.8M826 1501h1.8M826 1503h1.8M826 1510h1.8M826 1560h1.8M826 1563h1.8M826 1566h1.8M826 1567h1.8M827 1495h1.8M827 1498h1.8M827 1559h1.8M827 1563h1.8M827 1565h1.8M827 1568h1.8M828 1490h1.8M828 1494h1.8M828 1495h1.8M828 1540h1.8M828 1550h1.8M828 1558h1.8M828 1564h1.8M828 1567h1.8M828 1580h1.8M829 1471h1.8M829 1493h1.8M829 1499h1.8M829 1500h1.8M829 1505h1.8M829 1507h1.8M829 1517h1.8M829 1541h1.8M829 1547h1.8M829 1552h1.8M829 1567h1.8M830 1486h1.8M830 1496h1.8M830 1500h1.8M830 1502h1.8M830 1506h1.8M830 1507h1.8M830 1510h1.8M830 1514h1.8M830 1537h1.8M830 1558h1.8M830 1565h1.8M830 1572h1.8M830 1584h1.8M831 1490h1.8M831 1496h1.8M831 1502h1.8M831 1506h1.8M831 1507h1.8M831 1539h1.8M831 1548h1.8M831 1549h1.8M831 1553h1.8M831 1556h1.8M831 1571h1.8M831 1572h1.8M831 1575h1.8M831 1583h1.8M832 1494h1.8M832 1498h1.8M832 1499h1.8M832 1500h1.8M832 1501h1.8M832 1503h1.8M832 1504h1.8M832 1510h1.8M832 1511h1.8M832 1514h1.8M832 1543h1.8M832 1547h1.8M832 1556h1.8M832 1559h1.8M832 1560h1.8M832 1562h1.8M832 1563h1.8M832 1565h1.8M832 1566h1.8M832 1567h1.8M833 1486h1.8M833 1492h1.8M833 1495h1.8M833 1499h1.8M833 1500h1.8M833 1501h1.8M833 1502h1.8M833 1505h1.8M833 1507h1.8M833 1508h1.8M833 1509h1.8M833 1510h1.8M833 1514h1.8M833 1520h1.8M833 1529h1.8M833 1551h1.8M833 1554h1.8M833 1558h1.8M833 1559h1.8M833 1560h1.8M833 1561h1.8M833 1563h1.8M833 1566h1.8M833 1570h1.8M833 1581h1.8M833 1588h1.8M834 1494h1.8M834 1495h1.8M834 1499h1.8M834 1504h1.8M834 1506h1.8M834 1508h1.8M834 1517h1.8M834 1548h1.8M834 1549h1.8M834 1551h1.8M834 1553h1.8M834 1555h1.8M834 1559h1.8M834 1560h1.8M834 1561h1.8M834 1564h1.8M834 1566h1.8M834 1567h1.8M834 1568h1.8M834 1572h1.8M834 1575h1.8M834 1577h1.8M834 1582h1.8M835 1479h1.8M835 1490h1.8M835 1494h1.8M835 1495h1.8M835 1499h1.8M835 1501h1.8M835 1504h1.8M835 1507h1.8M835 1513h1.8M835 1517h1.8M835 1550h1.8M835 1551h1.8M835 1553h1.8M835 1554h1.8M835 1555h1.8M835 1556h1.8M835 1557h1.8M835 1558h1.8M835 1559h1.8M835 1562h1.8M835 1563h1.8M835 1564h1.8M835 1566h1.8M835 1568h1.8M835 1572h1.8M835 1578h1.8M835 1582h1.8M836 1487h1.8M836 1492h1.8M836 1494h1.8M836 1496h1.8M836 1498h1.8M836 1499h1.8M836 1500h1.8M836 1501h1.8M836 1502h1.8M836 1503h1.8M836 1505h1.8M836 1506h1.8M836 1507h1.8M836 1508h1.8M836 1509h1.8M836 1510h1.8M836 1548h1.8M836 1550h1.8M836 1558h1.8M836 1559h1.8M836 1561h1.8M836 1564h1.8M836 1566h1.8M836 1567h1.8M836 1568h1.8M836 1570h1.8M836 1571h1.8M836 1574h1.8M836 1577h1.8M837 1481h1.8M837 1486h1.8M837 1489h1.8M837 1493h1.8M837 1495h1.8M837 1497h1.8M837 1498h1.8M837 1500h1.8M837 1502h1.8M837 1503h1.8M837 1504h1.8M837 1508h1.8M837 1509h1.8M837 1512h1.8M837 1514h1.8M837 1516h1.8M837 1539h1.8M837 1542h1.8M837 1549h1.8M837 1550h1.8M837 1551h1.8M837 1552h1.8M837 1555h1.8M837 1556h1.8M837 1557h1.8M837 1560h1.8M837 1562h1.8M837 1563h1.8M837 1564h1.8M837 1566h1.8M837 1568h1.8M837 1569h1.8M837 1576h1.8M838 1488h1.8M838 1489h1.8M838 1490h1.8M838 1491h1.8M838 1492h1.8M838 1494h1.8M838 1495h1.8M838 1496h1.8M838 1497h1.8M838 1500h1.8M838 1502h1.8M838 1503h1.8M838 1504h1.8M838 1505h1.8M838 1506h1.8M838 1511h1.8M838 1512h1.8M838 1518h1.8M838 1549h1.8M838 1550h1.8M838 1551h1.8M838 1552h1.8M838 1553h1.8M838 1555h1.8M838 1556h1.8M838 1558h1.8M838 1559h1.8M838 1560h1.8M838 1561h1.8M838 1562h1.8M838 1563h1.8M838 1564h1.8M838 1565h1.8M838 1567h1.8M838 1568h1.8M838 1569h1.8M838 1570h1.8M838 1571h1.8M838 1580h1.8M838 1581h1.8M839 1482h1.8M839 1484h1.8M839 1485h1.8M839 1487h1.8M839 1488h1.8M839 1489h1.8M839 1491h1.8M839 1493h1.8M839 1494h1.8M839 1495h1.8M839 1496h1.8M839 1498h1.8M839 1499h1.8M839 1500h1.8M839 1502h1.8M839 1503h1.8M839 1504h1.8M839 1505h1.8M839 1506h1.8M839 1507h1.8M839 1508h1.8M839 1514h1.8M839 1548h1.8M839 1549h1.8M839 1551h1.8M839 1553h1.8M839 1554h1.8M839 1555h1.8M839 1556h1.8M839 1557h1.8M839 1558h1.8M839 1559h1.8M839 1560h1.8M839 1561h1.8M839 1562h1.8M839 1564h1.8M839 1565h1.8M839 1567h1.8M839 1568h1.8M839 1569h1.8M839 1570h1.8M839 1571h1.8M839 1572h1.8M839 1573h1.8M839 1574h1.8M839 1575h1.8M839 1584h1.8M840 1478h1.8M840 1487h1.8M840 1489h1.8M840 1491h1.8M840 1492h1.8M840 1493h1.8M840 1495h1.8M840 1496h1.8M840 1497h1.8M840 1498h1.8M840 1499h1.8M840 1501h1.8M840 1502h1.8M840 1504h1.8M840 1505h1.8M840 1508h1.8M840 1509h1.8M840 1510h1.8M840 1512h1.8M840 1519h1.8M840 1526h1.8M840 1537h1.8M840 1544h1.8M840 1549h1.8M840 1552h1.8M840 1554h1.8M840 1556h1.8M840 1557h1.8M840 1558h1.8M840 1560h1.8M840 1561h1.8M840 1562h1.8M840 1563h1.8M840 1564h1.8M840 1565h1.8M840 1566h1.8M840 1567h1.8M840 1568h1.8M840 1569h1.8M840 1572h1.8M840 1574h1.8M841 1483h1.8M841 1487h1.8M841 1491h1.8M841 1492h1.8M841 1495h1.8M841 1496h1.8M841 1497h1.8M841 1498h1.8M841 1499h1.8M841 1500h1.8M841 1501h1.8M841 1502h1.8M841 1503h1.8M841 1504h1.8M841 1505h1.8M841 1506h1.8M841 1507h1.8M841 1508h1.8M841 1509h1.8M841 1511h1.8M841 1513h1.8M841 1514h1.8M841 1516h1.8M841 1543h1.8M841 1545h1.8M841 1549h1.8M841 1552h1.8M841 1553h1.8M841 1554h1.8M841 1555h1.8M841 1556h1.8M841 1557h1.8M841 1558h1.8M841 1559h1.8M841 1561h1.8M841 1562h1.8M841 1563h1.8M841 1564h1.8M841 1567h1.8M841 1568h1.8M841 1569h1.8M841 1570h1.8M841 1571h1.8M841 1573h1.8M842 1488h1.8M842 1490h1.8M842 1492h1.8M842 1493h1.8M842 1494h1.8M842 1495h1.8M842 1496h1.8M842 1497h1.8M842 1498h1.8M842 1499h1.8M842 1500h1.8M842 1501h1.8M842 1502h1.8M842 1503h1.8M842 1504h1.8M842 1505h1.8M842 1506h1.8M842 1507h1.8M842 1510h1.8M842 1513h1.8M842 1545h1.8M842 1548h1.8M842 1551h1.8M842 1553h1.8M842 1554h1.8M842 1555h1.8M842 1557h1.8M842 1559h1.8M842 1560h1.8M842 1562h1.8M842 1563h1.8M842 1564h1.8M842 1566h1.8M842 1567h1.8M842 1569h1.8M842 1570h1.8M842 1571h1.8M842 1573h1.8M842 1574h1.8M842 1582h1.8M843 1482h1.8M843 1483h1.8M843 1487h1.8M843 1490h1.8M843 1492h1.8M843 1493h1.8M843 1497h1.8M843 1499h1.8M843 1500h1.8M843 1501h1.8M843 1502h1.8M843 1503h1.8M843 1504h1.8M843 1505h1.8M843 1506h1.8M843 1508h1.8M843 1509h1.8M843 1510h1.8M843 1511h1.8M843 1515h1.8M843 1545h1.8M843 1546h1.8M843 1549h1.8M843 1550h1.8M843 1551h1.8M843 1552h1.8M843 1553h1.8M843 1554h1.8M843 1556h1.8M843 1557h1.8M843 1558h1.8M843 1559h1.8M843 1560h1.8M843 1561h1.8M843 1562h1.8M843 1563h1.8M843 1564h1.8M843 1565h1.8M843 1566h1.8M843 1567h1.8M843 1568h1.8M843 1569h1.8M843 1571h1.8M843 1572h1.8M843 1573h1.8M843 1574h1.8M843 1575h1.8M843 1577h1.8M844 1481h1.8M844 1486h1.8M844 1488h1.8M844 1489h1.8M844 1490h1.8M844 1491h1.8M844 1492h1.8M844 1494h1.8M844 1495h1.8M844 1496h1.8M844 1497h1.8M844 1498h1.8M844 1499h1.8M844 1500h1.8M844 1501h1.8M844 1502h1.8M844 1503h1.8M844 1506h1.8M844 1507h1.8M844 1508h1.8M844 1509h1.8M844 1510h1.8M844 1511h1.8M844 1512h1.8M844 1523h1.8M844 1540h1.8M844 1541h1.8M844 1544h1.8M844 1547h1.8M844 1548h1.8M844 1549h1.8M844 1550h1.8M844 1551h1.8M844 1552h1.8M844 1554h1.8M844 1555h1.8M844 1556h1.8M844 1557h1.8M844 1558h1.8M844 1559h1.8M844 1560h1.8M844 1561h1.8M844 1562h1.8M844 1563h1.8M844 1564h1.8M844 1565h1.8M844 1566h1.8M844 1567h1.8M844 1569h1.8M844 1573h1.8M845 1473h1.8M845 1477h1.8M845 1484h1.8M845 1485h1.8M845 1487h1.8M845 1488h1.8M845 1489h1.8M845 1490h1.8M845 1491h1.8M845 1492h1.8M845 1493h1.8M845 1495h1.8M845 1496h1.8M845 1497h1.8M845 1498h1.8M845 1499h1.8M845 1500h1.8M845 1501h1.8M845 1502h1.8M845 1503h1.8M845 1504h1.8M845 1505h1.8M845 1506h1.8M845 1507h1.8M845 1508h1.8M845 1509h1.8M845 1511h1.8M845 1512h1.8M845 1514h1.8M845 1518h1.8M845 1533h1.8M845 1543h1.8M845 1545h1.8M845 1546h1.8M845 1547h1.8M845 1548h1.8M845 1549h1.8M845 1551h1.8M845 1552h1.8M845 1553h1.8M845 1554h1.8M845 1555h1.8M845 1556h1.8M845 1557h1.8M845 1558h1.8M845 1559h1.8M845 1560h1.8M845 1561h1.8M845 1562h1.8M845 1563h1.8M845 1564h1.8M845 1565h1.8M845 1566h1.8M845 1567h1.8M845 1568h1.8M845 1569h1.8M845 1571h1.8M845 1572h1.8M845 1573h1.8M845 1574h1.8M845 1575h1.8M845 1576h1.8M845 1578h1.8M845 1580h1.8M846 1483h1.8M846 1484h1.8M846 1487h1.8M846 1490h1.8M846 1493h1.8M846 1494h1.8M846 1495h1.8M846 1496h1.8M846 1497h1.8M846 1498h1.8M846 1499h1.8M846 1500h1.8M846 1501h1.8M846 1502h1.8M846 1504h1.8M846 1505h1.8M846 1506h1.8M846 1509h1.8M846 1510h1.8M846 1511h1.8M846 1512h1.8M846 1513h1.8M846 1515h1.8M846 1517h1.8M846 1519h1.8M846 1542h1.8M846 1546h1.8M846 1548h1.8M846 1549h1.8M846 1550h1.8M846 1552h1.8M846 1553h1.8M846 1554h1.8M846 1555h1.8M846 1556h1.8M846 1557h1.8M846 1558h1.8M846 1559h1.8M846 1560h1.8M846 1561h1.8M846 1563h1.8M846 1564h1.8M846 1565h1.8M846 1566h1.8M846 1567h1.8M846 1568h1.8M846 1569h1.8M846 1571h1.8M846 1572h1.8M846 1574h1.8M846 1576h1.8M846 1579h1.8M846 1588h1.8M847 1478h1.8M847 1483h1.8M847 1486h1.8M847 1487h1.8M847 1488h1.8M847 1489h1.8M847 1490h1.8M847 1491h1.8M847 1492h1.8M847 1494h1.8M847 1495h1.8M847 1496h1.8M847 1497h1.8M847 1498h1.8M847 1499h1.8M847 1500h1.8M847 1501h1.8M847 1502h1.8M847 1503h1.8M847 1504h1.8M847 1505h1.8M847 1506h1.8M847 1507h1.8M847 1509h1.8M847 1510h1.8M847 1511h1.8M847 1512h1.8M847 1515h1.8M847 1516h1.8M847 1518h1.8M847 1542h1.8M847 1544h1.8M847 1547h1.8M847 1549h1.8M847 1550h1.8M847 1551h1.8M847 1552h1.8M847 1553h1.8M847 1554h1.8M847 1555h1.8M847 1556h1.8M847 1557h1.8M847 1558h1.8M847 1559h1.8M847 1560h1.8M847 1562h1.8M847 1563h1.8M847 1564h1.8M847 1565h1.8M847 1566h1.8M847 1567h1.8M847 1569h1.8M847 1570h1.8M847 1571h1.8M847 1575h1.8M847 1576h1.8M847 1577h1.8M847 1578h1.8M848 1480h1.8M848 1483h1.8M848 1484h1.8M848 1487h1.8M848 1490h1.8M848 1492h1.8M848 1493h1.8M848 1494h1.8M848 1495h1.8M848 1496h1.8M848 1497h1.8M848 1498h1.8M848 1499h1.8M848 1500h1.8M848 1501h1.8M848 1502h1.8M848 1503h1.8M848 1504h1.8M848 1505h1.8M848 1509h1.8M848 1510h1.8M848 1512h1.8M848 1516h1.8M848 1519h1.8M848 1525h1.8M848 1541h1.8M848 1550h1.8M848 1551h1.8M848 1552h1.8M848 1553h1.8M848 1554h1.8M848 1555h1.8M848 1556h1.8M848 1557h1.8M848 1558h1.8M848 1559h1.8M848 1560h1.8M848 1561h1.8M848 1562h1.8M848 1563h1.8M848 1564h1.8M848 1565h1.8M848 1566h1.8M848 1568h1.8M848 1569h1.8M848 1570h1.8M848 1571h1.8M848 1572h1.8M848 1573h1.8M848 1574h1.8M848 1578h1.8M848 1579h1.8M848 1585h1.8M849 1483h1.8M849 1486h1.8M849 1488h1.8M849 1489h1.8M849 1490h1.8M849 1491h1.8M849 1492h1.8M849 1493h1.8M849 1494h1.8M849 1495h1.8M849 1496h1.8M849 1497h1.8M849 1498h1.8M849 1499h1.8M849 1500h1.8M849 1501h1.8M849 1502h1.8M849 1503h1.8M849 1504h1.8M849 1505h1.8M849 1506h1.8M849 1507h1.8M849 1509h1.8M849 1510h1.8M849 1511h1.8M849 1513h1.8M849 1514h1.8M849 1538h1.8M849 1541h1.8M849 1543h1.8M849 1544h1.8M849 1549h1.8M849 1550h1.8M849 1551h1.8M849 1552h1.8M849 1554h1.8M849 1555h1.8M849 1556h1.8M849 1557h1.8M849 1558h1.8M849 1559h1.8M849 1560h1.8M849 1561h1.8M849 1562h1.8M849 1563h1.8M849 1564h1.8M849 1565h1.8M849 1567h1.8M849 1568h1.8M849 1569h1.8M849 1570h1.8M849 1571h1.8M849 1576h1.8M849 1577h1.8M849 1578h1.8M849 1582h1.8M850 1484h1.8M850 1487h1.8M850 1488h1.8M850 1489h1.8M850 1490h1.8M850 1491h1.8M850 1492h1.8M850 1493h1.8M850 1494h1.8M850 1495h1.8M850 1496h1.8M850 1497h1.8M850 1498h1.8M850 1499h1.8M850 1500h1.8M850 1501h1.8M850 1502h1.8M850 1503h1.8M850 1504h1.8M850 1505h1.8M850 1506h1.8M850 1507h1.8M850 1508h1.8M850 1509h1.8M850 1510h1.8M850 1511h1.8M850 1512h1.8M850 1513h1.8M850 1514h1.8M850 1517h1.8M850 1518h1.8M850 1522h1.8M850 1544h1.8M850 1547h1.8M850 1551h1.8M850 1552h1.8M850 1553h1.8M850 1554h1.8M850 1556h1.8M850 1557h1.8M850 1558h1.8M850 1559h1.8M850 1560h1.8M850 1561h1.8M850 1562h1.8M850 1563h1.8M850 1564h1.8M850 1565h1.8M850 1566h1.8M850 1567h1.8M850 1568h1.8M850 1569h1.8M850 1570h1.8M850 1571h1.8M850 1572h1.8M850 1573h1.8M850 1574h1.8M850 1575h1.8M850 1578h1.8M850 1579h1.8M850 1581h1.8M850 1582h1.8M851 1476h1.8M851 1479h1.8M851 1482h1.8M851 1483h1.8M851 1487h1.8M851 1488h1.8M851 1490h1.8M851 1491h1.8M851 1492h1.8M851 1493h1.8M851 1494h1.8M851 1495h1.8M851 1496h1.8M851 1497h1.8M851 1498h1.8M851 1499h1.8M851 1500h1.8M851 1501h1.8M851 1502h1.8M851 1503h1.8M851 1504h1.8M851 1505h1.8M851 1506h1.8M851 1507h1.8M851 1508h1.8M851 1509h1.8M851 1510h1.8M851 1511h1.8M851 1514h1.8M851 1515h1.8M851 1516h1.8M851 1519h1.8M851 1534h1.8M851 1539h1.8M851 1543h1.8M851 1544h1.8M851 1547h1.8M851 1548h1.8M851 1550h1.8M851 1551h1.8M851 1552h1.8M851 1553h1.8M851 1554h1.8M851 1555h1.8M851 1556h1.8M851 1557h1.8M851 1558h1.8M851 1559h1.8M851 1560h1.8M851 1561h1.8M851 1562h1.8M851 1563h1.8M851 1564h1.8M851 1565h1.8M851 1566h1.8M851 1567h1.8M851 1568h1.8M851 1569h1.8M851 1570h1.8M851 1571h1.8M851 1573h1.8M851 1574h1.8M851 1575h1.8M851 1576h1.8M852 1483h1.8M852 1484h1.8M852 1487h1.8M852 1488h1.8M852 1489h1.8M852 1491h1.8M852 1492h1.8M852 1493h1.8M852 1494h1.8M852 1495h1.8M852 1496h1.8M852 1497h1.8M852 1498h1.8M852 1499h1.8M852 1500h1.8M852 1501h1.8M852 1502h1.8M852 1503h1.8M852 1505h1.8M852 1506h1.8M852 1507h1.8M852 1508h1.8M852 1509h1.8M852 1510h1.8M852 1511h1.8M852 1512h1.8M852 1513h1.8M852 1514h1.8M852 1515h1.8M852 1516h1.8M852 1530h1.8M852 1535h1.8M852 1541h1.8M852 1546h1.8M852 1548h1.8M852 1551h1.8M852 1552h1.8M852 1553h1.8M852 1554h1.8M852 1555h1.8M852 1556h1.8M852 1557h1.8M852 1558h1.8M852 1559h1.8M852 1560h1.8M852 1561h1.8M852 1562h1.8M852 1563h1.8M852 1564h1.8M852 1565h1.8M852 1567h1.8M852 1568h1.8M852 1569h1.8M852 1570h1.8M852 1572h1.8M852 1573h1.8M852 1574h1.8M852 1576h1.8M852 1577h1.8M852 1580h1.8M852 1582h1.8M853 1481h1.8M853 1483h1.8M853 1484h1.8M853 1485h1.8M853 1486h1.8M853 1488h1.8M853 1490h1.8M853 1491h1.8M853 1492h1.8M853 1493h1.8M853 1494h1.8M853 1495h1.8M853 1496h1.8M853 1497h1.8M853 1498h1.8M853 1499h1.8M853 1500h1.8M853 1501h1.8M853 1502h1.8M853 1503h1.8M853 1504h1.8M853 1505h1.8M853 1506h1.8M853 1507h1.8M853 1508h1.8M853 1509h1.8M853 1511h1.8M853 1512h1.8M853 1515h1.8M853 1516h1.8M853 1522h1.8M853 1544h1.8M853 1545h1.8M853 1546h1.8M853 1549h1.8M853 1550h1.8M853 1551h1.8M853 1553h1.8M853 1554h1.8M853 1555h1.8M853 1556h1.8M853 1557h1.8M853 1558h1.8M853 1560h1.8M853 1561h1.8M853 1562h1.8M853 1563h1.8M853 1564h1.8M853 1565h1.8M853 1566h1.8M853 1567h1.8M853 1568h1.8M853 1569h1.8M853 1570h1.8M853 1571h1.8M853 1572h1.8M853 1576h1.8M853 1577h1.8M853 1580h1.8M853 1582h1.8M853 1584h1.8M854 1476h1.8M854 1479h1.8M854 1481h1.8M854 1483h1.8M854 1486h1.8M854 1489h1.8M854 1490h1.8M854 1491h1.8M854 1492h1.8M854 1493h1.8M854 1494h1.8M854 1495h1.8M854 1496h1.8M854 1497h1.8M854 1498h1.8M854 1499h1.8M854 1500h1.8M854 1501h1.8M854 1502h1.8M854 1503h1.8M854 1504h1.8M854 1505h1.8M854 1506h1.8M854 1507h1.8M854 1508h1.8M854 1509h1.8M854 1511h1.8M854 1513h1.8M854 1514h1.8M854 1515h1.8M854 1517h1.8M854 1518h1.8M854 1544h1.8M854 1545h1.8M854 1548h1.8M854 1551h1.8M854 1552h1.8M854 1553h1.8M854 1554h1.8M854 1555h1.8M854 1556h1.8M854 1557h1.8M854 1558h1.8M854 1559h1.8M854 1560h1.8M854 1561h1.8M854 1562h1.8M854 1563h1.8M854 1564h1.8M854 1565h1.8M854 1567h1.8M854 1568h1.8M854 1569h1.8M854 1571h1.8M854 1573h1.8M854 1576h1.8M855 1483h1.8M855 1484h1.8M855 1488h1.8M855 1489h1.8M855 1490h1.8M855 1491h1.8M855 1492h1.8M855 1493h1.8M855 1494h1.8M855 1495h1.8M855 1496h1.8M855 1497h1.8M855 1498h1.8M855 1499h1.8M855 1500h1.8M855 1501h1.8M855 1502h1.8M855 1503h1.8M855 1504h1.8M855 1505h1.8M855 1506h1.8M855 1507h1.8M855 1508h1.8M855 1510h1.8M855 1511h1.8M855 1512h1.8M855 1513h1.8M855 1514h1.8M855 1517h1.8M855 1531h1.8M855 1539h1.8M855 1540h1.8M855 1541h1.8M855 1547h1.8M855 1548h1.8M855 1549h1.8M855 1551h1.8M855 1553h1.8M855 1554h1.8M855 1555h1.8M855 1556h1.8M855 1557h1.8M855 1558h1.8M855 1559h1.8M855 1560h1.8M855 1561h1.8M855 1562h1.8M855 1563h1.8M855 1564h1.8M855 1565h1.8M855 1566h1.8M855 1567h1.8M855 1568h1.8M855 1569h1.8M855 1570h1.8M855 1573h1.8M855 1575h1.8M855 1576h1.8M855 1577h1.8M855 1580h1.8M856 1482h1.8M856 1483h1.8M856 1484h1.8M856 1485h1.8M856 1486h1.8M856 1487h1.8M856 1488h1.8M856 1489h1.8M856 1490h1.8M856 1492h1.8M856 1493h1.8M856 1494h1.8M856 1495h1.8M856 1496h1.8M856 1497h1.8M856 1498h1.8M856 1499h1.8M856 1500h1.8M856 1501h1.8M856 1502h1.8M856 1503h1.8M856 1504h1.8M856 1507h1.8M856 1508h1.8M856 1510h1.8M856 1511h1.8M856 1512h1.8M856 1514h1.8M856 1516h1.8M856 1543h1.8M856 1544h1.8M856 1547h1.8M856 1548h1.8M856 1549h1.8M856 1550h1.8M856 1551h1.8M856 1552h1.8M856 1553h1.8M856 1554h1.8M856 1555h1.8M856 1556h1.8M856 1557h1.8M856 1558h1.8M856 1559h1.8M856 1560h1.8M856 1561h1.8M856 1562h1.8M856 1563h1.8M856 1564h1.8M856 1565h1.8M856 1566h1.8M856 1567h1.8M856 1568h1.8M856 1569h1.8M856 1570h1.8M856 1571h1.8M856 1573h1.8M856 1575h1.8M856 1576h1.8M857 1482h1.8M857 1484h1.8M857 1485h1.8M857 1487h1.8M857 1489h1.8M857 1490h1.8M857 1492h1.8M857 1493h1.8M857 1494h1.8M857 1495h1.8M857 1496h1.8M857 1497h1.8M857 1498h1.8M857 1499h1.8M857 1500h1.8M857 1501h1.8M857 1502h1.8M857 1503h1.8M857 1504h1.8M857 1505h1.8M857 1506h1.8M857 1507h1.8M857 1508h1.8M857 1509h1.8M857 1510h1.8M857 1512h1.8M857 1513h1.8M857 1514h1.8M857 1515h1.8M857 1516h1.8M857 1520h1.8M857 1523h1.8M857 1526h1.8M857 1542h1.8M857 1543h1.8M857 1544h1.8M857 1549h1.8M857 1550h1.8M857 1551h1.8M857 1552h1.8M857 1553h1.8M857 1554h1.8M857 1555h1.8M857 1556h1.8M857 1557h1.8M857 1558h1.8M857 1559h1.8M857 1560h1.8M857 1561h1.8M857 1562h1.8M857 1563h1.8M857 1564h1.8M857 1565h1.8M857 1566h1.8M857 1567h1.8M857 1568h1.8M857 1569h1.8M857 1570h1.8M857 1572h1.8M857 1573h1.8M857 1574h1.8M857 1578h1.8M858 1474h1.8M858 1481h1.8M858 1483h1.8M858 1485h1.8M858 1487h1.8M858 1488h1.8M858 1491h1.8M858 1493h1.8M858 1494h1.8M858 1496h1.8M858 1497h1.8M858 1498h1.8M858 1499h1.8M858 1500h1.8M858 1501h1.8M858 1502h1.8M858 1503h1.8M858 1504h1.8M858 1505h1.8M858 1506h1.8M858 1507h1.8M858 1508h1.8M858 1509h1.8M858 1510h1.8M858 1512h1.8M858 1513h1.8M858 1514h1.8M858 1515h1.8M858 1520h1.8M858 1521h1.8M858 1534h1.8M858 1537h1.8M858 1542h1.8M858 1543h1.8M858 1548h1.8M858 1551h1.8M858 1552h1.8M858 1553h1.8M858 1554h1.8M858 1555h1.8M858 1556h1.8M858 1557h1.8M858 1558h1.8M858 1559h1.8M858 1560h1.8M858 1561h1.8M858 1562h1.8M858 1563h1.8M858 1564h1.8M858 1565h1.8M858 1566h1.8M858 1567h1.8M858 1568h1.8M858 1569h1.8M858 1570h1.8M858 1571h1.8M858 1572h1.8M858 1574h1.8M858 1575h1.8M858 1578h1.8M858 1580h1.8M859 1474h1.8M859 1487h1.8M859 1489h1.8M859 1490h1.8M859 1491h1.8M859 1492h1.8M859 1493h1.8M859 1494h1.8M859 1495h1.8M859 1496h1.8M859 1497h1.8M859 1498h1.8M859 1499h1.8M859 1500h1.8M859 1501h1.8M859 1502h1.8M859 1503h1.8M859 1504h1.8M859 1505h1.8M859 1507h1.8M859 1511h1.8M859 1512h1.8M859 1514h1.8M859 1515h1.8M859 1516h1.8M859 1520h1.8M859 1526h1.8M859 1544h1.8M859 1545h1.8M859 1546h1.8M859 1547h1.8M859 1548h1.8M859 1549h1.8M859 1550h1.8M859 1551h1.8M859 1552h1.8M859 1553h1.8M859 1554h1.8M859 1555h1.8M859 1556h1.8M859 1557h1.8M859 1558h1.8M859 1559h1.8M859 1560h1.8M859 1561h1.8M859 1562h1.8M859 1563h1.8M859 1564h1.8M859 1565h1.8M859 1566h1.8M859 1567h1.8M859 1568h1.8M859 1569h1.8M859 1570h1.8M859 1571h1.8M859 1572h1.8M859 1574h1.8M859 1575h1.8M859 1576h1.8M859 1578h1.8M859 1580h1.8M860 1473h1.8M860 1485h1.8M860 1487h1.8M860 1490h1.8M860 1491h1.8M860 1492h1.8M860 1493h1.8M860 1495h1.8M860 1496h1.8M860 1497h1.8M860 1498h1.8M860 1499h1.8M860 1500h1.8M860 1501h1.8M860 1502h1.8M860 1503h1.8M860 1504h1.8M860 1505h1.8M860 1506h1.8M860 1507h1.8M860 1508h1.8M860 1509h1.8M860 1510h1.8M860 1512h1.8M860 1514h1.8M860 1517h1.8M860 1520h1.8M860 1521h1.8M860 1538h1.8M860 1543h1.8M860 1544h1.8M860 1546h1.8M860 1550h1.8M860 1552h1.8M860 1553h1.8M860 1554h1.8M860 1555h1.8M860 1556h1.8M860 1557h1.8M860 1558h1.8M860 1559h1.8M860 1560h1.8M860 1562h1.8M860 1563h1.8M860 1564h1.8M860 1565h1.8M860 1566h1.8M860 1567h1.8M860 1568h1.8M860 1569h1.8M860 1570h1.8M860 1571h1.8M860 1572h1.8M860 1574h1.8M860 1576h1.8M860 1577h1.8M860 1578h1.8M860 1579h1.8M861 1479h1.8M861 1485h1.8M861 1486h1.8M861 1487h1.8M861 1489h1.8M861 1490h1.8M861 1491h1.8M861 1492h1.8M861 1494h1.8M861 1495h1.8M861 1497h1.8M861 1498h1.8M861 1499h1.8M861 1500h1.8M861 1501h1.8M861 1502h1.8M861 1503h1.8M861 1505h1.8M861 1506h1.8M861 1507h1.8M861 1508h1.8M861 1509h1.8M861 1510h1.8M861 1511h1.8M861 1512h1.8M861 1513h1.8M861 1514h1.8M861 1519h1.8M861 1520h1.8M861 1541h1.8M861 1543h1.8M861 1546h1.8M861 1548h1.8M861 1550h1.8M861 1553h1.8M861 1554h1.8M861 1555h1.8M861 1556h1.8M861 1557h1.8M861 1558h1.8M861 1559h1.8M861 1560h1.8M861 1561h1.8M861 1562h1.8M861 1563h1.8M861 1564h1.8M861 1565h1.8M861 1566h1.8M861 1567h1.8M861 1568h1.8M861 1569h1.8M861 1571h1.8M861 1572h1.8M861 1573h1.8M861 1574h1.8M861 1575h1.8M861 1577h1.8M861 1579h1.8M861 1582h1.8M862 1481h1.8M862 1484h1.8M862 1485h1.8M862 1486h1.8M862 1487h1.8M862 1488h1.8M862 1490h1.8M862 1491h1.8M862 1492h1.8M862 1493h1.8M862 1494h1.8M862 1495h1.8M862 1496h1.8M862 1498h1.8M862 1499h1.8M862 1500h1.8M862 1502h1.8M862 1503h1.8M862 1504h1.8M862 1505h1.8M862 1506h1.8M862 1508h1.8M862 1509h1.8M862 1510h1.8M862 1513h1.8M862 1515h1.8M862 1525h1.8M862 1545h1.8M862 1548h1.8M862 1549h1.8M862 1550h1.8M862 1551h1.8M862 1552h1.8M862 1553h1.8M862 1554h1.8M862 1555h1.8M862 1556h1.8M862 1557h1.8M862 1558h1.8M862 1559h1.8M862 1560h1.8M862 1561h1.8M862 1562h1.8M862 1563h1.8M862 1564h1.8M862 1565h1.8M862 1566h1.8M862 1567h1.8M862 1568h1.8M862 1569h1.8M862 1570h1.8M862 1572h1.8M862 1573h1.8M862 1574h1.8M862 1575h1.8M863 1482h1.8M863 1484h1.8M863 1488h1.8M863 1490h1.8M863 1492h1.8M863 1493h1.8M863 1494h1.8M863 1496h1.8M863 1497h1.8M863 1498h1.8M863 1499h1.8M863 1500h1.8M863 1501h1.8M863 1502h1.8M863 1503h1.8M863 1504h1.8M863 1505h1.8M863 1506h1.8M863 1507h1.8M863 1508h1.8M863 1509h1.8M863 1510h1.8M863 1511h1.8M863 1512h1.8M863 1514h1.8M863 1515h1.8M863 1516h1.8M863 1543h1.8M863 1544h1.8M863 1545h1.8M863 1548h1.8M863 1549h1.8M863 1550h1.8M863 1551h1.8M863 1552h1.8M863 1553h1.8M863 1554h1.8M863 1555h1.8M863 1556h1.8M863 1557h1.8M863 1558h1.8M863 1559h1.8M863 1560h1.8M863 1561h1.8M863 1562h1.8M863 1563h1.8M863 1564h1.8M863 1565h1.8M863 1566h1.8M863 1567h1.8M863 1568h1.8M863 1571h1.8M863 1573h1.8M863 1574h1.8M863 1575h1.8M863 1576h1.8M863 1579h1.8M863 1581h1.8M863 1582h1.8M864 1478h1.8M864 1485h1.8M864 1487h1.8M864 1489h1.8M864 1490h1.8M864 1491h1.8M864 1492h1.8M864 1493h1.8M864 1494h1.8M864 1496h1.8M864 1497h1.8M864 1498h1.8M864 1499h1.8M864 1500h1.8M864 1501h1.8M864 1502h1.8M864 1503h1.8M864 1504h1.8M864 1506h1.8M864 1507h1.8M864 1508h1.8M864 1509h1.8M864 1510h1.8M864 1511h1.8M864 1512h1.8M864 1514h1.8M864 1515h1.8M864 1516h1.8M864 1517h1.8M864 1545h1.8M864 1546h1.8M864 1548h1.8M864 1551h1.8M864 1552h1.8M864 1553h1.8M864 1554h1.8M864 1555h1.8M864 1556h1.8M864 1558h1.8M864 1559h1.8M864 1560h1.8M864 1561h1.8M864 1562h1.8M864 1563h1.8M864 1564h1.8M864 1565h1.8M864 1566h1.8M864 1567h1.8M864 1568h1.8M864 1569h1.8M864 1571h1.8M864 1573h1.8M864 1577h1.8M864 1580h1.8M864 1582h1.8M864 1585h1.8M865 1480h1.8M865 1482h1.8M865 1485h1.8M865 1491h1.8M865 1492h1.8M865 1493h1.8M865 1494h1.8M865 1495h1.8M865 1496h1.8M865 1497h1.8M865 1498h1.8M865 1499h1.8M865 1501h1.8M865 1502h1.8M865 1503h1.8M865 1504h1.8M865 1506h1.8M865 1507h1.8M865 1508h1.8M865 1509h1.8M865 1510h1.8M865 1511h1.8M865 1512h1.8M865 1514h1.8M865 1517h1.8M865 1518h1.8M865 1519h1.8M865 1532h1.8M865 1543h1.8M865 1545h1.8M865 1548h1.8M865 1549h1.8M865 1550h1.8M865 1551h1.8M865 1552h1.8M865 1554h1.8M865 1556h1.8M865 1557h1.8M865 1558h1.8M865 1559h1.8M865 1561h1.8M865 1562h1.8M865 1563h1.8M865 1564h1.8M865 1567h1.8M865 1568h1.8M865 1569h1.8M865 1570h1.8M865 1571h1.8M865 1573h1.8M865 1574h1.8M865 1575h1.8M865 1576h1.8M865 1583h1.8M866 1482h1.8M866 1483h1.8M866 1487h1.8M866 1488h1.8M866 1489h1.8M866 1490h1.8M866 1491h1.8M866 1492h1.8M866 1493h1.8M866 1494h1.8M866 1495h1.8M866 1496h1.8M866 1497h1.8M866 1498h1.8M866 1499h1.8M866 1500h1.8M866 1501h1.8M866 1502h1.8M866 1503h1.8M866 1504h1.8M866 1505h1.8M866 1508h1.8M866 1509h1.8M866 1510h1.8M866 1511h1.8M866 1513h1.8M866 1517h1.8M866 1522h1.8M866 1523h1.8M866 1538h1.8M866 1542h1.8M866 1544h1.8M866 1546h1.8M866 1549h1.8M866 1550h1.8M866 1551h1.8M866 1552h1.8M866 1553h1.8M866 1554h1.8M866 1556h1.8M866 1557h1.8M866 1558h1.8M866 1559h1.8M866 1560h1.8M866 1561h1.8M866 1562h1.8M866 1563h1.8M866 1564h1.8M866 1565h1.8M866 1567h1.8M866 1568h1.8M866 1569h1.8M866 1570h1.8M866 1571h1.8M866 1575h1.8M866 1576h1.8M867 1451h1.8M867 1483h1.8M867 1487h1.8M867 1490h1.8M867 1492h1.8M867 1493h1.8M867 1494h1.8M867 1495h1.8M867 1497h1.8M867 1498h1.8M867 1500h1.8M867 1501h1.8M867 1502h1.8M867 1503h1.8M867 1504h1.8M867 1505h1.8M867 1506h1.8M867 1507h1.8M867 1508h1.8M867 1509h1.8M867 1510h1.8M867 1511h1.8M867 1512h1.8M867 1514h1.8M867 1517h1.8M867 1531h1.8M867 1549h1.8M867 1550h1.8M867 1553h1.8M867 1554h1.8M867 1555h1.8M867 1556h1.8M867 1557h1.8M867 1558h1.8M867 1559h1.8M867 1560h1.8M867 1561h1.8M867 1562h1.8M867 1563h1.8M867 1564h1.8M867 1566h1.8M867 1568h1.8M867 1571h1.8M868 1476h1.8M868 1479h1.8M868 1485h1.8M868 1490h1.8M868 1491h1.8M868 1492h1.8M868 1493h1.8M868 1495h1.8M868 1497h1.8M868 1498h1.8M868 1499h1.8M868 1500h1.8M868 1503h1.8M868 1504h1.8M868 1505h1.8M868 1507h1.8M868 1508h1.8M868 1510h1.8M868 1513h1.8M868 1523h1.8M868 1541h1.8M868 1542h1.8M868 1549h1.8M868 1550h1.8M868 1553h1.8M868 1554h1.8M868 1556h1.8M868 1557h1.8M868 1559h1.8M868 1560h1.8M868 1561h1.8M868 1563h1.8M868 1564h1.8M868 1565h1.8M868 1566h1.8M868 1567h1.8M868 1572h1.8M868 1575h1.8M869 1484h1.8M869 1485h1.8M869 1486h1.8M869 1487h1.8M869 1488h1.8M869 1490h1.8M869 1492h1.8M869 1493h1.8M869 1494h1.8M869 1495h1.8M869 1496h1.8M869 1497h1.8M869 1499h1.8M869 1501h1.8M869 1502h1.8M869 1504h1.8M869 1507h1.8M869 1508h1.8M869 1509h1.8M869 1510h1.8M869 1516h1.8M869 1520h1.8M869 1543h1.8M869 1545h1.8M869 1546h1.8M869 1549h1.8M869 1550h1.8M869 1554h1.8M869 1556h1.8M869 1557h1.8M869 1559h1.8M869 1561h1.8M869 1562h1.8M869 1563h1.8M869 1567h1.8M869 1573h1.8M869 1574h1.8M869 1578h1.8M869 1580h1.8M870 1482h1.8M870 1483h1.8M870 1486h1.8M870 1489h1.8M870 1490h1.8M870 1491h1.8M870 1495h1.8M870 1496h1.8M870 1497h1.8M870 1499h1.8M870 1500h1.8M870 1501h1.8M870 1502h1.8M870 1504h1.8M870 1505h1.8M870 1506h1.8M870 1508h1.8M870 1512h1.8M870 1534h1.8M870 1543h1.8M870 1544h1.8M870 1546h1.8M870 1549h1.8M870 1551h1.8M870 1552h1.8M870 1554h1.8M870 1557h1.8M870 1558h1.8M870 1559h1.8M870 1560h1.8M870 1564h1.8M870 1565h1.8M870 1566h1.8M870 1567h1.8M870 1575h1.8M871 1481h1.8M871 1492h1.8M871 1494h1.8M871 1495h1.8M871 1496h1.8M871 1498h1.8M871 1499h1.8M871 1500h1.8M871 1501h1.8M871 1502h1.8M871 1503h1.8M871 1504h1.8M871 1505h1.8M871 1507h1.8M871 1509h1.8M871 1510h1.8M871 1511h1.8M871 1513h1.8M871 1527h1.8M871 1540h1.8M871 1542h1.8M871 1546h1.8M871 1549h1.8M871 1551h1.8M871 1553h1.8M871 1554h1.8M871 1557h1.8M871 1558h1.8M871 1559h1.8M871 1562h1.8M871 1566h1.8M871 1568h1.8M871 1569h1.8M871 1572h1.8M871 1573h1.8M871 1576h1.8M872 1481h1.8M872 1486h1.8M872 1487h1.8M872 1490h1.8M872 1491h1.8M872 1493h1.8M872 1494h1.8M872 1495h1.8M872 1496h1.8M872 1499h1.8M872 1500h1.8M872 1502h1.8M872 1503h1.8M872 1504h1.8M872 1505h1.8M872 1506h1.8M872 1507h1.8M872 1509h1.8M872 1510h1.8M872 1515h1.8M872 1516h1.8M872 1540h1.8M872 1543h1.8M872 1545h1.8M872 1553h1.8M872 1556h1.8M872 1557h1.8M872 1560h1.8M872 1561h1.8M872 1562h1.8M872 1563h1.8M872 1565h1.8M872 1566h1.8M872 1568h1.8M872 1571h1.8M872 1574h1.8M872 1579h1.8M873 1482h1.8M873 1488h1.8M873 1492h1.8M873 1493h1.8M873 1494h1.8M873 1495h1.8M873 1497h1.8M873 1498h1.8M873 1500h1.8M873 1502h1.8M873 1505h1.8M873 1507h1.8M873 1509h1.8M873 1510h1.8M873 1512h1.8M873 1516h1.8M873 1543h1.8M873 1552h1.8M873 1555h1.8M873 1556h1.8M873 1557h1.8M873 1558h1.8M873 1562h1.8M873 1563h1.8M873 1567h1.8M873 1569h1.8M873 1570h1.8M873 1574h1.8M873 1578h1.8M874 1494h1.8M874 1495h1.8M874 1501h1.8M874 1502h1.8M874 1504h1.8M874 1505h1.8M874 1507h1.8M874 1508h1.8M874 1513h1.8M874 1514h1.8M874 1540h1.8M874 1548h1.8M874 1549h1.8M874 1556h1.8M874 1558h1.8M874 1559h1.8M874 1561h1.8M874 1562h1.8M874 1563h1.8M874 1564h1.8M874 1565h1.8M874 1567h1.8M874 1568h1.8M874 1569h1.8M874 1575h1.8M874 1577h1.8M874 1581h1.8M875 1486h1.8M875 1494h1.8M875 1497h1.8M875 1498h1.8M875 1500h1.8M875 1501h1.8M875 1503h1.8M875 1504h1.8M875 1506h1.8M875 1509h1.8M875 1510h1.8M875 1512h1.8M875 1515h1.8M875 1520h1.8M875 1539h1.8M875 1541h1.8M875 1549h1.8M875 1553h1.8M875 1554h1.8M875 1559h1.8M875 1560h1.8M875 1561h1.8M875 1564h1.8M875 1567h1.8M875 1574h1.8M876 1491h1.8M876 1496h1.8M876 1498h1.8M876 1499h1.8M876 1503h1.8M876 1504h1.8M876 1509h1.8M876 1512h1.8M876 1514h1.8M876 1516h1.8M876 1547h1.8M876 1550h1.8M876 1554h1.8M876 1559h1.8M876 1560h1.8M876 1561h1.8M876 1568h1.8M876 1572h1.8M876 1573h1.8M876 1577h1.8M876 1579h1.8M877 1489h1.8M877 1495h1.8M877 1500h1.8M877 1502h1.8M877 1503h1.8M877 1507h1.8M877 1511h1.8M877 1516h1.8M877 1550h1.8M877 1554h1.8M877 1555h1.8M877 1559h1.8M877 1562h1.8M877 1564h1.8M877 1568h1.8M877 1569h1.8M877 1581h1.8M878 1489h1.8M878 1493h1.8M878 1494h1.8M878 1495h1.8M878 1496h1.8M878 1503h1.8M878 1506h1.8M878 1509h1.8M878 1510h1.8M878 1515h1.8M878 1550h1.8M878 1554h1.8M878 1555h1.8M878 1556h1.8M878 1562h1.8M878 1564h1.8M878 1570h1.8M879 1497h1.8M879 1503h1.8M879 1506h1.8M879 1508h1.8M879 1510h1.8M879 1516h1.8M879 1550h1.8M879 1562h1.8M879 1566h1.8M880 1480h1.8M880 1494h1.8M880 1497h1.8M880 1498h1.8M880 1499h1.8M880 1506h1.8M880 1509h1.8M880 1512h1.8M880 1550h1.8M880 1553h1.8M880 1560h1.8M880 1567h1.8M881 1478h1.8M881 1485h1.8M881 1494h1.8M881 1495h1.8M881 1496h1.8M881 1503h1.8M881 1552h1.8M881 1554h1.8M881 1572h1.8M882 1494h1.8M882 1503h1.8M882 1505h1.8M882 1509h1.8M882 1548h1.8M882 1551h1.8M882 1555h1.8M882 1558h1.8M882 1559h1.8M882 1564h1.8M882 1569h1.8M883 1495h1.8M883 1547h1.8M883 1552h1.8M883 1565h1.8M883 1567h1.8M883 1569h1.8M884 1483h1.8M884 1494h1.8M884 1505h1.8M884 1562h1.8M885 1486h1.8M885 1489h1.8M885 1497h1.8M885 1500h1.8M885 1505h1.8M885 1515h1.8M885 1572h1.8M886 1492h1.8M886 1495h1.8M886 1505h1.8M886 1521h1.8M886 1551h1.8M886 1565h1.8M886 1568h1.8M886 1593h1.8M887 1500h1.8M887 1554h1.8M887 1561h1.8M887 1565h1.8M887 1577h1.8M888 1509h1.8M888 1513h1.8M888 1546h1.8M888 1558h1.8M888 1564h1.8M888 1567h1.8M889 1482h1.8M889 1492h1.8M889 1552h1.8M889 1558h1.8M889 1560h1.8M889 1567h1.8M890 1499h1.8M890 1503h1.8M890 1550h1.8M890 1558h1.8M891 1502h1.8M891 1510h1.8M891 1557h1.8M891 1558h1.8M891 1562h1.8M892 1502h1.8M892 1553h1.8M892 1564h1.8M894 1485h1.8M894 1496h1.8M895 1485h1.8M895 1496h1.8M896 1502h1.8M897 1555h1.8M898 1493h1.8M898 1558h1.8M898 1563h1.8M899 1503h1.8M900 1504h1.8M900 1557h1.8M900 1558h1.8M901 1498h1.8M901 1500h1.8M901 1510h1.8M901 1515h1.8M901 1552h1.8M901 1567h1.8M901 1570h1.8M903 1556h1.8M904 1550h1.8M904 1560h1.8M905 1515h1.8M905 1561h1.8M905 1567h1.8M906 1509h1.8M906 1565h1.8M907 1513h1.8M907 1570h1.8M908 1485h1.8M909 1495h1.8M909 1502h1.8M909 1511h1.8M909 1557h1.8M910 1500h1.8M910 1513h1.8M911 1483h1.8M911 1509h1.8M911 1562h1.8M911 1563h1.8M911 1565h1.8M912 1552h1.8M912 1555h1.8M913 1493h1.8M913 1561h1.8M913 1566h1.8M914 1489h1.8M914 1561h1.8M914 1564h1.8M915 1497h1.8M915 1503h1.8M915 1513h1.8M915 1515h1.8M915 1557h1.8M916 1437h1.8M916 1494h1.8M916 1508h1.8M917 1485h1.8M917 1548h1.8M917 1556h1.8M917 1567h1.8M918 1509h1.8M918 1568h1.8M919 1493h1.8M919 1496h1.8M919 1500h1.8M919 1503h1.8M919 1551h1.8M919 1556h1.8M919 1558h1.8M919 1565h1.8M919 1566h1.8M919 1567h1.8M919 1569h1.8M920 1489h1.8M920 1510h1.8M920 1547h1.8M920 1550h1.8M921 1492h1.8M921 1501h1.8M921 1506h1.8M921 1562h1.8M921 1564h1.8M921 1569h1.8M922 1493h1.8M922 1565h1.8M922 1577h1.8M923 1489h1.8M923 1497h1.8M923 1500h1.8M923 1507h1.8M923 1550h1.8M923 1551h1.8M923 1555h1.8M923 1566h1.8M924 1479h1.8M924 1488h1.8M924 1496h1.8M924 1499h1.8M924 1516h1.8M924 1557h1.8M925 1497h1.8M925 1504h1.8M925 1567h1.8M925 1569h1.8M925 1580h1.8M926 1491h1.8M926 1496h1.8M926 1501h1.8M926 1507h1.8M926 1546h1.8M926 1554h1.8M926 1561h1.8M927 1487h1.8M927 1491h1.8M927 1493h1.8M927 1501h1.8M927 1508h1.8M927 1511h1.8M927 1548h1.8M927 1550h1.8M927 1553h1.8M927 1556h1.8M927 1558h1.8M927 1564h1.8M927 1566h1.8M927 1567h1.8M927 1571h1.8M928 1491h1.8M928 1497h1.8M928 1498h1.8M928 1499h1.8M928 1505h1.8M928 1508h1.8M928 1544h1.8M928 1558h1.8M928 1559h1.8M928 1560h1.8M929 1489h1.8M929 1490h1.8M929 1491h1.8M929 1493h1.8M929 1494h1.8M929 1498h1.8M929 1500h1.8M929 1505h1.8M929 1506h1.8M929 1507h1.8M929 1510h1.8M929 1544h1.8M929 1546h1.8M929 1556h1.8M929 1557h1.8M929 1560h1.8M929 1563h1.8M929 1568h1.8M929 1569h1.8M930 1478h1.8M930 1487h1.8M930 1491h1.8M930 1492h1.8M930 1494h1.8M930 1495h1.8M930 1496h1.8M930 1497h1.8M930 1498h1.8M930 1502h1.8M930 1504h1.8M930 1505h1.8M930 1508h1.8M930 1540h1.8M930 1544h1.8M930 1550h1.8M930 1551h1.8M930 1554h1.8M930 1555h1.8M930 1556h1.8M930 1559h1.8M930 1560h1.8M930 1562h1.8M930 1564h1.8M930 1565h1.8M930 1566h1.8M930 1577h1.8M931 1473h1.8M931 1477h1.8M931 1492h1.8M931 1493h1.8M931 1494h1.8M931 1496h1.8M931 1497h1.8M931 1499h1.8M931 1500h1.8M931 1502h1.8M931 1503h1.8M931 1549h1.8M931 1556h1.8M931 1558h1.8M931 1559h1.8M931 1560h1.8M931 1561h1.8M931 1562h1.8M931 1565h1.8M931 1567h1.8M931 1572h1.8M932 1482h1.8M932 1488h1.8M932 1490h1.8M932 1491h1.8M932 1495h1.8M932 1496h1.8M932 1497h1.8M932 1499h1.8M932 1500h1.8M932 1501h1.8M932 1507h1.8M932 1514h1.8M932 1543h1.8M932 1549h1.8M932 1554h1.8M932 1555h1.8M932 1556h1.8M932 1557h1.8M932 1559h1.8M932 1562h1.8M932 1563h1.8M932 1566h1.8M933 1483h1.8M933 1484h1.8M933 1485h1.8M933 1492h1.8M933 1493h1.8M933 1494h1.8M933 1496h1.8M933 1497h1.8M933 1498h1.8M933 1499h1.8M933 1501h1.8M933 1507h1.8M933 1512h1.8M933 1526h1.8M933 1549h1.8M933 1550h1.8M933 1551h1.8M933 1553h1.8M933 1555h1.8M933 1560h1.8M933 1562h1.8M933 1564h1.8M933 1565h1.8M933 1569h1.8M933 1571h1.8M933 1573h1.8M934 1485h1.8M934 1489h1.8M934 1490h1.8M934 1494h1.8M934 1495h1.8M934 1496h1.8M934 1497h1.8M934 1498h1.8M934 1500h1.8M934 1502h1.8M934 1503h1.8M934 1539h1.8M934 1540h1.8M934 1544h1.8M934 1549h1.8M934 1553h1.8M934 1554h1.8M934 1555h1.8M934 1557h1.8M934 1561h1.8M934 1563h1.8M934 1571h1.8M934 1572h1.8M935 1478h1.8M935 1483h1.8M935 1488h1.8M935 1493h1.8M935 1494h1.8M935 1496h1.8M935 1497h1.8M935 1498h1.8M935 1500h1.8M935 1501h1.8M935 1544h1.8M935 1545h1.8M935 1546h1.8M935 1547h1.8M935 1550h1.8M935 1554h1.8M935 1556h1.8M935 1557h1.8M935 1559h1.8M935 1560h1.8M935 1562h1.8M935 1563h1.8M935 1564h1.8M935 1565h1.8M935 1569h1.8M935 1570h1.8M936 1479h1.8M936 1486h1.8M936 1489h1.8M936 1492h1.8M936 1493h1.8M936 1496h1.8M936 1498h1.8M936 1499h1.8M936 1508h1.8M936 1509h1.8M936 1513h1.8M936 1535h1.8M936 1547h1.8M936 1549h1.8M936 1551h1.8M936 1553h1.8M936 1555h1.8M936 1556h1.8M936 1557h1.8M936 1558h1.8M936 1559h1.8M936 1560h1.8M936 1561h1.8M936 1562h1.8M936 1564h1.8M936 1571h1.8M936 1576h1.8M937 1483h1.8M937 1485h1.8M937 1490h1.8M937 1493h1.8M937 1497h1.8M937 1500h1.8M937 1502h1.8M937 1504h1.8M937 1506h1.8M937 1546h1.8M937 1552h1.8M937 1553h1.8M937 1554h1.8M937 1556h1.8M937 1559h1.8M937 1561h1.8M937 1562h1.8M937 1563h1.8M937 1569h1.8M937 1576h1.8M938 1483h1.8M938 1484h1.8M938 1490h1.8M938 1492h1.8M938 1496h1.8M938 1498h1.8M938 1500h1.8M938 1502h1.8M938 1507h1.8M938 1511h1.8M938 1532h1.8M938 1538h1.8M938 1540h1.8M938 1550h1.8M938 1552h1.8M938 1553h1.8M938 1554h1.8M938 1555h1.8M938 1557h1.8M938 1558h1.8M938 1559h1.8M938 1562h1.8M938 1566h1.8M938 1567h1.8M938 1568h1.8M938 1571h1.8M938 1573h1.8M939 1477h1.8M939 1485h1.8M939 1489h1.8M939 1490h1.8M939 1495h1.8M939 1496h1.8M939 1497h1.8M939 1499h1.8M939 1500h1.8M939 1504h1.8M939 1511h1.8M939 1541h1.8M939 1547h1.8M939 1551h1.8M939 1552h1.8M939 1553h1.8M939 1554h1.8M939 1555h1.8M939 1559h1.8M939 1560h1.8M939 1561h1.8M939 1564h1.8M939 1566h1.8M940 1482h1.8M940 1487h1.8M940 1489h1.8M940 1490h1.8M940 1494h1.8M940 1497h1.8M940 1498h1.8M940 1500h1.8M940 1502h1.8M940 1503h1.8M940 1504h1.8M940 1509h1.8M940 1513h1.8M940 1550h1.8M940 1551h1.8M940 1553h1.8M940 1556h1.8M940 1561h1.8M940 1563h1.8M940 1567h1.8M940 1572h1.8M940 1574h1.8M941 1485h1.8M941 1496h1.8M941 1545h1.8M941 1547h1.8M941 1550h1.8M941 1553h1.8M941 1557h1.8M941 1559h1.8M941 1563h1.8M942 1483h1.8M942 1487h1.8M942 1492h1.8M942 1493h1.8M942 1494h1.8M942 1496h1.8M942 1497h1.8M942 1498h1.8M942 1499h1.8M942 1501h1.8M942 1540h1.8M942 1554h1.8M942 1556h1.8M942 1557h1.8M942 1558h1.8M942 1559h1.8M942 1563h1.8M942 1564h1.8M943 1484h1.8M943 1495h1.8M943 1503h1.8M943 1548h1.8M943 1553h1.8M943 1555h1.8M943 1559h1.8M943 1561h1.8M943 1567h1.8M943 1581h1.8M944 1467h1.8M944 1488h1.8M944 1489h1.8M944 1490h1.8M944 1496h1.8M944 1499h1.8M944 1500h1.8M944 1549h1.8M944 1552h1.8M944 1555h1.8M944 1563h1.8M944 1566h1.8M944 1567h1.8M945 1441h1.8M945 1487h1.8M945 1494h1.8M945 1497h1.8M945 1502h1.8M945 1540h1.8M945 1548h1.8M945 1550h1.8M945 1554h1.8M945 1558h1.8M945 1561h1.8M945 1562h1.8M945 1569h1.8M945 1570h1.8M945 1571h1.8M945 1572h1.8M946 1488h1.8M946 1493h1.8M946 1495h1.8M946 1504h1.8M946 1510h1.8M946 1547h1.8M946 1552h1.8M946 1553h1.8M946 1556h1.8M946 1563h1.8M947 1494h1.8M947 1495h1.8M947 1496h1.8M947 1497h1.8M947 1500h1.8M947 1516h1.8M947 1542h1.8M947 1557h1.8M947 1560h1.8M947 1573h1.8M948 1483h1.8M948 1485h1.8M948 1500h1.8M948 1501h1.8M948 1508h1.8M948 1547h1.8M948 1555h1.8M948 1566h1.8M949 1488h1.8M949 1498h1.8M949 1557h1.8M949 1579h1.8M950 1487h1.8M950 1504h1.8M950 1523h1.8M950 1553h1.8M950 1557h1.8M950 1562h1.8M950 1567h1.8M951 1483h1.8M951 1491h1.8M951 1504h1.8M951 1556h1.8M951 1558h1.8M951 1576h1.8M952 1491h1.8M952 1503h1.8M952 1551h1.8M952 1559h1.8M953 1485h1.8M953 1501h1.8M953 1504h1.8M953 1507h1.8M953 1548h1.8M953 1561h1.8M954 1545h1.8M954 1552h1.8M957 1564h1.8M960 1542h1.8M960 1558h1.8M961 1563h1.8M963 1473h1.8M963 1576h1.8M965 1605h1.8M971 1539h1.8M992 1524h1.8M996 1502h1.8M1002 1507h1.8" stroke="#000" stroke-width="1.8" fill="none"/><rect x="406.5" y="710.8" width="107.1" height="97.5" fill="none" stroke="#000" stroke-width="1.1"/><path d="M406.5 808.3v6M419.3 808.3v6M424.6 808.3v6M429.8 808.3v6M453.9 808.3v6M479.6 808.3v6M503.4 808.3v6M410.5 808.3v3.5M413.5 808.3v3.5M510.5 808.3v3.5M437.05 808.3v3.5M441.3 808.3v3.5M444.31 808.3v3.5M446.65 808.3v3.5M448.55 808.3v3.5M450.17 808.3v3.5M451.56 808.3v3.5M452.8 808.3v3.5M461.64 808.3v3.5M466.16 808.3v3.5M469.37 808.3v3.5M471.86 808.3v3.5M473.9 808.3v3.5M475.62 808.3v3.5M477.11 808.3v3.5M478.42 808.3v3.5M486.76 808.3v3.5M490.96 808.3v3.5M493.93 808.3v3.5M496.24 808.3v3.5M498.12 808.3v3.5M499.71 808.3v3.5M501.09 808.3v3.5M502.31 808.3v3.5M406.5 808.3h-5M406.5 796.65h-5M406.5 791.82h-5M406.5 787.09h-5M406.5 765.15h-5M406.5 741.75h-5M406.5 720.09h-5M406.5 804.66h-3M406.5 801.93h-3M406.5 713.62h-3M406.5 780.48h-3M406.5 776.62h-3M406.5 773.88h-3M406.5 771.75h-3M406.5 770.02h-3M406.5 768.55h-3M406.5 767.27h-3M406.5 766.15h-3M406.5 758.11h-3M406.5 753.99h-3M406.5 751.06h-3M406.5 748.8h-3M406.5 746.94h-3M406.5 745.38h-3M406.5 744.02h-3M406.5 742.82h-3M406.5 735.23h-3M406.5 731.41h-3M406.5 728.71h-3M406.5 726.61h-3M406.5 724.89h-3M406.5 723.44h-3M406.5 722.19h-3M406.5 721.08h-3" stroke="#000" stroke-width=".9" fill="none"/><text x="412.1" y="723.7" font-size="12.2" font-family="Liberation Serif" stroke="#000" stroke-width=".12">45.5</text><text x="510.1" y="723.7" text-anchor="end" font-size="12.2" font-family="Liberation Serif" stroke="#000" stroke-width=".12">6.1 (7.02)</text><text x="510.1" y="803.7" text-anchor="end" font-size="12.2" font-family="Liberation Serif" stroke="#000" stroke-width=".12">7.5</text><path d="M55.6 592.2V677.3M55.6 727.6V823.8H89.4M143.5 823.8H179.3" stroke="#000" stroke-width="1.4" fill="none"/><path d="M52.2 595.6L55.6 592.1L59 595.6M175.1 820.3L178.9 823.8L175.1 827.3" stroke="#000" stroke-width="1.4" fill="none"/><text transform="translate(59.6,702.45) rotate(-90)" text-anchor="middle" font-size="15.5" font-family="Liberation Serif" stroke="#000" stroke-width=".12">Ly49A</text><text x="143.8" y="828.2" text-anchor="end" font-size="15.5" font-family="Liberation Serif" stroke="#000" stroke-width=".12">Ly49G2</text><path d="M222.3 592.2V655.6M222.3 745.5V823.8H256.5M310.4 823.8H346.3" stroke="#000" stroke-width="1.4" fill="none"/><path d="M218.9 595.6L222.3 592.1L225.7 595.6M342.1 820.3L345.9 823.8L342.1 827.3" stroke="#000" stroke-width="1.4" fill="none"/><text transform="translate(228,700.55) rotate(-90)" text-anchor="middle" font-size="15.5" font-family="Liberation Serif" stroke="#000" stroke-width=".12">NKG2A/C/E</text><text x="310.7" y="828.2" text-anchor="end" font-size="15.5" font-family="Liberation Serif" stroke="#000" stroke-width=".12">Ly49G2</text><path d="M389.8 592.2V655.6M389.8 745.5V823.8H432.9M477.6 823.8H513.3" stroke="#000" stroke-width="1.4" fill="none"/><path d="M386.4 595.6L389.8 592.1L393.2 595.6M509.1 820.3L512.9 823.8L509.1 827.3" stroke="#000" stroke-width="1.4" fill="none"/><text transform="translate(395.4,700.55) rotate(-90)" text-anchor="middle" font-size="15.5" font-family="Liberation Serif" stroke="#000" stroke-width=".12">NKG2A/C/E</text><text x="477.9" y="828.2" text-anchor="end" font-size="15.5" font-family="Liberation Serif" stroke="#000" stroke-width=".12">Ly49A</text><text transform="translate(18.2,641.8) rotate(-90)" text-anchor="middle" font-size="12.5" font-family="Liberation Serif" stroke="#000" stroke-width=".12">CD8<tspan font-style="italic">αα</tspan> iIEL</text><text transform="translate(18.4,766.6) rotate(-90)" text-anchor="middle" font-size="11.9" font-family="Liberation Serif" stroke="#000" stroke-width=".12">spleen NK</text></svg></body></html>
